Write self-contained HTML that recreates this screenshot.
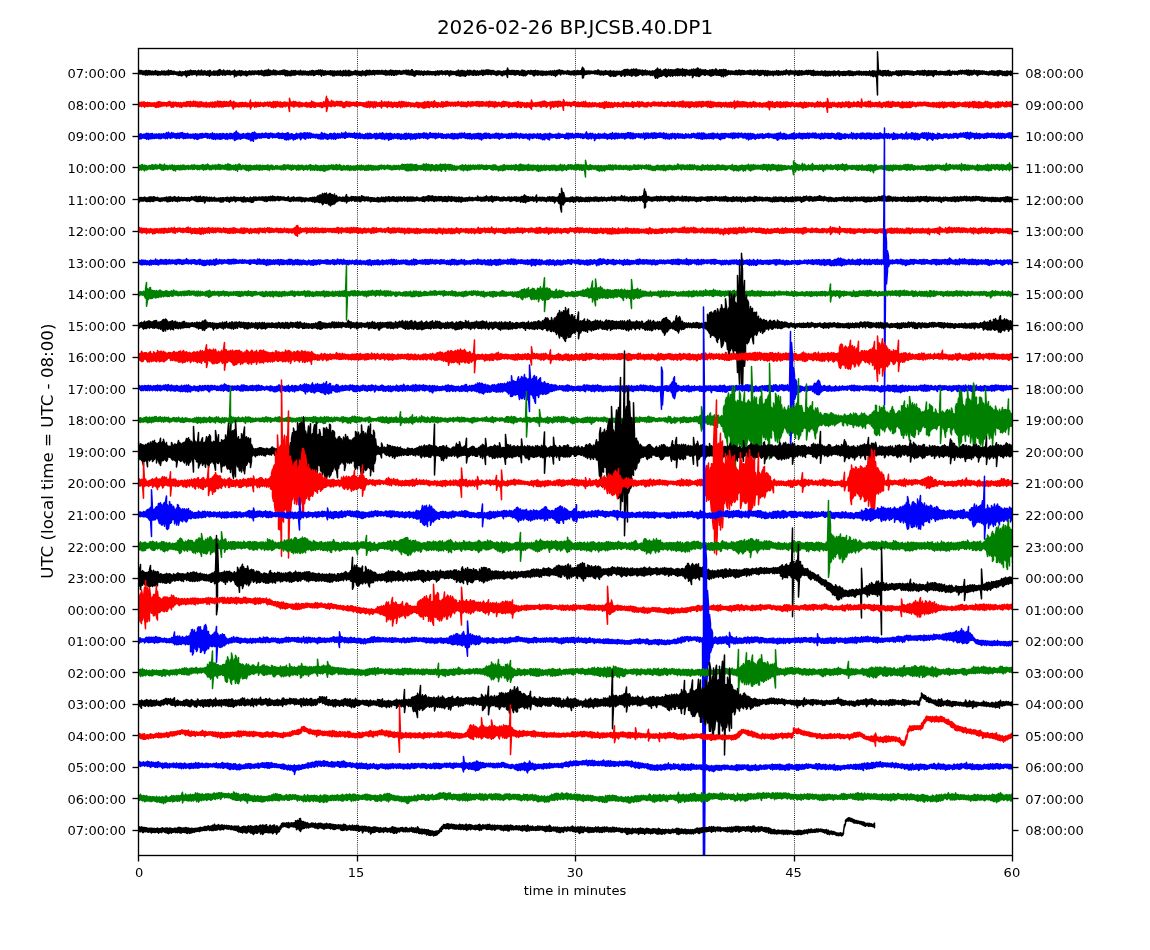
<!DOCTYPE html>
<html lang="en"><head><meta charset="utf-8"><title>2026-02-26 BP.JCSB.40.DP1</title>
<style>html,body{margin:0;padding:0;background:#fff}body{width:1150px;height:950px;overflow:hidden}svg{display:block;will-change:transform}text{font-family:"DejaVu Sans","Liberation Sans",sans-serif;fill:#000}.tk{font-size:13.05px}.tr{fill:none;stroke-width:1.5;stroke-linejoin:round;stroke-linecap:round}.ln{stroke:#000;stroke-width:1.35}</style></head><body>
<svg width="1150" height="950" viewBox="0 0 1150 950">
<rect width="1150" height="950" fill="#fff"/>
<line x1="357.5" x2="357.5" y1="48.5" y2="855.5" stroke="#000" stroke-width="0.9" stroke-dasharray="0.9 1.2"/>
<line x1="575.5" x2="575.5" y1="48.5" y2="855.5" stroke="#000" stroke-width="0.9" stroke-dasharray="0.9 1.2"/>
<line x1="794.5" x2="794.5" y1="48.5" y2="855.5" stroke="#000" stroke-width="0.9" stroke-dasharray="0.9 1.2"/>
<clipPath id="ax"><rect x="138.5" y="48.5" width="874.0" height="807.0"/></clipPath>
<g clip-path="url(#ax)">
<path class="tr" stroke="#000000" d="M138.5,70.3v4.1l1-.7v-3.1l1-.1v3.6l1-.3v-3.2l1 .6v3.2l1 .2v-3.6l1 .3v2.9l1 .9v-4.4l1-.3v4.4l1 .3v-4.1l1-.4v3.7l1 .4v-3.9l1 .1v3.6l1 .3v-3.3l1-.4v3.4l1 .3v-3.1l1-.4v3.3l1-.2v-3.8l1 1v2.9l1 .7v-4l1 .2v3.7l1-.6v-2.9l1 .3v3l1-.3v-3.5l1 .2v3.3l1 .1v-3.4l1-.2v3.7l1 .3v-3.4l1-.6v3.5l1 .1v-3.2l1-1.4v4.9l1-.4v-3.5l1-.5v3.7l1 0v-3.6l1 .9v2.6l1 .2v-3.1l1 0v2.8l1 .2v-2.2l1-.1v2.7l1 0v-2.6l1 .1v3.2l1-.1v-4.1l1 .7v3.5l1 .5v-3.8l1-.3v3.6l1-.9v-2.6l1-.1v2.9l1 .7v-4.4l1 .6v5.3l1-2.1v-3.7l1 0v4.2l1 0v-4.3l1-.8v4.3l1 .3v-4.2l1 .3v3.8l1-.4v-3.6l1 .3v3.4l1-.3v-3.4l1 .8v4.2l1-1.3v-3.1l1-.9v4.3l1 0v-3.7l1-.1v4.2l1-.7v-4.3l1 1.6v3.4l1-.2v-3.8l1-.3v3.6l1 .4v-3.7l1 .7v3.5l1-.2v-4l1 .1v3.6l1 1.5v-5.9l1 .4v4.5l1-.4v-3l1 0v2.8l1 .2v-3.8l1 .1v4l1-.1v-3.9l1 .1v3.1l1 1v-4.3l1-.8v4.7l1 .2v-5.6l1 .4v4.5l1-.2v-3.4l1 0v4.3l1-.9v-4.3l1 1.1v3.9l1 .1v-3.8l1-.3v3.6l1-.3v-3.8l1 .6v3.4l1 0v-4l1 1.1v3.4l1-.8v-2.8l1-.3v3l1 .5v-3.2l1-1.2v6.7l1-2v-3.8l1 .5v4.3l1-1.1v-3.6l1 0v3.9l1-.2v-4.3l1 .8v4.3l1-.4v-4.5l1 .3v3.6l1 0v-3.1l1 .2v3l1 .4v-4.1l1 .3v4.5l1-.5v-3.5l1-.5v3l1 0v-3.6l1 .6v3.4l1 0v-3.6l1-.1v3l1 .5v-3.3l1-.3v3.4l1-.8v-2.6l1 .5v2.7l1-.1v-3.1l1-.2v4l1-.3v-3.4l1 0v3l1 .8v-4.6l1 .8v3.6l1 .9v-4.3l1-.7v5.1l1-.4v-4.9l1-.2v5l1 .3v-5l1-1.1v5.9l1 0v-4.9l1 .2v4.3l1-.3v-3.7l1 .2v3.4l1-.1v-4.4l1 .6v4.1l1 0v-4.3l1 .8v3.6l1-.8v-2.8l1 .2v2.8l1 .3v-3.6l1 .2v3.4l1-.5v-3.2l1-.4v4l1-.1v-4.1l1-.1v4.7l1 .9v-5.2l1 .2v4.4l1 .7v-5l1 .5v3.9l1 .3v-4.1l1-.1v4.4l1-.4v-4.7l1 .7v3.6l1 .1v-4.4l1 .3v4.1l1 0v-4.4l1 .8v2.8l1-.4v-2.4l1-.4v3.6l1 .2v-3.4l1-1.1v4.2l1 .2v-3.4l1 0v3.7l1-.4v-3.5l1 .1v3.6l1-.2v-3.5l1 .5v3.3l1-.1v-3.3l1 .2v3.5l1-.6v-3.7l1 .6v3.2l1 .3v-4.2l1-.2v3.9l1 .9v-4.7l1 .6v4l1-.8v-3.5l1-.4v3.6l1 0v-3.1l1-1v4.6l1-.3v-3.8l1-.6v4.6l1 1.5v-5.2l1-.7v3.9l1 1.1v-4.2l1 0v4.1l1-.5v-3.9l1 .9v3.1l1-.5v-3l1 0v3.2l1-.2v-2.9l1-.6v4.3l1-.2v-3.8l1 .1v4.6l1 .1v-4.5l1-.2v4.7l1-1.3v-3l1-.3v4.1l1-.2v-4l1 .1v3.8l1-.1v-3.6l1-.7v4.8l1-.2v-3.6l1-.4v4.8l1-.9v-4.6l1 1v3.7l1 .3v-5.2l1 .9v4.5l1-.6v-3.8l1-.9v5.3l1 0v-5.2l1 1.3v3.6l1-.6v-3.3l1 .4v3.1l1-.8v-2.6l1-.5v3.5l1 0v-4l1 .6v3.8l1-.2v-3.9l1 .8v3.4l1 .1v-3.6l1 0v3.7l1 .5v-4.2l1-.8v3.7l1 .5v-3.4l1-.1v3.1l1 1.1v-4.6l1-.7v4.8l1-.6v-4.2l1 .5v3.8l1 0v-4.5l1 .7v3.6l1-.1v-3.2l1-.5v3.8l1-.4v-3.5l1 .2v4.1l1-1.1v-3l1 0v3.1l1 .4v-3.7l1 .1v3.3l1 0v-3.4l1 .5v2.9l1-.1v-3.4l1-.1v3.6l1 .3v-3.3l1-.1v3.5l1 .6v-4.8l1 .9v3.9l1-.3v-3.8l1 0v3.7l1 .4v-4.2l1-.8v4.1l1 1v-4.5l1-.2v3.9l1 1v-4.6l1 .2v4.4l1-1.1v-3.8l1 .6v3.9l1-.7v-3.4l1 .2v2.9l1-.1v-3.2l1 .5v3.2l1 0v-3.1l1-.1v3l1-.5v-3.1l1 .5v2.8l1 0v-3.3l1-.3v4.3l1 0v-3.8l1-.5v4.3l1 .5v-4.1l1 .2v3.7l1 .2v-5.3l1 .3v5l1 .7v-4.5l1 .4v4.6l1-.6v-4.7l1-.2v3.9l1-.6v-2.9l1 0v3.6l1-.1v-3.6l1 .5v3.5l1-1v-2.9l1 1v2.7l1 .6v-3.9l1-.4v3.5l1 0v-2.9l1-.3v3.4l1-.3v-3.5l1 .3v3.2l1 .2v-3.1l1 0v2.8l1 .4v-3.1l1 .1v2.9l1-.3v-2.7l1 .1v3.1l1 .5v-4.2l1 .6v2.9l1-.2v-3.8l1 1.1v3.2l1-.5v-3.5l1 .3v2.8l1-.1v-3.2l1 .4v3.5l1-.8v-2.2l1-.5v3l1 .6v-3.8l1-.1v3.4l1-.3v-3.3l1 .8v3.1l1 1.4v-4.6l1-.6v4l1-.1v-3.5l1 .2v2.9l1 .1v-2.9l1 .5v2.3l1 .4v-3l1-.6v4.4l1-.2v-4l1-1.2v5.4l1 .4v-4.6l1-.4v5.3l1-.6v-5.2l1 .1v5.1l1 .1v-4.7l1-.1v5.2l1 .1v-4.7l1-.3v4.1l1-.9v-4.2l1 .6v4.1l1 .2v-4.5l1-.1v3.9l1 .3v-3.7l1 .5v3.5l1 .3v-4.7l1 0v4l1 .5v-4.1l1 .5v3.8l1-1v-3.5l1 1v3.5l1-1.1v-3.3l1 .4v3.3l1-.6v-3.7l1 .2v4.9l1-.3v-4.8l1 .3v4l1-.1v-4.1l1-.6v4l1 .6v-4.3l1 0v4.5l1-.7v-3.6l1 .2v4.1l1 .1v-3.9l1-.2v3.4l1 .2v-3.7l1 .8v3.1l1 .5v-3.3l1 0v3.9l1-.9v-3.5l1 0v3.6l1-.6v-3.2l1 .5v2.9l1 1.2v-4l1 .2v4.1l1-1.5v-3.4l1 .4v3.5l1-.5v-3.2l1-.9v3.9l1 3.3v-9.3l1 2.8v3.2l1 .1v-3.8l1 .6v3.5l1 0v-4l1-.1v3.8l1 .2v-4l1 .3v4.3l1-.1v-4l1-.3v3.9l1-.4v-3.3l1 0v3.3l1 1v-3.8l1 .1v3.5l1 .3v-5l1 .1v5l1 .5v-5.2l1 .1v4.5l1 .4v-4.3l1 .2v3.4l1-.8v-3.2l1-.2v2.9l1 .3v-2.7l1-.7v3.8l1-.4v-3.3l1 .4v3.4l1 1.2v-4.9l1 0v5l1-1.1v-4.4l1 1v3.5l1 .5v-4.5l1 .2v4l1-.5v-3.1l1-.1v3.9l1 0v-4.1l1 .4v4.2l1-.7v-3.6l1 .1v3.2l1 .6v-3.5l1-.4v3.6l1-.1v-3.2l1-.3v3.3l1 .2v-3.3l1-.6v3.5l1 .8v-3.9l1-.5v3.7l1 .8v-3.7l1-1.1v4.1l1 1.9v-4.9l1-1.1v4.8l1-.6v-4.3l1-.1v3.4l1 0v-4l1 1.3v3.9l1-1.2v-3.3l1 .3v2.9l1 .6v-3.3l1 .5v2.4l1-.3v-2.2l1 .2v2.7l1-.6v-3l1 .6v3l1 .3v-3.4l1 .5v3.1l1 .1v-3.5l1-.1v2.9l1 .8v-3.9l1-.2v4.3l1-.7v-3.2l1-.1v3.6l1-.3v-3.9l1 .4v3.7l1-.3v-3.3l1-.2v3.5l1 .1v-4l1-3.1v10.8l1-.6v-9.3l1 2.8v3.9l1-.6v-3.1l1-.2v3.2l1-.1v-3.1l1 .1v2.6l1 .2v-3l1 .4v2.5l1-.5v-2.2l1 .3v2l1-.1v-2.1l1-.1v2.9l1-.3v-3l1 .4v2.9l1 .2v-4l1-.2v3.7l1 .9v-3.6l1 .5v3.6l1-.5v-3.7l1 .7v3l1 .6v-3.9l1 0v3.2l1 0v-3.9l1 .5v3.1l1 0v-2.9l1 0v3.4l1 1.1v-4.7l1-.5v5.8l1-.5v-4.4l1-.2v4.1l1 .8v-5.3l1 .6v4.5l1 .2v-4.7l1-.2v4.1l1-1v-3.1l1 .1v3l1-.1v-3.1l1 .4v4.1l1 .4v-4.9l1-.3v4.1l1-.2v-4.7l1-.5v6.7l1-.6v-6l1-.1v5.1l1 .5v-6l1 .9v4.6l1 .6v-5l1-.3v4.7l1 1.4v-6.8l1 .6v5.8l1-1v-5.8l1 .9v5.1l1 1.1v-6.6l1-.4v6.9l1-.3v-5.7l1 0v5.3l1-.9v-4.4l1 .3v3.7l1 .9v-3.7l1-1v5.3l1-.8v-3.8l1 0v4l1-.2v-4.7l1 1.9v3.3l1-.9v-3.4l1 .7v3l1 .3v-3.8l1 .5v3.9l1-.6v-3.4l1-.6v4.6l1-.9v-3.4l1-.3v5.2l1 2.3v-8.2l1-.7v8.1l1 .7v-10.2l1 2v7l1-.4v-6.9l1-.4v6.9l1 0v-5.2l1 0v4.5l1-.5v-5.1l1-.3v5.7l1 1v-7.3l1 1.1v6.9l1-.8v-5.4l1-1.4v5.7l1 .5v-5.2l1-.7v6.5l1-1.5v-5l1 .3v6.3l1-1v-5.3l1-.1v5l1 .9v-6.1l1-.5v5.8l1 .7v-7l1 .7v5.8l1 .2v-6.2l1 .3v5.5l1 .1v-4.8l1-1.7v7.4l1-1.1v-5.2l1-.3v6.3l1 .2v-5.9l1-.5v5l1 .2v-4.5l1 .4v4.2l1 .7v-5.6l1 .5v4.7l1 0v-5.8l1 .7v7.7l1-2v-6.8l1 1v5.2l1 .5v-6.2l1-.4v7.1l1-.3v-7.8l1 .6v7.6l1 .2v-6.5l1-.8v6.5l1-1.2v-4.3l1-.1v4.2l1 .4v-4.7l1 .2v5.1l1 0v-5.4l1 .8v3.4l1 .7v-4.1l1 .3v3.8l1 .7v-5.4l1 .2v5.9l1-.2v-6l1-.3v5.8l1-.2v-5.1l1 .2v4.4l1 .1v-5.8l1 .5v5.8l1-.2v-4.7l1 .4v4.5l1 0v-5.6l1 .3v5.1l1 1.4v-6.8l1 .7v4.6l1 1.8v-7.5l1 .5v5.1l1 1v-6.4l1 .9v4.7l1-.1v-3.9l1-.5v3.6l1-.1v-2.9l1-.1v3.6l1-.7v-3l1 .2v3.1l1-.1v-3l1 .3v3l1 .1v-3.8l1-.3v3.9l1 .5v-3.9l1-.7v3.7l1 .5v-4.4l1 1v3.9l1-.4v-4.2l1 .1v3.7l1 .2v-3.7l1 0v3.6l1-.3v-2.6l1-.1v2.6l1 0v-3.1l1 .2v3l1 .5v-4.1l1-.2v4.1l1 .1v-3.8l1 .6v3.9l1-.5v-4.2l1-.1v4.6l1-.6v-3.7l1 .5v3l1 .4v-4.4l1 .7v4.1l1 .6v-4.6l1-.4v4.8l1-.5v-4l1-.3v3.6l1 .2v-3.8l1 .9v4.3l1-.9v-4.3l1 1.3v3.5l1 .4v-5l1 .3v3.8l1 .3v-3.7l1-.1v3.6l1-.1v-3.2l1-.3v3.6l1 .9v-4.3l1-.2v3l1 .5v-2.9l1-1.3v3.8l1 .6v-3.5l1-.8v4.5l1-.4v-3.5l1 .1v3.7l1-1.1v-2.7l1 .2v3.4l1-.3v-3.7l1 0v3.2l1 .5v-3.8l1-.9v3.9l1 0v-2.7l1-.1v3.7l1 .2v-3.7l1-.8v3.7l1-.1v-2.9l1-.1v3.1l1-.1v-2.9l1 .3v4.1l1-1v-3.9l1 .8v2.9l1 .9v-4.3l1 .1v4.3l1-.3v-4.4l1 .6v3.3l1 .5v-4.2l1 .2v3.7l1-.3v-2.9l1-.3v3.3l1-.5v-3.1l1-.5v3.8l1 .5v-3.8l1-.5v3.8l1-.3v-3.1l1-.3v4.1l1 .5v-4.2l1-.2v4.4l1 .5v-5.3l1 .9v3.8l1 .2v-3.8l1 .1v3.4l1 .2v-3.8l1 .4v3.2l1 .2v-3.3l1-.2v3.6l1-.3v-4l1 .5v3.6l1 .6v-3.6l1-1v3.9l1 1v-5l1 1v3.6l1 .2v-4.2l1-.1v4.3l1-.8v-3.6l1 .3v4.1l1-.9v-3.2l1-.2v3.1l1 1.4v-4.6l1-.2v3.3l1 1.1v-4.1l1 .4v2.9l1-.1v-3.3l1-.5v4.1l1 1.2v-4.8l1 .5v3.3l1-.6v-2.8l1 .1v3.8l1-.3v-3.9l1 0v3.8l1 .2v-3.7l1-.2v3.6l1-.3v-3.4l1-.5v4l1 .6v-4.4l1 0v4.1l1 .1v-3.8l1 0v3.9l1 0v-3.3l1-.3v2.8l1 .5v-3l1-.8v3.3l1-.1v-3l1-.2v3.4l1 .2v-3.8l1 .7v2.8l1 .5v-3.6l1 .6v2.4l1 .5v-3.4l1 .1v3l1 .5v-3.7l1-.1v3.9l1-.7v-2.9l1 .2v3.3l1-.3v-4.2l1 1.2v3.9l1-.2v-4.1l1-.7v5.2l1 .6v-5.6l1 .1v4l1 1.4v-5l1-.2v4l1 19.7v-43.3l1 19.9v3.2l1-.2v-4.1l1-.1v4.6l1 .3v-3.6l1-.9v5.2l1-.5v-4.7l1 0v4l1 .6v-4.8l1 .3v4.9l1-1v-4.1l1-.1v5.1l1 0v-3.9l1-.3v3.7l1 .7v-3.6l1-.5v2.9l1-.1v-2.5l1-.2v2.6l1-.2v-2.6l1-.8v4l1 .4v-4.1l1-.2v4.7l1-.3v-4l1-.7v4.3l1 .7v-4.2l1-.6v3.8l1-.4v-3.3l1-.2v4.3l1-.7v-3.3l1 0v3.1l1 .1v-3.6l1 .4v3.2l1 .5v-3.7l1 .1v3.4l1 .3v-3.6l1 0v3.5l1 .5v-3.5l1 0v2.9l1-.3v-2.6l1-.6v3.5l1-.5v-3.4l1 .1v3.2l1 .8v-4l1 .1v3.8l1-.1v-3.7l1-.4v4.1l1 .6v-4.2l1-.7v4.6l1-.8v-3.5l1 .7v4.4l1-.5v-4.1l1-.7v4.9l1-.4v-3.9l1 0v4l1-.4v-3.9l1 .3v4.3l1 1v-5.4l1-.3v4.3l1-.9v-3.3l1 0v4l1-.6v-2.3l1-.3v3.1l1 .1v-3.4l1-.2v3.4l1-.2v-2.9l1-.1v2.8l1 .5v-3l1-.2v3.3l1 .3v-3.6l1 0v3.3l1 .3v-4.1l1-.4v3.6l1 1.1v-5.1l1 1.8v3.2l1-.2v-3.4l1-.5v3l1-.3v-2.1l1-.4v3.3l1-.3v-2.8l1 0v2.7l1 .7v-3.1l1-1v3.2l1-.1v-3l1-.5v2.9l1 .8v-3.3l1-.4v2.8l1 .4v-2.6l1-.4v3.5l1 0v-3.1l1-.9v3.9l1 .9v-4.2l1-.7v4.8l1 .6v-4.4l1-.5v3.8l1 .6v-4.4l1 .9v3.3l1-.6v-3.7l1-.2v3.4l1 .6v-3l1-.6v3.8l1 1.3v-4.7l1-.3v4.1l1-.5v-3.5l1 .2v3.2l1-.4v-2.5l1-.4v3.5l1-.5v-2.7l1 0v2.9l1 .1v-2.4l1-.3v2.9l1 0v-2.4l1 .1v2.9l1-.5v-3.2l1 .4v2.8l1 0v-3.8l1 .3v3.8l1 .1v-3.9l1 .2v4.1l1-.2v-3.6l1-.2v3.3l1 1.1v-4.9l1 .2v4.5l1-1v-4.1l1 .5v3.4l1 .2v-3.5l1 .5v3.9l1-.3v-3.3l1-.2v3.8l1 0v-3.5l1-.8v4.4l1 0v-4.4l1 .3v3.2l1-.3v-2.6l1-.7v4.4l1-.3v-3.6l1 .3v2.9"/>
<path class="tr" stroke="#ff0000" d="M138.5,102.1v4.1l1 0v-3.7l1-.1v3.2l1 1.1v-4.4l1-.1v3.9l1 .2v-4.3l1-.1v5.3l1-1.2v-3.3l1 0v3.6l1 .2v-4.2l1 .5v3.4l1-.1v-3.5l1 .3v3.4l1-.1v-3.1l1-.1v3l1 .2v-3.2l1-.2v3.6l1 .8v-3.9l1-.8v4.9l1-.4v-4.9l1-.3v5.4l1-.5v-5l1 .6v4.2l1-.5v-3.7l1 .3v3.5l1-.4v-3.2l1-.1v3.3l1-.4v-2.5l1-.1v3.7l1-.8v-3.3l1-.5v3.9l1-.1v-4.2l1 .9v3.7l1 1.2v-4.7l1 0v4.4l1 .2v-5.1l1 .8v3.1l1-.1v-3.6l1 .4v4l1-.1v-3.6l1-.4v3.1l1 1.4v-3.8l1-.7v4.2l1 .7v-4.3l1 0v3.6l1-.7v-3.4l1-.1v3.6l1 .4v-3.6l1-1v4.7l1-.6v-4.2l1-.1v3.7l1 1.1v-4.6l1-.6v5.4l1-.7v-3.8l1-.3v4.4l1-.1v-5.1l1 1v3.7l1 .7v-4.9l1 .6v4l1 .6v-4.9l1 .6v4.5l1-.3v-4.8l1 .1v4.8l1-.6v-4.4l1 .9v3.4l1 .7v-4.2l1 .5v3.5l1 .3v-4.5l1-.1v4.8l1-.3v-3.5l1-.4v3.8l1 .5v-4.2l1-.7v4.1l1 .4v-4l1-.8v5.3l1-.8v-3.7l1-.6v5.1l1-.6v-4.9l1 .5v4.5l1-1.1v-4.7l1 .6v5.3l1-.2v-5.2l1 .1v5l1 .4v-5.2l1 .3v4.5l1 .4v-5.3l1-.1v4.7l1-.1v-4l1-.5v4.6l1-.4v-3.7l1-.3v4.6l1-.4v-4.3l1-1.2v5.1l1 .3v-4.1l1 .5v4.9l1 1.7v-7.8l1 1.2v4.3l1 .3v-4.6l1 .5v3.6l1 .1v-3.4l1-.3v4.1l1-.2v-4.1l1 0v3.5l1 .7v-4.4l1 .1v3.7l1 .1v-3.6l1 .2v3.6l1-.5v-3.8l1 .8v3.6l1 0v-3.6l1 .4v2.9l1 .4v-3.6l1-3.1v8.8l1-2.8v-3.3l1-.1v3.4l1-.1v-3.3l1 .3v4.2l1-.8v-4.3l1 .8v4l1-.9v-3.5l1 0v4.1l1-.3v-3.2l1-.7v3.8l1-.5v-2.7l1-.1v3.2l1 .5v-3.3l1-1.1v3.8l1 0v-3.2l1-.3v3.1l1 .1v-3.6l1 .5v3.8l1-.8v-3.7l1 .5v4l1 .8v-4.6l1-.3v4.5l1 .8v-6.1l1 .6v4.1l1 1.2v-5.6l1 .4v4.4l1 0v-5l1 1.1v3.1l1 1v-4.6l1-.3v5.2l1-.6v-4.1l1 .6v4.2l1-.7v-4l1-.5v4l1 .7v-4.5l1 .3v3.5l1-.2v-3.3l1 .6v3.1l1 5.4v-13.3l1 4.5v3l1 .2v-4l1 .2v3.5l1 1.2v-5.6l1 .7v4.7l1-.9v-4.3l1 1.1v3.4l1-.1v-3.3l1-.2v4.4l1 .2v-4.9l1 .5v4l1-.2v-3.6l1 .2v3.4l1-.5v-2.6l1 0v2.9l1 0v-3.4l1-.4v4.6l1-.1v-3.9l1 .1v3.2l1 .6v-4.2l1 .1v4.5l1-.1v-6.1l1 1v4.2l1 .7v-5.1l1 .7v4.7l1 0v-4.2l1-.2v3.2l1 .2v-3.4l1 0v3.3l1 .4v-3.7l1-.3v3.9l1 .9v-4.6l1 .4v4.2l1-1.1v-4.6l1 .8v3.9l1 .2v-4.9l1-5.4v15.3l1-4.1v-8.8l1 3.3v3.9l1 .1v-4l1-.1v4.5l1 0v-6.1l1 1.5v4l1-.1v-4.4l1 1.1v4.2l1-.9v-3.4l1-.9v3.8l1 .6v-4.3l1 .3v3.5l1 .6v-4.1l1-.3v4.6l1-.2v-4.4l1 .7v4.7l1 .6v-4.5l1-.3v4.7l1-.8v-4.6l1-.5v4.5l1 .1v-4l1-.1v4.2l1 .4v-4.6l1 .2v3.7l1-.1v-3.4l1 .4v2.7l1-.2v-3.1l1 .5v3.3l1-.3v-2.7l1-1.3v4.5l1 .2v-3.4l1-.3v2.6l1 .2v-3l1-.1v2.9l1 .3v-2.9l1 .3v2.8l1 .7v-3.8l1 .3v3.8l1-.1v-3.7l1-1v5.3l1-.1v-4.7l1-1.1v4.7l1 1.6v-5.6l1-.4v5.2l1-.4v-4.4l1-.2v4.9l1 .9v-5.2l1-.8v4.8l1 .9v-5.1l1-.2v3.7l1 .6v-3.4l1-.3v3.4l1 .2v-3.9l1 .3v3.5l1 1.8v-7.3l1 2.1v3.6l1-.4v-3.7l1-.5v4.2l1 .2v-3.9l1-.3v4.4l1 1.1v-4.5l1-1.5v4.8l1-.1v-3.7l1-.2v4.4l1 .1v-4.8l1 1.3v4.3l1-.8v-4l1-.6v3.9l1 .5v-3.9l1-.1v4.4l1 .3v-4.7l1-.5v4.6l1-.8v-4.4l1 1v5.2l1-1.4v-4.9l1 .6v5l1-1.2v-4l1 .4v4.5l1-.6v-3.7l1-.3v4.6l1-.4v-3.1l1-1v4l1-.5v-2.7l1-.2v4.2l1-.6v-3.2l1-.2v3.2l1 .3v-3.3l1 .2v3.5l1-.6v-2.9l1-1v3.7l1 1.2v-5l1 .5v5l1-.8v-4.3l1 .4v3.7l1 .2v-4.1l1-.2v5.1l1 .1v-5.1l1-.9v6.1l1-.2v-5.9l1 .8v4.5l1-.1v-5.6l1 .2v5.6l1 .4v-5.6l1 .3v4.2l1-.6v-4.2l1 .7v4.1l1 .8v-5.8l1-.8v5.7l1 0v-4.3l1 .4v4.5l1 .2v-4.3l1-.5v3.9l1-.1v-3.1l1 0v3.8l1-.9v-4.4l1 .5v5l1-.3v-4.8l1 .7v3.5l1-.1v-4.2l1-.3v4.6l1-.4v-4.3l1 1.1v3.2l1-.3v-3.4l1 .2v3.9l1-.8v-3l1-.2v3.2l1 .6v-3.1l1-.8v3.2l1 .8v-4l1 .5v2.8l1 .3v-3.8l1-.5v4l1 0v-3.1l1 .1v3.6l1 .5v-4.8l1 .6v3.6l1 .4v-4.3l1 .3v3.9l1 .3v-4.3l1 .6v4.2l1-1v-4.1l1-.5v4.2l1 .1v-3.1l1-.7v4.7l1-.9v-3.8l1-.2v4.3l1-.4v-3.8l1 .4v2.9l1 .4v-3.7l1-.2v4.2l1-.1v-4.4l1 .7v4.1l1 .5v-5l1 .3v4.1l1-.1v-4.3l1 .1v4.5l1-.6v-3.7l1 .5v3.3l1 .2v-3.5l1-.8v4.3l1-.2v-3.5l1-.6v5.3l1-.5v-5.3l1 .8v4.3l1-.5v-3.9l1-.1v4.8l1-.1v-4.2l1-.3v5.4l1-1v-4.6l1 .8v3.8l1 0v-3.5l1-.7v3.5l1 .2v-3.4l1 .6v2.9l1 1.1v-4.6l1-.6v4.7l1 0v-5.4l1 .7v4.6l1-.9v-3.9l1 .3v3.9l1-.2v-3.5l1 0v5.2l1-.4v-4.7l1 .6v3.4l1 .1v-3.3l1-.3v3.9l1-.9v-3.2l1-.2v4.1l1-.7v-3.6l1 .5v4.3l1 .3v-5.6l1-.1v5l1 .3v-3.9l1-.6v5.1l1-.3v-4.6l1-.1v3.5l1 0v-2.9l1-.4v4.5l1-.4v-3.1l1-1v4.7l1-.9v-3.8l1 .4v3.3l1 .9v-4.2l1-.6v5l1 1.7v-9.3l1 3.4v3.2l1-.7v-2.7l1-.2v3.2l1 .3v-3.6l1 .2v3.4l1-.4v-3.5l1 0v3.6l1-.1v-3.7l1-.2v4.8l1 .2v-4.9l1-.8v4.6l1 .3v-4.8l1-.5v4.9l1 .6v-4.8l1 .7v4.8l1-1v-3.7l1 .2v2.9l1 .1v-3.3l1-.6v7.3l1-2.6v-4.2l1-.7v4.5l1 1v-4.9l1-.4v4.9l1-.4v-4.8l1 .3v4l1 1.3v-5.6l1-.3v5.6l1-1v-4.3l1 .1v4.7l1-.7v-3.2l1-.4v3.4l1 4.9v-10.8l1 2.5v3.4l1 0v-2.8l1-.5v2.9l1 .8v-3.5l1 .4v2.8l1 0v-3.2l1 .3v3.8l1-.2v-3.5l1-.4v2.7l1 .3v-3.4l1-.4v3.6l1 1.2v-4l1 .4v3.3l1 .5v-4.2l1 0v4.3l1-.1v-3.7l1-.1v3.5l1-.2v-3.9l1 .6v4.1l1-.7v-4.5l1 1.1v4.1l1 0v-5.5l1 2.1v3.1l1 .3v-3.8l1 0v4l1-.2v-4.3l1 .8v3l1 .6v-3.3l1-1.1v4l1 .1v-3.2l1-.6v3.4l1-.3v-3.2l1 .9v3.2l1-.5v-2.8l1 0v2.9l1 .7v-4.4l1 .5v4.1l1-.3v-3.9l1-.5v4.3l1 1v-4.7l1-1.3v6.6l1-1.4v-4.7l1-.7v5.4l1 .1v-3.9l1-.9v4.8l1-.4v-4.3l1 .9v4.1l1-1.5v-3.5l1 .7v4.2l1-.3v-3.4l1-1.3v4l1-.3v-3.1l1 .2v2.5l1 1.3v-4.3l1-.1v3.4l1 .4v-3.1l1 .1v3.3l1-.3v-3.3l1-.5v4.2l1 .4v-5.2l1 .2v3.5l1 .7v-3.1l1-1.1v4.1l1 .3v-3.9l1-.3v4.2l1-.2v-3.2l1 0v3.1l1 .3v-4.1l1-.8v5.3l1 .5v-4.6l1-.7v3.8l1 .3v-3.6l1 .2v3.4l1-.5v-4.3l1 1.4v3.8l1 .3v-5.3l1 1.1v3.6l1-.3v-4.2l1 .1v3.9l1 .6v-3.8l1 .5v3.5l1 0v-3.5l1-.4v4.2l1-.5v-4l1-.2v3.5l1 0v-2.6l1-.2v3.6l1-.1v-3.6l1-.5v3.3l1-.5v-3.1l1-.1v4.1l1-.8v-3.1l1 .5v3l1 0v-3.3l1-.1v3.8l1 0v-3.6l1-.1v3.8l1-.7v-3.7l1 .7v3.6l1-.4v-3l1 .1v3.6l1-.2v-3.2l1-.3v3.7l1-.8v-3.6l1-.1v3.6l1 .8v-3.5l1-.1v3l1 .4v-4.3l1 .2v4.2l1 .1v-4.3l1-.4v5.2l1-.2v-4l1 .1v3.4l1-.4v-3.6l1 .5v3.9l1 .2v-5l1 0v4.3l1 .6v-4.6l1-1v5.9l1 0v-5.7l1 1.2v3.7l1 1.2v-5.1l1-.3v4.7l1 0v-4.5l1-.1v5.2l1 .4v-5.6l1 0v5.3l1-.9v-4.4l1 .1v4l1 .5v-3.8l1-.2v4.3l1-.3v-4.7l1 0v5.3l1-.5v-4.7l1-.1v4.9l1-1.1v-4.1l1 .5v4.3l1 .9v-5.3l1-.5v4.7l1 .2v-4.7l1 .6v3.3l1 .5v-4.2l1-.3v4.2l1 1.2v-5.6l1 0v4.9l1 1v-4.7l1-1.3v6l1 .2v-5.4l1 0v4.4l1 .4v-5l1 .7v3.3l1 .5v-3.9l1 .4v3.9l1-.3v-3.9l1-.3v4.2l1 0v-3.9l1 0v4.2l1 .4v-4.5l1 .5v3l1-.1v-3.6l1 .8v3.6l1-.8v-3.8l1 .4v4.1l1 .2v-3.6l1-.7v3.8l1 .6v-4.3l1-.6v3.9l1 1v-4.6l1 .3v4.1l1-.7v-3.8l1-1.6v7.8l1-1.5v-4.7l1-.6v5.1l1-.1v-5.8l1 .8v4.7l1 .4v-4.8l1-.1v4.5l1 .3v-4.9l1-.1v5.1l1-.7v-4.4l1 .2v4.8l1-.4v-4.2l1 0v4.3l1 1v-4.9l1 .3v3.6l1 .3v-4.1l1-.5v4.7l1 .3v-4.2l1-.6v4.2l1-.8v-4.4l1 1.1v4.6l1-.7v-4.1l1 .7v4.1l1-1.1v-2.9l1 .1v3l1 .8v-4.3l1 .2v3.5l1 .5v-3.4l1 .1v3.6l1-.8v-3.4l1 .2v3.3l1 .3v-3.9l1-.3v4.1l1 .4v-4.2l1-1.5v4.7l1 3.7v-7.8l1-.3v5.2l1-.3v-4l1-1v5.3l1 0v-4l1-.1v4.7l1-.3v-4.5l1-.7v3.9l1 .9v-5l1 .9v3.6l1 1v-5l1-.4v5.7l1-.9v-4.3l1 .8v3.8l1 0v-5.1l1 .9v3.6l1 1.1v-5.4l1 .2v4.1l1 .2v-4.7l1 .9v3.8l1-.5v-3.3l1 0v4.1l1-.9v-3.8l1 .3v3.2l1 .5v-3.1l1-.1v3.3l1 .2v-3.2l1-.4v3.1l1 .6v-3.4l1-.3v3.9l1-.2v-3.8l1-.6v4.3l1 .7v-4.4l1 .1v4.9l1 .3v-4.8l1-1.3v5l1 .2v-4.4l1-.2v4.6l1-.6v-3.5l1-.5v4.1l1-.8v-3.2l1 .5v2.7l1 .9v-3.8l1-.4v3.7l1-.4v-2.6l1 0v3.9l1-.4v-3.5l1-.7v3.9l1 .2v-5.3l1 1.3v3.9l1 .2v-4.3l1-.5v4.2l1 .2v-3.6l1 .6v2.9l1 .8v-4.7l1 .5v3.7l1-.5v-3.8l1-.1v4.7l1 5.4v-13.8l1 4.3v4.5l1 .2v-4.4l1-.6v4.7l1 .5v-4.2l1-1.1v3.7l1 .3v-3.1l1-.9v3.5l1 .9v-3.4l1-.3v3l1 1.2v-4l1-.9v4.4l1-.5v-3.5l1 0v4.8l1-.3v-4.1l1-1.1v4.7l1-.4v-3.7l1 .8v3.5l1-.6v-4.3l1-.2v4.1l1 .6v-3.7l1-1v5.5l1 .1v-5.6l1 1.2v4.2l1-1.1v-3.4l1 .3v3.6l1-.4v-4.4l1 .4v4.1l1-.3v-2.9l1-.7v4.2l1-.2v-4.8l1 .1v4.6l1 .5v-4l1-.4v4.3l1 .6v-8.3l1 3.8v3.1l1 0v-3l1-.7v3.8l1 .3v-4.3l1 .2v4.5l1-.6v-3.9l1-1v5.6l1-.3v-4.8l1-.7v6.1l1-.7v-3.6l1-.4v4.1l1-.6v-2.9l1-.4v4l1-.9v-3.3l1 .3v3.7l1 .3v-4.1l1-.3v4.1l1 .2v-4.9l1 1.1v3.8l1 .8v-4l1-.5v4.4l1-1.5v-3.4l1-.1v3.5l1 1.2v-4.5l1-.9v4.3l1 .8v-4.7l1-.7v5.5l1 .4v-4.6l1-.6v5.2l1 0v-4.8l1-1v5.2l1-.5v-4.2l1 .3v3.5l1 .7v-4l1-.1v3.6l1 .3v-4.1l1-.1v3.6l1 1v-4.1l1 .4v4.4l1 0v-4.6l1-1.2v6.3l1-.3v-5.2l1-.2v5.1l1-.5v-3.6l1-1.1v5.5l1-.4v-4.6l1-.2v4.9l1 .1v-5.6l1 .4v5.4l1-.9v-4.3l1-.5v4.3l1-.3v-3.4l1 0v3.4l1 .7v-3.7l1 0v3.5l1-1.1v-3.1l1 .4v3.4l1-.6v-3.2l1 0v3.5l1 .1v-3.2l1 0v3.2l1-.4v-3l1-.4v3.3l1 .3v-3.4l1 .4v3.5l1-.1v-3.5l1 0v3.7l1 .1v-3.3l1-.1v3.5l1 .2v-3.1l1-.9v4.1l1 .5v-4.4l1-.1v3.8l1 .3v-3.5l1-.7v4.7l1-.7v-3.4l1-.6v4.6l1 .4v-5.3l1 .4v4.2l1-.1v-4.1l1-.8v4.8l1 1.2v-4.6l1-1.2v5.4l1-.7v-4.2l1 .1v4.3l1-.6v-3.7l1-.1v3.4l1 .1v-3.4l1-.4v4.6l1-.5v-4.1l1 .2v4.3l1 .7v-5.6l1 .5v5.2l1-.7v-4.2l1 .4v3.9l1-.8v-3.7l1 .5v3.6l1-.8v-3.5l1 .7v2.5l1 .5v-2.7l1-.4v3.6l1-.1v-3.7l1-.3v3.7l1 .7v-4.8l1 .9v3.8l1-.8v-3.7l1 .4v4.8l1-.1v-5.4l1 .5v4.4l1 0v-3.8l1-1.4v4.8l1 1.4v-5.8l1-.5v5.4l1 .5v-5.5l1 .6v4.9l1 0v-4.4l1-1.2v6.3l1-.5v-5.8l1 .6v5.2l1 .1v-5.2l1 .4v4.1l1 .6v-4.6l1-.8v4.9l1-.3v-5.5l1 1.2v4l1 .8v-5.7l1 .7v4.6l1 .9v-5.3l1 .1v5.3l1-.1v-4.6l1-.4v3.9l1 .1v-3.6l1-.2v3.1l1 1.6v-5.1l1-.2v4.4l1 .7v-5.4l1-.4v5.8l1-.9v-3.9l1-.5v4.9l1-1.1v-3.3l1-.9v3.6l1 .9v-3.5l1 .1v3.8l1 0v-4.4l1-.7v5.2l1-.5v-4l1-.1v3.9l1 .3v-3.9l1-.8v4.6l1 .6v-4.7l1-.3v3.7"/>
<path class="tr" stroke="#0000ff" d="M138.5,133.7v5.4l1 0v-4.5l1-.8v5l1-.1v-4.7l1 .9v3.2l1 0v-3.9l1 0v4l1 0v-4.3l1-.6v6l1-1.1v-4.7l1 0v6l1-1.2v-4.1l1-.4v5l1-.3v-4.7l1-.3v5.1l1-.3v-3.9l1-.2v4.3l1-.4v-3.8l1-.3v4.2l1-.3v-3.1l1-1v4.6l1 .1v-4.6l1 .3v4.5l1-.4v-4.4l1 .6v3.2l1 .2v-4.3l1 .3v3.9l1 .8v-4.4l1-1.6v5.4l1 .7v-4.8l1-1.7v5.2l1 .3v-4.4l1 .5v4.6l1-.8v-5.1l1 1v4.3l1-.9v-3.9l1 1.1v3.7l1 .3v-4.3l1 0v4.7l1-.5v-4.7l1 .1v4.6l1 .4v-5l1-.6v4.7l1 0v-4.5l1-.5v5.3l1 .8v-5l1 0v4.5l1 .4v-4.8l1 .2v4.2l1-.2v-4.6l1 .9v3.9l1-.6v-3l1-.2v3.9l1-.1v-3.6l1-.3v3.4l1 .9v-4.6l1 .7v4.5l1-1.2v-4.2l1 .5v4.9l1 .3v-5.3l1 .3v4.6l1-.8v-4.2l1-.2v4.3l1-.2v-4.1l1-.3v4.4l1-.5v-3.4l1-.1v3.3l1-.2v-3.7l1 .4v3.6l1 .9v-4.6l1 .3v3.3l1 1.3v-4.2l1-.6v3.8l1 1.1v-4.6l1-1.1v6l1 .4v-5.3l1-.4v4.7l1 1.1v-5.1l1-.5v4.6l1 .5v-5l1 .4v4.3l1 .5v-5.4l1 .1v5.4l1-.4v-4.4l1-.9v5.2l1-.6v-4.5l1 .5v4.1l1 .9v-4.5l1-1v5.2l1 .6v-5.6l1 1.2v3.6l1 0v-5.2l1 0v5.4l1-.6v-4.6l1 .6v4.6l1 0v-5.3l1-.7v7.8l1-1v-7.3l1-1.2v8.3l1-.3v-6.2l1 .4v5.4l1 .1v-4.7l1 .4v4.8l1-1.1v-4l1-.2v4.3l1-.2v-4.7l1 1.1v3.3l1 .5v-4.2l1-.3v4.9l1 0v-5.5l1 .2v5.8l1-.2v-5.5l1 .7v6.5l1-.2v-6.7l1-1.2v7.5l1 1.2v-8.5l1-.8v6.3l1 .7v-5.9l1 .8v4.9l1-.7v-4.1l1-.2v4l1 .3v-4.3l1 .1v4.1l1 .1v-4.4l1-.4v4l1 .2v-3.6l1-.2v3.7l1 0v-4.5l1 .6v3.7l1 .7v-3.9l1-.5v4.7l1 .1v-4.6l1-.6v3.9l1-.1v-3.3l1-.2v4.5l1-.8v-3.1l1-.1v3.6l1 0v-2.9l1-1.1v3.7l1 .2v-3.9l1-.6v5.2l1 .3v-4.8l1 .1v4.3l1 .4v-4.8l1-.5v5.1l1-.2v-4.2l1-.1v5.7l1 .1v-5.7l1-.4v6.5l1-1v-6.2l1 .5v6.5l1-1.2v-4l1-.4v4.8l1-.8v-4.3l1 .1v4.7l1 1.4v-5.3l1 0v4.3l1 .2v-4.8l1-1.1v4.9l1 .3v-4.4l1 0v3.1l1 .7v-3.8l1-1.1v6.8l1-1.5v-5l1 .3v4.2l1 .1v-4.7l1-.4v5.9l1 .4v-6.2l1 .3v4.8l1-.5v-4.7l1 .6v4.9l1-.9v-4.3l1 .2v5l1-1.2v-3.5l1 .9v2.9l1 .1v-3.4l1 .5v2.9l1 .4v-3.5l1-.1v3l1 .8v-3.5l1-.2v4.4l1-.3v-3.8l1-.6v5l1-.1v-6.4l1 .7v5.5l1 .1v-4.6l1-1.1v4.6l1 .6v-4.3l1 .1v4.7l1 .3v-4.8l1 .7v3.9l1-.7v-4.4l1-.4v4.7l1 .8v-5.3l1 .6v3.7l1 1.1v-5.5l1-.5v4.5l1 1.7v-5.5l1 .8v3.8l1-.8v-4.2l1 .7v4.2l1-.8v-3.7l1 .5v3.7l1-.9v-4.4l1 1v4l1-.3v-4.2l1 0v5l1 .1v-6.3l1 1.4v3.9l1-.1v-3.6l1-.4v3.7l1-.1v-3.6l1 .4v3.6l1-.2v-3.4l1 .1v3.9l1-.6v-3.2l1-1v5l1 .6v-4.5l1-.6v4.6l1-.1v-4l1 .2v4.3l1-.3v-4.9l1 .7v4.7l1-.9v-3.2l1-.2v4l1 .5v-3.9l1 0v3.8l1-.2v-4.7l1 .8v3.5l1 .8v-5.5l1 .7v4.6l1-.1v-5.2l1 .3v4.7l1 .1v-4.3l1 .5v3.3l1-.1v-3.3l1-1v3.9l1 1.6v-4.8l1-.8v5.3l1 0v-4.6l1 .1v4.1l1-.3v-4.8l1 .2v5l1 .3v-4.7l1-1.3v6.4l1-.8v-4.7l1 .7v5.2l1-1.1v-4.1l1-1v5.4l1-.2v-4.8l1 0v6.6l1-.8v-6l1-.2v6l1 0v-5.5l1 .3v3.9l1 .8v-4.2l1-.9v4l1 .4v-3.7l1-.3v3.8l1 .8v-5l1 0v4.8l1-.1v-4.4l1 .6v4.7l1 0v-5.2l1 .7v3.8l1 .3v-4.2l1-1.2v5.1l1 .7v-5.7l1-.3v5.7l1-.5v-3.8l1-1.3v4.9l1 0v-4.3l1 .1v5.6l1-1.7v-4.2l1 .7v4.6l1-.5v-4.2l1-.6v4.3l1 1v-4.9l1-.5v4.8l1-.5v-3.3l1-1.3v4.5l1 .5v-4.6l1 0v4.2l1-.3v-3.8l1-.3v3.6l1 .9v-5.1l1-.1v4.8l1 .5v-4.3l1-.7v4.8l1 1v-5l1 .4v4.1l1-.8v-4.8l1-.1v4.6l1 .1v-3.7l1-.2v4.1l1-.2v-4.1l1 0v4.4l1 .9v-5.1l1-.2v4.6l1-.3v-3.3l1-1.3v4.5l1-.6v-2.6l1-.8v3.9l1 .7v-4.3l1-.2v4.2l1 .5v-3.6l1-.3v3.2l1 .5v-3.3l1-.8v4.4l1-.8v-3.5l1-.1v3.6l1 .5v-3.4l1-.8v3.8l1 .6v-4.7l1-.2v5l1 .5v-4.8l1-.6v5.2l1-.4v-4.4l1-.1v4.4l1 .4v-4.6l1-.1v4.4l1-.9v-4.2l1 .2v4.4l1 0v-4.6l1-.1v4.2l1 .1v-3.4l1-1.2v4.7l1 .8v-4.3l1-.2v3.9l1 .8v-4.9l1 0v4.5l1 .6v-5l1-.3v4.5l1 1.1v-4.5l1-.3v4.5l1-.9v-4l1 .2v5l1-1.2v-3.9l1-.3v4.8l1-.2v-4.7l1-.4v5.3l1 .5v-5.3l1-.3v5.3l1 1.2v-5.9l1 .5v4.4l1-.4v-4.7l1-.5v4.6l1 .4v-5l1-.1v5.2l1-.8v-3.5l1-.6v4.3l1 .6v-4.6l1 .8v3.9l1-.6v-3.2l1-.6v3.8l1-.4v-3.1l1-.4v4.2l1-.4v-4.4l1-.2v4.9l1-.1v-4.2l1-.4v5.2l1 .5v-5.2l1 .3v4.1l1-.4v-4.5l1 .8v3.8l1-.4v-3.3l1 0v2.9l1-.1v-2.8l1-.1v4.2l1-.4v-3.5l1-.6v4.6l1-.7v-4.2l1 .6v4.3l1-1v-4.3l1 .6v4.1l1-.3v-3.7l1-.4v4.3l1-.1v-4.5l1 .1v4.6l1-1v-2.7l1-.3v3.6l1 .9v-3.8l1-1.1v3.9l1 .2v-3.5l1 .1v4.1l1 0v-4l1 .2v3.6l1-.3v-3.5l1-.2v3.4l1 1.3v-4l1-.6v4l1 1.8v-6l1 .3v3.6l1 .1v-3.7l1-.1v4.4l1-.9v-3.7l1 0v3.7l1-.1v-3.2l1 .1v3.8l1-.6v-4.2l1 1.1v3.9l1-.3v-4l1-.5v5l1 .1v-4.4l1 .3v5.1l1-.4v-5.2l1-.2v5.8l1-1.6v-4.5l1 .6v3.6l1 1v-4.9l1 .3v5l1 .6v-6.7l1 .6v4l1 0v-3.7l1 .4v3.2l1-.2v-2.8l1-.3v2.6l1 1v-3.7l1-.1v4.3l1-.2v-3.8l1-1.3v4.7l1 .5v-4.3l1 0v3.5l1-.3v-2.6l1-.5v3.1l1 0v-2.6l1 .1v3.5l1 .4v-4l1-1.3v4.6l1 .6v-5.1l1-.2v5.8l1-1.4v-3.8l1-.4v4.6l1-.2v-4l1-.6v3.6l1 1.3v-3.6l1-.2v3.3l1 .1v-4.4l1 .3v3.8l1-.3v-3.7l1 .1v3.9l1-.2v-3l1-.6v4.2l1-.6v-3l1-.3v4.6l1-.3v-4l1 .1v3.6l1-.7v-3.7l1-1.7v6.5l1 .4v-5.2l1 .5v4.9l1-.8v-4.3l1-.7v4.8l1 .8v-4.9l1-.5v4.2l1 .5v-3.8l1 .1v6.3l1-2.4v-4.2l1 .7v3.8l1-.7v-3.1l1-1.3v4.8l1 .2v-4.3l1-.1v3.8l1 0v-3l1-.9v4.1l1-.1v-3.4l1-1.4v5.1l1-.2v-4.1l1 .2v4.2l1 .8v-4.7l1 0v3.6l1 .4v-4.3l1-.7v4.5l1 1.1v-5l1-1.5v5.8l1-.1v-4l1-.8v5.6l1-.5v-5.3l1 0v4.6l1 .7v-4.8l1-.5v4.6l1 .4v-4.2l1 .2v3.4l1 .2v-4.5l1 .3v4.2l1-.1v-4.2l1 .4v5l1-.4v-5.2l1 .3v4.3l1-.2v-5l1-.1v4.8l1 .5v-4.8l1-.5v6.1l1-1.1v-4.4l1 0v5.4l1-.1v-5.3l1 .8v4l1 .1v-4.2l1-.3v3.2l1 .2v-2.6l1-1v4.1l1 0v-3.6l1-.1v4.1l1-.5v-3.7l1 .5v3.7l1-.8v-4.3l1 1.4v5.1l1-1.1v-5l1 0v5l1-.7v-4.4l1 0v5.1l1-.7v-3.6l1-.4v4.3l1-.5v-4.5l1 .5v5.1l1-.5v-4.9l1-.3v4.8l1 .7v-5l1-.1v4.8l1-.4v-3.8l1-.4v3.6l1 .5v-4.5l1 0v4.3l1 .1v-4.2l1 .9v3.2l1 1.1v-5.6l1 .5v4.4l1 1.2v-4.6l1-.9v4.5l1 .8v-4.3l1-.3v4.5l1 .6v-4.4l1-.9v4.1l1 .7v-4.9l1-.5v4.5l1-.1v-3.6l1-.5v4.7l1 .7v-5.3l1 1v3.2l1-.6v-3.9l1 .6v4.2l1-.3v-4l1 0v4l1-.1v-3.3l1-.5v4.3l1-.2v-3.4l1 .2v3.5l1-.6v-4.1l1 .4v3.6l1-.2v-2.8l1-.7v3.5l1 .5v-3.2l1-.1v3l1 .2v-4.3l1 .4v3.3l1-.2v-3.8l1 .5v3.9l1 .1v-3.7l1 0v4.3l1-.3v-5.2l1 .9v4.9l1-.5v-5.1l1 .9v4.8l1 .1v-6l1 .5v5.9l1-1.2v-5.2l1 1v4.8l1-.3v-4.5l1 .6v4.2l1-.3v-3.8l1-.8v4.8l1 0v-4.4l1-.4v4.5l1 .2v-4.8l1-.4v5.2l1 .4v-5.7l1 .6v4.3l1-.6v-3.6l1 0v4.2l1-.2v-4.6l1 1.4v3.5l1 .9v-4.9l1-.1v5.7l1-1.5v-4.7l1 .1v4.8l1-.3v-4.5l1-.2v5l1-1.1v-3.8l1 .1v3l1 .2v-3l1-.1v3.8l1-.2v-3.3l1-.6v4.3l1-.3v-4.2l1 .2v5.3l1-1.2v-4.6l1 .5v4.8l1-.6v-4.5l1 .7v3.5l1 .4v-4.3l1-.4v4.8l1-1.1v-3.3l1 .2v3.4l1 0v-4.1l1 1.2v3.5l1 .2v-3.8l1-.6v4.2l1 .2v-4.5l1 .8v4.9l1-.7v-4.6l1-.2v6.3l1-1.1v-4.4l1-1v5.7l1-.2v-4.9l1-.2v4.5l1-.3v-4l1 .4v4.5l1 .4v-4.4l1 .2v3.1l1-.3v-3.9l1 .7v3.8l1-.4v-3.8l1-.2v3.6l1-.1v-3.2l1-.7v4.7l1-.1v-3.7l1 .1v3.4l1-.6v-3.5l1-.1v3.3l1 0v-3.4l1-.4v4.3l1 .1v-3.7l1-.2v3l1 .6v-3.2l1-.1v3.4l1 .8v-4l1-.4v4.2l1 .3v-4.1l1-.8v5l1 1.7v-6.6l1-.5v6.4l1-1.5v-4.2l1-1.6v6.3l1-.5v-4.2l1 .2v5l1-.4v-5.1l1-.2v4.7l1 1.1v-5l1 0v4.8l1-1v-3l1 0v3.8l1-.3v-3.9l1-.1v4.1l1 0v-4.9l1 0v4.9l1 .3v-5.8l1 0v5.8l1-.8v-3.5l1-.8v4.5l1-.9v-3.1l1-.8v4.4l1-.1v-4.8l1 1.1v4.5l1-.4v-4.5l1-.3v5.6l1-1v-4.2l1-.3v4.6l1 .2v-4.5l1-.1v4.6l1-.8v-4.5l1 .7v4.9l1-.5v-4.9l1 .8v3.6l1 0v-3.8l1-.7v4.7l1-.4v-4.2l1 .2v4.7l1-.1v-5l1 1.1v4.1l1-.8v-3.1l1-.5v4.2l1 .3v-3.8l1-.5v5.3l1-1.3v-4.7l1 .4v4.6l1 .4v-4.1l1-1.3v4.9l1-.3v-4.7l1 .9v3.5l1 .6v-4.6l1 0v4.9l1-.3v-4.4l1 0v4.7l1-.6v-4.7l1 .2v3.7l1 .7v-4.1l1 .2v4.7l1 .3v-4.1l1-1v5.3l1-1.3v-4.8l1 .3v5.6l1 .3v-6.1l1 1v5.1l1 .1v-5.5l1 .9v3.3l1 .3v-3.7l1-.7v4.6l1-.1v-4.4l1 .4v3.3l1-.3v-3.1l1 .6v3.5l1-.5v-3.6l1 .2v3.5l1-.1v-5.3l1 2.1v4.2l1-1.1v-4.5l1 .7v4.1l1 .6v-4.6l1-.5v5.3l1-.9v-4.4l1 .6v3.3l1 .7v-4.2l1-.7v5.5l1 0v-5.3l1-.5v5.2l1-.1v-4.9l1 .4v5.3l1-.3v-4.4l1-1v5.7l1-1v-4.8l1 .4v4.8l1 .2v-5.4l1 .3v5.8l1-.2v-5.5l1 .6v4.1l1 .5v-4.2l1-1.5v5.6l1-.1v-4.6l1-.2v5.1l1-.1v-5.1l1 .4v4.4l1 .2v-5.5l1 0v4.9l1 0v-4.2l1 .6v3.5l1 .7v-4.2l1-.8v3.9l1 .3v-3.8l1-.4v4.3l1 .5v-4l1-.8v3.6l1 1.2v-4.1l1 .1v3.3l1-.1v-3.6l1 .4v5l1-.2v-6.4l1 1v5.1l1 .1v-4.9l1 .1v3.7l1 1v-4.8l1 .4v3.5l1 .1v-3.5l1-.5v3.8l1 .2v-4.5l1 .3v5.1l1-1.2v-3.4l1 0v4.5l1-1.1v-4.2l1-1.4v6.5l1 .2v-4.3l1-.9v4.9l1-.8v-3.8l1-.1v3.8l1 1.3v-6.2l1 .2v4.9l1 1.1v-5.7l1 .5v5.9l1-.1v-6.5l1 1v3.9l1 1.6v-6l1 .6v4.9l1 .4v-4.8l1-.7v4.1l1-.7v-3.8l1-.7v4.6l1 .8v-4.8l1-.8v5.5l1-.4v-4l1-1v6.6l1 .7v-5.4l1-2.2v6.3l1-.4v-4.3l1-.9v4.9l1 1v-4.5l1-1.2v6.8l1-1.4v-5l1 .3v4.1l1 .5v-4l1 0v3.6l1 .8v-5.9l1 .4v5l1-.6v-4.6l1 1.1v3.6l1 .1v-3.6l1 .3v3.5l1-.3v-4.1l1 0v3.1l1 .5v-3.4l1-.5v3.5l1 .8v-3.7l1 .4v3.9l1-.5v-3.8l1-.2v3.7l1 .2v-3.5l1 0v3.3l1 .2v-4.4l1 .2v3.7l1-.2v-3.7l1 0v4l1 .8v-3.7l1-.8v3.8l1-.7v-3l1-1v3.9l1 0v-3.5l1 .2v3.1l1 .2v-4.2l1 1.1v3.5l1 .2v-4.7l1 0v5.7l1-.6v-5.6l1 1.2v4.8l1 .8v-6l1-.8v5.8l1-.4v-4.4l1-.1v3.7l1 .4v-3.7l1 .2v5.2l1-1.1v-4.1l1-.8v5l1 .5v-4.3l1-.4v3.9l1 1v-5.2l1 .6v4.1l1-.5v-3.3l1-.4v3.3l1 .9v-3.8l1-.5v4.4l1-.9v-3.5l1-.4v4.7l1-.8v-4.3l1 .4v3.8l1-.2v-3.1l1-.3v3.5l1 .2v-4.1l1 .2v3.3l1 .8v-4.1l1-.1v3.6l1 .6v-3.1l1-.8v4.5l1-.4v-3.9l1-.9v4.4l1 1.1v-4.1l1-1v3.9l1 1.2v-4.3l1-.8v4.4l1-.5v-3.6l1 .3v4.3l1-.4v-3.7l1-.3v3.4l1-.2v-3.7l1-.3v4.6l1-.4v-4.6l1 .7v4.8l1-.1v-5.3l1 .7v4.9"/>
<path class="tr" stroke="#008000" d="M138.5,164.6v5.9l1-.2v-4.6l1-.1v3.7l1 .7v-5l1-.5v4.8l1 .5v-4.1l1-.5v5.7l1-2.1v-3.4l1 .3v4.3l1-.6v-3l1-.5v3.2l1-.4v-3.2l1 .3v3.5l1-.4v-3.9l1-.2v4.6l1-.1v-4l1 0v3.8l1-.9v-3.6l1 1v3.5l1-.3v-3.6l1 .5v2.6l1 .2v-4.2l1 .2v4.1l1 1.4v-5l1 .4v4.4l1 .6v-4.8l1-1.5v5.5l1 0v-4l1 0v3.1l1 .9v-4l1 .7v2.9l1-.5v-3.4l1 .1v3.9l1-.7v-3.1l1-.6v4.4l1 1.1v-4.6l1-.5v4.4l1 1.2v-5l1-.1v3.6l1-.1v-3.6l1-.2v4.1l1 .2v-3.7l1-.8v4.5l1-.2v-3.6l1-.8v4.4l1-.3v-4.2l1 .4v4l1 0v-3.3l1-.5v3.3l1-.2v-3.1l1-.3v4.1l1-.9v-2.5l1-.3v3.4l1-.6v-3.5l1 .1v4.2l1-.2v-3.8l1-.6v4.4l1-.7v-3.1l1 0v3.4l1 .8v-4l1-.2v3.7l1 .6v-4l1-.2v3.2l1 .3v-3.7l1-.6v4l1 1.4v-5.3l1 .7v4.1l1-.1v-4.5l1-.1v4.7l1-1.2v-4.3l1 1.1v3.3l1 1.3v-4.3l1 .5v3.6l1 .1v-3.6l1-1v3.8l1 0v-3.4l1-.2v3.1l1 1.2v-4.5l1 .2v3.4l1 .4v-3.4l1-1.4v4.7l1 .3v-4.5l1 .1v4.6l1-.6v-3.4l1-.2v3.5l1 .1v-3.5l1 .1v3.7l1-.1v-4.7l1 1.4v4l1-.1v-5.6l1-.1v5.8l1 .1v-5.5l1 .5v4.9l1-.2v-4.1l1 .2v3l1 1v-4.4l1 .4v3.4l1 1.2v-5.5l1 .3v3.9l1 2.3v-5.7l1-1.3v4.9l1-.2v-4.9l1 .9v4.5l1 .1v-3.6l1-.7v3.5l1-.1v-3.2l1 .2v3.4l1 .7v-4.5l1 .2v4.9l1-.3v-4.7l1 0v5.6l1-1.5v-4.1l1-.1v4.9l1-.5v-3.9l1 .3v3.5l1-.2v-3.7l1-.1v3.9l1-.1v-3.3l1-1v4.3l1 .2v-4.1l1-.1v4.1l1 .8v-5l1 0v4.3l1 .1v-3.3l1-1v4.5l1-.9v-3.3l1-.1v3.9l1-.3v-3.2l1-.5v3.9l1 .3v-4.8l1 .5v3.9l1 1.2v-4.3l1-1v3.7l1 .1v-3.8l1 .3v4.2l1-1v-2.5l1 .4v2.8l1-.8v-2.9l1 0v3.4l1-.2v-3.2l1 .8v2.5l1 0v-2.8l1-.2v3.6l1 .2v-3.4l1-.9v3.8l1 .5v-4.9l1-.1v4.2l1 .8v-4.3l1-.3v3.5l1-.2v-3.6l1 0v4l1 .4v-3.7l1-.3v4l1 1v-4.6l1-.7v4.2l1 .2v-3.3l1-.7v2.9l1 .7v-3.2l1 .1v4.3l1-.9v-3.9l1-.3v4.9l1-.5v-4l1-.1v4.2l1-.9v-3.3l1-.2v3.9l1 1.1v-4.3l1 .3v3.2l1-.2v-3.6l1-.3v3.6l1 1v-3.8l1-.5v3.4l1-.3v-3.8l1-.1v5.7l1-1.4v-3.8l1 .5v4.2l1-.5v-3.9l1 .5v4.2l1-1.7v-3.6l1 .5v4.6l1 .3v-4.9l1 .7v3.4l1 .8v-4.3l1-.4v4.9l1-.8v-4.2l1 .4v4.6l1 .3v-5.6l1 .3v5.7l1-.7v-4.9l1 0v4.2l1 0v-3.8l1-.9v4.5l1-.3v-3.9l1 .1v3.2l1-.1v-3.7l1 .2v4.2l1 .1v-4.6l1 1.3v3.2l1-.1v-4.2l1-.5v5.1l1 .1v-4.6l1 .5v3.5l1-.2v-4.4l1 .7v4.5l1 .4v-4.2l1 .4v3.8l1-.7v-4l1 .5v3.5l1 .4v-3.3l1-.8v3.3l1 .9v-4.6l1 .1v3.9l1 1.1v-4l1-.7v4.2l1 0v-3.7l1-.1v3.3l1 .7v-4.1l1 .1v3.8l1 .2v-4.3l1-.1v3.7l1-.1v-3.8l1 .4v3.5l1-.1v-4l1 .6v4.1l1-.3v-4.7l1 1.4v3.2l1-.5v-3.6l1 .7v4.1l1-.4v-3.9l1-.6v4.7l1-.1v-4.1l1-.9v4.8l1-.2v-3.8l1-.6v3.9l1 .8v-4.6l1 .7v3.8l1 0v-4.1l1 .3v3.4l1 .4v-3.9l1 .2v3.1l1 .6v-3.7l1-.4v4.1l1-.6v-3.7l1 0v2.9l1 .6v-4.1l1 .9v2.5l1 .5v-3.5l1 .1v4.1l1-.8v-2.6l1-.4v2.8l1 .1v-3.8l1 .9v2.9l1 .4v-3.4l1-.3v3.9l1 .6v-3.6l1 0v3.5l1-.7v-3.5l1-.2v4.1l1-.3v-3.3l1-.4v3.9l1-.3v-3.3l1-.5v3.6l1 .9v-3.9l1-.2v3.3l1-.1v-4.2l1-.4v4.9l1-.2v-4.2l1-.2v4.8l1 .7v-5.3l1-.3v6.2l1 .1v-6.5l1 .1v6.4l1-.7v-5.7l1-.2v6.2l1 .2v-6.4l1 .3v5.5l1 .1v-4.9l1-.5v5.4l1 .1v-5.4l1-.2v6l1-.8v-4.4l1 .6v3.4l1-.3v-3.3l1 0v4l1-.4v-3.7l1-.7v4.4l1 .7v-6.1l1 .6v5.2l1 .9v-6.3l1-.6v6l1 .2v-5l1-.7v5.8l1-.6v-4.6l1 .2v5.9l1-.7v-5.6l1 0v5l1 .2v-4.4l1 .4v4.5l1 .4v-5.8l1-.3v4.6l1 1.3v-5.3l1-.1v4.8l1-.4v-4.4l1-1.2v6.4l1 .8v-6.5l1-.1v4.8l1-.2v-4.6l1 0v4.5l1 2.1v-7.1l1 1.3v4.1l1-.7v-4.1l1-.3v5.2l1 .4v-5.2l1-.2v4.4l1 1.1v-5l1 .1v4.4l1 .6v-4.1l1-.5v4.2l1 .4v-3.6l1-.4v3.9l1-1.1v-2.7l1 .1v2.4l1-.1v-2.5l1-.6v4.2l1-.1v-4.3l1-.6v4.8l1 1v-5.1l1 .3v3.9l1 0v-4.9l1 1.1v4l1 .7v-4.8l1-.7v4.7l1 .3v-4.1l1-.9v4.6l1-.4v-3.4l1-.6v3.6l1 .2v-4l1 .5v3.9l1-.7v-3.5l1 .5v3.4l1-.5v-3.8l1 .5v4.1l1-.4v-4.2l1 .7v3.4l1-.6v-3.3l1 .2v3.1l1 1v-3.9l1 .3v3.5l1 .2v-3.9l1-.5v4.3l1-.1v-3.6l1 .1v2.6l1-.2v-2.8l1 .3v3.3l1 .6v-3.8l1-.6v4.7l1 .1v-5l1 0v4.4l1 .3v-4.7l1 1.1v3.4l1 .3v-3.2l1-.2v4.5l1-.9v-3.6l1-.5v4.3l1-.4v-3.5l1-1v5.4l1-.3v-5.5l1-.1v5.3l1-.3v-3.6l1-.8v3.7l1 .1v-3.7l1 .1v4.1l1-.6v-3.7l1 0v4.1l1 .3v-4.6l1 .6v3.4l1-.1v-3.9l1 .5v4.5l1-.2v-5.3l1 .2v4.3l1 .2v-3.6l1-.4v5.3l1-.2v-5.9l1-.5v6.1l1-.2v-5.2l1 .1v5.5l1-.3v-5.2l1 .7v4.4l1-.5v-4.2l1-.1v4.1l1 1.1v-5.2l1-.9v6l1 0v-4.8l1-.3v4.5l1 .3v-4.5l1-.2v5.1l1-.5v-4.7l1 .3v4.1l1-.4v-3.8l1 .7v4.4l1 .3v-5.7l1 .4v6l1-1.2v-3.9l1-.9v5.4l1-.9v-4.7l1 .7v4.4l1-.8v-3.9l1-.6v4.9l1 .4v-4.2l1-.9v4.5l1-.2v-3.6l1-.4v3.9l1 .9v-4.6l1 0v4.4l1-.8v-4.2l1 .2v4.8l1-.5v-4.5l1 0v4.2l1 1.1v-5l1 .4v4.6l1-.3v-3.7l1-.9v4.3l1 0v-4.4l1-1.1v4.8l1 1.3v-5.1l1-.3v5.6l1-.9v-4.4l1-.6v4.6l1 0v-3.4l1 0v4.4l1-1.3v-3.8l1-.6v4.5l1-.4v-3.4l1-.7v4l1 .8v-4.6l1 .4v3.1l1 1.1v-3.9l1-.3v4.4l1-.8v-4.9l1 1.4v4.6l1-.8v-4.4l1-.3v4.2l1 1.3v-4.7l1-.3v4.4l1 .7v-5.3l1 .5v4.9l1-.3v-5l1 .6v4.4l1 7.1v-16.8l1 4.6v4.1l1 .3v-3.6l1 .3v4l1-.4v-4.2l1-.6v4.6l1 .1v-3.6l1-.2v2.9l1 .7v-3.2l1-.1v3.2l1-.1v-3.5l1 .4v4l1 .3v-4.3l1-.5v5.2l1 .5v-5l1-.4v4.7l1 .3v-5.1l1 .8v4.3l1-.6v-4.2l1-.2v5.3l1-1.5v-3.1l1-.8v3.7l1 .3v-3.2l1-1.4v4.1l1 .5v-4.3l1-.2v4.4l1 .2v-4l1-.6v4.9l1-.3v-4.1l1-.2v3.1l1 .7v-4.3l1 .8v3.6l1-.4v-2.8l1-.5v3.6l1 .2v-3.7l1-.4v3.5l1 .4v-3.4l1 .5v3l1 .2v-3.9l1 .6v2.6l1 .4v-3.6l1-.1v3.5l1 .7v-3.8l1 .1v3.4l1 .8v-4.2l1-.4v3.7l1 .5v-3.5l1-.1v3l1-.3v-3.8l1 0v4.1l1 .1v-3.7l1-.2v3.9l1-.1v-3.8l1-.4v4.3l1-.7v-3.2l1-.2v2.9l1 1.3v-3.8l1-.4v2.9l1 .2v-2.5l1-.1v3.1l1-.1v-3.2l1-.6v4.2l1-.3v-3l1-.8v4.5l1 .1v-4.2l1-.2v4.4l1 .3v-3.6l1 0v3.9l1 .3v-4l1 .1v3.3l1 .6v-3.9l1-1.1v3.6l1 .4v-4.2l1 .1v4.4l1-.3v-3.4l1-.4v4.2l1-.1v-4.3l1 .3v3.7l1 1v-5.2l1 0v4.6l1 .8v-4.2l1-.7v4.1l1-.8v-3.4l1-.2v4.3l1-.9v-3.7l1 .2v3.6l1 .5v-3.7l1 .4v3.8l1-.8v-3l1-.9v4.4l1-.6v-3.2l1-.3v3.8l1-.7v-4.7l1 .6v4.4l1-.4v-3.2l1-.3v4l1 .9v-4.7l1-.2v3.6l1 .2v-3.8l1 .4v3.9l1-.1v-3.6l1-.4v3.7l1 .6v-4.5l1 .6v3.4l1 .5v-4.8l1 .2v4.5l1 .1v-4.3l1-.2v4l1 .6v-4.2l1-.7v4l1 0v-2.8l1 0v4.1l1-.4v-3.9l1 .1v3.5l1 .4v-3.4l1-.1v3.7l1 .4v-4.5l1-1.1v5.1l1-.7v-4l1 .6v4.1l1-.4v-3.9l1 .1v3.7l1 .3v-5l1 1v4.4l1-.5v-4l1-.3v4.6l1 .2v-4.5l1-.5v4l1 .4v-3.9l1 .3v3.4l1 .9v-4.4l1-.6v4.2l1-.1v-4.3l1 .1v4.4l1-.2v-4l1 .7v3.7l1-.3v-4l1-.3v4.2l1 0v-3.8l1-.1v4.3l1 .4v-4.1l1 .1v3.7l1-.5v-3.4l1 .2v2.5l1-.1v-2.8l1 .3v3.1l1 .6v-4.1l1-1v4.6l1 1.6v-4.6l1-.5v4.7l1-.3v-4.6l1 0v4.9l1 .2v-4.4l1 .1v4.8l1-1.4v-4l1 0v4.4l1-1.1v-3.7l1-.1v4.3l1 1.6v-5.4l1-.3v4.8l1 .5v-5l1-.4v3.8l1-.3v-3.4l1-1.1v5.4l1 .5v-4.6l1-.5v5.9l1-.8v-5.3l1 .8v4l1 .1v-5.3l1 1.6v3.2l1-.4v-3.8l1 .5v3.4l1-.3v-3.3l1-.1v3.7l1-.5v-2.7l1-.4v3.9l1-.3v-3.8l1-.1v4.8l1-.8v-4.6l1 0v4.8l1 0v-4.1l1-.5v5l1 1.3v-5.1l1-1.4v5l1 0v-4.5l1 .6v5.1l1-1v-5l1-.1v4.8l1 .2v-4.9l1 .4v4.2l1 .1v-4.2l1 .2v5.1l1 .3v-5.2l1-.8v5.8l1 0v-4.9l1-.5v4.6l1 .7v-5.2l1 .4v4.1l1 0v-3.8l1-.5v4l1-.2v-3.5l1 .3v3.2l1-.3v-2.8l1-.4v2.9l1 0v-2.5l1 0v3.1l1-.7v-2.8l1 .3v2.6l1 6v-13.8l1 4.4v3.5l1 3v-8.8l1 2v4.8l1-.3v-5l1 1.1v4.6l1-.3v-4.9l1 .7v3.7l1-.6v-3.2l1-2.2v7.3l1-1.2v-3.9l1-1.4v5.1l1 .7v-4.8l1 1.1v3.8l1-.7v-3.4l1-1.1v4.7l1 0v-3.5l1-.9v4.8l1-.6v-3.9l1-2v7.3l1-2.2v-3.6l1 1.2v3l1 0v-3.7l1 0v3.3l1 .6v-3.8l1 .3v4l1-.5v-4.5l1 .9v3.5l1-.1v-3.9l1-.4v5.1l1 1.4v-5.3l1-.8v4l1 .6v-3.8l1-1.5v4.2l1 .2v-4.1l1 .8v3.4l1-.3v-2.9l1-1.1v4.6l1-.3v-3.9l1 .8v3.6l1-.5v-3.4l1 0v2.5l1 .9v-4.4l1 .7v3.9l1 1v-5.4l1-.3v4.5l1 .4v-3.9l1-.6v3.8l1 .6v-4.3l1-1.2v5.2l1 .7v-5.1l1 .2v5.9l1-.7v-5.2l1-.5v4.6l1 .7v-4.3l1 .8v2.7l1-.4v-2.7l1 .1v3.2l1 .1v-3.6l1 0v3.7l1-.4v-3.2l1-.3v3.5l1 .6v-3.7l1-.5v4.4l1 .4v-4.7l1 .3v4.5l1-1v-3.9l1 .7v3.2l1 .9v-4.8l1-.3v4.8l1 .3v-3.8l1-.3v4l1-.2v-3.9l1-.6v4.9l1 .3v-4.2l1-1.6v5.3l1 .2v-4.9l1-.2v6.3l1-1.5v-5l1 .5v4.6l1 2.7v-6.7l1-1.1v5.7l1-1v-4.5l1 0v4.5l1 0v-3.1l1-.2v2.8l1-.4v-2.6l1-.1v2.8l1 0v-3.3l1 .5v3l1 .5v-3.3l1-.2v3.3l1 .3v-4.1l1 .3v4.1l1 .2v-4.7l1 .1v4.9l1 0v-4.4l1-.8v4.9l1 .1v-4.8l1 .4v5.1l1-1v-4.8l1 .4v3.6l1 .4v-4.3l1 .2v4l1-.3v-3.7l1 .4v3.9l1 .2v-4.2l1-.5v4.5l1 0v-3.6l1-.3v3.5l1-.3v-4.1l1 0v4.6l1 0v-5.1l1 1v4.8l1-.1v-5.5l1-.1v4.8l1 .6v-4.7l1-.1v5l1-1.4v-3.9l1 .2v4.3l1 .8v-4l1-.5v4.2l1-.5v-3l1-.1v2.4l1 .9v-3.4l1-.2v3l1 0v-2.7l1 .3v3.1l1-.4v-3.2l1-.2v3.3l1 .4v-3.2l1-.4v3l1 .8v-4l1-.3v4.9l1 .3v-4.8l1-.8v4.9l1 0v-4.4l1-.1v5.1l1-1.1v-4.4l1 .2v5.4l1-.9v-3.9l1-.5v4.3l1-.2v-4.5l1 .8v3.1l1-.6v-3.1l1 .6v2.8l1 .3v-3.7l1 .5v3.7l1 .4v-3.8l1-.4v4l1 .2v-4.5l1 .4v4.6l1 .4v-5.3l1-2v6.4l1 .3v-4l1-1v4.8l1-.2v-5.1l1 .3v4.1l1-.3v-2.9l1-.6v3.6l1 .5v-3.9l1-.1v4l1-.5v-3.3l1-.4v3.7l1 .4v-3.9l1 .2v3.6l1-.1v-4.1l1 .9v4.1l1 1v-7.3l1 2v4l1-.4v-4.1l1-.3v5.6l1-1.3v-4.2l1 .7v4.2l1 .3v-4.8l1 .1v4.5l1 .1v-4.4l1 .1v3.5l1 0v-2.8l1-.9v3.6l1-.4v-2.7l1 .2v3.3l1 .5v-3.6l1-.8v3.9l1 1.2v-6l1 1.3v4.6l1-.8v-4.4l1 .3v4.4l1-.1v-4.3l1 .3v4.1l1-.6v-3.9l1 .2v4l1 .2v-5.1l1 1v4.4l1 0v-6l1 .9v5.8l1-.7v-5.1l1 .5v4.7l1-.1v-5.6l1 1v2.9l1 .1v-3.9l1 .5v4.3l1 .2v-4.5l1-.5v4.1l1 .2v-4.5l1 .8v4.2l1 .7v-5.3l1 .6v3.8l1-.3v-4.5l1 .7v5.4l1-1.6v-4.3l1 .8v3.8l1 .2v-3.8l1-.4v4.8l1-1.5v-3.9l1-.2v4.8l1 1.3v-7.8l1 3v3.6l1-.3v-3.6l1 0v3.6"/>
<path class="tr" stroke="#000000" d="M138.5,196.9v4l1 1.1v-4l1-.5v3.2l1 .3v-3.5l1 .5v2.9l1 .1v-3.4l1-.5v3.3l1 .7v-3.7l1 .7v3.5l1-.1v-3.6l1-.6v3.9l1 .2v-4.5l1 .2v4.5l1-1v-3.7l1 .6v3.8l1 .1v-4.7l1 .2v3.9l1-.4v-2.9l1 .2v2.8l1-.3v-2.9l1 .7v2.8l1 .4v-3l1 .1v3.2l1-.7v-2.9l1 .2v2.8l1-.6v-2.4l1-.3v3.1l1 0v-2.8l1-.9v4.1l1 .7v-4l1-.8v4.6l1 0v-4.4l1-.4v4.5l1-.6v-3.1l1-.1v3.8l1-.8v-3.4l1-.5v4l1 .5v-4l1 .7v3.2l1 .7v-3.8l1-1v3.8l1 .5v-3.7l1 .4v2.9l1-.6v-2.9l1 .3v3.1l1-.2v-2.7l1-.2v2.7l1 .1v-2.7l1 0v3.1l1 .1v-3.2l1-.1v2.7l1 .9v-3.3l1-.4v2.8l1-.5v-3.1l1 .4v2.4l1 .5v-2.7l1-.5v3.8l1 .3v-4.3l1-.1v5.1l1-.1v-4l1-1v5.1l1-.4v-4.3l1-.7v5l1 .1v-3.6l1-.7v4.4l1-.6v-4l1 .2v6l1-1.4v-4l1-.6v3.3l1 .7v-3.7l1 .6v3l1 .5v-4.2l1 .6v3l1 .1v-3.6l1 .7v3l1-.3v-2.8l1-.7v3.7l1 .1v-2.8l1 0v2.9l1-.1v-2.5l1-.4v2.6l1 .8v-3.4l1-.4v4.2l1 .2v-4.1l1-.2v4l1 0v-4l1 .3v2.5l1-.1v-2.8l1-.2v3.8l1-.2v-3.9l1 .8v3.4l1 .8v-4.1l1-.9v4.1l1-.4v-3.6l1 .5v3.1l1-.7v-3.1l1-.2v3.7l1 1.2v-4.4l1 .2v3.3l1-.6v-2.6l1-.3v3.2l1 0v-2.7l1-.5v2.9l1 1.1v-3.9l1 .2v4.1l1 .1v-4.9l1 .1v4.4l1 .3v-3.8l1-.1v3.7l1-.7v-3.2l1 .8v3l1-.1v-3.4l1-1v4.6l1 .8v-4.2l1-.5v4.5l1-.4v-4.8l1 .2v3.3l1-.2v-3.3l1 .5v2.9l1-.3v-2.4l1-.5v2.9l1 0v-3.1l1 .6v2.4l1 .1v-3.2l1 .2v3.1l1 .4v-3.7l1 .5v3.8l1-.4v-4.1l1 .5v4.4l1-.5v-3.6l1-.8v3.6l1 .1v-3.3l1-.7v4.3l1-.4v-3.2l1-1v4.6l1-.4v-3.9l1 .4v3.9l1-.2v-3.4l1 0v2.8l1 .1v-3.5l1 .3v3.6l1 .2v-3.7l1-.2v3.3l1-.2v-2.8l1 .5v2.3l1 .2v-2.9l1 .1v2.9l1 .4v-2.5l1-.2v2.4l1 .3v-3.2l1-.7v3.9l1 .8v-3.1l1-.1v3.5l1-.7v-3.3l1 0v3.1l1 .5v-4.5l1 .9v3l1 .3v-2.8l1-.5v3.2l1 0v-3.2l1 0v3.3l1-.2v-3.4l1 .1v3.5l1 .7v-4.1l1 .5v3.5l1-.8v-2.7l1 .2v3.6l1-.8v-3.1l1 .1v2.7l1 0v-2.2l1-.1v2.7l1-.1v-3.1l1-.2v3.2l1 .3v-3.3l1-.5v4.4l1-.7v-3.5l1-.5v5.4l1-.7v-4.2l1-.3v4.4l1 .1v-5.7l1-.2v6.2l1 .5v-7.3l1-.2v6.9l1 .9v-6.9l1-2.5v11.3l1-1.2v-8.5l1-1.7v9.1l1 .6v-9l1-1v10.4l1-.7v-7.5l1-.9v10.1l1 .4v-11.3l1 0v12.4l1-1.8v-9.5l1 .1v9.7l1-.6v-7.2l1-2.7v9.9l1-1.5v-6l1-.9v6.2l1-.4v-4.3l1 .7v3l1-.1v-3.7l1 .9v2.7l1 .6v-3.3l1-.7v4.1l1-.2v-3.8l1 .2v4.2l1-.7v-3.8l1-2.5v8.3l1-1.8v-4.2l1 .8v3.2l1 .1v-3.4l1-.4v3l1 .8v-4.4l1 .1v3.7l1-.3v-3.4l1 .3v4.3l1-.3v-4.3l1 .5v3.7l1 .2v-4l1 0v3.6l1 .8v-4.8l1 .9v4.1l1-.8v-5.2l1 .6v4l1 .1v-4l1 1v3.7l1-.5v-3.3l1-.2v3l1 .7v-3.6l1-.1v3.6l1 0v-2.7l1-.4v4.3l1-.5v-3.7l1 0v3.1l1 .5v-3.4l1 0v3.3l1 .1v-2.9l1-.3v3.5l1-.4v-3.8l1 .4v4.3l1-.8v-3.2l1 .2v3.3l1-.5v-4l1 .5v4l1 0v-4.3l1 .5v4l1-.1v-4.7l1 .3v3.5l1 .2v-3.5l1-.8v3.6l1 1.1v-4.6l1 .7v3.6l1-.1v-3.6l1-.6v3.9l1 .2v-4.1l1 .3v4l1 .2v-3.5l1-.7v4.1l1 .4v-4.1l1-.5v3.9l1-.1v-3.5l1-.4v3.8l1 .3v-3.4l1 .1v3.2l1-1.1v-3l1-.1v4.3l1-.2v-3l1-.6v3.3l1 1v-4.4l1 .2v3.8l1-.2v-3.6l1-.2v4l1 0v-3.9l1-.2v3.9l1-.1v-3.5l1 .3v3.4l1-.4v-2.6l1-1v3.4l1-.2v-3l1 1.1v2.3l1 .2v-2.8l1-.1v2.6l1 .3v-3l1-.8v4.2l1 0v-4.4l1 .4v4.5l1-1.4v-3.4l1-.3v4l1-.2v-4.1l1-.6v5.5l1-.5v-4.8l1 .5v4l1 .3v-4.4l1-.4v4.4l1 .9v-4.6l1 .4v4.6l1-1.5v-3.6l1 .5v4l1-.4v-3.4l1-.6v3.9l1 .3v-4l1-.1v3.9l1-.4v-3.7l1 1v4.1l1-.8v-3.6l1-.5v4.5l1 0v-4.7l1 .7v4.4l1-.2v-4.2l1-1v4.5l1-.1v-3.9l1 .5v3.8l1 .3v-4.8l1 .7v3.6l1-.2v-3.4l1-.1v3.9l1 .4v-3.9l1-.3v4.5l1-.5v-3.3l1-.8v4.7l1-1v-3.7l1 .7v4.1l1 .1v-4.8l1 .5v3.5l1-.1v-2.9l1-.1v2.9l1 .2v-3.3l1-.2v2.9l1 .6v-3.3l1-.4v2.9l1 0v-3.5l1 1.3v2.3l1 .1v-2.8l1-.3v3.2l1-.1v-2.6l1 0v1.9l1 .1v-2.6l1 .5v2.4l1 .2v-4.5l1 1.3v3.3l1-.6v-2.6l1-.1v3.8l1-.2v-3.3l1-.1v3.6l1-.6v-3.2l1-.2v4l1-.4v-3.9l1-.9v4.5l1-.3v-3l1 .1v4l1-.3v-3.9l1-.3v3.8l1 .7v-5.3l1 .8v5.3l1-1.1v-3.4l1-1v4.1l1-.2v-3.2l1-.6v3.7l1-.4v-2.7l1-.3v3.3l1 .5v-3.3l1 .5v3l1-.2v-3.1l1-.2v3.7l1-.7v-3.3l1 .1v3.1l1 .3v-2.8l1 .1v2.9l1-.4v-3.2l1-.2v2.9l1 1v-3.8l1 .7v3.7l1-.5v-4l1 .6v3.1l1-.3v-2.8l1-.7v3.5l1 .3v-3.8l1 .2v4.4l1-.4v-3.6l1-.2v3.7l1-.4v-3.1l1-.3v5l1-1.4v-4.4l1 .4v5.1l1 .4v-5.9l1-1.5v7.1l1 .7v-6.9l1 .5v5.5l1-.7v-4.1l1-.3v4.6l1-.5v-3.4l1-.3v3.5l1 0v-2.9l1-.8v3.3l1 .9v-3.9l1 .7v3l1-.5v-3.1l1-2.3v7.3l1-1.7v-3.2l1 .3v2.9l1-.2v-3.1l1 .2v3.3l1 .3v-3.7l1-.1v3.1l1 .3v-3.1l1 0v3.2l1 .4v-3.2l1 0v3.7l1-1.3v-3.3l1 .2v3.7l1-.6v-3.7l1 .7v3.8l1-.3v-3.8l1-.4v4.5l1 .1v-4.3l1 .3v5.6l1-1.6v-3.9l1 .1v3.2l1 .5v-3.3l1-1.6v6.4l1 1.1v-10.1l1 .4v13.6l1 4.3v-23.8l1 5.5v10.8l1 .3v-12.3l1 4v6.5l1-1.9v-3.2l1 0v3.4l1-.1v-3.2l1 0v2.9l1 .8v-3.6l1-.8v4.4l1-.6v-3.7l1-.5v4.6l1 .7v-4.6l1 0v3.9l1 .2v-4.2l1-.7v4.1l1-.3v-3.7l1 .3v4.3l1 .2v-3.8l1-.9v4.2l1 .2v-4l1 .5v3.3l1-.1v-3.2l1 .5v3.1l1-.1v-4l1 .1v3.5l1 .6v-3.9l1-.4v3.7l1 .7v-4.1l1-.3v3.5l1 .1v-3.2l1 .2v2.8l1 .2v-3.5l1-.1v3.9l1-.5v-3.8l1 .3v3.7l1 .2v-3.8l1 .6v3.6l1-.6v-3.4l1 .2v3.3l1-.7v-3.2l1 .9v3.2l1-.9v-2.9l1-.2v3.4l1-.1v-2.6l1 .1v3.2l1-.7v-2.7l1-.4v2.7l1 .6v-3.1l1 .1v2.8l1-.7v-3.5l1 1.1v3.4l1-.2v-3.5l1-.3v4.1l1 0v-4l1 .5v2.6l1-.1v-2.6l1-.2v2.9l1 0v-2.7l1-.5v3.8l1-.8v-4.4l1 1.4v3.6l1 .2v-3.6l1-1v4.9l1-.4v-3.3l1-.1v3.3l1 .2v-3.6l1 .7v3.7l1-1v-2.9l1-.8v3.3l1 1.4v-3.9l1-.6v3.9l1 .2v-4.3l1 .5v4.1l1-1.3v-3.3l1 .2v3.9l1-.3v-3.2l1 .1v2.7l1 .4v-4l1 .3v3.9l1-.7v-3l1-1.2v4.7l1 1.7v-6.3l1-6.8v18.8l1-.9v-15.6l1 4.8v5.9l1-1.8v-3.6l1-.3v3.9l1 .2v-3.5l1 .4v2.9l1 .8v-3.6l1-.2v3.8l1-.6v-3.3l1-.2v3.6l1-.4v-2.9l1-.9v4l1 .6v-4.3l1 0v3.3l1 1v-3.8l1-.9v4.3l1-.1v-3.9l1 .5v3.7l1-.4v-3.4l1-.5v3.4l1 .3v-3.5l1 .5v2.7l1 .5v-3.5l1-.2v4.2l1 .9v-4.6l1-.6v4.1l1-.2v-4.2l1-.1v4.8l1-.4v-4.2l1 .8v4l1-1v-3.2l1 0v3.6l1-.8v-3l1-.2v3.3l1 .6v-3.1l1-.2v3.2l1 .3v-3.2l1-1.5v5l1 0v-3.7l1-.7v3.5l1 .9v-4.3l1-.2v4.2l1-.1v-3.4l1-.3v4.6l1-1.1v-3.5l1-.1v3.6l1 .1v-3l1-.3v3.6l1-.4v-3.1l1-.3v3.6l1 .5v-3.7l1 .1v4.3l1-.9v-3.2l1-.3v3.5l1-.2v-3.4l1 0v4l1-1.1v-3.3l1 .4v2.6l1 .1v-2.4l1 0v2.7l1 0v-3l1-.1v3.5l1 .4v-4.4l1 .3v3.5l1 .5v-4.1l1-.1v3.8l1 0v-3.9l1 .2v3.6l1-.4v-2.6l1-.2v3.2l1-.7v-3.4l1 .6v3.2l1 .2v-2.9l1 .1v2.5l1 .9v-4l1 .4v3.3l1 .1v-3.7l1 .1v3.5l1 .1v-4l1 .1v4.1l1-.6v-4.1l1 1.1v3.6l1 .4v-4.2l1 .2v3.5l1-.1v-2.9l1-.3v3.3l1 .5v-3.8l1-.5v4.4l1-.7v-4.1l1 1v3.5l1-.5v-3.1l1-.7v3.8l1 .2v-3.6l1 .1v3.7l1-.6v-3l1-.5v4.2l1 .8v-3.8l1-1.1v3.2l1 .9v-3.3l1-.4v3l1 1.3v-3.6l1-.1v2.9l1 .2v-4l1 0v3.8l1-.3v-3.7l1 0v3.7l1-.1v-3.2l1 0v3.3l1 .6v-3.7l1-1.2v5l1-.5v-4.1l1-.1v3.9l1 .3v-3.5l1 .1v3l1 .2v-3.7l1 .4v2.8l1 .5v-3.3l1-.2v3.8l1-.4v-2.5l1-.1v2.6l1 .1v-3.1l1-.2v3l1 .1v-3.2l1 .5v3.3l1 0v-3.5l1 .4v3.6l1-.4v-3l1-.3v4l1-.7v-4.1l1 .3v4.3l1-.4v-4.3l1 .2v4.2l1-.1v-3.4l1-.6v4.2l1-.7v-3.6l1 0v3.6l1 .3v-4.1l1 1.1v3.2l1 .1v-3.9l1 .7v3.8l1-1.5v-3.6l1 .2v4.1l1 0v-3.3l1-.3v4.2l1-1.2v-2.7l1-.6v4.1l1 .1v-3.8l1-.9v4.8l1 0v-3.9l1-.1v2.8l1 .6v-4l1 .3v3.6l1-.4v-3.5l1 .3v3.3l1-.1v-3.2l1-.2v4l1 1.2v-4.6l1-.3v4.2l1-.4v-4.8l1 .3v4.2l1-.6v-3.3l1-.9v3.9l1 .1v-2.9l1-.1v3.7l1 .3v-4.7l1 0v4.2l1-.1v-3.7l1 .6v3.8l1-.3v-3.5l1-.5v3.8l1 .1v-3.8l1 .1v3.5l1-.3v-3.5l1-.3v3.8l1-.1v-4.5l1 .7v3.9l1 .2v-3.9l1 .5v2.9l1 .9v-3.8l1-.6v3.9l1-.3v-2.9l1 .2v3.3l1 .1v-3.1l1-.1v4.2l1-.9v-3.5l1-.2v3.6l1 .6v-3.6l1 .2v2.5l1 .8v-3.1l1 .2v3l1-.4v-3.3l1 .1v3.6l1-.7v-2.5l1-.4v2.7l1 .1v-3l1 .4v2.6l1 .2v-3.2l1-.1v2.9l1 .3v-3.9l1 .5v4l1-.5v-2.9l1-.5v3.6l1 0v-4l1 .6v2.8l1 .6v-3.8l1 .7v3.9l1-.9v-3.4l1 .2v3.9l1-1.1v-3.2l1 .4v2.9l1-.1v-3.5l1 .6v3.4l1-.5v-3.2l1 .6v2.6l1 .3v-3.3l1 0v3.2l1-.3v-3.5l1 .9v2.9l1 .6v-4.4l1 .4v4.4l1 0v-4.2l1 0v4.6l1-1v-3.8l1 0v4l1 .1v-4.1l1 .6v3.6l1-.2v-4l1 .8v2.9l1-.8v-2.7l1-.3v4l1-.2v-3.8l1 .6v3.3l1-.7v-2.9l1-.9v3.7l1 .4v-4.1l1 .4v3.6l1 .1v-4.5l1-.1v4.7l1 0v-5l1-.6v6l1-.5v-4.1l1 .5v4.1l1-.2v-4.5l1-.4v5l1 0v-4.8l1 .4v4.1l1-.2v-3.6l1 .7v3.7l1-1v-3.3l1 .4v2.9l1 .7v-4.1l1 .7v3.5l1-.1v-3.7l1 .1v3.3l1-.2v-2.8l1-.5v3.4l1 .2v-3.4l1-.1v3.9l1-1.1v-3.4l1 .6v3.9l1-.2v-3.4l1-.1v3.5l1 .6v-4.4l1-.7v4.6l1-.1v-3.4l1-.6v4.5l1-.3v-3.9l1-.3v4.5l1-.4v-4l1 .7v3.4l1-.5v-3.9l1 .6v3.6l1-.8v-3.7l1 .4v3.9l1 .8v-4.4l1-.7v4.8l1-.8v-3.9l1 .7v2.8l1 .3v-3.8l1 .3v4l1 0v-4.2l1-.4v4.6l1 .8v-4.5l1 0v4l1-.6v-3.6l1-.2v2.9l1 1.1v-3.4l1-.3v3.2l1 .8v-4l1 .3v2.7l1 .2v-2.7l1-.5v3.5l1-.1v-2.7l1-.6v4.1l1-.3v-4l1 .4v4.1l1 .8v-4.3l1-.3v2.7l1 .6v-3.9l1 .4v3.1l1-.3v-3.3l1 .6v2.5l1 .7v-3.5l1 .6v3l1-.2v-3.1l1-.1v3.4l1 .3v-3.6l1-.5v3.7l1 .1v-3.7l1-.4v4.4l1 .5v-4.6l1 0v3.8l1 .1v-4.4l1 1.1v3.6l1-.6v-3.4l1-.8v3.7l1 .6v-3.9l1 0v3.2l1 .3v-3.6l1-.6v3.6l1 .5v-3.1l1-1v4.6l1-.4v-3.6l1 .3v3.4l1-.2v-3.7l1 .8v3.6l1-.7v-3.3l1-.4v4.2l1-.4v-3.9l1 .5v3.3l1 .2v-4l1 0v3.3l1 .2v-3.4l1 0v3.2l1 .5v-3.6l1 .6v3.1l1 .6v-3.8l1-.3v3.6l1 .8v-3.9l1 0v3.8l1-.7v-3.4l1 .6v2.7l1 .1v-3.2l1 1v2.5l1 .1v-3.5l1 .6v2.9l1 .7v-4.1l1 0v3.4l1 .2v-3.8l1 .7v3.1l1 .3v-4.1l1 .9v3l1-.2v-3.3l1 .4v3.1l1 .2v-3.3l1-.5v4.1l1-1.6v-2.2l1-.3v2.5l1 .7v-3.5l1 .4v3.7l1 .5v-5.1l1 0v4.3l1 .3v-4.7l1 .3v4.3l1 .3v-4.5l1 .3v3.6l1 .7v-4.2l1-.1v3.7"/>
<path class="tr" stroke="#ff0000" d="M138.5,228.1v4.7l1-.9v-4.5l1 1.5v3.2l1 .8v-5l1 1.1v3.9l1-.7v-3.7l1-.1v4.1l1 .1v-3.8l1-.4v5.4l1-1.2v-3.4l1-.3v3.5l1 .6v-3.8l1-.6v3.6l1 0v-3.1l1 .1v4.7l1-.4v-4.2l1-.3v4.6l1-.6v-4l1-.3v3.9l1-.2v-3.6l1 .5v3.8l1-1v-3.4l1 .3v4.1l1-.3v-4.2l1 .1v4l1 .4v-4.5l1-.3v4.7l1-1.1v-3.3l1 .1v3.9l1 .1v-3.3l1-1.3v4.1l1 0v-3.6l1 0v3.4l1-.6v-3.6l1 .6v3.9l1 .4v-4.1l1-1.2v5.4l1 .4v-4.5l1 0v3l1 .5v-4l1 .3v3l1-.2v-3.3l1 .5v3.4l1 .1v-3.3l1-.3v4l1 0v-4.1l1 .7v3.1l1-.3v-3.4l1-.5v4.4l1 0v-4.8l1-.2v5.2l1-.2v-3.8l1-.7v4.5l1 1.4v-4.5l1-.5v4.6l1-.7v-3.8l1-.4v4.8l1 .1v-4.8l1 .5v4.5l1 .1v-4.9l1 .3v3.9l1 .9v-6l1 1.4v5.1l1-.3v-5.7l1-.4v4.8l1 1.3v-5.4l1-.3v4.6l1 .4v-4.9l1-.2v3.9l1 .8v-4.3l1-1v4.4l1 1.3v-5.3l1 .5v3.2l1 .7v-4l1-.6v4.3l1 .7v-4.5l1 .2v3.6l1 .5v-4.5l1 .3v3.6l1-.6v-3.4l1 .2v3.5l1 .4v-3.9l1 0v3.8l1 .6v-3.9l1 .5v2.8l1 0v-4.2l1 1.2v3.2l1 .4v-4.3l1 .4v3.3l1 1.1v-4.3l1 .2v4l1 .2v-4.6l1 0v4.5l1-.3v-4.4l1-.2v4.8l1 .2v-5.4l1 .3v4.6l1 .2v-4.7l1 .9v3.2l1 .1v-3.4l1 .3v3.1l1 .5v-3.4l1-1.1v4.4l1 .3v-5l1 .3v4.7l1 .4v-5.3l1-.2v5.2l1-.5v-3.9l1-.3v3.5l1 0v-3.6l1 1.3v2.9l1 .9v-3.9l1-1.2v3.8l1 1.1v-4.3l1 .2v3.4l1-.3v-3.1l1-.4v3.9l1-.1v-4l1 .7v3.6l1-.8v-3.7l1 .1v5.2l1-1.4v-4l1 0v3.4l1 .2v-3.5l1 .2v3.9l1-.3v-3.2l1-1v4.3l1 .5v-4l1-.5v3.1l1 .3v-4l1 .7v3.8l1 .4v-4.8l1 .7v3.8l1 0v-4.1l1 .5v3.4l1 .1v-3.1l1-.1v3l1-.4v-2.9l1-.4v3.8l1-.1v-3.7l1 .5v3.9l1-.4v-3.5l1-.4v4l1 .1v-3.8l1 .4v3.3l1-.1v-3.3l1-.9v3.4l1 .5v-2.6l1-.7v3.8l1-.2v-3.6l1 .3v4.1l1-.9v-3.1l1-.1v3l1 .9v-4l1 .1v3.8l1-.5v-3.8l1-.7v5.6l1 1.7v-7.1l1-2.2v9.5l1 1v-10.9l1 2.3v5.4l1 .6v-5.4l1-.6v4.8l1-.1v-3.5l1-.3v3l1 .2v-3.2l1 0v3.1l1-.3v-3.4l1 .3v5.1l1-1.2v-4.2l1 .8v3.5l1-.2v-3.8l1-.1v4.3l1-.1v-3.6l1-1v3.8l1 1v-4.2l1 .2v4.2l1-1.1v-4l1 .6v4.3l1-.4v-3.9l1 0v4.2l1 .1v-3.8l1 0v3l1 .5v-4l1-.1v4.3l1 .2v-4.1l1-.2v3.9l1 .1v-4.1l1 .8v2.8l1-.7v-2.8l1 .3v3.2l1-.2v-3l1-.3v3.3l1 .4v-3.4l1 .1v3.6l1-.3v-3.5l1-.1v4l1-.3v-3.1l1-1.1v4.6l1-1v-4l1 .2v5.7l1-1.4v-3.8l1 .1v3.6l1 1.2v-5.5l1 .7v3.3l1 .2v-3.3l1-.1v3.3l1 .3v-3.8l1-.2v4.4l1-.2v-4.6l1 .9v3.5l1 .8v-4.9l1 0v5.1l1-1v-4.6l1 1.1v4.1l1-.9v-4.4l1 .8v4.3l1-.4v-4.1l1-.2v4.3l1 1v-4.4l1-.5v5l1-.6v-4.1l1-.3v4.5l1 .2v-3.8l1-.2v4.7l1-1.9v-3l1-.6v4.2l1 .5v-4.4l1 .8v3.6l1-.9v-3l1-.5v3.7l1-.2v-2.8l1-.1v4.1l1 .3v-4.8l1-.6v4.4l1 .6v-5.2l1 .3v4.7l1-.7v-3.7l1-.5v4.5l1-.6v-3.1l1 .1v3l1-.2v-3l1-.3v3.5l1 0v-3.3l1 .8v2.9l1-.8v-2.2l1-.4v3.5l1 .3v-3.5l1-.6v3.1l1 .1v-3.6l1-.6v4.8l1 .3v-4l1 .2v4.4l1-.3v-4.2l1-.7v4.3l1 .5v-4.6l1-.3v4.5l1 .4v-4.4l1 .1v3.8l1-.7v-3.4l1 .1v3.8l1 .2v-4.3l1 1.2v3.2l1 .1v-4.2l1 .2v4.1l1-.6v-3l1-.6v5.5l1-1.4v-3.5l1 .2v3.7l1-.4v-4.3l1 .3v4.8l1-.3v-4.8l1 .8v3.6l1 0v-3.9l1 .6v3.3l1-.1v-3.7l1 .2v4.2l1 0v-4.1l1-.8v4.4l1 .9v-4.8l1 0v3.7l1 .7v-3.9l1-.5v4.2l1-.4v-3.1l1 0v3l1-.1v-3.1l1-.3v3.5l1 .2v-3.9l1-.1v4.1l1 0v-2.9l1-.8v3.8l1 0v-4l1-.1v3.6l1 .3v-3.5l1-.5v4.5l1-.5v-3.8l1 .1v3.3l1 1.1v-4.1l1 .1v3.7l1 .6v-4.5l1-1v4l1 .3v-4.3l1 .2v4.7l1 0v-4.2l1 .7v4.6l1-1.8v-4.1l1 .9v3.7l1 0v-3.8l1 .1v4.2l1-.4v-3.5l1-.9v4.3l1-.2v-4l1 .7v4.2l1-.1v-5.3l1 .9v4.4l1-.4v-4.1l1 .3v4.2l1-1v-3.4l1-1.2v4.4l1 .1v-4l1 .6v3.9l1 .7v-4.4l1-.5v3.6l1-.4v-3.3l1 .7v2.6l1-.2v-2.7l1 .2v2.6l1 .9v-4l1 .1v3.6l1 .2v-3.5l1-.1v4.2l1-.6v-3.5l1 0v3.2l1 .8v-4.5l1 .5v3.2l1 .4v-4l1 .5v4.5l1-.9v-3.5l1 .2v3l1 0v-4.2l1-.9v5.5l1 .3v-4.3l1-.5v4.8l1-.3v-4.2l1-.2v3.6l1-.5v-2.7l1-.9v3.7l1 1.1v-4.2l1 .1v3.4l1 .1v-3.8l1-.3v4.1l1 .4v-4.2l1 .3v3.6l1-.5v-4.8l1 1.4v4.1l1 .2v-4l1 .3v4.8l1-.8v-4.2l1-.6v3.8l1 0v-2.5l1-.9v3.6l1-.1v-3.1l1-.3v3.9l1-.3v-3.3l1-.3v3.9l1 .7v-4.7l1 .5v4.3l1 0v-4.1l1-1v4.8l1-.7v-3.3l1-1v4.5l1-.4v-4.2l1 1v4.2l1-.8v-3.5l1-.1v3.7l1 .4v-4.4l1 .7v3.8l1-1v-3.3l1-.3v4.2l1-.6v-4.4l1 .5v4.1l1 .3v-3.8l1-.5v4l1 .1v-4.1l1 .1v5l1-.8v-3.7l1-.6v3.9l1 0v-3.1l1-.3v2.6l1 .3v-2.6l1-.4v4.1l1-.9v-2.9l1-.7v3.7l1-.1v-3.8l1 .4v3.6l1-.3v-3l1 .2v3.4l1 .7v-4.2l1-.9v5.1l1 .2v-4.9l1-.2v4.9l1-.2v-5.4l1 .3v5.4l1-.7v-4l1 .6v2.8l1 1v-4.1l1-.3v4.6l1-.2v-4.4l1-.8v4.7l1 .5v-4.7l1 .4v5.8l1-2v-4l1 .2v4.5l1-.1v-4.6l1-.1v3.7l1 .5v-3.2l1-.7v4.1l1 .6v-4l1-1.1v3.9l1 .8v-4.3l1-.3v3.5l1 .9v-3.3l1-.6v4l1 .8v-4.5l1 .6v2.7l1-.1v-3.4l1-.1v3.4l1 .1v-3.7l1 .2v3.7l1 .7v-4l1-.1v3.9l1-.9v-3.8l1-.4v3.4l1 .5v-3.1l1-.4v3.2l1 .4v-3.2l1 0v4.3l1-1.1v-3.8l1-.1v4.4l1-.7v-4.1l1 .7v4l1 .8v-4.9l1-.1v4.1l1 .3v-4.1l1-.4v3.8l1 .8v-3.6l1-.2v3.7l1-.6v-2.9l1-.5v3.8l1-.4v-3.2l1 .5v3.8l1-1.1v-3.7l1 1v3.3l1 .4v-4.2l1 .5v4.2l1-.4v-4.5l1 .7v4.2l1-.1v-4.8l1 .5v4.6l1-.5v-4.6l1 1v3.2l1 .3v-3.5l1-1.2v4l1 .3v-4.3l1 1v4.2l1-.2v-4.6l1 .7v3.4l1-.4v-4.1l1 .9v3.5l1 1v-5.2l1 .9v4.2l1 .3v-5.4l1 .6v4.8l1 .1v-4.8l1-1.2v5.8l1 .1v-4.9l1-.2v4l1 .9v-4.8l1 .7v3.5l1 .6v-3.9l1-1.8v5.6l1-.2v-4.1l1-.3v3.9l1 .2v-3.7l1-.7v4.4l1-.1v-3.9l1 .2v3.7l1-.1v-4.7l1 .1v4.7l1 .4v-5.4l1 1.2v3.9l1-.8v-3.5l1 .3v4.1l1-.2v-4.2l1 .7v3.9l1-.6v-4.2l1 .3v4.1l1 .2v-4.2l1 .1v4.1l1-.6v-3.9l1 .4v4.3l1-.3v-3.9l1 .7v2.7l1 .3v-3.6l1 .4v3l1-.2v-3.2l1 .5v3.2l1-.1v-3.7l1-.4v4.5l1 .1v-4.3l1 0v5.1l1-1.6v-4.9l1 .9v4.8l1 .2v-4.4l1-.2v3.8l1-.1v-3.1l1 .4v3.5l1-.1v-4.1l1 .2v4.2l1-.8v-2.7l1-.9v4.1l1-.3v-3.7l1-.4v4l1 .3v-4.4l1-.3v4.7l1-.7v-3.4l1-.1v3.3l1-.5v-3l1 .3v4.1l1-.8v-2.8l1-1v3.4l1 .2v-3.1l1-.2v3.3l1 .8v-4.4l1-.5v4.5l1-.5v-3.7l1-.2v3.8l1-.2v-3.2l1-.1v3.5l1-.1v-2.8l1-.2v3.6l1-.2v-3.7l1 0v3.6l1 .1v-3.7l1-1v4.9l1 .1v-5l1-.6v5.2l1 .3v-4.3l1 .1v4.7l1-.4v-4.5l1-.2v4.8l1 .1v-4.1l1-1v3.9l1 .6v-4.4l1 .5v3.5l1 .9v-5.5l1 1.1v4.5l1 0v-4.8l1 .6v3.9l1-.1v-3.5l1 .1v3l1-.1v-3l1 0v3.9l1-.2v-3.9l1-.9v4l1 1v-4.1l1 .4v3.9l1-.4v-3.3l1-1v4.6l1-.7v-4l1 .7v3.9l1-.1v-4.2l1-.1v4.3l1 .1v-4.2l1-.3v5.1l1-.6v-3.9l1 .4v3.8l1-.7v-4.1l1 .4v4.5l1-.5v-4.3l1-.2v4.2l1 1.3v-4.3l1-.1v4.7l1-1.2v-3.7l1 .7v3.8l1 1.3v-5.1l1-1.5v4.9l1 .4v-5.2l1 .7v3.5l1 .7v-4.2l1-.7v5.9l1-1.1v-4.7l1-.4v4.8l1-.1v-4.1l1-.3v4.2l1 .8v-5.5l1 1v4.7l1-.6v-5l1 .4v5.5l1-.5v-4.1l1-1.4v4.6l1 0v-4.9l1 .8v3.7l1 .8v-5.1l1 .8v4.2l1-.2v-5.6l1 1.1v4.1l1 .7v-3.9l1 .3v3.4l1-.8v-3.6l1 .4v3.3l1-.5v-3.2l1-.1v3.5l1 .7v-3.3l1-1.3v3.9l1-.3v-3.2l1 .2v3.1l1 .6v-3.4l1-.3v4l1-.2v-3.1l1-.9v4.1l1 0v-4.3l1 .6v3.9l1 .2v-4.4l1 .5v4.5l1-.3v-4.2l1 0v4.1l1 .7v-3.9l1-.3v4.1l1-1.4v-3.6l1 .9v3.9l1-.4v-3.3l1-.5v4.3l1-.4v-4.1l1 .5v3.5l1-.5v-3.2l1-.5v3.5l1 0v-3.5l1 0v3.9l1-.5v-3.9l1 .5v3.6l1 1v-3.9l1-.3v3.6l1 .5v-4.1l1-1v4.9l1 .3v-4.3l1-.3v4.3l1-.4v-4.8l1 .8v4.2l1-.1v-4.1l1 .4v3.1l1 .5v-3.8l1 .3v3.4l1-.7v-3.2l1 .3v3.5l1 .5v-4.1l1 .5v3.5l1-.2v-3.6l1-.5v4l1 .3v-4.6l1 .2v4.6l1-.4v-3.9l1-.3v4.3l1 .2v-4l1-.7v5.7l1-.1v-5.9l1-.1v5.3l1-.5v-4.8l1 .4v4.2l1-.8v-2.5l1-.3v2.7l1 .5v-2.7l1-.2v3.5l1-.6v-3.7l1-.1v4.2l1-.5v-2.8l1-.3v3.3l1 0v-3.5l1-.3v4.1l1-.3v-3.5l1 .5v3.4l1 0v-3.3l1 .4v2.9l1-.1v-3.4l1-.5v4l1 .1v-3.9l1 .1v3l1 .2v-2.8l1-.2v3.9l1-.3v-3.4l1-.5v2.9l1 .5v-3.4l1-2.1v7.8l1-1.2v-4.2l1-1.4v4.9l1-1v-3.6l1-.1v4.1l1 .7v-4.4l1 .3v3.4l1 .8v-4.1l1 .2v3l1 2.5v-7.8l1 1.9v3.9l1-.7v-2.7l1-.3v3.2l1-.1v-3l1 .1v3.4l1 .3v-3.7l1 .4v3.6l1-.1v-3.9l1 .4v2.7l1 .7v-3.8l1-.4v4.9l1-.6v-3.7l1 .2v3.9l1 .3v-4.5l1 .2v4.7l1-.9v-3.7l1 .3v3.1l1-.4v-2.9l1-.4v3.2l1-.1v-3.2l1 .5v3l1-.1v-2.6l1-.9v3.3l1 1.1v-3.5l1-.8v4.3l1-.7v-3.7l1 .7v3.1l1 .1v-2.9l1-.7v3.2l1 .2v-3.5l1 0v3l1 .1v-2.6l1-.4v3.5l1-.2v-2.9l1-.2v3.9l1 .3v-3.9l1-.2v3.7l1 .2v-3.8l1-.2v3.2l1-.7v-2.7l1 .1v3.4l1-.1v-3.2l1-.4v4.1l1 0v-3.3l1-.4v4l1 .5v-4.1l1-.1v4.2l1-1.1v-3.6l1-.1v3.2l1 .5v-4l1-.2v4.2l1 .7v-5.2l1 .8v4.2l1-.1v-4.2l1-.5v4.6l1-.5v-3.2l1-.8v4.3l1 .2v-4.7l1 .9v3.2l1 .8v-4.2l1-.1v3.6l1 .6v-3.6l1-.7v3.9l1 .6v-3.8l1 0v3.9l1-.7v-3.1l1-1.4v4.6l1 .3v-4.6l1-.3v4.4l1 .9v-5.1l1 .6v4.8l1-1v-3.6l1-1.1v4.1l1 .8v-3.5l1-.3v3.6l1-.3v-3.5l1-.2v4.2l1-.4v-3.3l1-.4v3.5l1 .6v-3.6l1-.4v3.9l1 .2v-4.1l1-.5v4l1 0v-3.7l1 .9v3.3l1-.4v-3.5l1-.1v3.5l1 1.2v-4.4l1-.9v4.4l1 1.9v-5.8l1 .6v3.3l1-.5v-2.6l1-.6v3.4l1-.1v-3.2l1-.3v4.3l1-1.2v-3.2l1-.2v3.6l1 1.2v-5l1-.1v4.6l1 1.7v-7.6l1 1v4.1l1 0v-3.8l1 .6v3.3l1-.3v-2.6l1 0v2.9l1-.1v-4.2l1 .8v4.3l1 0v-4.6l1-.8v5.1l1-.1v-5.4l1 1.6v3.2l1 .5v-4.7l1 .5v4.5l1-.8v-3.5l1-.7v3.9l1 .5v-3.6l1-.6v4.3l1-.2v-4l1-.2v3.9l1 .4v-4.4l1 1v3.8l1-.6v-4l1 .3v4.4l1-.7v-3.8l1 .2v3.3l1 .7v-3.9l1 .2v2.9l1 1.2v-3.6l1 0v3l1-.1v-2.8l1-1.3v3.9l1 1.1v-4.3l1 0v3.7l1 1.6v-5.8l1 .1v4.2l1 .4v-4.5l1 .9v3.2l1 .7v-3.6l1-.8v5l1-.9v-4.3l1 .3v4.3l1-.4v-5.2l1 1.3v3.6l1 .4v-4l1-.5v3.4l1 1v-4.9l1 1.4v3.4l1 .7v-4.8l1-.3v4l1-.2v-3.5l1 .3v4.4l1 .2v-4.7l1 .2v4.4l1-.5v-3.9l1-.6v4.4l1-.8v-3.5l1 .1v3.3l1 .7v-4l1 .8v3.9l1-.5v-4.2l1 .5v3.6l1-.6v-2.7l1-.5v3.7l1 .4v-3.9l1 .4v2.9l1 .6v-4.1l1 0v3.7l1 .7v-4.6l1 .1v4.4l1 .7v-4.8l1-.2v4.2l1 .7v-4.2l1-1v6.6"/>
<path class="tr" stroke="#0000ff" d="M138.5,260.3v3.3l1 .4v-3.8l1 .9v3.2l1 .5v-4.7l1 .2v4.4l1-.4v-4l1 .1v4l1-.1v-4l1 .7v3.8l1-.4v-3.7l1 .7v2.8l1 .9v-4.1l1-1v4.6l1 .3v-4.5l1 0v3.5l1 .5v-4l1 .2v3.4l1 .4v-5.4l1 1.6v3.4l1 .6v-4.5l1 .8v4l1-1.2v-3.2l1-1v4.5l1-.1v-4.1l1 .1v3.6l1 .6v-3.9l1-.3v4.2l1-.2v-4.4l1 .3v4.6l1-1.1v-2.9l1-.4v3.9l1-.4v-4l1 1.2v3.2l1-.4v-3.6l1 0v3.6l1-.3v-3l1 0v3.5l1 .4v-4l1-.2v4.6l1-1.3v-3.7l1 0v3.9l1 .5v-4.4l1 .3v3.7l1 .7v-3.9l1-.1v4.2l1-.3v-4l1-.2v3.9l1-.4v-3l1-1.8v5l1-.1v-4l1 .7v3.7l1-.5v-2.9l1-.4v3.5l1 .5v-4.1l1 .1v3.1l1 .1v-3.5l1 0v4l1 .2v-3.9l1 .6v3.7l1-.3v-3.4l1-1v3.6l1 1.2v-4.9l1-.1v4.3l1 .9v-3.8l1-.7v4.9l1 .4v-4.8l1-.1v4.9l1-.2v-4.2l1-.7v4.5l1-.9v-3.8l1 .7v3.5l1 .7v-4.8l1-.3v4.2l1 .6v-4.5l1 .7v3.6l1-.2v-5l1 1.1v4.8l1-.4v-5.4l1-.6v5.3l1-.3v-3.7l1 .2v3.6l1-.6v-3.9l1 .6v2.9l1 .9v-3.8l1-.2v3.8l1-.4v-3.1l1-.4v3.1l1 0v-2.6l1-.1v2.9l1 .4v-3.7l1-.2v4.1l1 .3v-4.3l1 0v3.8l1 .5v-4.3l1-.2v3.6l1 .7v-4.6l1 .2v4.1l1 0v-4.1l1 .6v3.3l1-.3v-2.7l1 .1v2.8l1-.1v-3l1-.1v2.8l1 .4v-2.9l1-.7v3.7l1-.1v-2.9l1-.5v3.2l1-.3v-2.6l1 .3v2.9l1-.2v-2.7l1 0v3.1l1 .7v-4.3l1 .1v4.3l1-1v-3.4l1 .3v2.9l1 .1v-3.3l1-.2v3.6l1 .1v-3.1l1 .1v3.8l1 0v-5.1l1 .6v3.8l1 .4v-4.8l1 1.2v3.7l1 0v-4.1l1 .2v3.8l1 .3v-4.7l1 .3v4.2l1 .8v-4.1l1-.5v5.4l1-1.1v-5l1 1.3v4.1l1-.6v-4.6l1 .3v4.6l1-.6v-3.8l1 .4v3.6l1-.3v-4.1l1 .7v3.9l1-.8v-3.6l1 0v3.8l1 .3v-4.1l1-.5v4.5l1 1.1v-4.8l1-.7v4.3l1 .5v-4.6l1 .4v4.4l1-.1v-4.6l1 .8v3.6l1-.6v-3.1l1-.3v3.6l1 .7v-4l1-1v4.5l1 .3v-5.2l1 .4v4.7l1-.9v-3.9l1 .9v4.6l1-.7v-3.9l1 .1v4.3l1-1.1v-3.9l1 .4v4.1l1 .1v-4.9l1 .7v4.2l1 .5v-4.6l1-.1v4.2l1 .3v-4.2l1 .1v3.8l1-.6v-3.8l1 .9v3.4l1-.1v-3.5l1 .6v3.4l1 0v-3.2l1-1.4v3.9l1-.1v-3.3l1 .3v4.2l1-.3v-4.1l1-.3v4.6l1 .2v-5.3l1 .5v4.2l1-.2v-4.2l1 .3v4.2l1-.6v-3.8l1-.5v3.7l1 .9v-4.2l1-.3v3.9l1-.4v-2.8l1-.2v2.6l1 .4v-2.9l1 0v2.5l1 .6v-3.6l1-.1v4l1 .2v-4.4l1 .6v3.8l1 0v-3.7l1 0v3.8l1-.7v-2.9l1-.8v3.8l1 .7v-4.3l1 0v4.7l1-.8v-3.5l1-.2v4l1-.5v-4.6l1 1v3.4l1 .7v-4.2l1-.4v3.7l1 .5v-4.1l1 1v3.7l1-.6v-4.5l1 1.2v3.5l1 0v-3.4l1 .1v3.7l1-.2v-3.7l1 .4v3.8l1-1v-3.4l1 .6v2.8l1 .2v-2.9l1-.8v3.2l1 .3v-2.5l1-.4v3.7l1-.2v-3.8l1-.6v4.1l1 .3v-3.7l1 .3v3l1 .5v-3.8l1-.4v3.7l1 .7v-3.3l1-.3v2.6l1 .6v-3.1l1-.2v2.9l1 .8v-3.3l1-.6v3.2l1 .8v-4.4l1-.1v4.9l1-.8v-4.6l1 .5v4.4l1 .9v-4.3l1-.6v3.4l1 .7v-3.9l1-.5v3.9l1 .3v-3.5l1-.8v3.9l1 .5v-4.6l1 .1v4.3l1 .5v-4l1 .4v2.9l1-.4v-3.3l1-.4v4.7l1-.3v-3.9l1 .1v3.4l1-.2v-3l1-.9v3.6l1 .9v-3.8l1-.7v3.8l1-.4v-3.4l1 .1v4.1l1-.7v-4.2l1 .9v4.7l1-.7v-4.8l1 .3v4.6l1 .2v-3.7l1-1v4.4l1-.2v-2.9l1-.7v2.9l1 1v-3.4l1-.4v3.3l1 .3v-3.8l1 .1v3.3l1-.4v-3.2l1 .5v2.9l1 .5v-4.1l1 .3v4.2l1 .1v-4.3l1 1.1v3.5l1-.1v-3.7l1-.2v3.2l1 .8v-4.9l1 .9v3.6l1 .1v-5.4l1 .7v5.3l1-1.2v-4.4l1 .5v4.4l1-.6v-3.4l1 .6v2.4l1-.2v-2.7l1-.3v3.5l1 0v-3.3l1-.5v4l1 .1v-3.3l1-.8v3.5l1 1v-4.8l1 .4v3.9l1 .3v-4.5l1 .2v4.4l1-.2v-4.2l1-.6v4l1 .4v-3.5l1-.7v3.7l1 .4v-2.9l1-.7v3.7l1 .3v-4.1l1 .2v3.4l1-.2v-3l1 .1v2.6l1 1.1v-3.7l1-.5v4.1l1-.5v-3.7l1 .3v3.5l1-.2v-3.3l1-.2v3.5l1 .1v-2.4l1-.4v3.7l1-.6v-3.5l1 .8v3.4l1-.3v-3.9l1 .4v4.4l1-.9v-4.7l1 0v4.8l1-.7v-3.8l1-.2v5.2l1-1v-3.5l1-.1v4.6l1-.1v-3.9l1-.5v4.1l1-.3v-3.4l1-.7v3.8l1-.1v-4.1l1 .9v3.3l1 .2v-3.9l1-.4v5.4l1-1.2v-3l1-.2v3.5l1-.4v-2.7l1-.1v3l1-.5v-2.7l1 0v3.7l1-1v-3l1-.2v3.5l1 .1v-4.1l1 .3v3.6l1-.7v-3l1 .2v4l1-.1v-4.8l1 .1v4.7l1-.5v-3.3l1-.3v4.1l1 .4v-4.4l1 .3v4l1-.8v-3.3l1-.6v3.9l1 1.1v-4.1l1 .1v3.8l1 .2v-4.8l1 .2v4.8l1 0v-4.1l1-1.2v5.1l1 .7v-5.1l1 .4v3.9l1-.5v-3.6l1-.6v4.3l1 .8v-5.2l1 .1v5.3l1-.3v-5l1-.2v5.2l1-.9v-4.8l1 .6v4.9l1-1v-3.6l1 .4v3.6l1-.3v-3.8l1 .2v3.4l1-.5v-2.9l1 .5v3.1l1 .3v-4.9l1 1.1v3.8l1-.7v-3.4l1-.6v4.9l1-.6v-4.8l1 1v4.1l1 .4v-5.3l1 .4v4.9l1-.7v-4.1l1 .8v4.2l1-1.3v-3l1-.5v3.4l1-.1v-2.7l1-.4v3.6l1-.4v-3.5l1 .5v3l1 .6v-3.4l1-.2v3.5l1 .4v-3.7l1-.1v3.1l1 1.1v-4.7l1 .6v3.8l1-.1v-3.8l1-.1v3.3l1 2.5v-6.6l1 .2v5.3l1-.1v-5.3l1 .6v4.9l1 .6v-5.9l1-.3v5.2l1-.8v-3.6l1 0v4.2l1 .4v-5.3l1 1.2v4.1l1-.2v-4.6l1 .5v3.1l1 .5v-2.6l1-.4v2.7l1 .4v-3.2l1-.7v4.5l1-1.3v-3.4l1 .3v4.7l1-.4v-5l1 .2v4.1l1 .6v-3.7l1-.7v4.2l1-.4v-4.1l1 1.2v4.5l1-1.2v-3.1l1-.7v4.3l1-1.1v-3.9l1 .9v3.6l1 .2v-3.9l1-.4v4.8l1-.4v-3.7l1 .1v3.6l1-.6v-4l1 .3v2.9l1 .8v-3.5l1 .1v3l1 0v-3.9l1-.1v3.5l1 .4v-3.4l1-.1v3.9l1 .3v-4.7l1 .3v3l1-.3v-2.3l1-.1v2.5l1 1.2v-3.2l1-.6v3.3l1-.2v-3.1l1-.5v4.3l1 .5v-4.5l1 .8v3.7l1-.6v-3.6l1 .7v3.1l1 0v-3.7l1 .7v3.7l1-.4v-3.6l1-.6v4.4l1 .6v-4.8l1 .2v4.2l1 0v-4.6l1-.3v4.6l1-.9v-3.4l1 .5v3.7l1-.7v-3.5l1-.4v3.7l1 .4v-3.4l1 .1v5.2l1-1.4v-4.2l1-.7v5.7l1-.6v-5.6l1-.1v5.3l1 .2v-4.3l1-.8v4.7l1-.7v-4.1l1 .3v3.9l1 .3v-3.3l1 .2v4.1l1-.4v-4.7l1 .2v4.1l1-.7v-2.7l1-.3v3.5l1 .4v-3.6l1-.8v4.4l1 .7v-5.1l1 .8v4l1 0v-3.8l1-.5v3.7l1-.2v-2.8l1 .1v2.3l1 .6v-4.1l1 1.2v2.7l1 .5v-3.7l1 .3v3.8l1 .8v-4.5l1-1.2v4.6l1 .5v-3.9l1-.8v4.3l1 .3v-5.2l1 1.4v3.6l1 .4v-4.5l1 .5v3.8l1-.7v-3.5l1 .5v3.2l1-.3v-3.2l1 .6v2.5l1-.5v-2.9l1-.3v4.2l1-.1v-4.6l1 .3v4.6l1-.5v-4.9l1 .7v4.1l1-.2v-2.9l1-.9v4.1l1 .1v-4.2l1 .1v4l1-.3v-3.4l1-.5v3.9l1 .4v-3.9l1 .2v3.8l1 0v-3.6l1-.5v3.6l1 1.1v-4l1-.6v4.4l1-.4v-4.2l1 0v4.3l1 .7v-3.9l1-.4v3.8l1 .1v-4.2l1 .8v2.7l1-.4v-3.3l1 .2v3.1l1-.2v-3.1l1 .7v3l1-.8v-3l1 .6v3.3l1-.4v-3l1 .1v2.8l1-.6v-2.9l1 .4v2.9l1 .1v-3.1l1 0v3.4l1 .4v-4.3l1 .2v4.6l1-.8v-4.2l1 .7v3.7l1 0v-4.4l1 .4v4.1l1 .2v-5l1 .1v5.1l1 .1v-5l1 .5v3.6l1 0v-3.8l1 .5v3.7l1-.3v-3.7l1-.1v4.2l1-.1v-3.4l1-2.1v6l1-.4v-4.4l1 .2v5.2l1-1.7v-3.4l1-.3v4.6l1-.2v-3.9l1-.3v3.3l1-.3v-2.6l1-.5v4l1-.3v-3.2l1-.3v4.7l1-.7v-4.6l1 0v5.4l1-.6v-3.6l1-.5v4l1 .5v-5l1 .6v3.2l1 .4v-4.2l1 .5v3.4l1-.8v-2.5l1-.2v3.4l1 0v-3.4l1 .1v3l1 0v-2.8l1-.4v3.8l1 .3v-4.2l1-.1v3.8l1 .2v-4.1l1 0v4.7l1-.5v-4.2l1 .3v3.3l1 .1v-2.9l1 .4v2.8l1 .1v-3.3l1 .3v3.2l1 1v-3.8l1-.7v3.8l1 .3v-3.5l1-.7v3.7l1 .4v-3.6l1-.6v3.5l1 0v-3l1 .4v3.7l1-.9v-3.5l1 .1v3.9l1-.8v-3.3l1 0v3.2l1 .4v-3.6l1-.2v3.7l1-.5v-2.6l1-.8v4.2l1 .3v-3.8l1 .2v3.6l1 .2v-4.9l1 1.2v4.1l1-.2v-4.9l1-.7v4.7l1 .5v-3.8l1 .2v3l1 0v-3.2l1-.5v3.7l1 .4v-4.2l1 .8v3.9l1 .6v-5.8l1 1.3v3.4l1 .9v-4.5l1 0v3.3l1 1.2v-5.5l1 1v3.6l1 1.1v-4.3l1-.4v4.7l1-1.1v-4.6l1 1.1v3l1 .1v-3.2l1-.6v3.7l1 .4v-3.5l1 .2v3.5l1 0v-3.3l1-.5v3l1 .2v-3.1l1 0v3.5l1 0v-3.8l1 .3v3.8l1-.2v-4l1 .1v3.8l1-.5v-2.8l1-.6v3.4l1 0v-3.7l1 .2v3.5l1 1.4v-5l1-.2v5.1l1-1.2v-3.7l1 .2v3.8l1-.3v-4.2l1 .9v3.6l1-.1v-3l1-.6v4l1-.3v-3.8l1 1.2v3.6l1-.3v-3.8l1-.5v3.6l1 .6v-3.8l1-.1v3.3l1 .4v-3.1l1 .1v2.5l1 .3v-3.4l1 0v2.9l1 .1v-2.7l1-.7v3.3l1 0v-3l1 .2v3.1l1 .6v-4l1 .4v3.3l1 0v-4.1l1 .5v3.1l1-.3v-2.4l1 .1v2.2l1-.1v-2.5l1-.8v3.4l1-.3v-2.7l1-.2v3.6l1 .2v-3.3l1-.9v3.8l1-.3v-2.6l1-.5v3.5l1 .3v-3.8l1-.5v4.6l1 .1v-3.7l1-.6v4l1-.5v-3.4l1-.4v4.3l1 .1v-3.8l1-.7v3.8l1 1.1v-4.8l1 1.1v3.8l1 .2v-5l1 .6v3.9l1 .3v-5.1l1 .1v5.7l1-.5v-4.5l1-.4v5l1-.9v-4.4l1 .2v4.2l1 .8v-5.4l1 .6v5.3l1 .3v-4.5l1-.5v4.2l1 .6v-4.9l1-1.1v6.1l1-1.2v-4.9l1 .1v6l1-1.1v-5.6l1-.8v7l1-.1v-5.5l1-1.4v7.1l1 .7v-7.2l1 .9v5.8l1-.9v-5.3l1 .4v5.4l1-.9v-4.1l1 .4v4.3l1-.5v-3.5l1-1.3v4.5l1 .2v-4.3l1 .8v4l1-.6v-4l1-.7v4.7l1 .3v-4l1 .2v3.4l1 .8v-4.2l1-.4v4.1l1 .3v-5.2l1 .6v4.3l1 .9v-5.7l1-.3v5.1l1-.4v-3.7l1 .5v3.2l1-.1v-3.5l1-.9v5.3l1-.6v-3.8l1-.5v3.9l1 1v-4.5l1-.2v4.2l1 .3v-5.1l1 1.1v4.1l1-.2v-3.8l1-.8v3.8l1 0v-3.2l1-.7v4.5l1 .2v-4.1l1-.6v4.3l1 .5v-5.2l1 1.3v3.3l1 .5v-4.2l1 .1v3.2l1 1.2v-4.9l1 .6v3.1l1 .8v-4.8l1-131.5v277l1-111v-64l1 12v42l1-12.1v-21l1 5v11l1-2.9v-3.6l1-.1v3.5l1-.1v-3.3l1-.5v4.1l1-.5v-2.9l1 .1v2.9l1-.4v-3l1-.6v3.4l1 .9v-4l1 .1v3.7l1-.1v-3.1l1-1.2v4.6l1 .2v-4.5l1 .6v4.7l1-.6v-4.1l1 .2v3.5l1 1.9v-5.2l1-.4v5.1l1-.9v-4.1l1 .7v3.6l1-.3v-4l1-.7v4.5l1-.3v-4l1 .1v3.9l1 .7v-4.6l1-.3v4.2l1-.5v-3.3l1 .2v3.2l1 .1v-2.9l1 0v3.1l1-.2v-3.6l1 0v3.6l1 .9v-4.4l1-.2v4.2l1 .2v-4.7l1 0v4.5l1-.1v-3.6l1-.5v3.6l1 .2v-3.7l1 .7v3.1l1 .1v-3l1-.1v3.3l1 .5v-4.2l1-.4v3.9l1-.2v-3.8l1-.2v3.9l1 1v-4.7l1-.1v5.3l1-1v-3.9l1-.3v4.5l1 .3v-4.4l1 0v3.6l1 .7v-4.5l1-.1v3.6l1 .2v-3.5l1-.6v4.5l1-.1v-4.3l1 .4v3.7l1 .9v-5l1-.3v4.8l1 .3v-6.4l1 1.1v4.3l1 .1v-4.1l1 1.2v3.1l1 .2v-3.5l1-.2v3.4l1 1v-5l1 .4v4.1l1 .5v-4.4l1-.2v3.8l1 1v-6l1 .9v3.9l1-.2v-3.5l1-.8v4.6l1 .1v-3.9l1-1v4.9l1-.2v-4.2l1 .5v4l1-.7v-3.3l1 0v4.5l1 0v-4.8l1 .4v3.7l1 .8v-5.1l1-.2v4.9l1 .4v-4.9l1 .4v4.3l1-.3v-4.4l1 .8v4.5l1-.8v-4l1-.3v4.7l1-.7v-3.4l1-.3v3.7l1 .1v-4.1l1 .5v3.9l1-.7v-3.3l1 .5v3.3l1 .1v-4.7l1 .7v4l1 .6v-4.9l1-.1v5.4l1 .3v-4.4l1-.7v3.9l1 .7v-4.3l1-.4v3.9l1-.1v-3l1-.4v3.7l1-1v-2.5l1-1.2v3.7l1 .4v-3.1l1 .1v2.8l1-.3v-2.3l1-.9v4l1 .8v-4.1l1 .3v4.2l1-.6v-4.4l1-.1v4.2l1-1.1v-2.6l1-.3v2.9l1 .5v-3.7l1 .5v3.9l1-1v-3.3l1 0v3.5l1 .9v-4.1l1 .1v3.6"/>
<path class="tr" stroke="#008000" d="M138.5,291.3v3.9l1 .4v-3.4l1-.6v3.1l1 0v-2.6l1-.1v3.2l1-.1v-3.9l1 .8v4.2l1 2v-9.2l1-6.5v23.8l1-6v-11.5l1 1.2v9.5l1-2.1v-9.5l1-.4v11.1l1-.1v-8.2l1 .2v7.7l1-1.4v-6.1l1 .1v6.1l1 1.1v-6.7l1-.7v7l1-.6v-5.6l1-.4v6.5l1-1.2v-6l1-.1v6.5l1 .2v-5.7l1 .2v4l1 1.3v-5l1-.1v4.4l1 .1v-5.1l1-.2v5.1l1 .6v-5.2l1 .3v4.6l1 .2v-4.4l1-.5v3.5l1 .9v-5.1l1 .7v4.7l1-.3v-5.8l1 1.2v3.3l1 .5v-3.9l1 .1v3.8l1 .5v-4.2l1 1.1v3.2l1-.4v-3.1l1-.7v3.7l1 .6v-3.7l1-.6v3l1 .9v-4l1-.2v4.5l1-.5v-3.8l1-.1v4l1-.1v-4.1l1-.4v3.6l1 1v-4.5l1 1v3.1l1 0v-3.7l1 0v3.2l1 .5v-3.7l1 .1v3.9l1 .6v-3.6l1-1v4.5l1 .5v-4.2l1-.9v3.9l1 .8v-3.5l1-.9v4.4l1-.6v-3l1-.6v3.6l1-.1v-2.6l1-.3v2.7l1 1v-4.1l1-.4v4.3l1 .5v-5l1-.2v6.3l1-.3v-6.7l1 1.3v4.9l1-.6v-3.5l1-.9v3.7l1-.1v-3.4l1-.4v3.6l1 .2v-3.2l1 .1v2.7l1 .3v-3.5l1 .3v4.3l1 0v-4.2l1-.3v3.4l1 .4v-3.6l1-.5v3.8l1-.4v-3.6l1 .6v4.2l1-1.2v-2.9l1-.1v3.9l1-.8v-3l1 .6v3.8l1-.7v-3.3l1-.2v3l1 .2v-3.1l1 .3v2.6l1 .2v-3.6l1 .6v2.7l1 .4v-3.5l1 0v3.6l1 .3v-4.1l1 .4v4.2l1 .1v-4.8l1 .7v4.4l1-1.1v-4l1 .4v3.8l1 .1v-3.2l1-1.1v3.2l1 .5v-3.7l1 .4v3.4l1 .5v-4.2l1-.7v4.4l1-.1v-3.5l1 .1v4l1 .1v-4.1l1 .2v4.2l1-.7v-3.8l1 0v3.4l1 0v-3.5l1 .1v3.1l1-.1v-2.2l1-.1v2l1 .4v-2.6l1-.1v3.5l1-.1v-3.2l1-.7v4.6l1 .2v-4.1l1 .1v4.1l1-.2v-4.7l1-.1v3.5l1 1.2v-3.9l1-.1v3.1l1 .6v-4.3l1 .3v4.6l1-1v-3.3l1-.8v4.9l1 .7v-5.3l1 .5v3.4l1 .1v-4.2l1 .1v4.2l1 .3v-4.2l1 .3v4.4l1-.4v-4.5l1 .7v3.3l1 .9v-4.4l1-.5v4.4l1-.5v-3.7l1-.5v4.3l1 .1v-3.8l1 .3v2.6l1 .8v-3.3l1-.4v3l1 .4v-3.3l1-.7v3.6l1-.1v-3.6l1-.3v4.4l1 .5v-3.8l1-.7v5.1l1-.8v-3.8l1 0v2.7l1 .4v-3.5l1 .1v3.9l1 0v-3.5l1 0v3.2l1-.4v-3.3l1 .4v3.3l1-.4v-3.4l1-.5v3.8l1 2v-5.2l1 .2v4.2l1 .2v-5l1 .1v4.5l1 .6v-5.1l1 .7v3.3l1 .7v-3.5l1-.5v4.4l1 .1v-3.9l1-.2v3.5l1 .1v-3.5l1-1v3.8l1 .6v-4.1l1 .3v3.8l1-.4v-3.6l1 .3v3.8l1-.5v-3.6l1-.2v4.2l1-.1v-4.7l1 .3v5.6l1-.5v-4.2l1-.9v4.7l1 0v-4.3l1-.1v4.6l1-.4v-3.8l1 .2v3.4l1 .1v-3.3l1-1.2v4.6l1 .5v-4.4l1 .4v3.7l1-.3v-4.4l1 .7v3.5l1 0v-4.1l1 1v3.8l1-.1v-5l1 .7v4.4l1-.3v-4.5l1-.3v4.5l1 .7v-4.9l1-.7v5.4l1 .4v-4.1l1-27.1v54.8l1-24.5v-3.6l1-.3v3.2l1 1.1v-4l1-.6v4.2l1-1.2v-3.4l1-.1v4.4l1 .4v-4.4l1-.8v5.1l1 .1v-4.7l1 .7v3.6l1 .2v-3.6l1-.8v4.4l1-.7v-3.5l1 .8v3.1l1-.3v-3.3l1-.4v3.8l1 .8v-4.1l1-.3v4.6l1-.5v-4.3l1 .6v5.1l1-1.9v-3.6l1-.4v4.9l1-.7v-3.9l1-.2v3.9l1 .5v-4.6l1-.5v4.3l1 .2v-3.6l1-.1v3.7l1 1.3v-5l1-.6v4.7l1-.7v-3.9l1 0v4.3l1 .7v-4.1l1-1.5v5l1-.3v-3.6l1 .3v3.8l1-.7v-3.2l1-.6v4.9l1 .3v-4.7l1-.2v4.8l1-.9v-3.9l1 0v4.6l1-.4v-3.6l1-.6v4.6l1 .1v-3.8l1 .2v2.8l1-.7v-2.2l1 .5v2.4l1 1.4v-4.5l1 .3v4l1-.5v-3.2l1-.4v2.9l1-.4v-2.6l1 .6v2.8l1-.1v-2.3l1-.3v3.4l1-.7v-3.5l1 .4v3.4l1 .3v-4.2l1-.1v4.1l1-.1v-3.4l1-.2v3.6l1-.3v-3.6l1-.6v5l1 .5v-4.5l1 .3v4.3l1-.7v-5l1 .6v4.9l1-.9v-4.5l1 0v4.4l1 .3v-3.6l1-.7v4.8l1-.2v-4l1-.9v4.8l1-.2v-3.5l1 .3v2.9l1-.2v-3.6l1-.5v4.3l1-.3v-3.7l1 .3v3.4l1 .1v-2.9l1-.2v2.8l1 0v-2.9l1-1.1v4l1 0v-3.6l1-.1v3.6l1-.2v-3.5l1-.4v4.3l1-.3v-4.1l1 .8v3.6l1-.8v-2.4l1-.5v2.7l1 0v-2.9l1 .2v3.3l1-.3v-3.3l1 0v3.5l1 1.5v-4.8l1-.7v4.5l1 .1v-3.5l1-.1v3.4l1-.3v-2.7l1-.4v3.6l1-1.1v-2.4l1 .2v3.3l1-.3v-3.9l1-.1v4.5l1 .2v-3.8l1-.4v3.8l1 .9v-4.6l1 .6v3.4l1 .4v-3.1l1-.6v3.4l1-.2v-3.2l1 .1v3.2l1 .6v-4l1-.2v3.9l1 .8v-4.5l1-.4v4.2l1 0v-4.8l1 .2v4.4l1-.4v-3.2l1-.3v3l1-.4v-3l1 .5v2.7l1 .6v-4.2l1 .8v3.3l1-.4v-4.1l1 .9v2.9l1 0v-3.5l1 .8v3.9l1-.6v-4l1 .3v3.8l1-.4v-2.9l1 .1v4l1-.6v-4l1 1v3.9l1 .3v-5.3l1 1.1v4.6l1-1.3v-3.3l1 .2v3.5l1-.7v-3.1l1 .3v2.8l1 .3v-4l1 .4v4.4l1-.7v-3.8l1-.3v5.4l1-.4v-5.2l1 .2v4l1 .7v-4.5l1 0v4.3l1-.7v-3.1l1-.2v2.4l1 1.6v-3.8l1-.6v4.2l1-.2v-4.6l1-.4v5l1 .3v-5l1 .6v4.4l1 0v-3.8l1-.2v4l1-.9v-2.8l1-.1v3.1l1-.4v-2.4l1-.9v3.4l1 .5v-3.1l1-.7v4.5l1 .5v-3.9l1-.9v4.2l1-.4v-3.8l1 .4v4.5l1 .2v-5.5l1 .4v5.2l1-1.2v-4.8l1-.2v6.3l1 1.6v-9.2l1 .1v9.9l1-2.4v-7.7l1-.7v8.1l1 .7v-7.3l1-1.3v7.7l1 .2v-7.4l1-2v8.4l1 .5v-5.9l1-.8v8.3l1 1.5v-9.6l1-1.6v10.7l1-.1v-10.4l1 .6v10.2l1-1.4v-7.2l1-.4v8.8l1-1v-10l1 .4v13.2l1-4v-7.8l1-3.2v10.9l1 1.2v-9.4l1-1.3v12l1-1.4v-12.5l1-8.6v33.8l1-12.4v-9.9l1-1.2v11.6l1-.1v-11.6l1 2.9v8.5l1-.9v-9.8l1 2v6.9l1-.8v-5.5l1 0v5.3l1 1.2v-6l1 0v6l1 0v-7.4l1-1v7.8l1 .8v-6.1l1-.6v6.4l1-.4v-7l1 .8v6.5l1-.1v-6.4l1-.2v5.5l1-.5v-4.7l1 1.2v3.1l1 .7v-3.5l1-.2v3.9l1 .4v-4.5l1 .1v3.4l1 0v-2.9l1-.2v3.5l1-.6v-3.9l1 .2v4.5l1 .1v-4.4l1-.1v4.8l1-.9v-3.7l1-.3v4.3l1 .1v-4.7l1 .1v3.8l1-.4v-3.2l1-.7v4.5l1 .1v-4l1-1.6v5.8l1 .4v-6.4l1 1.1v5.3l1-.2v-6.4l1-.2v6.9l1-.6v-7.8l1 1.5v8.2l1 .1v-7.8l1-1.8v8.8l1 .6v-11.3l1-5.2v20.8l1-5.1v-8.2l1-.6v11.1l1 6.7v-26.8l1 8.2v11.9l1 .7v-10.3l1-1.8v8.8l1 1.9v-8.8l1-3.2v11.4l1-.5v-9.2l1 .1v9.8l1-.4v-7.4l1-.7v7.5l1 1.1v-7.5l1-.5v7.8l1 .4v-8.8l1 .6v7.9l1-1.8v-6.2l1 0v7.7l1-.1v-6.4l1-.8v6.5l1 1.1v-7.4l1-.8v7.2l1-.2v-7.1l1 .1v7.1l1 .1v-6.7l1-.7v6.3l1 .5v-5.3l1-1.2v7l1 .8v-8.5l1 1.3v7.8l1 2.2v-9.3l1-1.9v7.7l1 0v-6.7l1 .8v7.5l1-2.2v-6.2l1 .7v6.1l1 1.3v-7.6l1-.3v6.9l1 11.1v-28.8l1 10.5v6.7l1 2.4v-9.3l1-.1v8.8l1-1.4v-7.2l1-.6v7.9l1 1v-10l1 2.4v7l1 .5v-7.6l1-1v7.4l1-.1v-5.5l1-.3v5.3l1-.4v-4.8l1 .2v4.7l1-.5v-4.4l1 .9v4l1-.5v-3.4l1 0v3.7l1 .1v-3.6l1-1.3v4.2l1 1.2v-4.2l1 0v3.3l1-.5v-3.1l1 .5v2.7l1-.2v-3.1l1 .6v2.9l1 .2v-3.4l1-1.2v4.4l1 1.4v-4.8l1-.7v6.1l1-1.7v-4.8l1 1.3v4.4l1-.3v-5.2l1-.1v4.7l1 .9v-4.7l1-.8v5l1-.3v-4.3l1 .4v4.9l1-.5v-4.9l1 .1v3.7l1 .6v-3.9l1-.2v3.7l1 0v-3.6l1 .5v2.8l1-.5v-3.1l1 1v3.3l1 .1v-3.5l1-.3v4l1-.3v-3.2l1-.7v3.8l1 0v-3.3l1-.7v4.3l1-.3v-4.4l1 .5v4.2l1 0v-4l1-.4v4.1l1 .3v-4l1-.9v5.7l1-1.3v-4.3l1 .6v3.9l1 1v-5.3l1 0v5.2l1-.1v-5.8l1 .7v4.7l1-.7v-3.6l1-.9v4.5l1 .6v-4.4l1 .8v3.4l1-.2v-4.7l1 .4v4.5l1-.1v-4.6l1 .6v4.2l1 .2v-5.3l1 1.4v2.8l1 .4v-5.8l1 1.3v4.6l1-.6v-4l1 .5v3.8l1 .6v-5l1 0v4l1 1v-5l1 0v5.5l1 .3v-7.3l1 1.8v4.4l1-.1v-5.2l1 1.4v3.3l1 .6v-4.8l1 1.2v3.5l1 .4v-5.2l1 .6v4.9l1 .1v-4.6l1 0v3.7l1-.4v-3.6l1 .5v4.6l1-.7v-4.6l1 .3v3.9l1-.3v-3.7l1-.2v4.7l1-.9v-3.6l1-.3v4.5l1 .3v-3.7l1-1v5.4l1 0v-6.1l1 .2v5.4l1 .6v-4.7l1-.8v4.2l1-.3v-3.4l1 .2v2.4l1 .6v-2.8l1 .1v3.2l1 .3v-3.9l1 .3v3.7l1 .7v-4.5l1-.5v4l1 .4v-3.7l1-.8v4.4l1 .1v-4.4l1 0v4l1 .5v-4.7l1 .4v4.4l1-.8v-4.4l1-.3v5l1 .3v-4.2l1-.1v4.5l1-.2v-4.2l1 .3v4.1l1-.7v-4.4l1 .3v4.6l1 .1v-4.3l1-.4v5.2l1-.9v-4.4l1 .5v3.6l1 .3v-3.7l1-.2v4l1-.2v-3.3l1-.4v3.4l1 .5v-3.2l1-.3v3.1l1 .2v-3.8l1 1.1v2.7l1 .4v-4l1 .2v3.2l1 .6v-3.4l1-1.3v4.9l1-.9v-3.5l1 .4v2.6l1 .4v-2.6l1-1.1v3.8l1-.2v-3.6l1 .2v3l1 .5v-3l1-.1v2.7l1 .1v-3l1 .2v2.9l1-.2v-2.3l1-1v4l1-.3v-3.2l1 0v3.3l1 .4v-2.9l1-.2v3.2l1-.4v-3.9l1 .3v4.1l1 .6v-4.2l1-.4v3.8l1 .1v-4l1 .6v3.8l1-.5v-3.4l1 .6v2.9l1-.4v-2.8l1-.1v3.3l1-.3v-3.1l1-.5v3.8l1 .1v-3.2l1 0v3.5l1-.2v-3.6l1-.5v3.6l1 .3v-3.7l1 .6v3.4l1-.5v-3.6l1 .6v4.2l1-.5v-4.4l1 .8v3.7l1-1.4v-2.6l1-.1v3.7l1-.5v-3.3l1-.1v4.2l1-.3v-3.4l1-.5v3.5l1 .2v-3.4l1-.4v3.8l1 .1v-3.8l1-.2v4.1l1-.8v-2.8l1-.6v3.9l1 .6v-4.3l1 .3v2.8l1 .7v-3.1l1-.5v2.9l1 .1v-3.5l1-7.3v17.8l1-6.6v-4.5l1 1v4.3l1-1v-4l1 .2v4l1 1v-4.8l1-.7v4.8l1-.4v-4.1l1 .2v4.5l1 2.2v-7l1 .3v5.5l1-1.2v-3.9l1-.2v3.5l1 1.1v-4.6l1-.2v4.2l1-.2v-3.4l1-.3v3.7l1-.4v-2.9l1 .2v2.9l1-.1v-3l1 0v3.1l1 1.1v-3.9l1-.1v4l1-.3v-5.3l1 1.5v4l1 .6v-4.8l1-.1v4.2l1 .5v-4.4l1-.6v4.6l1-1v-4l1-.1v4.6l1-.3v-3.4l1-.9v4.6l1-.5v-4.2l1 .7v4.1l1-.3v-4.3l1-.2v5.1l1 0v-5.4l1 .6v4.8l1-.7v-4.8l1 .1v4.5l1 .5v-4.5l1 .7v3.2l1 .8v-3.4l1-.8v3.5l1 .4v-4.2l1 .9v2.9l1 1.1v-3.5l1-1v4.2l1-.7v-3.6l1 .5v3.4l1-.3v-3l1-.5v3.9l1-.5v-3.1l1 .2v2.6l1 .5v-3.1l1-1.1v3.4l1 1.2v-4l1-.4v3.5l1-.1v-3.4l1 .1v4.3l1-.9v-3.4l1-.5v4.3l1-.1v-3.3l1-.6v3.9l1 .2v-4.6l1 .3v4.8l1-.9v-3.5l1-.4v4.2l1 1.3v-5.5l1-.5v5.3l1-.8v-3.7l1-.3v4.1l1 .1v-4.6l1-.4v5.3l1-.6v-3.2l1-.8v4.5l1-.4v-3.9l1 .4v3.9l1-.2v-3.2l1 0v2.9l1 .2v-4.1l1-.1v4.9l1 .7v-4.9l1 .2v4.2l1 0v-4.9l1 .9v3.1l1 1.1v-4l1 0v3l1 .1v-4l1 .6v4.1l1-.1v-4.5l1 .3v3.9l1 .5v-4.2l1-.3v4.4l1-.1v-4.1l1-.6v4.6l1 .9v-4.7l1 .4v3.7l1 .3v-5.7l1 .1v5.9l1-1v-4.7l1 1v3.6l1 .7v-5.4l1 .1v5.1l1-.4v-3.8l1-.5v3.7l1-.5v-3.1l1 .8v2.5l1-.6v-2.3l1-.3v3.7l1-.4v-3.4l1 .7v3.5l1 .7v-4.3l1 .2v3.1l1-.2v-3.4l1-.1v4.1l1-.2v-4.5l1 1.3v3.7l1-.6v-3.9l1 .3v3.7l1-.2v-3.8l1 .5v4l1-.2v-4.2l1 0v4l1-.3v-4l1-.6v4.1l1 1.1v-4.9l1 .9v3.2l1 .2v-4.2l1 0v4.4l1 .5v-4.5l1-.5v3.8l1-.2v-3.2l1 .5v3.5l1 0v-3.7l1 .8v3.3l1 0v-4.3l1-.2v3.7l1 .2v-3.2l1-.1v3.8l1-.8v-3.5l1 .1v3l1 .3v-2.8l1 .1v3l1-.4v-2.7l1-.1v2.8l1 .1v-2.6l1-.4v2.8l1 1.1v-3.6l1-.7v3.5l1 0v-3.3l1 .7v2.8l1-.1v-3.5l1 0v3.3l1 .4v-3.4l1-.1v4.4l1-.4v-3.4l1-.1v3.5l1 0v-3.4l1-.6v6.2l1-1.4v-5.3l1-.6v5.3l1-1.1v-3.5l1 .5v3.8l1-.1v-4.8l1 1.2v3l1 .1v-3.6l1 .2v3.2l1 .2v-3.2l1 .4v3.5l1-1v-2.7l1-1.2v4.1l1 .5v-3.3l1-.1v2.9l1 0v-3.4l1 .9v3l1 .5v-3.7l1-1.3v4.6l1-.1v-3.7l1 .1v4.6l1-1.1v-2.8l1-.4v3.2"/>
<path class="tr" stroke="#000000" d="M138.5,322.9v4.6l1 .4v-4.1l1-1.1v4.3l1-.1v-4.7l1 .6v4.7l1 1.7v-6.3l1-1.7v6.8l1 .5v-5.8l1-.9v6.7l1-1.5v-5.4l1-.6v6.4l1 .7v-7.1l1 .8v5.6l1-.4v-5l1-.1v6l1 .1v-6.7l1-.4v7.4l1-1.2v-6.4l1-.1v7.2l1 .3v-5.7l1-.3v6.6l1-.7v-5.9l1-.3v7.5l1-.8v-6.9l1-1.5v10.5l1 .7v-11.9l1 1v7.9l1 2.6v-11.9l1 .9v8.1l1 1.5v-8.5l1 1.8v6.2l1-1.5v-5.5l1-.4v8.2l1-1.3v-7.2l1-.6v8.5l1 .6v-7.1l1-1.1v5.6l1 1v-7l1 1.8v4.8l1 .7v-6.3l1 1.3v5.2l1-1.7v-4.6l1 .7v5.7l1-1.4v-4.3l1-1.1v5.9l1-.2v-6.3l1 .1v6l1-.2v-4.2l1-.3v4.8l1-.3v-4.1l1-.3v4.7l1-.1v-4.3l1 .1v3.2l1-.3v-3.3l1-.3v3.6l1 .2v-2.9l1-.7v3.8l1 .6v-3.4l1-1.4v5.3l1 0v-5.4l1 .9v5.8l1-1v-5.7l1 .5v5.4l1 .2v-5.6l1-1.7v9.2l1-1v-7.5l1-1.5v10.2l1-2.6v-7.8l1 2.9v5.3l1-1.7v-4.4l1 1.1v3.8l1-.7v-3.6l1 0v4.4l1-.1v-3.5l1-.9v4.7l1 2.6v-6.8l1 .1v4.9l1-1.2v-3.6l1 .2v5.1l1-.3v-4.6l1-.2v4.5l1-1.2v-4l1 .4v4.1l1 .6v-4.4l1-1.5v5.5l1 1.4v-5.1l1-1.6v5.4l1 .2v-4.7l1-1.6v5l1 1.1v-4.2l1 0v4.3l1 .1v-5.3l1 .6v4.7l1 .9v-6.9l1 .2v5.1l1 2.1v-5.7l1-1.3v5.5l1 .6v-6l1-.4v5.3l1 1v-5.4l1-.6v4l1 .7v-5.2l1 1.2v4.5l1-.2v-5.1l1 1.4v3.6l1 .5v-5.4l1 .6v5.8l1-1.4v-4.5l1 .2v5.6l1 .3v-6l1-.3v5.8l1-.9v-4.4l1 .5v4.4l1-1v-4.3l1 .8v3.9l1-.7v-3.5l1 .9v3.9l1 .1v-5.5l1 .8v4.2l1 1.5v-6.1l1 .3v4.9l1-.7v-5.1l1 1.5v4.1l1 .8v-5.7l1-.6v6.1l1-.3v-4.7l1-1v5.1l1 1.2v-4.7l1-1v4.8l1-.4v-4.3l1-.1v3.8l1 .4v-4.2l1 .7v3.3l1 .4v-4.7l1 .1v4.3l1 0v-3.9l1 .6v3.8l1-.4v-4.1l1-.1v4.8l1-.1v-4.1l1-1.4v4.7l1 .3v-4.7l1 .9v4.7l1-1.2v-3.9l1-.5v5.1l1 .2v-5.1l1 1.1v4.5l1-1v-5.2l1 .7v5.1l1-.4v-5.3l1 1.3v4.8l1-.6v-3.9l1-1.7v4.9l1-.5v-4.2l1 .4v4.9l1-1.3v-3.7l1 .6v3.2l1 .7v-4.8l1 .5v4.7l1 0v-5.9l1 1.7v4.7l1-.3v-5.7l1-.1v5l1 .1v-3.9l1 .1v5l1-.2v-4.6l1-.7v5.4l1-.5v-3.7l1-.7v4.6l1-.2v-3.8l1-.3v4.6l1-.5v-3.9l1 .5v3l1 .8v-4.4l1 .1v4.5l1-.8v-4.1l1 .9v3.3l1 .1v-4.8l1 .5v4.7l1 .6v-5.4l1-1.4v5.9l1 1v-7.1l1-.1v7.5l1-.3v-6.4l1 .6v5.3l1-1.3v-4.1l1 .3v4.5l1 .2v-4.7l1 .1v4.4l1-.1v-3.9l1-.4v3.8l1 .2v-4.4l1 1v3.8l1-.2v-5l1-.6v4.7l1 .7v-4.9l1-.4v5.9l1-.7v-3.9l1-1v5.2l1-.4v-3.6l1-1.5v5.4l1-.4v-4.1l1-.4v4.4l1 .8v-5l1-.5v4.5l1-.6v-3.4l1 .5v3.4l1 .5v-4.1l1 .2v3.9l1-.4v-4.8l1-1.7v7l1-.2v-5.3l1 .2v6.6l1-1.4v-5.1l1 1.4v3.8l1-.4v-4.1l1 .4v4.6l1-1.1v-3.4l1-1v6.4l1 0v-6.1l1 1.2v3.9l1-.4v-4.2l1 0v3.9l1 .7v-4.9l1 .5v3.3l1-.1v-2.9l1-.1v3.8l1-.3v-3.6l1-.3v3.8l1-.1v-4.5l1 1.1v5.3l1-.6v-5.6l1 .7v4.6l1 .1v-5.1l1-1.2v5.7l1 1v-5.5l1-.6v6.3l1 0v-5.3l1 .5v4.1l1 0v-5l1 .2v6.7l1 .2v-6.9l1-.6v6.2l1-.9v-4.3l1-.9v5.1l1-1v-3.7l1 .2v3.9l1-.2v-4.1l1 .1v5l1 .2v-5.7l1 .1v5.5l1-.5v-5.2l1 0v6.3l1-.4v-5.9l1 1.2v4.6l1 .6v-5.5l1 .1v4.6l1-.1v-6.3l1 2.2v4l1 .6v-5.6l1-.4v4.9l1 0v-5.9l1 1.5v4.1l1 .2v-5.5l1-.9v7.1l1 .5v-6.2l1 .5v5.9l1 .8v-8.3l1 1.8v4.9l1 1.4v-7.8l1 2.2v5.5l1-.2v-6.8l1-.9v6.8l1 1v-8.4l1 2.3v5.3l1 1.4v-6.1l1-1.9v7.1l1-.6v-6.6l1 2v5.7l1 .3v-6.4l1-.4v6.6l1-.2v-6.7l1-.1v6.4l1 1.1v-8.7l1 2v6.7l1-.7v-5.8l1-.3v6l1-.5v-6l1-1.1v7.1l1-.3v-5.7l1 .7v5.5l1-.5v-5.5l1-.8v7.4l1-1v-6.4l1-1v6.2l1 1.5v-6l1 .4v5.2l1-.1v-6.9l1 .8v6.3l1-.7v-6.1l1 .9v5.6l1 .4v-6.6l1 1.1v6l1-.2v-5.6l1 .6v4l1-.5v-3.8l1 .8v4.5l1-.6v-5.4l1 1.3v4.6l1-.9v-5.4l1 1.1v5.1l1-.4v-4.9l1-.4v5l1 .1v-5.5l1-.2v6.6l1-.9v-4.6l1 .6v5.3l1 .8v-6.3l1-1.5v7.5l1-.2v-6l1-1v6.7l1 0v-7l1-.5v6.3l1 1.3v-7.1l1 .5v5.7l1-.6v-4.9l1 .2v4.4l1 .6v-7.5l1 1.8v5.7l1-.6v-4.9l1-1.3v7.4l1-.7v-4.8l1-.1v6.6l1-1.7v-5.3l1 0v5.5l1-.2v-5.2l1-.5v6.7l1-1.5v-4.6l1-1.6v5.6l1 1.3v-5.8l1-.1v6.5l1-.3v-6.2l1-.3v6.2l1 .7v-7.1l1-.6v7.1l1-.2v-6.4l1 .4v5.4l1 1.5v-6l1-1.4v6l1 .6v-4.9l1 .6v5.8l1-1.5v-5.7l1 .7v4.3l1 .6v-5.7l1 1v6l1-.9v-5.6l1-.5v5.8l1-.8v-5.1l1 .3v5.2l1 .5v-5l1-.1v6l1 .3v-7.2l1 1.4v6.7l1-2.5v-5.9l1 1.5v5.7l1-.3v-5.4l1-1v6.5l1 0v-6.8l1 1.4v5.4l1-.1v-6.1l1 .8v6l1-.6v-7l1 .2v7.1l1-.7v-4.6l1-1.1v6.2l1-1.1v-4.4l1 .4v4.3l1 .4v-5.5l1-.5v6.1l1-.8v-5.1l1 .6v3.8l1 .7v-4.5l1-.5v4.9l1-.4v-4.5l1-.4v4.4l1 1.6v-6l1 .1v5l1 2.7v-6.2l1-1.3v5.1l1 .5v-4.5l1-2.4v6.7l1 .9v-5.6l1-.5v5.2l1 .6v-6.4l1 .7v5.9l1 0v-6.8l1-.2v7.5l1-1v-6.6l1 .6v5.9l1 .9v-7.5l1-1v6.7l1 1v-7.1l1 1v6.1l1 .8v-6.1l1-2.3v8.9l1-1v-6.5l1-2.7v8.7l1 0v-10.4l1 .5v11.8l1 .7v-12.9l1 2v9.9l1-.5v-8.3l1-.4v10.7l1 .2v-13.9l1 4.1v7.3l1 2.4v-9.6l1-3.9v11.2l1 3.4v-13.4l1-2.5v17.8l1-2.9v-17.1l1-1.4v20.8l1 4.2v-27.4l1 5.2v19.4l1 1v-24.2l1 1.1v21.6l1 3.8v-27.8l1 .4v28.9l1 1.4v-33.8l1 6.4v24.3l1-5.7v-21.5l1-2.2v28.5l1-.4v-21.9l1 3.3v18.6l1-3.8v-18.5l1 0v18.9l1-2v-13.6l1-1.9v17l1-.4v-13.1l1 .5v9.8l1 1.4v-13l1-6.3v26.8l1-6.9v-9.7l1-1.4v12.1l1-2.3v-8.7l1-1v9.2l1 .7v-10.2l1-1.6v11.5l1 .8v-9.6l1-.1v7.8l1 2.9v-13l1 2.7v7.6l1 .2v-9.2l1 1.6v7.1l1 1.7v-8.9l1-.3v7l1 1.4v-8.8l1-.2v8.3l1 0v-9.5l1 2.3v7l1-2v-6.9l1 1.4v7.2l1-1.7v-5.1l1-1.7v7.1l1 .8v-5.9l1-1v7.8l1-.5v-6l1-.8v7.3l1-.3v-8.4l1-.6v9.5l1 .5v-8.2l1-1.3v7.9l1-.3v-7.7l1 2v8l1-1.6v-7.8l1-.2v8.4l1-.5v-7.4l1 .3v7.2l1-.5v-6.7l1-.3v7.6l1-1.1v-5.8l1-.4v7l1 0v-5.9l1-1.9v7.6l1 .6v-7.4l1-.7v7.8l1 .6v-6.5l1-2v7l1 1.6v-7.1l1-.5v8.6l1-2v-8l1 1.8v8.8l1-2.1v-9.2l1 2.3v6.8l1 .8v-7.5l1 .2v5.8l1-.1v-6l1 .2v6.4l1 1v-7.1l1-1.7v7.4l1 0v-6.8l1 1.4v4.9l1 1.7v-7.6l1 1.1v4.9l1-.5v-6.1l1 .2v7.1l1-.5v-4.4l1-.3v6.1l1 .7v-7.2l1-1.2v7l1 1.5v-7.6l1-2.5v8.6l1 1.4v-7.3l1-2.4v9l1 1.3v-7.7l1-1.4v8.8l1-2.2v-7.6l1 2.1v6l1 .8v-7.2l1 .3v5.7l1 .2v-7l1 1.7v6.3l1-.6v-7.3l1 1.2v5.9l1 .9v-7.5l1-2.5v12l1 1.1v-14l1-.3v16.9l1-2.4v-15l1-.4v14.3l1 0v-12.3l1 1.1v9.5l1-2.4v-7l1 2v5.8l1-.8v-4.3l1-.6v6l1-.1v-7.4l1 .4v7.5l1 1.1v-10.1l1-4.5v14.4l1 1.3v-12.8l1-.9v15.2l1-3.9v-12.5l1 2.7v9.4l1 1.1v-8.1l1-.4v7.8l1 .3v-6.2l1-.3v5.9l1-1.3v-4l1-.4v4.3l1 .3v-3.5l1-1.2v3.5l1 1v-3.7l1-.4v3.3l1 1.2v-3.7l1-.8v4.2l1-.2v-4.6l1 .9v3.8l1 .1v-4.4l1-.6v5.1l1-.5v-4.3l1 .3v5.2l1-.5v-4.5l1 .4v4l1-.3v-4.1l1 .4v4l1-.3v-4.1l1-.6v4.9l1 1v-6.3l1 1v5l1 2.1v-16.2l1 2.3v14.8l1 2.1v-20.2l1-.8v24.9l1-2.9v-22.3l1 2.2v20.9l1 .5v-22.5l1-2.3v24.7l1 1.9v-26.9l1 4.7v24.9l1 2.3v-33.7l1 4v26.4l1-2.7v-22l1-5.9v27.9l1 10.9v-42.7l1 4.9v36.4l1-3.2v-33.7l1-.6v30.7l1 2.3v-42.8l1 8.3v32.2l1 10.2v-37.6l1-3.7v52l1-7.4v-60.8l1 15.8v42.7l1-3.7v-52.8l1 9.7v44.2l1 5.5v-56l1-3.2v56.2l1 .5v-48.5l1 1.6v41.8l1 26.7v-96.8l1 19.7v69.4l1 19.6v-118.7l1 26.2v63.8l1 28.4v-130.8l1 17.1v120.8l1-41.3v-56.2l1-13.1v85.8l1-12.9v-53.7l1-4.5v47.7l1 .9v-43.8l1 2.8v39.4l1-3.3v-26.3l1-6v31l1-1.5v-27.3l1-.4v30.6l1 4.8v-30.9l1-.6v22.6l1-1.3v-20.9l1-.5v23.4l1-2.7v-15l1-1.7v14.9l1-.7v-10.4l1-1.6v13.9l1-3.1v-9.6l1 1.3v12.5l1-1.8v-12.2l1 1v11.1l1-3.4v-7.4l1-.3v8.7l1-.9v-6l1-.1v7.8l1-2.7v-6.6l1-.4v7.6l1 1.2v-7.4l1 .2v7.5l1-1.3v-7.3l1-.3v6.9l1 .6v-5.9l1 .3v4.7l1 1.4v-8.3l1 1.3v6.5l1 0v-6.4l1 1.4v5.6l1-.1v-6.7l1 .4v5.9l1-1v-3.9l1-1.1v5.1l1-.5v-4.3l1 .2v4.3l1 .2v-4l1 .9v3.9l1-.2v-3.8l1-.8v3.6l1 0v-3.7l1 1.3v2.9l1-.1v-3.3l1-.3v3.7l1 1v-3.8l1-.5v3l1 .2v-3.3l1 .1v2.4l1 .8v-3.8l1 .6v3.3l1 .4v-4.1l1 .2v3.4l1 .5v-4.4l1 .5v3.7l1-.1v-3.7l1 .3v3.4l1-.7v-4l1 1v4.1l1-.6v-3.8l1 .2v3.8l1-.5v-4.3l1 .7v3l1 .3v-3.1l1 .5v3.9l1-.6v-3.5l1 .3v3.1l1 0v-3.6l1 .3v2.6l1-.3v-3l1 .3v3.5l1 .4v-3.1l1-.4v3.4l1 1v-4.5l1-.8v4.6l1 .4v-4.5l1 .1v4.3l1-.5v-3.8l1-.1v4.9l1-1.2v-4.1l1 .2v3.7l1 .2v-3.3l1-.5v3.7l1-.4v-3.6l1-.1v3.7l1 .3v-3.4l1 .5v3.6l1 0v-4.5l1 .2v4.3l1-.1v-4l1 .4v3.7l1-1v-2.6l1-.2v3.9l1-.2v-3.5l1 .1v3.5l1-.3v-3.3l1-.4v4.1l1 .1v-4.2l1-.4v5l1 .3v-3.9l1-1.2v3.8l1 .4v-3l1-1.4v4.2l1 .3v-3.9l1 0v4.1l1-.9v-3.8l1 .2v4.1l1-.7v-3.5l1 .5v3.7l1 .3v-4.7l1-.9v4.1l1 .1v-4l1 1v4.2l1-1.1v-3.8l1-.6v4l1 2v-5.7l1 .2v3.8l1 0v-4.3l1 .2v5.1l1 .3v-5.1l1 .3v4.9l1-.2v-4.8l1 .8v3.6l1-.6v-3.4l1 .3v3.3l1 .5v-3.7l1-.8v5l1-.8v-3.5l1-.8v5.1l1 0v-4l1-1.3v4.2l1 1.3v-4.8l1-.2v4.4l1 1.2v-5.2l1 0v4l1-.7v-3.1l1-.5v4.1l1-.4v-3.6l1 1.3v2.5l1 .8v-3.4l1-.5v3.8l1-.3v-3.8l1 .4v3.4l1-.5v-2.9l1-.1v3.2l1 .3v-3.6l1-.1v3.4l1 1.4v-5.4l1 .8v3.7l1 1.1v-5.2l1 .3v4.4l1 .2v-5.4l1 .7v3.9l1-1v-3.7l1 1v3.7l1-.3v-4.1l1 .7v3.4l1 .2v-4.2l1-1.2v4.7l1 .7v-4.8l1 .4v3.2l1 0v-3.9l1 1.1v4.3l1-.9v-4.5l1 .5v5.6l1-.1v-5.3l1 1v4.2l1 .2v-4.5l1-1v4.1l1 0v-4.1l1 .7v4.4l1-.1v-4.5l1-.6v4l1 .2v-3.2l1-.7v4.1l1 .3v-4.2l1 .1v4l1 0v-3.5l1-.3v3.6l1-.2v-4.3l1 .8v2.7l1 .8v-4.2l1-.2v3.8l1 .7v-4.1l1-.5v4l1-.1v-3.5l1 .7v2.9l1-.6v-2.5l1-.9v4.1l1 .4v-4.2l1 0v4.2l1 .6v-4.9l1 .3v3.6l1 1.6v-4.8l1-.6v4.8l1-1v-3.2l1 .4v2.9l1 .8v-4.4l1 .5v3.9l1 0v-4.1l1 .1v4.3l1-.7v-3.4l1 .1v3.1l1 1v-3.5l1-.4v4.3l1-.8v-3.7l1 .4v2.9l1 .2v-2.7l1-.7v3.3l1 .2v-3.7l1 .4v3l1 .2v-3.8l1 .5v3.2l1 .7v-3.8l1-.7v4.1l1 .5v-4.7l1 .7v4.1l1-.3v-3.7l1 .2v3.2l1 .4v-4.5l1 .9v3.8l1-.2v-4.6l1 .2v4.1l1 .3v-4.6l1 0v5.7l1-1.9v-4l1 .3v3.4l1 1v-4l1 .1v3.8l1 0v-3.7l1-1.3v4.3l1 .3v-4l1-.5v4.3l1 2.9v-7.6l1-1.1v7.8l1-.8v-5.7l1-.1v6.7l1 .7v-7.8l1 .9v6.7l1 0v-8.8l1-.5v9.5l1-.1v-7.5l1-.3v5.9l1 1.5v-10.1l1 .5v10.5l1-.4v-11.3l1 2.6v8l1 .6v-9.4l1-.1v11.8l1-.5v-14.1l1-1.8v16.8l1-1.5v-10.7l1-.1v9.9l1-.4v-8.9l1-2.1v12.2l1-2.3v-7.7l1-1.6v9.8l1 .3v-9.4l1 1.1v10.2l1-1.8v-8l1-.8v7.5l1 1.3v-6.7l1-2.1v8.1"/>
<path class="tr" stroke="#ff0000" d="M138.5,353.3v7.2l1-.6v-6l1-.5v7.1l1 1v-10.2l1 1.3v9l1-1v-7.3l1-.6v6.4l1 .1v-6.4l1-.1v7l1 2.2v-7.7l1-1.2v8.5l1 .4v-9.6l1-.7v8.4l1 1.6v-8l1 .6v6.9l1 0v-9.3l1 .7v7.7l1 .9v-7.3l1-1.1v9.1l1-1.6v-9.8l1 1.7v8l1 1.7v-9.8l1-.6v9.8l1-.2v-9.7l1 1.7v7.8l1 .9v-10.4l1 1.3v9l1-1.7v-7.6l1 1.5v6.2l1-1.2v-5.3l1-.9v5.5l1 .3v-5.8l1 .2v7.7l1-.6v-6.8l1-.4v7.9l1-.9v-8.1l1 .1v8.4l1 .8v-8l1-.6v8.5l1 .2v-7.9l1-1.5v10.4l1 .1v-10.7l1-.4v10.9l1-.4v-8.6l1-1.5v11.5l1-1v-11.4l1 2.3v9.4l1-.3v-9.8l1-.3v8.3l1 1.3v-8.9l1 .9v7l1 .3v-8.5l1 1v9.6l1-2.1v-7.1l1-.9v7.4l1 1.4v-9.4l1-.2v8.6l1 .8v-8.7l1-.5v9.6l1 1.1v-11.3l1 1.4v7.7l1 1.7v-10l1-1.9v10.3l1 2.7v-11.1l1-1.6v10.2l1-1.1v-7.7l1-.6v10.5l1 .3v-12.6l1-4.9v22.8l1-4v-14.1l1 1v9.4l1 1v-11.6l1 .6v10.6l1 2v-12.3l1 .2v13.4l1-.2v-14.6l1 2.7v11.7l1-.9v-13.2l1 3.5v10.4l1 .1v-10.3l1-1.8v11.3l1-.4v-9.9l1-.3v8.3l1 1.7v-11.6l1 1.5v11.7l1-1.7v-12.3l1-7.1v27.8l1-6.8v-13.8l1 .3v12.6l1-.2v-10.3l1-.9v9.8l1 0v-8.9l1-1.7v11l1 .9v-10.2l1-1.9v13.2l1 1.8v-13.4l1-.7v14.2l1-1.2v-13.3l1-.2v14.1l1-2v-11.9l1-.1v12.1l1-.5v-12l1 2.6v11.7l1-2.8v-10.1l1 1.5v10.7l1-1.9v-8.5l1-1.4v10.1l1 0v-8.8l1-3.2v9.9l1 3.2v-12.6l1 1.3v12.1l1-1.6v-9.4l1-1.4v10.3l1 2.3v-14l1 .7v11.4l1 .1v-9.9l1-.7v10.2l1-.5v-8.6l1-2.5v13.8l1-3.1v-8.9l1 .4v7.5l1 2.5v-11.9l1-.4v12.3l1 0v-12.1l1 .9v10l1 1.7v-13.1l1 2.6v9l1-.2v-10l1 1v8.1l1 1.6v-9.8l1 .2v9.2l1-.6v-8l1-.3v9.1l1-2v-6.8l1-.9v9.9l1-2v-7.4l1 .8v7.7l1-1.9v-8.2l1-.2v9.2l1 1.1v-8.8l1-.5v9.3l1-.7v-8.3l1 .9v7.5l1-.2v-7.9l1-.4v9.6l1-.1v-9.2l1-.2v8.6l1 .8v-11.5l1 3v7.9l1-.4v-9.4l1-.7v11.5l1-2v-9.3l1 1.5v11.2l1-2.8v-8.5l1 1.9v5.8l1-.2v-7.7l1-.1v9.7l1-1.4v-7.1l1-1.3v8.4l1 .4v-9.7l1 .7v9.1l1 1.4v-10.1l1 .7v7.7l1-.4v-9.1l1 .3v11.1l1-2.2v-7.8l1-1v11.2l1-.3v-10.8l1 2.1v6.8l1 1.4v-9.6l1-.1v8.6l1 .5v-8.7l1 1v7l1 3.9v-12.8l1 1.3v7.3l1-.8v-5.7l1 .8v5.4l1-.3v-4.9l1 1v4.1l1 .6v-5.5l1 .5v4.8l1 .1v-4.3l1-1.4v4.7l1 0v-5.7l1 2.1v5l1-.8v-4.9l1-1.2v5l1 .5v-5.2l1 1.5v5.3l1-1v-5.4l1 .5v5.1l1-1.4v-4.3l1-.3v5.3l1 .2v-4.7l1-.2v3.8l1 .4v-4.4l1 .5v4l1-.4v-3.9l1-1.9v6.4l1-.2v-5.2l1 .9v4.5l1 .5v-5.9l1 .5v5.1l1 .1v-4.7l1-1.2v5.6l1 .1v-4.6l1-.5v4.4l1 .8v-4.6l1 .2v4l1 .1v-4.4l1 .3v4.9l1-.6v-4.2l1-.1v4.4l1 .7v-5.4l1-.4v5l1 .4v-4.8l1-.5v5.5l1-.2v-4.3l1-1.5v5.8l1 .1v-5.4l1 0v6l1-.9v-5.2l1-.6v6.1l1-.3v-4.5l1-.3v4.6l1 0v-4.6l1-.1v5.7l1-.5v-5.5l1 0v5.6l1-.4v-5.6l1 .3v5.3l1-.4v-4.4l1-.1v4.3l1 .5v-6.1l1 1.1v4.5l1-.1v-4.3l1-.6v4.8l1 1.4v-5l1-.7v4.5l1-.6v-4.6l1 1.3v3.7l1 .6v-4.2l1-.2v4.8l1-1.2v-4.5l1 1.1v3.6l1 .1v-4.9l1 .5v5.7l1-1.2v-3.9l1-.2v3.9l1 .8v-5.3l1 .5v5.6l1-.8v-5.3l1 1.1v4.3l1 0v-4.9l1-.5v6.2l1-1v-4.4l1 0v4.1l1 .1v-3.7l1-.1v4l1-.2v-4.7l1 0v4.8l1-.7v-3.5l1-.4v4.4l1-.5v-3.9l1-.1v3.8l1 .4v-3.5l1-.6v4.2l1-.5v-3.5l1-.3v4.8l1-.4v-4.8l1 0v5.8l1-.5v-4.1l1-.8v5.1l1-.7v-4.5l1 .3v4.3l1 .9v-4.6l1-.9v5.3l1-.4v-4.9l1 1.1v4.4l1-.6v-3.7l1-1v4l1 .9v-3.8l1-.4v4.5l1-.9v-3.6l1-.6v5l1 .1v-5.4l1 0v4.2l1 1v-5.5l1 .6v5.5l1-1.1v-4.2l1-.1v3.6l1 .7v-4.6l1-.6v5.3l1 .8v-4.7l1-1.9v5.1l1 .7v-5l1 .4v5.5l1 .2v-5.2l1-1.8v6.9l1-.2v-7.2l1 .2v6.6l1-.1v-7.1l1-.3v7.5l1 .7v-7.4l1-.2v7l1 1.5v-7.3l1-.6v6.4l1 1.5v-8.6l1 0v8.8l1 .4v-10.4l1-.2v14.2l1-3.3v-8.3l1-3v10.8l1 1.1v-11.8l1 .9v10.6l1 .2v-10.7l1-.5v10.9l1-.9v-10.9l1 2.2v8.9l1 1.2v-12.8l1 .6v11l1 3.1v-13.1l1-2.5v12l1 1.2v-11.6l1-.1v11.3l1-.7v-9.9l1-1.7v13.1l1 .2v-12.1l1 2.3v8.3l1 1.1v-9.9l1 .5v10.2l1-.4v-11.2l1 1v7.4l1 2.3v-7.6l1-1.1v7.5l1-1.3v-5.7l1-14v32.7l1-13.2v-5l1 1v4.1l1-.7v-4.5l1 .2v4.3l1 .2v-4.4l1 .3v3.8l1 0v-4.5l1-.1v4.8l1 .3v-4.3l1 .1v5.9l1-1v-5.9l1 .8v5l1-.1v-5.2l1 .3v3.8l1 1.7v-5.9l1-.3v5.6l1 .2v-6.1l1 .1v6.2l1 0v-5.8l1-.3v4.6l1 .3v-4.6l1-1.5v6.6l1 .4v-6.6l1-1v7.1l1 0v-4.8l1-1v5.5l1-.2v-5l1 .5v3.6l1 .4v-3.8l1-.1v4.3l1-.8v-3.8l1 .1v4l1 .7v-4.6l1 .3v3.6l1 0v-3.4l1-.1v4.1l1 0v-4.3l1 0v4.9l1-.1v-4.7l1 .1v5.2l1-.1v-6l1 .8v4.8l1 .4v-5.7l1-.4v4.9l1 .6v-4.7l1 0v4.3l1 .5v-4.6l1-.5v5.2l1-.5v-4l1-1.1v4.9l1-.2v-4.6l1 1v4.3l1 0v-5.7l1 0v5.3l1 .2v-4.5l1 .2v4.4l1 5.7v-18.2l1 7.5v3.9l1 .4v-5l1 0v4.2l1 .9v-4l1-1v4.1l1 1v-4.7l1 .1v4.5l1 .3v-4.7l1 0v5.7l1-.3v-5.9l1 .8v3.9l1 1.6v-6.5l1 .8v5.3l1-.7v-5.8l1 1.1v4.3l1 .2v-3.9l1 .2v4.5l1-.1v-4.8l1-4.9v13.6l1-3.5v-4.6l1 0v4.1l1 .1v-3.8l1-.1v3.2l1 .7v-3.9l1-.9v5.1l1-1v-3.9l1-1.4v6.1l1 .5v-5.5l1-.1v5.1l1 .1v-4.5l1 .3v4.9l1-.5v-4.6l1-.8v5.1l1-.1v-5.3l1-.1v4.4l1 1.9v-5.8l1-.5v5.6l1 1.1v-5.4l1-.1v3.7l1 1.2v-5.7l1 .9v3.7l1 .7v-3.9l1-1.1v4.8l1-1.1v-4.2l1 .2v4.4l1 .8v-4.9l1 .6v4.1l1 .5v-5.5l1 .2v4.6l1-.3v-5l1-.1v6.1l1 .3v-5.7l1-.2v5.7l1 .3v-6.6l1-.6v6.5l1-1v-4.2l1-.5v4.8l1 .9v-6l1 0v5.2l1 .2v-5.2l1 .1v4.2l1 .1v-3.5l1-.3v3.5l1 .8v-4.5l1 .8v3.9l1 0v-5.4l1 1.4v4.6l1-.6v-4.2l1 .1v4.1l1 .1v-4.8l1 .1v4l1 1.7v-6.3l1 .2v4.3l1 1.1v-5.2l1-.1v4.9l1 0v-4.9l1 .9v4.4l1-1.1v-4.3l1 1v4.2l1-.6v-4.2l1 0v4.5l1 .3v-4.5l1-.5v4.8l1-.2v-4.2l1 .1v4.5l1 0v-4.9l1-.4v5.2l1 .3v-5.6l1 .2v5.6l1-.7v-5.2l1 .1v4.8l1-.3v-3.6l1-.5v5.1l1-.9v-3.8l1-.5v5.6l1 .6v-5.7l1-1v7l1-.9v-5.9l1 .3v6l1-.1v-5.2l1-.1v4.2l1-.3v-4.1l1 .5v3.9l1-.9v-3.3l1-.3v4.2l1 .7v-5l1-1.1v6.1l1-.6v-4.3l1-1.1v5.7l1-.2v-3.5l1-.3v4l1-.1v-4.6l1 .5v5.1l1-.8v-4.2l1-.4v4.6l1-.1v-4l1-.8v4.9l1-.1v-4.3l1 .2v4.9l1-1v-4.7l1 .3v4l1 .4v-4.3l1 .8v4.3l1-.2v-4.3l1 .2v4.3l1 1v-6.2l1-1.2v6.5l1 .2v-5l1-1.2v5.2l1 0v-5.1l1 1.2v4.3l1 .4v-5.3l1 .5v4.8l1-1v-4.4l1 .2v4.6l1-.8v-4.1l1-.5v4.6l1 .7v-5.3l1 .3v5.1l1 .6v-5.4l1 0v4.9l1 .8v-5.1l1-.3v4.7l1-.2v-4.9l1 .2v5.3l1 .4v-5.4l1-.2v4.5l1 .1v-5.6l1 .4v6.3l1-.6v-5.1l1-.1v4.5l1 .1v-5.4l1 .6v4.2l1 .3v-4.6l1 .7v4.6l1-.2v-4.9l1-.3v5.5l1 .3v-6.2l1 1v5.2l1-.5v-4.4l1-.5v4.4l1 .9v-5.2l1 .4v4.4l1 .1v-4.7l1 .5v5.6l1-.5v-5.5l1-.7v5l1 .2v-4.4l1-.1v4.7l1-1v-4.8l1-.1v5l1 1.2v-5.1l1 .1v4.4l1 .3v-6.5l1 1.5v4.9l1 .4v-5l1-.4v3.8l1-.1v-4.9l1 1.8v4.4l1-1.8v-4l1 .8v3.6l1 1.5v-5.2l1 0v4.3l1 .1v-4l1-1v4.5l1 .1v-3.2l1-1.1v4.9l1 .3v-5.2l1 1v3.6l1 .6v-4.5l1-1v5.5l1 0v-4.8l1 .1v5.8l1-1.5v-6.4l1 .5v7.3l1-.1v-5l1-.5v5.4l1 .3v-4.8l1-1.4v5.2l1 .5v-6.3l1 1v4.4l1 .4v-5.7l1-.1v5.3l1 .4v-5.2l1 0v5.1l1 .8v-5.4l1 0v5.4l1-1v-5.2l1 1v5.2l1-1.4v-5.2l1 .5v4.9l1 .6v-5.4l1-.1v5.9l1 .3v-6.9l1 .8v4.9l1 1.6v-7l1 .2v5.8l1 0v-6.1l1 0v6.5l1 0v-5.3l1-1.5v6.8l1 .2v-7.1l1-.4v7.5l1 .5v-7.9l1 1.1v6.3l1 .1v-7.7l1 1.6v5.4l1-.5v-6.6l1 .8v7.2l1-1.5v-5.9l1 1.5v4.3l1 1.4v-6.3l1-.4v7.2l1-.5v-6.7l1 0v6.8l1 .9v-7.5l1 .5v6.2l1 .5v-7.8l1-.2v6.6l1 .3v-6.8l1-.3v7.5l1 1v-7.4l1 .1v7l1-1.4v-6.1l1 .5v7.3l1-.4v-6.5l1-1.7v6.8l1 .6v-5.1l1-1.3v7.5l1-1.4v-5l1-.6v6.3l1-1.6v-5.2l1 .8v5.2l1-.4v-6.2l1 .3v6.6l1 0v-5.8l1-.6v6.3l1-.4v-5.4l1-.7v5.6l1 .9v-6.1l1 .7v6.1l1 .2v-6.6l1-.8v6.2l1-.1v-5.6l1 .2v6.2l1 .2v-5.4l1-.1v5.2l1-.2v-5.1l1-.4v5.7l1-.5v-5.6l1-1v8.1l1-.6v-8.3l1 1.7v7.8l1-.4v-8l1 1.1v6.4l1-.2v-5.9l1-1.1v5.2l1 .4v-4.8l1 0v5.3l1-.5v-5.1l1 .4v6.2l1-.2v-7.2l1-.2v6.7l1-.6v-6.5l1 2v5.9l1-1.2v-5.1l1-2.1v8.1l1 .6v-6.5l1-.3v6.7l1 .3v-7.3l1-.5v8l1-.7v-6.7l1-.4v7.8l1-1.9v-5.9l1 .7v4.7l1 1.3v-7.1l1-.3v9.1l1-2.7v-5l1-.9v7.1l1-1.1v-6.6l1 1.1v7.2l1 1.1v-9.3l1 .8v7.7l1-1.3v-6.2l1 0v6.2l1 1v-7.5l1-.4v9.5l1 5.1v-19.6l1-3.6v24.1l1-3.8v-20.6l1 1v19.6l1 .2v-14.1l1-3.6v15.6l1 5.4v-22.1l1 1.3v16.4l1 4.7v-19l1-2.6v22.2l1-1.1v-21.2l1-6.5v28.9l1-4.3v-18.1l1-1.3v17.3l1 1.6v-15.9l1-1.8v20.4l1-1.7v-13.8l1-3.3v13.6l1 2v-13.8l1-8.8v24.8l1-2.4v-10.8l1-.7v10.8l1-2.5v-9.8l1 .1v9.3l1 .2v-7.3l1-2.6v10.9l1 1.1v-10.8l1-.6v9.5l1 2v-10.2l1-1.6v11.3l1 2.1v-14l1-.8v11.4l1 1.7v-10.5l1-4v17.7l1-1.6v-15.8l1-6.7v27.8l1-1.4v-17.8l1 .7v16.8l1 13.6v-45.2l1 12.8v15.1l1 9.9v-30.8l1 4.9v19.9l1-.9v-21.9l1-6.3v37.4l1-10.1v-18.9l1-4.5v27.8l1-3.7v-18.3l1-2.4v19.9l1 .8v-18.8l1 3.7v13.3l1-.9v-14.4l1 3.1v7.8l1 1v-10.3l1 .8v9.8l1 2.6v-14.6l1 2.2v12l1-2.1v-11.5l1 .6v9.1l1 1.1v-9.2l1-11.8v31.2l1-9.5v-8l1 0v8.2l1-1.5v-7.4l1 1v8l1-.4v-8.8l1-.1v9.1l1-2.2v-7l1 .5v6.6l1 .4v-5.9l1-.5v6.3l1-1.1v-6.1l1 1.2v5.1l1 0v-4.5l1-.7v4.8l1-.5v-3.6l1 .3v3.9l1-.1v-4.2l1-.1v4.3l1 .4v-4.5l1-.9v5.4l1 .2v-5.7l1 .9v4.6l1-.4v-5.9l1 1.1v5.6l1 .2v-6.6l1 .2v4.8l1 1.3v-4.6l1-.4v4.1l1 .3v-4.5l1-.4v4l1 .7v-4l1-1v4.8l1-.5v-3.1l1 .1v3.3l1 .8v-4.3l1-1.6v5.2l1-.2v-3.6l1-.4v4l1-.1v-4l1-.7v5.2l1 .3v-4.8l1-.3v5.1l1-.9v-4.3l1-3.6v9.2l1-1v-4.1l1 0v4.1l1 .4v-4.5l1 .3v3.8l1 .1v-3.6l1 .4v4.6l1-.6v-4.3l1-.1v4.7l1 .2v-4.5l1-.6v5.3l1-.8v-4.4l1 .5v3.6l1-.2v-5l1 .6v5.4l1 .7v-6.3l1-.1v5.3l1-.7v-5.3l1 .7v4.3l1 .2v-3.4l1-.1v4.8l1-1v-4l1 .5v4.3l1-.1v-5.3l1 .7v4.3l1 .6v-4.6l1-.7v5.6l1 .3v-5.5l1-1.5v6l1 .3v-6.3l1-.2v5.7l1-.5v-4.9l1 .7v4.6l1 .7v-6.5l1 1.4v4.2l1-.3v-3.6l1-.7v5.5l1-.8v-5.5l1 .6v4.9l1-1v-3l1-.1v4.2l1 .9v-5.5l1 .6v3.1l1-.5v-3l1-.7v4.2l1 .5v-3.6l1-1.2v4.2l1 1.7v-6l1 .7v3.3l1 1.3v-5.1l1 .1v5l1-.9v-4.3l1-.2v5.8l1-.7v-4.3l1 .3v3.7l1 .9v-4.7l1 .1v3.8l1 .6v-4.2l1 .2v3.7l1 .2v-4.4l1-.1v5.1l1-.3v-4.9l1 .4v4.5l1-.2v-3.9l1-.7v4.4l1 .8v-5l1 .2v5.5l1-.2v-5.7l1-.5v4.9l1 .7v-5.6l1 1.3v4.3"/>
<path class="tr" stroke="#0000ff" d="M138.5,385.6v3.8l1-.3v-3.6l1 1.2v3.5l1 .4v-4.6l1-.2v4.4l1 .3v-4.2l1-.8v3.8l1 1.1v-4.7l1 .3v4.2l1 .5v-4.9l1-.4v4.1l1 1.1v-4.4l1-.7v4.5l1-.1v-3.6l1 .2v4.3l1-.9v-4.2l1 .4v3.5l1 1v-4.8l1-.1v4.3l1 .7v-5.6l1 .9v3.7l1 .7v-4.9l1 .1v5.2l1-.7v-3.9l1-.1v3.6l1-.3v-4.2l1 .4v4.3l1-.7v-4.5l1 .9v4.8l1 .5v-5.9l1-.4v5.4l1-.1v-4.1l1 0v5.1l1-.3v-5.6l1 1.1v4.2l1 .5v-4.8l1 0v5l1 .1v-5l1-.6v4.7l1 .3v-4.8l1 .9v4.5l1-.4v-4.4l1 .2v5.2l1-.6v-5.9l1 1.8v4.5l1-.5v-5.1l1-.5v5.5l1 .9v-5.3l1-1.5v5.9l1 1.1v-6l1-1.1v6.7l1-.2v-5.5l1 .4v5.6l1-2v-3.2l1 .4v3.5l1-.5v-3.9l1-.1v3.6l1 1.1v-4.3l1 .2v3.6l1 .7v-4.6l1 .4v4.7l1-1.6v-4.3l1 .4v4l1 .8v-4.5l1-.6v4.6l1 .2v-4.2l1-.7v4.2l1-.2v-4.1l1 .8v3.6l1 .3v-4.7l1 0v6l1 .3v-5.3l1-1v4.9l1-.7v-4.3l1 .3v4.2l1-.6v-3l1-.8v4.1l1 0v-3.5l1 .4v3.9l1-.1v-4.2l1 .3v4l1-.4v-3.3l1-1.2v5.1l1-.1v-5.4l1 .3v4.6l1 1.1v-5.7l1-1.6v6.5l1-.4v-5.2l1 .4v5l1 .7v-5.1l1-.2v6l1-.8v-4.7l1 .2v4.7l1-.7v-3.7l1-.5v4l1 .3v-3.9l1-.3v2.9l1 .6v-3.3l1-.1v4.1l1-.8v-3.9l1 .6v3.5l1 .8v-4.1l1-.3v4.9l1-.2v-5.7l1 .1v5.9l1-.4v-5.6l1 .1v4.7l1 .6v-4.7l1 0v4.5l1 .3v-4.5l1 .7v3.7l1-.6v-3.8l1-.4v4.6l1 0v-4.4l1-.5v5l1 0v-4.5l1 .2v3.6l1 .5v-4.2l1-.6v5.5l1-.5v-4.5l1-.8v5.2l1-.3v-4.5l1 1v3.7l1-.2v-4.3l1 .7v3l1 .2v-2.8l1 .3v3.2l1-.9v-2.4l1-.8v3.2l1 .4v-3.4l1 .6v2.7l1 .9v-3.9l1-.8v5l1-.3v-4.4l1 .4v3.8l1 1.1v-4.3l1-.4v4.9l1 .1v-5l1-.5v5.1l1-.4v-4.1l1-1.8v5.5l1 0v-5.6l1 1.5v5.5l1-1.9v-4.1l1-.2v4.7l1-.1v-3.5l1-.4v4.3l1 .6v-4.4l1-.9v4.6l1 .1v-4.3l1-1.3v6.2l1 .3v-4.9l1 0v3.9l1-.3v-4.7l1-.3v5.8l1-.3v-4.4l1-.7v6.1l1-1.5v-4.8l1 .3v4.5l1 .2v-4.1l1-.2v4.1l1-.8v-3.4l1-1.5v5.1l1 .6v-4.5l1-.7v4.9l1 1v-6l1-1.2v7l1 2.8v-8.2l1-1.5v7.1l1 .9v-7.1l1-.1v6.4l1-.5v-5.4l1 .1v6.4l1 .4v-6.8l1-2.5v8.3l1 1.2v-7.6l1 1.1v7.1l1-1.6v-7.2l1 .6v6.8l1-.7v-7.3l1 2.3v5.3l1 .2v-7l1 .6v7.2l1 .4v-8l1-.1v7.8l1 .6v-9.9l1 1.4v9.6l1 .4v-10.1l1-2.7v10.9l1 .7v-8l1-.5v9.3l1-.8v-9.7l1 .3v8.8l1 .4v-6.6l1-.5v4.7l1-.2v-4.5l1 .9v4.4l1 .7v-6.2l1-1.2v7.6l1-.2v-6.9l1 .4v6l1 .3v-4.9l1-.5v4.4l1 .1v-4.6l1-.7v5.3l1-.2v-4.3l1-.5v4.4l1 0v-4.9l1 .5v4.2l1 0v-4.1l1 0v4l1 .6v-5.3l1-.1v4.5l1 0v-3.8l1-.8v5.5l1 .8v-5.6l1 .1v5.6l1 .1v-5.2l1-.7v5.9l1-.2v-5.5l1 .1v4.2l1 1.1v-4.4l1-.8v4.9l1-.8v-4l1-.8v4.9l1-.9v-4.1l1 .6v4.7l1-.1v-4.8l1 .7v4.5l1 .4v-4.9l1-.8v4.7l1 0v-4.2l1-.4v5.2l1-.5v-5.2l1 .2v4.7l1-.3v-4l1 .8v5.6l1-1.5v-5.4l1 1.2v3.4l1 .1v-3.6l1 .2v4.1l1-.3v-3.4l1-1.2v4.5l1-.3v-4.6l1-.1v5.4l1 .6v-5.4l1 .7v4.4l1 .3v-4.6l1 0v4.1l1-.6v-3.8l1-.4v5.4l1-.7v-3.8l1-1v5.6l1 .2v-4.7l1-.5v4.5l1-.6v-4.1l1 .4v3l1 1.1v-4.1l1-1.5v4.8l1 1v-5l1 .4v5l1-.4v-4.8l1-.5v4.7l1 .1v-5l1 .5v5.4l1-1v-6.1l1 1.2v5.4l1 .2v-4.7l1-.5v3.5l1 1.2v-5l1 .2v4.1l1 .7v-3.8l1-.6v4.2l1 .1v-4.4l1-.8v5.9l1-1.1v-4.9l1 .8v5.6l1-1.3v-5.7l1 .9v5.7l1-1v-4.7l1 .2v4.7l1 .5v-5.7l1 .3v4.2l1 0v-4.2l1 .2v5l1-.6v-5.2l1 1.1v5.1l1-.7v-4.8l1 .2v4.2l1 .1v-3.9l1 .1v3.7l1 1.8v-6.2l1 .6v5.2l1 .4v-5.3l1-.8v7.3l1-1.5v-5.3l1-.5v4.7l1 .6v-4.4l1-.2v4.4l1-.4v-4.3l1 .8v3.3l1 .6v-3.9l1-.1v3.6l1 .1v-3.6l1-.7v3.9l1-.2v-3.4l1 .1v3.2l1 .4v-4.5l1-.1v6l1-.2v-6.1l1-.3v5.8l1 .8v-5.8l1 .3v4.7l1-.5v-4.9l1 .5v5.4l1-.2v-4.9l1 .4v3.7l1 1.2v-4.6l1-.3v3.9l1 .1v-3.9l1-.4v4l1 1.2v-4.3l1-.3v4.3l1 .2v-5.6l1 .3v5l1-.4v-4.3l1-1v5.3l1 .7v-6.9l1 .4v6.1l1 .8v-5.3l1 .3v3.9l1-.4v-4.6l1 1.2v3.6l1 .7v-5.7l1 .1v5.3l1-.6v-4.6l1-.4v5.8l1-.1v-6.6l1 .4v7.1l1-.6v-8.3l1 1.3v8l1 .6v-10l1 1.9v7.9l1 .3v-9.6l1 .4v9.4l1 .9v-9.2l1-.3v8.2l1-1v-7.4l1 1.6v6l1 .3v-7.3l1 .6v6.1l1 .6v-6.4l1 .5v5.7l1-.4v-6l1-.9v5.4l1 1.2v-5.7l1-1.1v6.5l1 .8v-6l1-.8v7.2l1-.6v-6.8l1-1v8.1l1-.4v-6.5l1-1.4v8.5l1-1.1v-7l1-.3v8.2l1-.9v-6.4l1-1.2v7.4l1 .2v-6.7l1-.6v8l1 .7v-10.5l1 1.6v10.5l1-1.6v-10.6l1 .5v14l1 .2v-20.8l1 8v12.5l1-1.9v-13.6l1 .9v13.1l1 .3v-13.3l1-.2v13l1-.5v-14.5l1-2.7v17.6l1 5v-19.2l1-1.6v18.3l1 1.8v-22.3l1 1.3v20.8l1-3.1v-14.9l1-6v24.8l1-5.6v-16.3l1 1.4v16.1l1 4.8v-20.1l1-.7v20.1l1 12.6v-46.5l1 13.1v16.4l1 .1v-14.7l1-1.4v16.6l1 3.2v-21.7l1-1.1v24.8l1 2.9v-25.6l1-.9v18.5l1 .2v-13.7l1-2v17.7l1-4.5v-14.1l1-1v16.1l1-.7v-10.9l1 1v11l1-.4v-10.5l1-1.8v11.3l1 1.2v-11.1l1 1.3v9.5l1-.6v-9.8l1 .2v9.4l1-2v-6l1-.3v6.7l1 0v-7l1 .6v6.2l1-.9v-5.2l1-.3v5.8l1-1.2v-4.6l1 1v4.3l1-.7v-3.3l1 .6v2.9l1-.3v-3.8l1 .5v3.5l1-.2v-3.4l1-.2v4.6l1 .5v-5l1 .3v4.2l1 .6v-5.1l1-.6v5.3l1 .5v-6.1l1 .4v5.6l1-1.1v-4.3l1 1.3v3.3l1-.4v-3.8l1 .7v4.2l1-.1v-4l1-.1v3.6l1-.2v-3.2l1-.2v3.6l1-.1v-4l1 .1v4.1l1 .5v-4.4l1-.2v4.6l1-.5v-3.7l1-.5v4.1l1 .2v-5.2l1-.4v6.3l1 .4v-5.4l1-1.2v5.1l1-.5v-4.6l1 .7v4.8l1-.6v-4.4l1 .5v4.6l1 .8v-5.5l1-.6v5.6l1 0v-5.6l1 .8v5.7l1-1.4v-5.1l1 .6v4.6l1-.5v-5.2l1 1.2v5.2l1-.2v-5.3l1 0v4.6l1 .7v-4.9l1 1.2v4.2l1 0v-5.1l1 0v3.9l1 .8v-4.8l1 .4v3.7l1 .3v-4.4l1 .3v3.6l1 .3v-4.5l1 .1v4.7l1-.5v-3.9l1 .2v3.9l1-.1v-4l1-.1v3.2l1 1.8v-5.2l1 .2v4.1l1 .8v-5.3l1 .1v4.5l1 .4v-4.2l1 .1v3.5l1-.7v-3.4l1-.1v5.3l1-.8v-4l1 0v4.4l1 1v-5.9l1-.4v5.4l1-.6v-3.7l1-1.2v5.2l1 0v-4.7l1 .7v3.7l1 .4v-5.4l1 1.6v4.2l1 .3v-5.2l1-.2v3.9l1 .4v-3.7l1-.9v4.5l1-.4v-4.3l1 1.1v3.9l1-1v-3.7l1-1v5l1 .3v-5.1l1 .9v4.5l1-.8v-4.7l1 .9v5.1l1-.9v-4.8l1 .9v3.8l1 .2v-4.3l1 .6v4l1-.2v-4.3l1-.6v5.4l1-.4v-4l1-.6v5.2l1 .5v-5.4l1 .5v4.6l1-.4v-3.8l1 .2v4.1l1 .1v-5.1l1 .7v3.9l1-1.1v-3.4l1 .4v3.5l1 18.8v-42.1l1 4.2v33.7l1-15.5v-2.6l1-.8v4.2l1-.3v-4.1l1-.1v5l1 .4v-5.2l1 .2v5l1-.5v-4.4l1-1.9v5.8l1 2.4v-9l1-2v13.6l1 2.6v-18.9l1-2.1v21.9l1-4.3v-11.5l1 1v7.9l1-.7v-5.4l1-.1v5.1l1-.9v-3.5l1 .3v3.7l1 .8v-4.7l1 0v4.6l1-.9v-4.3l1 .6v4.1l1-.2v-3.9l1-.6v5.5l1-.8v-4.3l1-1v6.5l1 0v-5.3l1 .7v3.8l1 .6v-5.3l1 .2v3.9l1 .3v-3.4l1-1.5v5.1l1-.9v-3l1-.2v3.3l1-.1v-3.4l1 .2v3.1l1 1.3v-5.2l1 .5v4.7l1 .1v-4.6l1-.1v4.7l1 .1v-4.4l1-.2v4.5l1 .5v-5.8l1 .4v4.4l1-.7v-3.7l1-.2v4.5l1-.7v-3.5l1-.9v4.9l1 2.2v-6l1-.4v4.4l1-.5v-3.9l1-.3v4.5l1 .4v-4.8l1 .2v4.9l1 .2v-4.9l1 0v4.9l1-.1v-5.6l1-.1v6l1-.8v-4.5l1-.4v6l1-1.3v-4.8l1-.4v6.4l1 .4v-5.9l1 1.1v4.7l1-1.1v-4.4l1-.1v4.2l1-.4v-4.1l1 .1v4.1l1-.2v-4.1l1 0v4.2l1 .6v-4.8l1 .6v4.8l1-.5v-5l1-.4v4.2l1 .3v-3.9l1-.3v3.9l1 .2v-4l1-.2v3.7l1 1.1v-5.1l1 0v4.3l1 .4v-3.9l1-.2v5.1l1-1.2v-5l1 .1v5.5l1 .1v-5.8l1 .3v6.4l1-1.3v-4.9l1-.1v5l1 1.1v-5.1l1 .4v3.7l1 1.3v-4.8l1 .2v4.6l1-1.3v-4.4l1 .6v4.6l1-.6v-3.3l1 .3v3.7l1-.5v-4.3l1 .2v4.6l1-.8v-4.3l1-.3v4l1 .1v-3.5l1-.5v4.5l1 0v-4.4l1-.2v4.7l1 .7v-5.5l1-.2v4.8l1 .9v-6.1l1 1.2v5l1 0v-5.6l1 .7v5.2l1-.4v-6.3l1 .7v4.5l1-.2v-5.1l1 .4v5.3l1 .6v-5l1 .4v4.6l1-.9v-5.3l1 1.1v3.5l1 .1v-4.8l1 .2v4.8l1 .8v-5.4l1 .4v5l1-.8v-4.5l1 .7v3.9l1-.2v-5.2l1 2.6v4l1-.6v-3.9l1-55.1v115l1-16.1v-88l1 14v59l1-9.9v-38l1 7v25l1-2.9v-17l1 2v13l1-3.1v-5l1-1.2v6.3l1 .5v-5.9l1-.2v5.7l1-1v-4.1l1 .1v3.6l1 0v-3l1 .2v3.4l1-.9v-3.7l1 .9v3l1 .8v-4.5l1-.1v3.9l1-.1v-3.9l1 0v3.9l1-.6v-3.4l1 .1v5.2l1 .1v-5.6l1-2.7v9.7l1-.4v-8.8l1-.8v11l1 .5v-12.8l1-1.5v14.6l1-.5v-13l1 4.5v7l1-1.2v-5.6l1 .7v4.3l1-.6v-4.4l1-.5v4.7l1 0v-3.9l1 .5v4.1l1 .1v-4.7l1 .2v4.7l1-.5v-5.1l1 1.1v3.9l1 .5v-4.2l1 0v3.9l1 0v-3.6l1-.5v4.4l1-.6v-4.8l1 1v3.8l1-.2v-3.3l1 0v3.7l1-.3v-4.4l1 1.2v2.4l1 .6v-3.4l1-.9v3.5l1 .5v-3.5l1 .2v3.1l1 0v-3.2l1 0v3.4l1 .3v-4.1l1 .3v2.5l1 .2v-3.4l1 .5v3.6l1 .8v-5.3l1 .4v4.5l1 .5v-5.3l1-.1v5.8l1-1.3v-3.9l1 .1v4.2l1 .3v-4.7l1 .5v3.8l1 .8v-4.8l1 .2v3.2l1-.4v-2.7l1 .2v3.3l1 0v-3.2l1-.8v3.5l1 .7v-4l1-.4v4.3l1 0v-3.9l1 0v3.6l1 .9v-4.5l1-.2v4.6l1 .1v-5.2l1 .7v4.6l1-.4v-4.3l1-.4v5.6l1-.5v-4.8l1 .4v3.8l1 .1v-4.3l1 .6v4.3l1 .7v-4.6l1 .1v5l1-.4v-5.8l1 .3v5.3l1-.3v-5.1l1 .1v5.3l1-.6v-4l1-.4v4.2l1-.6v-4.8l1 .3v5.5l1-.1v-5.5l1 .5v5l1-.7v-4.1l1-.6v5.8l1 0v-5.9l1 .1v6.6l1-.7v-5.8l1-.5v6.4l1 .3v-5l1-.4v5.4l1-.1v-5.5l1-.4v6.9l1-.7v-6.3l1-.5v6.4l1-.8v-4.8l1 .4v5l1-1.2v-4.6l1 .5v4.6l1 .4v-3.9l1-1.6v5l1-.8v-3.9l1 .6v3.8l1-.1v-4l1 .2v4.2l1-1v-3.7l1 .8v3.8l1 0v-3.9l1-.7v3.8l1 .9v-3.8l1-.6v3.8l1-.7v-2.9l1-1v4.5l1 .8v-5.3l1 .1v4.9l1 .7v-5.3l1-.9v5.8l1 .4v-5.8l1 .1v5.7l1 0v-5.6l1 0v5.1l1 .2v-4.1l1-1.2v4l1-.3v-3.6l1 1.2v2.8l1 .1v-2.8l1-.9v3.8l1-.2v-3.8l1 .9v3.7l1 1.1v-5.1l1-.7v3.7l1 0v-3.9l1-.1v4l1 .9v-4l1-.4v4l1-.4v-3.6l1-.2v3.8l1-.2v-3.4l1 0v3.3l1 1v-3.6l1-.3v4.1l1-.3v-4l1 .2v3.8l1 1.3v-4.9l1-.4v4.8l1-.4v-4.7l1 .1v3.7l1-.2v-3.5l1-.1v4.4l1 1.3v-5.2l1-.9v5.6l1 .3v-5.7l1 .6v4.5l1-.3v-4.5l1 .4v4.8l1-.3v-5.4l1 1.2v4.8l1-1.2v-5.3l1 1.8v3.7l1 .8v-4.3l1-1.6v4.6l1 .5v-4l1-.9v5.1l1 .7v-5.4l1 .3v5.7l1-1.4v-3.8l1-.1v4.3l1-.4v-4l1-1.3v4.9l1-.3v-2.9l1-.2v3.5l1 .1v-3.5l1-.9v4.8l1 .2v-4.4l1 0v4.1l1 .3v-4.6l1-.7v4.7l1-.2v-4.3l1 .5v4.2l1-.1v-4.2l1 .2v4.1l1-.1v-3.7l1-1v3.8l1 1.6v-5.6l1 .1v5.1l1-.2v-4.7l1-.2v5.3l1-1.1v-4.8l1 .3v4.6l1-.2v-4.3l1-.1v3.9l1 .5v-3.7l1-.3v4.4l1 .4v-5.1l1 .8v4.4l1 .4v-5.2l1-.1v3.8l1 .5v-3.6l1-1.1v4.5l1-.7v-2.9l1 .1v3.4l1-.6v-3.3l1 0v3.6l1-.2v-3.2l1 .3v3.8"/>
<path class="tr" stroke="#008000" d="M138.5,418.7v3.9l1-.7v-4l1-.1v4.7l1-.8v-3.4l1 .1v3.6l1 .1v-4l1-.4v3.8l1 .2v-4.4l1-.2v4.4l1 1.3v-5.2l1 .4v4.6l1-.4v-5.3l1 1.5v3.2l1 1.2v-5.4l1-.2v4.5l1 .3v-4.3l1-.8v4.5l1-.2v-4.8l1 .5v4.1l1 .5v-3.3l1-.9v4.2l1-.4v-4l1-.3v3.9l1 1.3v-4.2l1-.5v3.1l1 1.7v-3.6l1-1.5v4.6l1-.2v-3.9l1 0v3.2l1 .8v-3.5l1-.8v4.3l1 1v-3.9l1-.2v3.4l1-.3v-2.7l1-.8v3.1l1-.5v-3.2l1 .5v3.7l1-.2v-3.2l1-.4v4l1-.3v-2.8l1-1.5v3.7l1 .5v-3.3l1 .5v3.6l1-.2v-3.4l1-1.1v4.6l1 .4v-3.8l1-.2v3.7l1-.8v-3.6l1 .4v3.2l1-.2v-2.9l1 1v2.2l1 .2v-3l1 .3v2.4l1 .1v-2.1l1-.5v2.8l1 .4v-3l1-1.2v4.1l1-.1v-2.8l1-1.8v5.1l1 .8v-5.2l1-.6v5.2l1-.3v-4.4l1-.3v5.5l1-.7v-3.9l1-.5v4.2l1 .5v-5.1l1-.1v4.6l1-.4v-3.7l1-.1v4.6l1-1v-3l1-.7v3.3l1 1.1v-5.5l1 1.1v4.6l1-1v-3.7l1 .2v3.6l1 .4v-3.5l1-.6v4.1l1 1v-4.9l1-1.2v4.3l1 .4v-3.3l1-1.2v5.1l1 .2v-4.1l1 .5v3l1 1.4v-4.4l1-1.1v4l1 .9v-3.8l1-1v5.1l1-1.5v-3.3l1-.1v3.1l1 .4v-2.6l1-.6v3.9l1 1.2v-6.1l1-29.7v43.8l1-9.1v-5.6l1 1.6v4.6l1-1.6v-3.9l1 1.2v3.3l1 .3v-4.5l1 .5v3l1 .5v-3.5l1-1.1v4.3l1 .1v-3.3l1 .1v3.4l1-.3v-3.1l1-1v3.6l1 .8v-3.7l1 .8v2.8l1 1.9v-6.6l1 .7v3.8l1 .5v-4.3l1-.5v4.7l1-.5v-3.9l1 .3v4.8l1-.7v-3.3l1-.3v4l1-1v-2.6l1 .4v2.7l1-.3v-3.4l1 1v2l1-.2v-2.3l1-.2v2.4l1 .8v-2.9l1-.3v3.4l1-.2v-2.3l1-1.6v3.5l1 .7v-3.6l1-.2v4.2l1-1.2v-3.8l1 0v3.9l1 .9v-4.3l1-.1v3.3l1 .1v-3l1-.2v4.7l1-.8v-3l1-.1v2.4l1 0v-2.3l1-.5v3l1-.7v-3.2l1 .9v3.1l1 .2v-4l1-.3v4.4l1 .3v-5l1 .8v3.8l1-.5v-3l1 .6v2.3l1 .1v-2.5l1 .2v2.7l1-.4v-2.6l1-.4v3.4l1-.1v-3.9l1 .5v4.3l1-.8v-3.8l1 0v3.6l1 .6v-3.5l1 .1v3.6l1-.6v-2.9l1 .2v2.5l1 .8v-2.9l1-.9v3.2l1-.3v-2.5l1-.6v3.2l1 .1v-3.7l1 .8v3.5l1 .1v-4.7l1 .9v2.6l1 1.2v-3.6l1-.2v3.3l1-.8v-3.3l1 .5v3.2l1 .1v-3.5l1 .3v3l1-.4v-3.1l1 .6v3.6l1-.3v-3.5l1-.3v4.9l1 .2v-6.1l1 .8v4.2l1 .6v-5.3l1 .9v4.4l1 1v-5.3l1 .2v4.3l1-.4v-3.6l1-1.2v5.1l1-.2v-4.7l1 .6v4.6l1 1v-5.6l1-1.3v6.7l1-.3v-4.7l1-1.4v4.7l1-.4v-3.9l1-.3v4.8l1-.9v-3.1l1 .1v3.5l1-.1v-4l1 1.3v3.5l1-1.1v-2.8l1-1.1v3.9l1-.1v-3l1-.5v2.5l1 .7v-3.1l1 .5v2.7l1 .5v-2.9l1-.2v2.8l1 .1v-4.1l1 .4v5.4l1-.6v-5.4l1 1.2v3.7l1-.2v-3.9l1 .4v3.8l1 1.2v-5.2l1 1.1v4.1l1-1v-4.1l1 0v5.6l1-2.7v-3.5l1-.9v5.3l1-.4v-3.2l1-1.8v5.9l1 .2v-5.7l1 1.5v4.7l1-1.2v-5l1 1.3v3.8l1 0v-4.6l1 1v3.6l1-.8v-3.3l1 .6v2.5l1 .2v-2.2l1-.5v2.6l1 .8v-3.6l1 .1v2.6l1 0v-3.2l1-.3v5.2l1-.1v-5.6l1 1.2v3.3l1 .4v-3.1l1-.1v2.1l1 .4v-2.2l1 0v1.9l1 .2v-2l1-.2v2.5l1-.8v-1.9l1-1v3.7l1 .3v-3.5l1-.8v4.6l1 .5v-4.5l1-.8v5.6l1-.3v-4.9l1 .7v4.7l1-.3v-5l1-.5v5.3l1 .8v-5.1l1 .5v4.9l1-.7v-5.1l1 .5v4.3l1-.4v-4.6l1 1.3v3.5l1 .2v-4.6l1 .3v4l1-.2v-4.5l1-.2v5.2l1 0v-4l1 .1v3.5l1 0v-3.7l1-6.4v13.8l1-2.8v-5.6l1 .7v4.6l1-.4v-3l1-.9v4.8l1-.6v-4.1l1-.5v5l1-.6v-3.7l1 .2v4.2l1-.4v-4.6l1-.9v5l1 1.1v-4.9l1-3.4v9.3l1-2.5v-3.5l1-.8v5.3l1-1.2v-3.4l1-1.2v4.3l1 .8v-3.3l1-.3v3.6l1-1v-3.9l1 1.5v3.9l1-1.1v-5.6l1 1.7v3.8l1 .5v-4.6l1 .2v4.7l1 .1v-4.1l1-.1v4.5l1-.4v-4.9l1 .7v3.1l1 1.5v-3.8l1-.3v3.9l1-1v-4.2l1-.2v5.3l1 0v-4.8l1-.5v4.9l1 .5v-4.3l1-.2v4.5l1 .6v-5.6l1 .8v4.5l1-1.2v-3.2l1-.5v4.3l1-.3v-3.7l1 .3v2.9l1 0v-2.4l1-.4v3.3l1 0v-3.6l1 .9v2.8l1 .6v-3.5l1-.2v3.2l1-.6v-3.2l1 .1v3l1-.5v-2l1-.6v3l1 .9v-4.3l1 1.2v2.2l1-.2v-2.9l1 .1v2.8l1 .1v-3.8l1 .6v3.3l1 .9v-4.3l1 .8v3.3l1 0v-4.5l1 .4v3.8l1 .2v-4.1l1 .2v4.1l1-.6v-2.9l1 .2v2.4l1 .2v-2.9l1 .4v2.9l1 .4v-3l1-.4v3.3l1 .9v-4.4l1-.4v5l1-.9v-4.3l1-.2v4.3l1-.3v-3.1l1-.2v3.2l1-.1v-3.2l1 .2v2.5l1 0v-2l1-.2v1.9l1 .1v-2.4l1-.1v3.2l1-.9v-1.9l1-.9v3.3l1 .4v-2.8l1-1.8v4.1l1 .5v-3.4l1 .7v2.9l1-.4v-2.7l1-.5v3.9l1 .2v-4.2l1-1.3v5.4l1 .8v-4.9l1 .2v3.3l1 .2v-3.8l1 .5v2.2l1 .1v-2.2l1 .3v1.7l1 .9v-3.2l1 0v2.8l1-.1v-2.6l1 0v2.4l1 .3v-2.1l1-.2v3.4l1 0v-3.8l1-1.5v5.1l1 .4v-5.4l1 0v5.6l1-1v-3.9l1-.3v5.3l1 .4v-6.5l1 1.8v4.3l1 1.2v-6.8l1 0v5.7l1-1.1v-4.2l1 1.5v3.5l1-.3v-3.3l1 .2v2.3l1 0v-2.6l1-.6v3.2l1 0v-2.8l1 .7v3.1l1-.7v-3.2l1 0v3.5l1 .2v-3.7l1-26.6v45.3l1-15.7v-4l1 .7v3.3l1 .7v-4.4l1 .7v4.1l1-.9v-2.7l1-.5v3.1l1-.3v-3.3l1 0v3.3l1 .9v-3.2l1-1.2v4.4l1 .8v-5.2l1 .6v3.6l1 4.6v-16.8l1 7.6v4.8l1 0v-4.2l1 1v2.9l1 .6v-3.5l1-.2v2.4l1 1.8v-4.5l1-.3v3.8l1 1.2v-6.1l1 1.6v4.9l1-1.5v-4l1-.1v3.6l1 .8v-3.7l1 .4v4.2l1-1v-5.1l1 .8v4.4l1-.7v-4.4l1 .4v4.1l1 .7v-4.8l1-.9v4.4l1 .6v-4.3l1 .5v4.2l1 .6v-5.9l1 1.2v3.6l1 1v-5.9l1 .9v4.2l1 .6v-4.9l1 .9v3.1l1 .2v-3.7l1 1.1v2.3l1 .3v-2.6l1-.3v4l1 .1v-5.4l1 1.4v5l1-.3v-6.5l1 1.7v4.4l1-.5v-3.7l1-1.2v4.5l1 .2v-3.9l1 .3v3.2l1-.3v-2.6l1 .5v2.7l1 0v-3.4l1-.4v4.2l1 .1v-4.4l1-.2v4.2l1-.1v-4.6l1 .1v4.5l1-.1v-5.2l1 1.5v3.5l1 .5v-4.9l1-.2v4.5l1 2.4v-5.7l1-1.1v5.3l1-.1v-4.5l1-.3v4.1l1-1.2v-2.6l1-.7v3l1 .3v-2.6l1 0v3.1l1-.9v-2.1l1-.1v2.9l1 .1v-3.3l1 .3v2.9l1 .6v-4.4l1 0v3.5l1 .5v-3.7l1 1.2v3.6l1-1.6v-2.5l1 .8v1.5l1 .5v-2.6l1 0v2.5l1 0v-2.7l1 .7v3.7l1-1v-3.3l1 .2v3.9l1 0v-3.8l1-.9v4.2l1 .6v-4.8l1 .5v5.8l1 .8v-7.1l1 .6v4.5l1-1.6v-2.6l1-.1v3.4l1-.8v-1.9l1 0v2.4l1 .4v-2.8l1 0v2.5l1 .3v-3.4l1 .2v2.5l1 .1v-3.3l1-.1v3.7l1 .8v-4.7l1 1.2v2.8l1 .6v-4.4l1 .3v3.7l1 .2v-4.7l1-.1v4.3l1 .2v-4l1 .5v3.5l1 .4v-5.4l1 .9v3.3l1-.2v-3.5l1 .8v3.1l1-.4v-3.2l1 .1v4l1-.6v-3.7l1 .6v4.4l1-1.2v-4.2l1-.8v5.8l1 .2v-5.3l1 .5v4.1l1 .4v-4.8l1 .6v3.8l1-1.3v-2.7l1 .4v2.7l1 .8v-2.7l1-.2v2.6l1 .3v-2.8l1-.6v3l1-.2v-3.1l1 .6v2.5l1 .2v-2.8l1 .2v2.1l1 .2v-2.9l1 .4v3l1 .5v-4.1l1 .8v3.3l1 1v-4.1l1-2.3v5.1l1-.1v-4.4l1-.3v5.9l1 .7v-5l1 .7v3.5l1-.2v-3.6l1-1.4v5.7l1-.3v-4.6l1-.1v4l1-.8v-3.3l1 .5v2.2l1 .3v-2.5l1-.7v5.3l1-1.3v-3.5l1-1v5.1l1 0v-5.4l1 .1v4.1l1 .9v-4l1-.5v5.1l1-.6v-4.1l1 0v4.6l1-1.1v-3.6l1-.4v4.5l1-.6v-3.3l1 0v2.9l1 .9v-3.7l1-1.4v4.7l1 0v-3.6l1-1.2v5l1 .1v-4.6l1 .2v6l1 .3v-7.2l1-1.1v8l1 7.6v-24.2l1 6.4v15.6l1-3.9v-9.5l1 .6v5.8l1 1v-5.6l1-.4v5.8l1 1.9v-8.8l1 1.1v7.3l1 0v-9.3l1-1.7v12.1l1-.5v-8.2l1-.1v8.3l1 .7v-9l1-1.5v10l1-2.2v-5.1l1-.3v7l1 3.1v-11.9l1-.1v7.8l1-.1v-5l1-1.3v6.8l1 2.7v-10.8l1 1.3v7.4l1 7.7v-23.9l1-2.6v26.8l1 5.7v-36.8l1-3.6v41.2l1 6.1v-46.3l1-5.3v40.3l1 3.2v-35.1l1-6.9v49.5l1 2.8v-46l1-14.2v62.6l1 1.8v-49.3l1-15.4v56.8l1 23.5v-65.4l1 3v41.5l1 .3v-45.8l1 .5v38.9l1 5.4v-53.8l1 4.2v47.8l1 3v-44.9l1 1.6v38.7l1 11.6v-52l1-9.3v51.8l1 2.8v-43.6l1 .5v42.6l1-6.8v-36.8l1-2.6v36.3l1 4.5v-39.3l1 2.3v31.1l1 22.4v-90.8l1 24.8v43.6l1 11.4v-40.3l1-9.2v45.9l1 6.8v-49.1l1-2.8v52.6l1-8.3v-37.2l1 1.2v37.1l1 4.4v-47.7l1-3.2v47.4l1 .6v-55.8l1 20.8v21.1l1 7v-32.8l1-1.5v30.9l1 5.5v-39.6l1-.6v33.3l1 7.4v-40.8l1-4v50.8l1 13v-95.8l1 38.2v35.6l1 .9v-30.7l1 1.9v18.8l1 3.1v-28l1 4.6v26.1l1 7.3v-47.8l1 4v34.9l1 10.2v-41.6l1-5.4v37.3l1 9.4v-36.1l1-9.2v41.2l1-3.4v-29.8l1 7.5v20.5l1-4.5v-17.7l1-3.3v19.1l1 2.4v-19.3l1 2v18.8l1 2.7v-22.7l1-4.5v22.4l1 7.1v-25.5l1-1.6v18.7l1 4.7v-20.4l1-5.8v27.9l1-.9v-21l1-4.4v26.1l1 5.2v-30l1-5v29.4l1 1.9v-25.1l1-30.8v60.8l1-2.4v-31.3l1 .2v29.4l1-6.7v-23.1l1 4.9v20.9l1-4.6v-14.4l1 .7v14.8l1 .5v-16.8l1-27.5v55.8l1-8v-24.4l1 2.7v19.3l1 2.2v-23.6l1-2.4v23.9l1-1.3v-16.6l1-10v25.6l1 3.1v-20.3l1 1.9v21.4l1 5.4v-30.8l1 2v22.9l1-4.3v-20.8l1 5.3v13.4l1-1.8v-9.3l1-2.8v12.5l1 .3v-11.2l1 2.2v8.3l1-2.6v-6.1l1-2.4v11.2l1 1v-12.4l1 .5v11.5l1-.4v-11.1l1 1.4v11.1l1-1.6v-9.2l1-2.5v12.1l1-2.2v-10.3l1 1.4v10.7l1-1.7v-9l1 1.7v10l1-1.5v-9.3l1 .2v8.7l1-.8v-6.2l1-1.8v7.7l1-.9v-5.4l1-.6v5.5l1 .1v-5.4l1 .2v8.7l1 .8v-8.5l1-3.2v8.5l1 .1v-7.7l1 1.9v6.4l1 2.3v-9.8l1-.3v7.9l1 .5v-8.4l1-2v10.8l1-.1v-9.5l1 1.4v8l1 3.5v-14.6l1 3.2v8.9l1-1v-10.8l1 .6v12.2l1-1.3v-9.3l1 1v10l1-1.3v-9.1l1-1.1v8.8l1 2.1v-13l1 1.7v13.3l1-1.6v-12.3l1-.8v11.7l1 3.6v-13.5l1 .8v8.1l1-.6v-6.9l1 .2v5.8l1 1.6v-8.9l1-.5v8.2l1 3.3v-11l1-2.5v13.9l1 1.8v-16.9l1-.4v22l1 1.6v-29.4l1 .4v30l1-1.4v-21.9l1 .3v18.5l1 4.3v-29.1l1 6.5v14.3l1 1.7v-21.4l1 1.2v21.5l1-1v-23.3l1 1.3v24.6l1-3.9v-16.8l1 2.9v13.5l1-2.4v-12.9l1 1.8v13.2l1 2.4v-14.7l1-4v20.1l1-4.4v-17.1l1-2.8v26.6l1 .3v-23.9l1 3.6v19.2l1-1v-17.1l1-.8v13.5l1-1v-13.2l1-1.8v16.1l1 1.4v-17.8l1 3.3v14.5l1 6.7v-29.2l1-.2v26.6l1 5.8v-31.8l1-5.3v33.9l1-5.1v-22.1l1 1.7v26.1l1-7.3v-23.5l1 6.8v22.8l1 6v-43.8l1 6.7v26l1 5.9v-26.7l1-5.7v33l1 1v-30l1-2.7v33.3l1-4.3v-22.7l1-6.3v24.5l1 .9v-22l1 3.2v23.9l1-6.5v-19.5l1 3.5v19.3l1-2.9v-15.9l1-.9v15.2l1-2.3v-12l1-1.5v16.3l1-.2v-16.7l1-8.6v32.8l1-.1v-23.3l1-1.4v26l1-.6v-31.2l1 1.8v25.1l1-2.4v-22.8l1 1.5v21.7l1-.8v-15.5l1-.3v15.7l1 .1v-19.1l1 3.6v16.8l1-3v-13l1 .9v11l1-.3v-14.5l1-22.4v55.3l1-13.4v-16l1-3v14.1l1 3.9v-16.8l1 1.1v17.9l1 6v-24.3l1-2.7v21.3l1-5.3v-16.9l1 3v14.9l1 0v-17.4l1 3.5v18.7l1 2.6v-26.8l1 3.8v18l1-2.7v-13.3l1 .4v12.7l1 5.8v-25.3l1-3.5v29.9l1 1.5v-28l1-8.9v40.3l1 9.7v-58.7l1 1.7v52.4l1-2.4v-49.5l1 12.8v31l1-1.6v-29.2l1 2v23.4l1 11v-32.5l1-9.8v35.8l1-.2v-46.2l1 13.5v34.6l1-6.8v-30.5l1 1.9v42l1-8.4v-27.8l1-14.6v42.8l1 9.9v-61.8l1 4.1v49.2l1 13.1v-52.1l1-.1v37.1l1 3.8v-32.3l1-1.5v28.8l1 9.9v-45.9l1 0v47.8l1-5v-42.1l1 7.4v42.4l1-9.5v-35.3l1 4.7v31.4l1-3.7v-47l1 19.4v28.3l1-4.6v-25.4l1-4.6v29l1 8.5v-32.1l1-.6v27.1l1 4.7v-30.3l1 .9v37.3l1-16.1v-19.5l1-.2v18.2l1 6.6v-28.8l1 4.3v16.3l1 2v-18.3l1 3.1v14.7l1 1.1v-20l1 3.6v19.7l1-.9v-19.7l1-4.5v25.5l1-2.1v-20.5l1-.7v21l1 1.4v-22.5l1 .6v19.2l1-4.6v-10.7l1-15.2v35.8l1-10.5v-13.7l1 3.7v12l1-.1v-12.1l1-1v14.1"/>
<path class="tr" stroke="#000000" d="M138.5,442.1v18.4l1-2.7v-10.7l1-3.4v15.4l1 1.3v-16.1l1 .5v17.2l1 3.5v-20.5l1 1.3v15.3l1-1.3v-15.8l1 .7v14.7l1 6.9v-23.2l1-.5v15.9l1 2v-14.9l1-4.1v17.8l1-1.3v-13.4l1-3.8v20.2l1-1.5v-17.4l1-2.2v19l1-2.2v-14.5l1 1.1v19.1l1-6.4v-12.1l1-1.8v18.2l1 2.9v-20.3l1-5.1v27.1l1-6.2v-15.8l1-1.6v19l1-.5v-21l1 4.4v14.8l1 1.7v-15.8l1-1.9v19l1-1.9v-14.1l1 1.6v10l1 .1v-11l1 .3v10.1l1 2.4v-16.6l1 2.5v15.2l1-.6v-12.6l1-2.9v16.2l1 .7v-16.6l1 .3v22.4l1-6.9v-15.7l1-4v18.9l1 1v-17.9l1 1.1v17.9l1-.6v-15.4l1-2.3v15.3l1 3.5v-19.1l1-.6v20.8l1-3.3v-17.5l1-3.7v26.4l1-3.6v-21l1-2.5v27.4l1-3.3v-22.4l1 3.2v19.3l1-3.5v-17.2l1 3v12.8l1 15v-45.5l1 17.2v13.4l1 2.3v-18.2l1 2.2v18l1 .5v-19.7l1-9.7v35.3l1-3.8v-21.8l1-.2v21.7l1-2.4v-21.1l1-2.6v27.7l1-2v-20.3l1-.9v18.8l1 6.2v-24.2l1-6.2v25.2l1 2.8v-24.7l1-3.4v30.9l1-3.8v-29l1 1.5v26.8l1-1.5v-19.6l1 .7v18.1l1 2.6v-22.2l1 .9v22.7l1 5.5v-39.8l1 7.3v23.9l1 1.5v-20.3l1-8.1v28.8l1-3.3v-17.5l1-.2v18.7l1 10.8v-32.4l1 .9v25.8l1-1.2v-24.6l1-.7v25.9l1-2.3v-28.5l1 4.1v26.8l1 3v-33.9l1-11.4v44.2l1 1.4v-31.2l1-13.3v47.8l1-8.1v-32.7l1-.8v42.9l1 4.5v-47.2l1-1.4v41.2l1 5.8v-56.3l1 16.6v25.8l1 3.9v-26.8l1-3.1v29l1 5.1v-31.1l1-.6v28.7l1 4.2v-38.3l1 3.4v27.7l1 5.9v-36.9l1-6.9v46.8l1-9.4v-26.2l1-1.4v28.4l1-2.4v-24.4l1-.5v22.8l1 1.7v-22.5l1-1.6v29.1l1-6.1v-16.7l1 2.7v8.6l1-1.3v-6l1 .7v5.8l1 1.7v-8l1 .1v6.2l1 .4v-6.9l1-.4v6.2l1 .6v-7.2l1 0v5.9l1 1.5v-7.4l1 .7v5.4l1 1.5v-6.9l1 .4v6.7l1 .4v-6.5l1-1.2v5.9l1-.4v-5.4l1 1.6v4.2l1 .4v-5.6l1-.2v5.6l1 .6v-7.5l1-.5v6.6l1-.2v-5.1l1 0v6.6l1 .9v-6.6l1-.5v4.9l1 .2v-4.5l1 .4v3.7l1-.2v-3.8l1-.7v4.8l1 2.3v-7.5l1 1v5.4l1-.1v-6.6l1-.1v7l1-.3v-6.2l1 .3v6.5l1-.3v-6.2l1 .1v6.3l1 .7v-7.4l1-5.7v17.8l1 13.5v-35.6l1-5.6v41.1l1-6.4v-39.4l1 4.5v34.6l1-1.1v-34.4l1-.5v35.2l1 8.9v-52.8l1 7.4v41.8l1 2.3v-50.6l1-.1v54.7l1-8.4v-47.4l1 1.2v63.4l1-3.9v-66.1l1 11.8v47l1-6.9v-37.7l1 4.5v32.1l1-.6v-30.3l1-10.7v39l1 2.4v-34.3l1-9.4v46.9l1-2.1v-32.7l1-2.2v37.9l1 .4v-41.6l1-5.6v49.5l1 .9v-48.5l1-4.3v52.8l1-4.3v-35.4l1-1.2v30.5l1 .9v-36.1l1 4.3v36.5l1 1.5v-34.8l1-.5v38.2l1-5.2v-41.6l1 .8v48.2l1 10.2v-54.7l1-5v51.8l1-5.4v-44.6l1 1.2v42.9l1 3.7v-52.8l1 .8v50.5l1-2.9v-38.2l1-3.8v40.7l1-3.4v-37l1 1.5v32l1 5.4v-31.7l1 2.2v29.9l1 7.5v-37.7l1-3v31.6l1-6v-26l1 3v24.5l1-2.8v-22.6l1 4.4v18.8l1 2.1v-27l1 3.2v30.2l1-4.8v-31.2l1 6.9v19.4l1 2.2v-26.3l1 4.3v20l1 2.6v-23.4l1 .2v21.4l1 1.2v-20.5l1-3.3v21.8l1 .1v-22.2l1-1.2v28.7l1 2.9v-37.7l1 1.3v32.8l1 3.2v-33l1-3.5v32.7l1 .5v-28.5l1-3v34.6l1 8.1v-51.8l1 13.1v26l1 8.7v-41.1l1 6.6v29.5l1 2.7v-37.4l1 3.9v32.8l1-3v-34.6l1-5.9v40.7l1 1.5v-33.4l1-11v51.8l1-10.9v-30.2l1 1.2v33.4l1 2.3v-41.3l1 2.6v30.6l1-3.9v-20.7l1 8.6v7.3l1-.9v-7.6l1 .3v7.2l1 .5v-6.3l1-.2v6.6l1 3.5v-14.8l1 2.6v7.2l1-.4v-4.4l1-1.1v6.1l1 1.4v-6.4l1-.6v7.9l1-.8v-10l1 1.5v9.2l1 1.2v-10.9l1 .2v9.6l1 .1v-8.3l1-.9v11.2l1-1.8v-8.8l1-.1v11.8l1-2.6v-8.9l1 1v7.8l1 .4v-9.2l1 1v7.1l1 .4v-7.8l1-.7v7.6l1 .9v-6.8l1-.1v5.1l1 1.5v-5.8l1-.4v5.6l1-.1v-4.7l1-.6v5.7l1 .2v-7.3l1 .5v6.8l1-1.1v-5.7l1 .7v5.7l1-.9v-5.1l1-.2v5.9l1 .8v-5.3l1-1.1v5l1 2v-7.1l1-.7v6.3l1 .3v-6.8l1-.6v7.9l1-.5v-8.4l1 1.4v8.8l1 1.3v-11.7l1 2.4v7.5l1-.3v-9.5l1-1.1v11.8l1-1.1v-9.2l1-.7v10.4l1-.2v-9.5l1-1.5v11.8l1 .1v-12.2l1 1.1v11.5l1-2.3v-9.5l1 .8v8.3l1 .9v-8.8l1-22.7v50.8l1-19.6v-9.2l1 .6v8.9l1-.1v-7.7l1 .1v7.4l1 1v-9.6l1 .1v8l1 5.4v-13.2l1-1v12.2l1 2.6v-15.1l1 1.6v11.3l1-2.6v-7.7l1-2.7v13l1-3.3v-7.5l1 .3v7.7l1 .2v-7.5l1 .9v5.9l1 1v-7.1l1-1.9v8.1l1-1.1v-7.3l1 .5v8.8l1-1.6v-7.1l1-4.3v11.8l1 2.7v-13l1-.1v12l1-.6v-14.3l1 4.1v9.9l1-.1v-8.4l1 .2v7.5l1 .2v-8l1-1.1v9l1 .2v-8.9l1-8.2v24.8l1-6.8v-7.4l1 .2v7.7l1-.6v-8l1-.5v7.6l1-.9v-7.4l1-.6v9.2l1-.6v-8.4l1 .9v7.8l1 1.1v-7.5l1-.2v7.7l1-.1v-6.9l1-1.8v6.8l1 .7v-7.2l1-1.8v11.4l1-1.9v-8.7l1-2.4v14.1l1-3.3v-10.1l1 1.1v8.9l1 9.3v-25.8l1 8.6v8.2l1-.5v-6.7l1-.6v6.9l1 2.3v-9.6l1-.7v9.4l1 .7v-10l1 .4v11.6l1-2.3v-9.5l1-1.8v13.3l1-.7v-12l1 1.4v8.6l1 2.1v-11.8l1 .7v9.9l1 .5v-14.2l1 3.9v10.9l1-1.4v-8l1-.6v8.5l1 .8v-9.5l1 .3v9.7l1 6.9v-29.8l1 10.3v13.5l1-1.7v-11.9l1 .3v11.7l1 .6v-10.5l1-2v10.9l1 1.9v-10.2l1-.9v11.3l1-1.6v-10.2l1-.1v10.7l1-.1v-9.6l1 .2v8.9l1-1.5v-8.7l1 .9v9.8l1 0v-9.3l1-.8v9.4l1 6.9v-23.8l1 8.8v6.9l1 .1v-7l1-1.7v8.5l1 3.2v-11l1 .9v10.4l1-.1v-12.4l1 1.2v13.1l1-.6v-13.3l1 1.3v9.2l1 0v-9l1-1.1v10.6l1 .5v-10.4l1 .8v9.4l1-.5v-10.9l1 .6v10.4l1-.4v-10.8l1 2.1v8l1 0v-9.1l1 1.2v9.5l1-1v-11l1 1.7v10.7l1-.1v-11.8l1-13.9v41.3l1-16.5v-10.6l1 2v8.4l1-.6v-7.5l1-.5v6.3l1 2.8v-9l1-1.6v8.7l1 1.1v-9.5l1-.1v8.9l1 8.5v-26.8l1 10.5v8.7l1-1.5v-9.3l1 1.9v9.9l1-2.5v-7.4l1 .3v7.6l1 4.9v-14.5l1 .7v10.1l1-1v-8l1 0v8.5l1 .8v-10.9l1-.3v11.1l1 .1v-10.8l1-.2v10.5l1 .5v-12.1l1 .8v10.5l1 .8v-9.2l1-.3v8.9l1-1.8v-7l1 .9v5.8l1 .5v-6.6l1-1.3v9.5l1-.1v-9.8l1 1.6v7.6l1-1.8v-6.6l1-1.2v8.5l1-.2v-6.5l1 .7v6.5l1 .3v-8.6l1 .4v6.3l1 2.6v-7.8l1-.6v8l1 1.5v-11.4l1-1.1v11.6l1 2.3v-12.2l1-1.3v11.8l1 .7v-13.8l1 .8v15l1-3.1v-10.6l1 .9v10.7l1 1.9v-14.2l1 .7v11.1l1 .7v-13.5l1-4.3v20l1 .3v-17.8l1-.2v19.5l1 14.5v-42.8l1-5.6v51.3l1 7.2v-52.3l1-1.5v39.4l1 .2v-38l1-4.7v37.5l1 .6v-33.1l1-3.6v41.4l1 7.1v-50.5l1-7.1v52.8l1 2.5v-57.7l1 2.1v57.4l1 9.4v-81.5l1 20.4v53.5l1-.2v-50.2l1 4.8v42l1 6.4v-56.4l1-16.9v80.5l1 1.4v-73.4l1-11.1v91l1-2.8v-79.1l1-39.1v132.8l1-21.8v-58.9l1-9.5v81.6l1-19.4v-58l1-73.3v184.8l1-36.8v-85.6l1-6.9v80.7l1 34.9v-135.2l1 1.6v104.7l1-3v-88.9l1 22.2v65l1-2.1v-68.8l1 13.8v42.3l1 1.7v-72.6l1 31.5v34.4l1 1.3v-31.1l1-.6v30.1l1-7.2v-20.2l1 2.4v19.7l1-2.3v-15.2l1-1.1v13.7l1-.6v-11.7l1 1.6v9.4l1 .4v-10.1l1 .1v8.9l1 .2v-9l1-.8v11.7l1 1.3v-13.8l1-.9v13.3l1-.2v-13.4l1 .7v11.6l1 .7v-11l1 1.4v7.2l1-.1v-6.9l1 .5v6.1l1 1.3v-8l1-1.7v9.9l1 .1v-8.3l1-.3v7.3l1 2.3v-11.6l1 2.4v11.2l1 .4v-15l1 1v13.6l1-1.2v-13.5l1 .4v11.7l1-.9v-9.8l1 2v8.1l1 0v-9.2l1 1.6v7.4l1-.9v-7.5l1-.4v9.4l1 4.7v-16l1-4.5v18.1l1 .6v-14.7l1 .9v14.5l1-.5v-17.9l1-4.2v30.3l1-11.4v-11.6l1 .4v11.7l1 2.1v-14.2l1 1.5v13.2l1-2.5v-12.7l1 2.2v12.2l1 .9v-15.3l1 2.4v11.1l1 .8v-14l1 2.8v7.3l1 .3v-8.7l1-1.1v9.1l1 1.6v-9.3l1-.7v10.3l1-.6v-9.3l1 .1v8.8l1 9.1v-26.8l1 8.9v8.8l1-.8v-8.5l1-2.2v10.9l1 11.5v-24.8l1 4.7v13.6l1-1.4v-11.5l1-1.4v11.5l1-.8v-10.5l1-.8v10.5l1 1.6v-12.3l1 .4v16l1-3.5v-10.7l1-.6v10.8l1-1.5v-8.9l1 .9v8.3l1 .3v-12.4l1 4v8l1 .1v-9.9l1 .9v9l1 .4v-8.1l1-1.6v9.5l1 .9v-11.4l1 2v8.4l1 0v-8.7l1 .1v8.8l1-.9v-8.1l1 1.8v8.4l1-1.3v-8.4l1-.2v10.3l1-.9v-9.9l1-.5v9.1l1 2.1v-10.9l1 .6v8.3l1 .7v-10.6l1 1.3v11.4l1-1.2v-11.5l1-2.6v13.5l1 3.6v-13.9l1 .2v15.6l1-5.4v-11.8l1 1.7v13l1 .9v-14.6l1 1v9.1l1 5.2v-13.7l1 .4v9.2l1 .5v-11.3l1 1.1v11.6l1-2.9v-7.1l1-1v8.3l1 5.1v-20.8l1 7.5v7.9l1-1v-7.4l1 0v9.5l1-.7v-9.5l1-1.1v11.5l1-2v-9.6l1-1.2v12.9l1 1.3v-15.1l1 2.4v9.4l1 2.3v-12.4l1 .5v13.7l1-3.3v-10.8l1-1v12.9l1 0v-12.7l1 2.1v7.2l1 2.1v-9.5l1-.4v10.8l1 1.4v-12.6l1 .5v11.3l1-1.5v-12.8l1-1.2v21.8l1-6.5v-12l1 1.4v12.3l1-2.7v-10.8l1-.9v11l1-.5v-9.2l1-.7v12.7l1-.1v-12.7l1 .5v10.6l1-.6v-9.1l1-.1v9l1 1.6v-11.4l1 1v11.2l1 1.2v-12.5l1-1.3v14.4l1-.7v-16.5l1 1.4v13.1l1 3.1v-13.2l1-1.6v13.7l1-.7v-15.2l1 1.4v14.9l1-3.7v-13.3l1 4.2v12.3l1-1.9v-12.2l1-.5v14.4l1-2.3v-11.5l1 1.6v10.1l1 .2v-11.3l1-2.3v21.2l1-7.3v-11.9l1-1.4v13.5l1-.3v-10.6l1 .5v8.3l1 1.6v-11l1 .1v9.5l1-.5v-8.6l1 .6v9l1-1.3v-8.6l1-.1v11l1-.8v-9.6l1-1.1v10.2l1 2.1v-11.7l1 1.8v6.7l1-.9v-5.4l1-1.3v7l1 0v-6.2l1 0v6.7l1 0v-9.2l1-.5v12.1l1 .3v-13.6l1 3.4v9.6l1 1v-13l1 1.5v13l1-2.4v-12.1l1 1v10.2l1 .1v-11.1l1-13v31.8l1-8.2v-10l1 .1v8.7l1 .4v-7.6l1-.4v9.7l1-.8v-7.7l1-1v8.1l1 2v-9.8l1-2.2v11.3l1-1.2v-10l1 .6v8.8l1 1.6v-8.4l1 0v7.2l1-.5v-6.8l1-.5v7.3l1 .4v-7.6l1-1.7v8.7l1 1.1v-8.8l1-.5v7.8l1 2v-8.9l1 .2v9.2l1-.7v-10.8l1 1.8v9l1 .7v-10.3l1-5.9v21.8l1-4.1v-15.8l1 3.6v12.2l1-.8v-10.3l1-.5v12.6l1 .1v-11.6l1 .4v9.5l1-.3v-10l1 .5v10.8l1-.4v-11.7l1 1.9v12.3l1-3.5v-9.1l1 .7v9.1l1-1.1v-10.2l1 1.6v7.3l1 .6v-8.7l1-1.3v12.6l1-2.9v-9.3l1-.7v10.7l1-.8v-9.6l1-1.4v12.7l1 3v-14.5l1-.4v10.2l1 .4v-10.3l1-7.5v26.8l1-8.8v-10.5l1 .9v13.6l1-2.6v-13.6l1 .2v12.8l1 .9v-13.8l1 1.8v10.1l1 .1v-13.1l1 4.1v9.4l1-1.6v-6.3l1-.1v7l1 0v-8.8l1 1.6v6.7l1 .9v-8.7l1-.3v8.5l1 0v-7.6l1 .3v10.4l1-2v-8.7l1 .1v6.8l1 .8v-7.1l1-1.1v9.1l1-1.6v-6.4l1-1.9v8.6l1 .2v-6.4l1-1.8v9l1 .3v-7.3l1-.4v7.4l1-.6v-9.2l1 1.5v9l1 1.6v-12.1l1-.1v11.2l1-1.6v-10.3l1 1.8v10.4l1-1.4v-8.5l1-1.5v8l1 1.2v-8.4l1-.7v9.5l1-1.5v-8.3l1 1.7v6.7l1 2.3v-9.7l1 0v9.1l1-.2v-9.6l1-5.4v21.8l1-6.4v-11.7l1 1.9v9.9l1 1.5v-15l1 1.9v14.6l1-2.6v-11.9l1 2v11.5l1-.2v-10l1-2.1v11.5l1-2v-8.9l1 0v9.7l1 1.1v-9.6l1-2.1v13.4l1-1.9v-12.3l1 .6v12.7l1-2v-8l1-.7v7.9l1 .5v-8.1l1 1.1v6.5l1-.3v-9.3l1 2.2v6.5l1 2.3v-9.1l1-1.4v10.1l1-.3v-8.5l1-1.3v12.6l1-4v-8.1l1 .9v8.7l1-1.3v-8.2l1 .3v8l1 2.7v-10.1l1 0v8.3l1 .5v-9.5l1-.9v10.5l1 1.1v-11l1-1.5v11.3l1-1v-9.3l1 1.8v8.1l1-.9v-8.2l1 .9v9.2l1-.8v-10.1l1-6.9v24.8l1-7.2v-16l1 4.9v12l1-.1v-14.1l1 .7v16.3l1-4.8v-9.3l1 .4v8.7l1 2.3v-10.3l1 1.4v6.9l1 1.8v-9.2l1-1.5v11.3l1-1.1v-9.4l1-2.5v12.5l1-.7v-12.1l1 1.5v10.9l1 4.6v-15.7l1-.7v13.6l1-.7v-10.1l1-2.1v12.1l1 .4v-12.3l1 .4v9.4l1 3.7v-12.2l1-.5v10.7l1 .1v-13.3l1 .9v10.5l1-.3v-9.6l1-1.6v11.9l1 1.2v-10.5l1-1.1v16.1l1-5v-10.6l1 1.8v9.4l1-2.4v-7.4l1-.3v7.8l1 1.5v-9.1l1-.6v7.5l1 2.4v-9.1l1-11.1v27.8l1-9v-7l1-.9v8.7l1 2.8v-12.5l1-.7v11.9l1-1.4v-9l1-1.5v9.2l1 3.3v-12.3l1 .3v9l1 2.3v-12.5l1-2.6v23.8l1-11.1v-10.1l1-.4v10.8l1-.7v-8.3l1-1.4v11.4l1-.6v-10.4l1 1.7v9.7l1 .8v-12.4l1 0v10.5l1-1v-10.2l1-1.8v13.6l1-1.8v-11l1 2.5v9.2l1 1.4v-12.5l1 1.1v11.1l1-1.3v-10l1 1v10.4"/>
<path class="tr" stroke="#ff0000" d="M138.5,478.5v8l1-.9v-6.6l1 1.9v5.1l1-1.4v-5.4l1 .5v5.7l1 12.8v-35.8l1 18.7v5.3l1-.7v-6.7l1 2.7v3.7l1 .1v-4.2l1-.5v5.6l1-.7v-5l1-.6v5.1l1-.1v-5.2l1-1v8.6l1-1.6v-6.3l1-.5v6.6l1 .8v-7.2l1-2v9.3l1 2.9v-10.5l1 .4v7.7l1-1v-7l1 .2v5.2l1 1.2v-7.2l1-1.9v11.3l1-.9v-9.6l1-.5v8.5l1-.4v-7.2l1-.3v7.6l1 .5v-5.9l1-.4v6.4l1 .3v-5.7l1-8.5v24.3l1-10.2v-6.3l1 0v5.8l1 .5v-7l1 .8v5.8l1 1v-7.4l1 1.8v4.2l1 1.2v-4.7l1-1v5.7l1-.9v-3.4l1-1.4v4.3l1-.1v-4.4l1 0v5.8l1 .6v-4.7l1-2v5.3l1 1.6v-6.6l1 .3v6.9l1-2v-5.8l1 1.7v4l1 1.1v-7l1 1.5v4.1l1 .3v-6.5l1 2v6.1l1-1.2v-6.5l1-.6v9.2l1 1v-9.8l1 .1v6.6l1 .4v-8.4l1-.2v10.2l1-1.8v-6.1l1-.2v8.5l1 0v-9.1l1-1.1v11.5l1-.3v-11.9l1 2.7v6.6l1 .4v-6.5l1-1.6v7.2l1-.1v-8.7l1-10.6v28.8l1-5.5v-10.3l1-1.2v11l1 1.1v-11.8l1-1.9v17.3l1-4.3v-13.6l1-1.5v17.1l1-.8v-18.8l1 4.1v11.7l1 .5v-13.1l1 .5v12.6l1-2v-10.8l1 .3v11.3l1 .8v-9.6l1 1.1v6.4l1-2v-3.9l1-1.3v6.3l1 1.8v-7.2l1 .6v4.6l1 0v-5.7l1-.8v8.6l1 .3v-9.7l1 2.2v5.7l1 .7v-6.8l1 1.6v5l1 0v-6.1l1 .7v4.8l1 1.3v-6l1-1.5v6.2l1-.5v-5l1 1.4v5.5l1 .2v-7.3l1-.1v7.6l1-.1v-6.5l1-1.1v6.6l1-.2v-7.3l1 1.4v5.3l1 0v-5.9l1 .5v7l1-1.6v-6.6l1-.4v7.8l1-.9v-5.8l1-1.3v7.7l1-1.1v-6.4l1 .5v7l1 5.7v-15.8l1 4.1v5l1 .1v-4.6l1-1.3v6.1l1 2.3v-7.5l1-1.2v6.5l1 2.1v-9.3l1-.4v8.4l1-.3v-8.1l1 .7v7.9l1-1.8v-4.9l1 .6v6.2l1-1.7v-6.4l1 1.4v7.5l1-2.4v-5.6l1-.5v8.1l1-1.2v-6.6l1-2.3v11.9l1 .7v-15.9l1-4.2v27.2l1 4.8v-34.3l1-2.1v40.1l1 6.7v-60.8l1 7.5v47.7l1 7.9v-79l1 19.9v74.3l1 .5v-81.8l1-2.4v67.2l1 43.5v-176.2l1 77.3v62.1l1 2.7v-79.8l1-7.1v75l1-2.4v-51.8l1-19.5v80.2l1-3v-71.7l1-30.9v146.8l1-39.7v-61l1-1.2v56.9l1-10.9v-41.8l1 11.8v27.7l1-6.3v-27.7l1-3.6v41.6l1-8.8v-32.8l1-1.7v44l1-6.2v-26.5l1-5.6v38.6l1 .7v-45.7l1 2.3v42.4l1-7.2v-39.8l1-9v68.6l1-1.5v-66.9l1 5.4v49.7l1-6.3v-42.7l1 8.6v35l1-4.4v-21.3l1-8.1v34.9l1 .6v-32l1 2v26.2l1-1.3v-22.1l1-3v26.5l1-3.7v-19.7l1-3v19.8l1 1.6v-15.7l1-5v20.9l1 1.7v-18.4l1-.6v15l1-.4v-15.6l1 .3v17.7l1-1.3v-15.7l1 4.1v11.1l1-2.2v-7.5l1-2.8v10.6l1-.9v-8.8l1 1.3v7.6l1-1.2v-5.4l1-.1v5.6l1 .5v-6.2l1 0v7l1-.4v-6.5l1-.4v6l1 1.3v-7.4l1 .6v5.2l1 .5v-5.1l1-.2v5.3l1-.9v-4.5l1-.6v4.8l1 2.1v-6.2l1 .1v5.2l1-.5v-8l1 2.2v7.2l1 1.7v-12.1l1 2.2v10.7l1-1.8v-9.4l1-1.8v10.6l1 2.7v-10l1-3.1v12.5l1-2.2v-9.7l1 1.2v9.7l1 3.3v-14.3l1-1v13.5l1 .7v-13.1l1-6.7v19.3l1-1.5v-11.9l1 .4v12.9l1-1.4v-9.9l1-.4v10.4l1-1.6v-11l1 .6v12l1 .2v-13.4l1-10.1v31.3l1-8.8v-12l1 3.2v11.4l1-4.3v-6.9l1 0v6.3l1-1.5v-3.6l1 .9v3.8l1-.8v-4.1l1 .1v3.3l1 1.1v-3.8l1-.6v5.1l1-.4v-4.6l1 .9v4.5l1 .3v-4.9l1-.4v3.2l1 .7v-3.6l1-.6v3.5l1 .9v-4.6l1 1v3.5l1-1.6v-2l1-.1v2.6l1 .9v-3.3l1 0v2.4l1 .7v-3.2l1-2.2v5.4l1 .8v-4.1l1-3.3v6.8l1 1v-6.4l1 1.4v4.2l1 1.4v-6.5l1 1.3v3.4l1 0v-5.6l1 2.4v3.4l1 .9v-5.4l1 .2v4.8l1-.2v-5.2l1 1.7v4.7l1-.6v-4.1l1 0v4.2l1 .8v-4.8l1-.5v4.7l1-.4v-3.3l1-.9v4.9l1-.6v-4.9l1 .6v4.6l1-.3v-4.3l1-.1v4.9l1 .3v-5.5l1 .2v4.5l1-.1v-4.6l1-1.2v7.1l1-1.3v-5l1 .2v5.7l1-1v-4.2l1-2.1v5.6l1 .5v-4l1 .3v2.9l1-.2v-4l1 1v3.9l1-.9v-3.5l1 .6v3.4l1 .1v-4.5l1 1.2v3.5l1-.6v-2.7l1-1.2v4l1 .8v-3.9l1-.1v4.4l1 .6v-4.9l1 .8v3.5l1-.5v-3.2l1-.1v3.4l1 .2v-2.6l1-1.7v4.1l1-.7v-3l1 .6v4.2l1-.4v-4.4l1 .7v3.5l1 .3v-3.5l1-1v4.7l1 .1v-4.5l1-.6v5.8l1-1.5v-4.4l1 0v4.1l1 1.6v-6.1l1 .5v4l1 .4v-3.9l1 .3v3.1l1 .3v-4l1-.7v5.2l1-.9v-3.3l1 .2v3.2l1 .6v-5.2l1 1.7v3.1l1-.2v-4.6l1 .5v4.3l1 .8v-4.8l1 0v4.2l1 1.3v-6.6l1-.3v5.9l1 11.9v-29.3l1 12.4v4.8l1 .3v-5.8l1 .5v4.2l1 1.7v-6.7l1 .1v6.1l1 1.1v-5.3l1-.6v4.9l1-.4v-5.1l1 .8v4.7l1 .1v-3.8l1-1.8v5.4l1-.8v-3.9l1 .8v4.7l1-2.1v-4.3l1 .3v4.3l1 4.6v-12.8l1 3.9v4.6l1-.6v-3.3l1-.1v4.1l1-1v-3.9l1 .3v3l1 0v-2.3l1 .4v2.3l1 .3v-2.9l1-1.2v3.7l1-.1v-3.3l1 .7v2.7l1 .8v-4.6l1 .6v5.1l1-1.5v-3.1l1-.7v3.7l1 .7v-3.9l1-.4v3.9l1 .3v-3.8l1-5.3v14.8l1-4.9v-4l1-1v5l1 1.2v-5.1l1 .1v3l1 15.2v-29.8l1 11.3v4.4l1-.9v-3.8l1 .4v3.7l1 .6v-3.7l1-.3v3.6l1 .7v-5.7l1 .8v4.2l1-.9v-3.2l1-1v4.5l1-.3v-4.1l1 .3v3.4l1 .4v-4.7l1-.4v5.6l1 0v-5l1 .5v3.1l1 .5v-3.1l1-1.1v4.3l1-.1v-3.7l1 .1v3.7l1 .1v-3.7l1 1.2v2.4l1 0v-3l1 .4v3l1-.4v-2.6l1 .6v2.2l1 .3v-3l1 .3v3.2l1 .3v-3.1l1-.8v3.4l1 .3v-4.8l1 1.1v3.4l1 1.7v-5.2l1-.8v4.2l1 .1v-3.7l1-.8v5.8l1 0v-6.4l1 1.3v5.5l1-.8v-4.5l1 .3v5.2l1-.7v-4.5l1-.5v4.3l1 .2v-3.9l1-.4v5.4l1-.7v-5.2l1 .6v4l1 .1v-5l1 .1v4.9l1-1.1v-3.1l1-.4v4.2l1-.8v-2.3l1 .1v3.2l1-.5v-3.6l1-.1v4.1l1 .3v-4l1-1.1v3.8l1 .8v-4.9l1-.2v5.9l1-1.2v-5.1l1 .8v4.9l1 1v-5.3l1-.9v5.9l1-.2v-5.8l1 .7v5l1-.8v-3.6l1-.7v3.7l1 .8v-4.1l1-.7v4.2l1 .1v-4l1 .3v3.9l1-.4v-4.3l1-1.5v6.4l1-.1v-5.2l1-.5v6.7l1-1.3v-3.9l1-1v5.7l1 .5v-6l1 .6v5.7l1-1.2v-4.8l1 .5v4.1l1 .5v-5.3l1 1.1v3.2l1 1.8v-5.7l1 .7v4.8l1 2.6v-10.8l1 3.4v4.8l1 .4v-4.6l1-.7v4.6l1-.8v-6l1 1.8v5.5l1-.9v-3.8l1-.4v4.5l1-.6v-4.4l1 .8v3.4l1 .2v-4.8l1-.5v6.5l1 .9v-6.1l1-.5v6.5l1-1v-6.1l1-.2v5.8l1 .3v-8.6l1 2.4v8.2l1-1.9v-8l1-1.9v13.6l1-2.8v-8.8l1 1v10.1l1 4.7v-15.3l1-4.5v14.9l1 4.5v-17.7l1-.6v15l1 4.6v-18.8l1 1.5v18.2l1-.8v-19.8l1-3v22.6l1-2.7v-21.5l1 2.7v20.4l1 5.4v-23.5l1-6.8v27.4l1-5.8v-14.8l1 .9v17.1l1-3.6v-11.3l1 1.8v6.9l1-.6v-6l1-.6v5.5l1 1.7v-8.6l1-.5v8.3l1 1.9v-8l1-1.9v9.5l1-2.2v-5.3l1-.8v6.1l1-.6v-5l1-1v6l1 1.6v-5.6l1-.7v4.4l1 1v-5.4l1 1.1v4.7l1-.6v-4.3l1-.3v4.5l1-.6v-3.3l1-.7v3.7l1 .7v-4.5l1-.1v4.2l1 .1v-4.7l1 .6v5.3l1 .8v-6.5l1 .6v5.5l1-1.4v-4.8l1 .2v5.7l1-.2v-6.2l1-.6v5.5l1 .3v-4.6l1 .6v5l1-1.8v-4.5l1 1.2v4.1l1 .1v-4l1-.6v4.2l1-.6v-3.7l1-.1v4.4l1 .2v-5.2l1 .3v4.2l1 .2v-2.9l1-1.2v4.8l1-.8v-3.4l1-.2v4.4l1-.3v-4.1l1 .4v3.8l1 .9v-4.7l1 .2v3.2l1-.5v-2.2l1-.6v3l1-.4v-2.5l1 .3v2.7l1 .4v-3.3l1 .3v2.8l1-.4v-2.4l1-.4v4l1-.3v-4.1l1-.1v3.8l1 .9v-5.2l1 .5v5.4l1-1.2v-6.1l1 1.8v5l1 .1v-5.9l1 1.2v3.8l1 .1v-4l1-1.2v5.9l1-.5v-5.1l1 1v5.1l1-1.6v-4.7l1 .5v4.9l1-.9v-3.4l1 .4v3.1l1-.5v-2.3l1-.3v3.3l1-.3v-3.7l1 .3v4.4l1 .6v-6.2l1 .9v4.2l1 .1v-5.5l1 .5v5.9l1-.7v-5.8l1 .9v4.9l1 1.1v-5.3l1-3v10.6l1 7.1v-25.1l1-5v36l1-7.5v-23.4l1-7.5v37.1l1-1.9v-25.7l1-5v33.1l1 10.4v-47.4l1 .2v56.3l1 8.8v-82.6l1-26.2v132.8l1-35.3v-82.3l1-35.5v154.8l1-29.6v-79.1l1-2.7v72.7l1 9.3v-72.4l1-19.6v96.8l1-14.6v-72.5l1-2v86.8l1-21.6v-43.3l1 3.2v37.3l1-5.7v-44l1 14.9v36.3l1 3.7v-53.1l1 2.9v35.7l1 15.7v-59.4l1 7.7v43.5l1 3.9v-36.9l1-12.2v46l1-4.3v-38.9l1-3.9v47l1-1.3v-34.4l1 2.5v29.3l1 1.5v-30.4l1 2.5v21.6l1-2.3v-19.4l1-19.1v55.8l1-4.4v-44l1 7.3v33.9l1-.6v-37.1l1 .7v38l1 1v-38.1l1-12v49.6l1-3.7v-41.9l1 1.7v56.8l1-10v-56.1l1 12.4v50.2l1-1.8v-54.1l1 4.5v46.8l1-10.2v-36.7l1-2.6v47.4l1-12.2v-21l1 6.4v15.9l1 0v-16.7l1-25v51.8l1-11.5v-20.7l1 3.6v21.8l1-2.5v-21.5l1-4.1v26.6l1-1.1v-27.9l1-.9v31.2l1-3.1v-20.8l1-1.1v19l1-.8v-17.8l1 1.8v15l1 .7v-14.8l1 1.4v13.1l1-3.6v-6.1l1 1.1v5.9l1 5.1v-12.8l1-.7v5.6l1 0v-4l1 .4v4.4l1-.8v-3.3l1-.6v4l1 .3v-3.9l1-.3v3.6l1 .6v-4.2l1 .8v2.2l1 1.2v-4.1l1 1v3.3l1-.4v-3.2l1-.2v4.2l1-1.3v-3.1l1-1.1v5.4l1-.3v-4.3l1-1v7l1-.3v-5.8l1 .2v6l1-2v-4.8l1-1.4v6.4l1-.3v-3.7l1-.6v4.4l1-.7v-4.4l1 0v3.4l1 1.2v-3.6l1-.4v4.8l1 .4v-6.1l1-7.2v19.6l1-6.3v-5.4l1-1.3v7.3l1-.9v-6.3l1 1.1v4.2l1 0v-3.7l1-1.3v6l1-.8v-4.5l1 0v3.5l1 0v-4l1 1v3.6l1 .3v-3.2l1 .2v2.6l1 .1v-4l1 1v2.9l1 .9v-4.2l1 .3v3.5l1-1.3v-3.5l1 .6v4.7l1-.8v-3.7l1-1.6v5.7l1 .5v-6.5l1 1.6v5.5l1-.2v-6.1l1 .7v4.3l1-.1v-4.5l1 .2v3.3l1 1.7v-4.7l1-.7v5.6l1 .5v-5l1-.3v4.4l1 0v-3.4l1 .1v3.3l1 .3v-3.8l1-.3v3.7l1 .1v-4l1 .4v3l1 .6v-3.3l1-.7v4l1 1.4v-6.4l1 1.7v4.7l1 0v-5.4l1-8.9v18.5l1-4.6v-4.5l1 0v4.1l1-1.2v-3.7l1-3.7v14l1-.5v-15l1-5.3v28.7l1 5.5v-39.5l1 7.1v26.5l1-2.2v-28.1l1 2.5v24.9l1-.3v-28.6l1 1v23l1 2.9v-23.1l1-2v25l1 2.4v-22.6l1-7.6v33.6l1-2.8v-30l1 1.4v25.5l1 3.3v-28.3l1-.7v33.6l1-.4v-31.3l1-4v34.7l1-4.1v-29.5l1-10.4v49.8l1-10.6v-33l1-5.5v42.5l1 9.9v-60.4l1 3.4v55.8l1 1.2v-41l1-18v58l1-16.3v-30.8l1 10.9v21.3l1-1.2v-24.8l1 1.8v24.6l1-4.4v-18.7l1 4.7v16.8l1-3v-17.5l1 3.1v16l1-.3v-16.2l1 6v4.2l1-.1v-3.2l1-.9v4.7l1 .3v-4.3l1-7v15.8l1-5.3v-4.4l1-.1v4l1 .3v-3.7l1-.1v4.1l1-.6v-3l1-1v3.6l1 .2v-3.4l1 .3v3l1 .3v-3.1l1-.5v4.4l1-.6v-4.6l1 .2v4.9l1 .7v-5.3l1-.4v5l1 1.1v-5.3l1-2.3v6.3l1 1.7v-5.4l1-1.6v4.3l1 .8v-3.4l1-.8v4.4l1-.9v-3.8l1 .9v2.7l1 1.4v-5.2l1 .5v4.6l1-1v-3.9l1-.2v3.9l1 .1v-4.3l1 .5v3.5l1 .5v-4l1 .5v2.3l1 .7v-2.8l1-.2v3.9l1 .3v-5l1-.5v6.1l1-1.4v-4.2l1-1.2v7.1l1-1v-6.4l1-.4v10.4l1-1v-10l1-.7v11.1l1 .7v-9.5l1-2.4v10.8l1-.9v-8.9l1 .5v8.6l1-.1v-5.6l1-1v6.4l1-1.5v-5.3l1 1.7v4.6l1 .3v-4.3l1-.5v3.4l1-.8v-3.2l1 .7v2.8l1 .4v-2.5l1-1.3v3.6l1 .4v-3.4l1 .2v4.7l1-.4v-4.1l1 .7v2.7l1 .3v-3.8l1-.3v4.1l1-.4v-3.2l1-.1v3.6l1 0v-3.9l1-.2v4.8l1 .1v-4.4l1-.5v3.7l1 .8v-4l1-.3v4.5l1-.8v-4.3l1-.6v4.4l1-.2v-3.8l1 .1v5.1l1 0v-5.1l1-1.2v5.4l1-.2v-3.2l1-1.2v5.2l1 .6v-6.5l1-1.7v6.6l1 .6v-5l1 .8v4l1 .3v-5l1 1.1v4.3l1-1.1v-4.1l1 1.2v2.7l1 .2v-3.5l1-.1v4l1 .1v-3l1-.1v3.2l1 1.5v-5.6l1-.6v4.3l1 1.1v-5.8l1 1.9v3.8l1-.8v-3l1-.2v4.1l1-.9v-2.9l1-.4v4.1l1 .4v-4.1l1-1.2v4.9l1-.1v-4.6l1 .1v5.4l1-1.3v-3.8l1-.2v4.8l1-1.8v-3.6l1 1.5v2.5l1 .7v-4l1 .7v3.4l1-.2v-4.2l1 .7v4.4l1-.2v-5.2l1 .3v4.4l1 .7v-5.6l1-.3v5.7l1-.6v-6.9l1 1.1v5.6l1 .7v-7.1l1 .4v5.5l1 .4v-4.6l1 .1v5.9l1-1v-5.7l1-.1v5.6l1-.5v-3.4l1-.4v3.4l1 1.6v-5.4l1-.1v4.5"/>
<path class="tr" stroke="#0000ff" d="M138.5,511.9v5l1-.8v-4.1l1 0v4.7l1-.8v-3.4l1-.1v4.2l1 .2v-5.4l1 .5v4.9l1-.4v-3.8l1-2.2v6.8l1 .5v-8l1-.4v9.3l1 1.5v-10.7l1-2.2v12.3l1 17v-46.8l1 18.4v11.8l1 .1v-10.1l1-.8v10.7l1-.3v-11.5l1-1.4v11.8l1 .3v-9.5l1-5.7v17.1l1 2.8v-19.7l1-1v19.7l1 2.7v-20.6l1 1.7v18.8l1-2.4v-18.9l1-1.2v23.8l1-5.6v-19.1l1-5.7v32.8l1 .8v-24.8l1 2.3v21.4l1-6.5v-20.5l1 4.9v17l1-1.1v-17.7l1 4.8v10.4l1-.1v-13.3l1 3.6v13.8l1-3.1v-10.1l1-2.5v17l1-4.2v-16.3l1 1v19.7l1-4.7v-12.8l1 1.9v10.5l1 .9v-10.8l1-1.4v12.9l1-3.2v-9l1-.6v11l1 1.5v-10.6l1-1.8v13l1-2v-9.2l1-2.3v9.9l1-.1v-7.2l1-.3v8l1-.2v-6.6l1 .1v5l1 .8v-4.6l1-.7v5.5l1 .2v-5.5l1-.3v5.2l1 .1v-4.6l1-2.2v7l1-.9v-5.2l1 .7v4.5l1 .7v-4.9l1-1.5v6.1l1-.3v-5.4l1-.6v5.4l1 .8v-5.6l1 .7v3.6l1-.3v-4.2l1 .8v3.9l1 .7v-5.1l1-.1v4.8l1-.2v-3.8l1 .3v3.3l1 .5v-4.7l1 .2v4.2l1-.7v-3.4l1 .8v4.2l1-.9v-4l1 .6v3.8l1 0v-5.1l1 1.4v3.9l1 1.1v-5l1-1.1v5.2l1 .3v-4.5l1-1v5.9l1-.5v-4.8l1-.6v5.9l1-.4v-5.5l1 .5v4.7l1-.3v-3.6l1-.6v4.4l1 .4v-5.3l1 .1v4.7l1-.3v-4.4l1-.4v5.8l1-.8v-5l1-.2v6.1l1-.5v-4.7l1-.3v4.3l1 0v-4.7l1 .4v4.6l1 .5v-4.1l1-.3v3.1l1 .8v-4.2l1 .2v3.2l1-.1v-3.5l1-.5v4.9l1-.5v-4.6l1-.9v5.3l1 1.4v-7l1 1v5.4l1 .8v-6.9l1 0v6l1 3.8v-12.8l1 3.2v6.1l1 .1v-5.1l1-.7v5.6l1-.8v-5.1l1 .2v5l1-.3v-5.1l1 .6v5.2l1-.7v-4.5l1 1v4.7l1-1.1v-4.5l1 .1v4.1l1 .7v-5.8l1 1.3v5.4l1-.4v-5.3l1 .3v5.6l1-.6v-5.5l1 0v5.5l1 .3v-5.1l1-.1v4.5l1-.3v-3.1l1-.6v3.2l1 .7v-4.2l1 .7v3.5l1-.8v-3.2l1-.2v4.4l1 0v-3.9l1-.3v3.3l1 1.2v-3.8l1-1.1v4.8l1 0v-3.8l1-.8v4.8l1 .6v-3.9l1-.4v4.2l1 .6v-5.9l1 .9v4.2l1 .4v-5.7l1-.4v6.3l1-.8v-4.6l1-.5v5.2l1 1.3v-5.6l1-.5v5.4l1 .1v-5.8l1 1.1v4.8l1-.3v-5.1l1-1v7.2l1 11v-32.3l1 14v7.5l1-2.5v-4.7l1 .3v4.9l1 .6v-5.6l1 .5v3.4l1 .2v-3.9l1 1v4.3l1-.8v-4.2l1-.8v5l1-.4v-4l1 .1v3.5l1-.1v-3.2l1 0v4.6l1-1.1v-3.3l1-.6v4.2l1-.1v-4.5l1 .5v5.2l1-.6v-5l1-.4v5l1 0v-4.6l1 .6v3.4l1 .3v-4.7l1-.5v5.5l1-.3v-4.7l1-.1v4.5l1-.1v-3.9l1-.1v4.5l1 3.3v-11.8l1 4.4v4l1 1.3v-4.6l1-1.7v5.5l1 1.4v-5.9l1-.1v5.6l1 .9v-6.6l1-.7v6l1 0v-5.8l1 .1v5.1l1 .6v-4.8l1-.5v5.8l1-.6v-5.4l1-.4v5.4l1 .2v-6.4l1 1.3v5.5l1-1.3v-4l1-.9v4.9l1 .4v-5.3l1 .7v3.6l1-.7v-4.3l1 .9v3.6l1 .2v-4.5l1 .2v4.9l1 .5v-4.4l1-.8v4.2l1 1.2v-4.4l1-.8v4.7l1 .6v-4.6l1-1.3v5.7l1 1.3v-6.5l1-.2v5.6l1 .6v-5.7l1 .9v5.1l1 .7v-6.2l1-.3v6.7l1-.6v-5.9l1 .5v4.8l1 .1v-5.1l1 .6v3.5l1 0v-3.5l1-.6v4.6l1 .1v-5l1 .2v4.1l1 .4v-5.5l1 .8v4.4l1 .2v-5.1l1-.3v4.3l1-.3v-4.6l1 1.3v4.1l1 .2v-5.4l1 .8v4.1l1-.8v-3l1-.4v4.4l1-.5v-3.9l1 .6v3l1 .8v-3.8l1-.1v3.5l1 0v-4.6l1 .2v5.4l1-.1v-4.7l1-.3v5l1 .1v-5.7l1 0v6.6l1-.3v-6l1-.2v5.8l1-1.2v-4.4l1 .1v5.4l1-.4v-4l1-.6v4.7l1 0v-4.7l1 .3v4.8l1 .6v-5l1-.2v4.4l1 .1v-4.6l1-.3v5.2l1 .1v-4.2l1-.1v4.9l1-.2v-5.5l1 .4v4.8l1-.7v-4l1-.7v4.5l1 1.6v-6.3l1 1.1v4.5l1-.3v-4.3l1 0v4.4l1 1.2v-6.1l1 .8v4.7l1 .5v-6l1-1.8v8.7l1-.1v-7.8l1-.1v7.8l1-.4v-6.4l1-1.4v11.7l1-.6v-11.1l1-5.2v17.7l1 1.5v-16.1l1-2.5v19.4l1-1.4v-16.1l1-2.5v17.7l1 3.5v-18.5l1-.8v13.6l1-1v-14.9l1 4.1v16.2l1-3.4v-15.6l1 3.8v11.2l1 .7v-12.9l1 .9v10.4l1-.7v-8.5l1 .6v7.2l1-1v-5.4l1 .2v6.2l1 .3v-6.5l1-1v5.3l1 .1v-5.4l1-.5v6.2l1 .4v-6.3l1 .8v4.7l1 .2v-5.8l1 1.5v4.8l1 0v-5.4l1 .1v5.9l1-1.5v-4.6l1-.2v4.6l1 1.5v-5.7l1-1.5v5.7l1 .5v-6l1 1v4.9l1-1.4v-3.9l1 .1v3.7l1 .3v-3.5l1-.3v3.8l1-.1v-4.3l1 .9v4l1-.5v-4.9l1 .4v5.1l1 .1v-4.4l1-1.5v6.3l1 .4v-6.3l1 0v5.5l1-.4v-4.8l1 .7v4.4l1 1v-5.1l1 .8v4.1l1 .3v-5.1l1 .6v3.7l1-.1v-4l1 .4v4.2l1-.6v-3.3l1 0v3.9l1 .2v-4.5l1-.5v5.6l1-.8v-4.5l1-.1v4.9l1-.1v-5.2l1-8.4v22.8l1-10v-3l1-1.1v4.9l1 .2v-4.3l1-.4v4.3l1 1.4v-6.2l1-.1v6l1 .6v-7.5l1-.1v7.2l1-.3v-6.3l1 .4v4.9l1 .1v-5.9l1 1.2v5.3l1-.9v-5.3l1 .5v4.4l1 0v-5.6l1 1.1v4.1l1-.1v-4.5l1 .5v3.9l1 0v-4.8l1 0v5.1l1 2.3v-8l1-.2v5.7l1 .5v-5.3l1-.8v6.2l1-1v-4.2l1 0v4.7l1-.6v-5.5l1 1v5.3l1 .1v-5.8l1 .5v6.5l1-.6v-6l1-1.5v7.2l1 1.8v-7.9l1-3.1v10.4l1 2.3v-13.2l1 1.9v12.8l1-3.8v-8.9l1-.3v11.4l1-.5v-8.5l1-1.3v7.3l1 2.7v-9.8l1 .1v8.4l1-1.4v-7l1-.9v9.8l1 .4v-8.4l1 .1v9.1l1-1.4v-7.3l1-1.4v10.8l1-1.8v-8.5l1 1.2v8.1l1-1.8v-8.5l1 .8v8.8l1-1.1v-7.5l1-.5v8.3l1 .5v-8.1l1 .4v6l1 1.1v-7.6l1-.3v8.3l1-.1v-8.9l1-.9v9.6l1-.2v-9l1-2.2v13.7l1-1.8v-12.4l1 .8v10.6l1 2.1v-10.7l1 1.4v6.6l1 .6v-7.5l1 1.4v6l1-1.2v-6.1l1-.3v7.9l1 .2v-6.6l1-1.7v9.3l1 .6v-11.5l1 .1v14.1l1-.6v-14.2l1-.5v15.8l1 0v-16.7l1-.6v14.3l1-.3v-12.9l1 0v12.9l1 3.3v-11.9l1-3.5v11.6l1 .1v-10.8l1 .6v10.3l1-.7v-8.9l1 1.5v6.6l1 .8v-7.5l1 .2v5.3l1 .1v-5.5l1-.7v8l1 2v-11.5l1-.7v12l1-1.9v-7.7l1-6.3v17.3l1-4.6v-4.7l1-1.2v5.6l1 .7v-6.1l1 .7v4.9l1 .5v-6.3l1-.3v5.5l1 1.3v-6.7l1-.4v5.5l1 .5v-4.7l1 0v5.1l1-.7v-4.3l1-.9v5.3l1-.7v-3.9l1-.3v4.5l1 .8v-6.2l1 .1v4.7l1 .7v-4.9l1-.4v5.5l1-.7v-5.6l1 1.1v5.4l1 .4v-6.6l1-.5v5.1l1-.1v-3.9l1 .1v4.3l1-.4v-3.8l1-.8v5.2l1 .4v-5l1 .6v4.7l1 .8v-6l1 .3v4.9l1-.9v-4l1 .4v4.5l1-.6v-4l1-.5v4l1 .3v-3.6l1-.8v4.6l1-.1v-5.3l1 .2v5.9l1 0v-5.5l1-.3v5.9l1 3.1v-9.3l1 1v5.8l1-.9v-4.8l1 0v4.8l1 .8v-4.9l1-.8v6.1l1-.2v-5.1l1 .6v5.1l1-.4v-5.6l1 1.2v4.2l1-.5v-4.3l1-.2v4.5l1 .4v-4.4l1-.1v4.3l1-.4v-4.3l1 .1v4.6l1-.9v-3l1 .1v3.5l1 .4v-3.8l1-1v5l1-1v-3.8l1-.2v4.6l1-.2v-4.9l1 .5v4.6l1-.4v-3.6l1-.5v3.9l1 1.7v-6.1l1 .2v4.8l1-.2v-4.9l1 .8v4.6l1 0v-5.4l1 .3v5.6l1-.4v-5.1l1 .3v4.3l1 .6v-5.4l1 .5v4.5l1 .5v-5.4l1-.3v6.2l1-.7v-4.8l1-.2v4l1 .3v-3.7l1 .2v3.4l1 .5v-4.1l1 0v4.4l1-1.2v-3.1l1-.2v3.5l1 0v-3.3l1-.5v3.9l1 .7v-4.1l1-.3v5.2l1-.1v-5.1l1 .1v5.2l1-.4v-4.7l1 .4v4.7l1-1.2v-4.7l1-.1v4.6l1 1v-5.6l1-.1v5.7l1-1.1v-4.1l1 .7v4.7l1-1.4v-4.4l1 .2v3.5l1 1v-3.7l1-1v4.6l1-.1v-4.2l1 .2v3.5l1 1.2v-4.7l1-.5v4.4l1 0v-3.7l1-.3v4.6l1-1.1v-4.4l1 .1v5.1l1-.4v-4.6l1 .3v4.3l1-.5v-4.4l1 0v5.2l1 .7v-4.7l1 .1v4.5l1-.5v-4.5l1-.2v5.2l1 1.3v-6.4l1 .6v5.8l1-.5v-5.3l1-2.5v6.9l1 .4v-6l1 0v5.6l1 .1v-4.7l1-.4v5.6l1-.9v-3.8l1 .4v3.9l1 .7v-4.8l1 .1v4l1-.1v-4.4l1 .2v5.1l1-.6v-4.5l1-.3v5.2l1-.3v-4.1l1-.7v4.5l1 1.4v-6.2l1 .2v5l1-.7v-5.4l1-.3v5.7l1-.4v-5.3l1-1v6.1l1 0v-4.5l1 0v3.7l1 .3v-4l1 .2v4l1 .3v-5.5l1-.1v5.7l1-.5v-5.7l1 1.2v6.1l1-.6v-5.6l1 .1v5.6l1-1.5v-4.6l1 .5v6.1l1-1.3v-5.7l1 1.1v4.6l1-.3v-5.3l1-.2v5.8l1 .1v-5.8l1-.5v6l1 1v-6.3l1 1.4v4.6l1 .8v-6.6l1 1.2v4.6l1-1.6v-3.5l1 .6v4.3l1 .1v-5.6l1 1.1v4.4l1 .2v-4.8l1-1.4v7.2l1-1.6v-5.6l1 0v4.8l1 .1v-3.8l1-.2v4.2l1 .1v-4.4l1-.1v4.4l1 .5v-5.2l1 .2v4.6l1 1.3v-6.6l1 .1v5.9l1 .5v-6.3l1-.2v5.5l1 2v-6.9l1 1.1v5.1l1 0v-5.3l1 .3v6.1l1-.1v-6.4l1 1.1v5l1-.2v-4.7l1 .4v4.2l1-1.3v-4.3l1 .8v4l1 1.1v-4.8l1-1.4v6l1 .3v-6.9l1 .4v5.6l1 .4v-6.4l1 .8v6.1l1-1.2v-6.1l1 .2v5.5l1 1.1v-5.8l1 .2v6l1-1.1v-5.9l1-.1v5.7l1 1.4v-7.6l1 .8v6.1l1-.9v-5.3l1 1.3v4.9l1-1v-3.9l1-.5v3.6l1 .1v-4l1-.2v4.2l1 1.7v-6l1-.1v5.8l1 .5v-5.9l1-.3v5.5l1-.1v-5.5l1 1v5l1-.5v-4.2l1-.5v3.3l1 .5v-4l1-.1v4.3l1-.3v-3.3l1-.6v4.4l1 .5v-4.2l1-.1v5.3l1-.4v-5.9l1 1v5.5l1-.5v-5.6l1 .1v5.1l1 .7v-5.6l1 .4v5.1l1 .1v-6.1l1-.2v5.6l1-.1v-4.7l1 .3v4.4l1-1v-4.2l1 .8v4.6l1-.4v-3.8l1-1.1v4.5l1-.2v-3.4l1 .1v3.2l1-.8v-3.6l1 .3v3.6l1 .6v-4.7l1 1.5v4.1l1 0v-4.9l1 .1v4.1l1 .1v-4.7l1 .8v4.8l1-.3v-5.4l1-.4v5.4l1 1.2v-5.5l1 .8v5l1-.3v-5.2l1 .4v5.5l1-1.5v-4.8l1 .3v4.1l1 .1v-4.2l1-.2v4.9l1 .4v-4.8l1 .3v4.8l1 0v-5.8l1-.4v5.8l1-.7v-4.6l1 .9v4.7l1-.4v-5.9l1 1.3v4.6l1 .2v-4.3l1-.5v4.8l1 .2v-4.6l1-.7v5.6l1-.5v-4.9l1 .4v4.2l1 1.2v-4.6l1-.5v4.8l1-1.3v-4.4l1-.2v5l1 .5v-5.3l1 .1v5l1 .2v-5.8l1 .2v5.9l1 .4v-8.7l1 1.3v9.2l1-1.7v-7l1-1v6.9l1 2.2v-11.3l1 .1v11.7l1-.7v-10.2l1 1.2v8.1l1 .7v-10.1l1-.7v12.6l1-1.8v-10.4l1 .5v10.4l1-.9v-10.3l1 2.5v7.2l1-.2v-7.9l1-.4v7.7l1-.2v-9.7l1 1v9.7l1-1.4v-8.1l1-.2v9.9l1 2.7v-14.8l1 2.6v10.4l1 .5v-12.9l1 1.9v10.2l1 1.3v-12.3l1 1.3v9.8l1-1.3v-9.6l1-.2v9.6l1 2.5v-11.3l1-1.3v11.3l1 .2v-9.2l1-1.2v9.3l1-.5v-8.3l1-2.3v15.2l1-4.2v-9.8l1 1.2v10l1-.3v-10.4l1 .4v9.8l1 1.9v-13.3l1-.7v15.6l1-2.3v-10.8l1-3.1v12.4l1 4.2v-14.9l1-2.9v14.5l1 2.6v-16.2l1-3.6v21.7l1 5.1v-32.8l1 4.7v27.6l1-7.8v-16.5l1 3.8v14.1l1 5v-20.1l1-5.1v25.4l1-1.7v-24l1 1.8v22.8l1-5.6v-17.1l1 2.9v20.3l1-4.4v-23.4l1 4.2v25.6l1-.3v-25.4l1-7.8v33.8l1-8.9v-17.6l1 2v19.5l1 1.5v-18l1-4.8v18.9l1-.6v-13.1l1-2.8v16.2l1-2v-13.1l1 .1v15.6l1 .6v-13.8l1-3.6v12.4l1 1.8v-13.8l1 3.6v8.2l1 .8v-9.7l1-1v10.6l1 3.1v-10.9l1-3.9v12.9l1 .4v-12.7l1 2.2v10.4l1-1.9v-8.1l1 .7v8.7l1-1v-7.6l1 0v8.5l1-1.2v-7.6l1 .7v7.1l1 .3v-6.8l1 .1v6l1 .4v-7.2l1 .4v5.7l1 .5v-7.3l1 .5v8l1-1.4v-7l1 .5v6.4l1 1.7v-6.8l1-.8v7.2l1 .4v-7.1l1-.5v6.6l1-.4v-6.3l1-.3v5.6l1 .9v-5.1l1-1.9v7.9l1-.3v-7.3l1 0v8l1-.4v-8.8l1 .9v7.3l1 .3v-5.5l1-.4v4.7l1 .9v-5.5l1 .7v4.6l1 2.2v-9.5l1-.9v11.4l1-1.3v-11.5l1 0v15.4l1 3.6v-18.1l1-4.7v21.9l1-1.6v-15l1-4v17.5l1-1v-13.4l1-1.8v15.2l1 .7v-16l1-1.3v15.1l1 2.9v-16.3l1-6.2v21.3l1 2.7v-19.8l1-28.6v62.8l1-14.1v-15.6l1-.6v14.7l1-2.5v-15.9l1 4.7v18.5l1-5.5v-14.9l1 1.8v15l1-3.1v-16.1l1 2.1v15.3l1 3.7v-18l1-4.7v19.7l1 1.5v-15.9l1-3.8v16.6l1-1.2v-16.8l1 4.5v13.7l1 2.6v-18.4l1 2.4v12.2l1-.1v-13l1 1.8v8.7l1 3.1v-11.7l1-1.8v13.1l1-2.8v-9.6l1-.3v11l1 2.1v-13l1 1.3v8.5l1-.5v-10.8l1 1.7v13.2l1-3.1v-10.1l1-.8v12.3"/>
<path class="tr" stroke="#008000" d="M138.5,544v6.2l1-.4v-6.1l1-1.9v7.1l1 1.7v-7.6l1 0v7.7l1 0v-7.9l1-.6v8.3l1-.3v-8l1 1.6v4.7l1-.2v-4.9l1 .1v4.4l1-.3v-5.4l1-.5v6.3l1 1.7v-7l1-1.4v8.7l1 .4v-8.7l1 1v7.6l1-1.2v-5.8l1-1.6v6.3l1 1v-5.8l1 .3v4.8l1-.2v-5.1l1-.1v6.9l1-.7v-7.5l1 .4v8.2l1 1.1v-9.6l1 .7v9.3l1-1.3v-6.6l1-1.3v7.6l1 .7v-7.2l1-.3v6.4l1-1.3v-5.9l1 1.6v4.8l1 .2v-4.8l1-1.1v5.8l1 .5v-5.8l1-.1v5.5l1 .9v-6.7l1-.2v6.7l1 .4v-9.2l1-.5v9.1l1 3.8v-14.4l1-.8v14.8l1-1.7v-12.6l1 2.4v7.7l1 1.1v-8l1 1.1v8l1-2v-7.9l1 1.3v7.7l1 1.2v-10.1l1-1.4v9.1l1 1.1v-9.2l1-.3v8.7l1 1.3v-10l1 .5v11.2l1 .6v-10.3l1 0v7.8l1 3.2v-11.9l1-2.1v11.2l1 1.4v-10.1l1-3.7v12.2l1 1.5v-13.9l1 .9v13.3l1 4.1v-22.8l1 5.9v11.7l1 1.9v-12.3l1 .5v11.7l1 .4v-14.2l1 1.3v13.4l1-1v-14.8l1 2.7v10.1l1-.8v-13l1-.3v17.6l1-3.1v-13.3l1 3.4v11l1-1.1v-10.5l1-1.2v10.4l1 2.9v-13.8l1 2.9v7.1l1-.7v-9.5l1 1.3v7.8l1 .5v-6.6l1-1.5v9l1 7.9v-25.5l1 8.2v8.8l1-.6v-7.8l1-.9v12.7l1-2.8v-10.7l1 4.2v6.1l1 .5v-6l1-1.8v6.2l1 .6v-5.2l1-1.6v6.8l1 .9v-7l1-.8v7.2l1 .2v-7.3l1 .1v7.4l1-.3v-7l1 1.5v4.7l1-.3v-5.9l1 .1v6.3l1-.4v-5.5l1-.3v6l1 .8v-6.6l1 .5v5.4l1-.3v-6.7l1 .4v6.6l1-.2v-5.2l1 .2v4.4l1 .4v-5.9l1-.1v6.3l1 1.4v-8.1l1 .4v7.2l1-.5v-5.3l1-1.3v7.6l1 .6v-7.9l1-.7v8.2l1-1v-6.7l1 0v7.6l1 .1v-7.3l1 1v4.3l1 .3v-5.5l1-.3v6l1 1.5v-7.8l1 .6v5.8l1 .4v-6.6l1 1.6v6.7l1-1.7v-6.6l1 .7v6.8l1 .1v-11l1 2.5v8.7l1-.7v-9.8l1 1.8v7.2l1 2.1v-9.1l1-1.2v10l1-.9v-7.7l1 2.1v5.2l1-1.3v-5.3l1 1.2v4.5l1-.3v-4.6l1-.6v5.8l1 .4v-4.7l1-2.2v6.2l1 .3v-7l1 1.1v5.9l1 2.6v-7.7l1-3.3v8.9l1 1.2v-8.3l1-1.3v9.5l1 1.8v-11.1l1-1.5v12.5l1-1.4v-8.2l1-2.5v10.2l1 2.6v-13.3l1 3v9.4l1 2.2v-13.2l1-2.4v12.6l1 2.3v-15.4l1 1v13.7l1 .8v-12.6l1-.8v10l1 3.5v-13.2l1-1.4v14.9l1-3.1v-10.6l1-2.6v16l1-1.2v-12.6l1-1.4v12.7l1 2.1v-14.7l1 1.6v10.5l1-.8v-10.2l1 2.8v7.9l1-1.2v-7.6l1 .7v8.3l1 .8v-8.6l1 .3v7.6l1 .2v-9.9l1 1.1v6.9l1 2v-8.4l1 .5v6.6l1 .3v-6.9l1 .9v5.9l1-.8v-6.2l1-.2v7.8l1-.7v-7.6l1 1.9v6.8l1 .1v-7.5l1-.1v7.1l1 .4v-8l1 1.1v6.2l1 1.5v-9.2l1 .6v7.2l1 .8v-8.5l1 .1v9.9l1 .5v-9.3l1-1.7v8.3l1-.5v-9.8l1 2.3v7.6l1 1.5v-8.4l1 .1v7.4l1-.7v-6.9l1 .4v6.5l1 1.7v-7.6l1 .8v6.3l1-.5v-7.8l1 1.8v5.5l1-.6v-7l1 .4v7.2l1-.3v-6.4l1-.3v7.2l1-.3v-7.4l1 .6v5.6l1 1.1v-6.5l1 1.1v5.1l1 .6v-6.6l1 .3v5.5l1 .5v-6.2l1-.8v6.3l1 1.1v-6.4l1-1v7.1l1 5v-12.8l1 1.6v6.1l1-1v-4.7l1-1.4v5.1l1 .5v-5.8l1 0v6.1l1-.3v-6.1l1 1.4v5l1 .6v-7.1l1-6.1v19.8l1-4.9v-7.6l1 0v7.4l1-.4v-7.7l1 .2v9.1l1-2.1v-6l1 .5v6.4l1-.1v-6.8l1-1v7.4l1 .3v-5.8l1 .2v5.3l1 1.4v-6.3l1-1.8v6.6l1-1.3v-5.2l1 .1v5l1 0v-5.2l1-.3v5.6l1-.1v-6l1 .7v6.4l1-1.6v-5l1 0v6.2l1 .4v-8.1l1 .2v7.6l1-.4v-6.6l1-1.5v9.5l1 .6v-8.8l1 .5v8.6l1-2.3v-7.8l1-.3v7.8l1 1.9v-9l1 .6v6.9l1 .9v-7.9l1 0v7.7l1 2.4v-11.2l1-.6v10.8l1 3.7v-14.7l1-.3v11.5l1 1.2v-12.8l1-.8v14.4l1 .4v-15.7l1 0v14.8l1 2.8v-17.8l1 3.7v14.2l1-3.8v-10.9l1-.5v14.7l1-2.6v-9.4l1-2.1v11.1l1-2.2v-9.2l1 .6v11l1-1.5v-10.4l1 3.1v6.6l1 .8v-8.6l1 .1v8.9l1-1.1v-7.8l1 1.2v8.8l1-.9v-7.8l1-.2v5.7l1-.6v-5.4l1-.3v6.5l1 .5v-6.8l1 .2v7.7l1-1v-8.2l1 .3v8.6l1-1.3v-7.4l1 .4v6.9l1 1v-7.4l1-.6v6.9l1 1.1v-9l1 1.3v7.3l1-.8v-7.2l1 .6v8.2l1-1.3v-6.1l1-1.5v9.7l1-1.7v-8.5l1 .1v9.2l1 .1v-7.7l1-2v8.3l1 1.8v-7.6l1-1v6.7l1 .3v-6.6l1-1.3v8.9l1-.6v-8.6l1-.8v12.1l1-1.8v-8.4l1-2.7v11.6l1 1.6v-12.2l1 2.1v6.4l1 .2v-6.3l1 .8v6.5l1-.7v-7.9l1 1.6v6.1l1-.1v-6.4l1 .6v5.7l1-.2v-6.6l1 1.1v6.6l1 1.3v-8.6l1 .1v6.7l1-1.2v-7.6l1 .7v8.1l1 .5v-7.3l1-.5v7.2l1-.2v-6.3l1-.9v7.6l1-.4v-7.8l1 1.8v6.6l1 .5v-7.8l1 .4v7.4l1-2v-5.6l1-.1v6l1 1.7v-8.1l1 0v7.1l1 1.5v-8.7l1-1.8v12.3l1-1.4v-10.6l1 1.3v8.7l1-.2v-8l1-.2v6.7l1-.3v-6l1-1v7.1l1 .9v-7.9l1 .8v7.4l1-.4v-9.6l1 2.5v7.3l1-.8v-7.4l1-.9v8.3l1-.5v-6.7l1 .3v5.8l1 0v-4.8l1-.2v5.5l1 1.1v-5.7l1-1.6v6.9l1 2v-8.7l1 .4v6.9l1 2v-7.9l1-.7v8.4l1-1v-9l1 1.4v10.1l1-.9v-8.5l1-1.3v9.9l1-2.3v-6.2l1-1.5v7.9l1-.3v-7l1 1v7.5l1-.8v-7.3l1 1.2v6l1-.9v-5.3l1 0v5.6l1-1.1v-4.3l1-1.1v4.9l1 1.8v-7.2l1-.2v7l1 .6v-7.8l1 .4v5.9l1 1.3v-6.6l1-10.9v28.8l1-11.2v-6.5l1-.6v7l1 .5v-6.8l1-.3v5.5l1 1.3v-7.7l1 1.6v4.7l1-.1v-5.9l1 1v4.1l1-.1v-5l1 1v4.8l1 .2v-6.4l1 1.5v4.9l1 1.3v-7.3l1 .5v6l1 2v-9.9l1-.9v9.8l1 1.7v-10.4l1 .2v9.4l1 .2v-9.7l1-2.4v10.6l1 .1v-9.1l1 .3v8l1-1.4v-6.1l1 .1v7.1l1-.2v-6.7l1-.6v6.4l1 0v-6.7l1 .7v5.8l1 4.8v-10.7l1 .6v7.3l1-.7v-8.1l1 1.9v5.8l1-.8v-6.2l1 .8v5.6l1 .8v-8.1l1 1.4v8l1 .5v-8.7l1 .8v6.4l1 .2v-7.2l1-.3v9.5l1-1.3v-8.3l1 .6v7.6l1-2v-5.5l1-1.2v6.6l1 1.9v-7.8l1-.6v10.1l1 1.2v-15.2l1 4.7v9.4l1 .2v-11.3l1 1.8v6.7l1 1v-7.6l1 1.3v4.9l1 .6v-5.1l1-.6v6.3l1-.4v-4.9l1-.8v6.2l1-.2v-6.9l1 1.1v5.6l1-.3v-6.7l1 .2v7.9l1-.4v-7.2l1 .6v6.4l1-.4v-6.4l1-.7v7.8l1-1.1v-5.3l1 0v7.5l1-1.7v-7.3l1 1.8v6.5l1 .3v-7.2l1-1.4v8.6l1 .9v-9.4l1-.3v7.8l1-.3v-7.7l1 1v6.5l1 1.3v-7.4l1 .5v5.5l1 .8v-6.6l1-1v9.8l1-2.1v-7.8l1 2.1v5.8l1 .4v-7.8l1 .2v6.7l1 0v-6.3l1-.2v6.3l1 1.3v-7.7l1-1.4v7.7l1 1.3v-7.8l1-1.3v8.4l1-.4v-6.2l1-1.3v7.4l1-.4v-6.3l1-.1v6l1 .7v-6.6l1 .4v6.1l1-1v-5.8l1 .7v5.1l1 1.3v-7.3l1-.9v6.8l1 .2v-6l1 .1v6.6l1 .5v-6.5l1-.2v5.8l1-.4v-4.8l1-.4v5.1l1-.3v-5.3l1 1.5v5.3l1-.4v-5l1-.6v5.3l1 .7v-6.5l1 1.1v5.8l1-1.3v-6.1l1 .3v6.6l1 .1v-7l1-.9v9.2l1-1.4v-8.8l1 1.5v7.4l1 0v-5.8l1 .8v4.2l1-.5v-4.2l1-.5v5.4l1 1.4v-7.2l1 .6v6.9l1 .2v-9.5l1-2.3v12.5l1-.8v-11.8l1 1.4v13.9l1-2.2v-10.8l1 .1v11.5l1-.1v-12.4l1 1.7v11.9l1-3.2v-9.2l1 0v9.3l1-.9v-10.6l1 1.7v8.8l1 3.3v-10.8l1-3.6v12.5l1-.5v-10.1l1 .1v11.7l1-.7v-10.6l1-.8v9.1l1 .1v-6.9l1 0v7.3l1 0v-6.3l1-.1v5.2l1 .6v-5.8l1-.6v6l1 1.8v-7.4l1-.2v6.5l1-.8v-6.2l1 .6v6l1 1.7v-8l1 .2v6.2l1 1.2v-7.5l1 .2v5.8l1 1.8v-7.4l1-.6v8.7l1-1.8v-8l1 1.2v7.9l1 0v-7.9l1-.8v8.2l1 1.5v-7.1l1-1.9v8.6l1-.9v-5.9l1-1.1v8l1 .8v-9.2l1-.9v7.7l1 2v-9.6l1 .2v8l1 1.3v-8.4l1-.3v5.9l1 .9v-7.3l1-.6v7.3l1-.7v-6.7l1-.4v7.4l1 .3v-6.2l1-1.3v6.2l1 .5v-6.7l1-.1v7.2l1-.1v-5.5l1-.5v6.5l1-1.7v-4.1l1 0v4.4l1 .5v-4.7l1-.7v7.4l1-.1v-7.3l1 .7v6.4l1-.3v-5.5l1-1v5.7l1 1.4v-5.8l1-1.4v7.2l1-.6v-6.7l1 .1v7.4l1-.4v-6.1l1-.9v6.9l1-.9v-7l1 .7v6.8l1 .4v-7l1 0v6.9l1-.1v-5.6l1-.6v8.1l1-.8v-8.7l1-1.4v7.6l1-.1v-6l1-.1v6.3l1 .6v-6.4l1-.2v5.9l1 1.4v-6.4l1 .2v5.2l1-.6v-4.7l1 0v5.3l1-.1v-7l1 1.6v5.9l1 1.4v-8.2l1 .7v7l1 .7v-7l1-1.6v9.5l1 1v-10.6l1-.2v12.2l1-1.9v-11.1l1 .1v9.7l1 1.2v-11.3l1 1.1v12.1l1-.6v-11.9l1-1.8v12.3l1-.4v-9l1-1.6v8.7l1 .6v-8.8l1-1.4v9.1l1 3.2v-10.2l1-3.3v18.8l1-7v-11.8l1 .4v11.5l1-.7v-9.7l1 2v7.2l1 .4v-8.5l1-1.9v11.4l1 2.2v-12.4l1-.8v11l1-1.5v-7.1l1-.3v7.2l1-.4v-6.7l1 .4v6l1 1.3v-7l1-1.7v7.8l1 .3v-7.5l1-.8v8.5l1-.1v-7.1l1-.7v7.6l1 .5v-8.6l1 1.1v5.9l1-.5v-5.7l1 2v4l1 .3v-5.2l1 .9v4.2l1 .6v-5.4l1 .8v5.2l1 0v-5.8l1-1.1v6.9l1-.4v-6l1 .9v6l1-1.1v-5.1l1 .4v5.8l1-1v-4.7l1-1.3v6.1l1-.1v-4.3l1-1.1v6.1l1 .2v-4.9l1-.9v6.7l1-2.2v-5.3l1 .4v5.3l1 .4v-6.2l1-.2v7.7l1 1.6v-11.2l1 1.2v9.4l1-1.3v-8.1l1 1.6v8.4l1-2.5v-7.7l1 .1v7.9l1 .7v-8.8l1 .8v7.6l1-2.2v-4.9l1 .6v5.3l1 0v-5.5l1 .4v5l1 .6v-6.7l1-.1v8.7l1-.9v-8.1l1 1.1v8.5l1-2.4v-6.6l1 0v6.5l1 0v-6.7l1 .2v7.5l1-.1v-6.6l1-.1v7.3l1-.7v-6.9l1-.9v7.3l1 .5v-7.1l1-.8v6.9l1 2.4v-8.7l1 .3v6.4l1-.4v-6.3l1 1.2v5.1l1 1.7v-7.2l1 .3v5.4l1 .9v-6.6l1-1.5v8.3l1-1v-6.4l1-42.6v77l1-8.9v-56l1 12.2v38l1-1.8v-26.8l1 2v21.2l1 1.7v-23l1 2.7v17.3l1 1.1v-17.3l1-3.4v18l1-1.7v-13.2l1-3.1v16l1 6.4v-20.1l1-4.8v24.9l1-5.2v-15.4l1-.8v25.2l1-4.8v-20.4l1 .6v21.6l1-5.3v-14.7l1-4v21.5l1-4.2v-11.4l1-1.4v12.7l1 0v-16.1l1 1.2v13l1 1.9v-12l1-.1v11.6l1-2.2v-10.8l1 3.2v8.5l1 2v-13.7l1 1.1v10.4l1-1.1v-6.9l1-.9v10.2l1-1.6v-10.3l1 1.2v8.7l1-1v-6.8l1 .9v5.4l1-.8v-4.6l1 0v4.6l1 .4v-4.6l1-.8v6.1l1-.4v-5.6l1-.9v5.9l1-.1v-5.4l1-.4v5.6l1 1.3v-5.6l1-1.6v7.1l1 .8v-7.6l1-.1v7.7l1-.7v-6.2l1-1v8.4l1-2v-4.9l1-.9v5.9l1 0v-5.5l1 .7v6.2l1-.6v-7.9l1 .3v6.5l1-.2v-5.8l1 .6v6.5l1-1.9v-5.8l1 .7v5.3l1 .9v-5.6l1 .7v4.6l1 .3v-5.3l1 0v6l1-.3v-5.4l1-.5v6.7l1 .1v-8.9l1 1.5v6.9l1 .4v-8.3l1 .8v7.8l1-.7v-6.4l1-.2v6.4l1 .9v-6l1-.7v5.7l1-.4v-5.4l1-.6v6.4l1 .1v-4.9l1-.5v6.2l1 1.3v-7.9l1 1v6.5l1 0v-8.6l1 1v7.3l1 .7v-7.4l1-.9v8.2l1-.9v-7.7l1 .4v8.2l1-1v-7.6l1 .6v6.5l1 .1v-6.4l1-.4v7.1l1-1.5v-5.1l1-.1v4.9l1 1.1v-6.1l1 0v5.5l1 .9v-6.5l1 .3v5.5l1 0v-5.3l1-.9v6.5l1 0v-5.7l1 .1v5.2l1-.4v-6.4l1 1.1v6.1l1 .3v-6.5l1-.2v6.1l1 .4v-6.8l1-.1v8l1 .1v-6.6l1 .4v7.2l1-2.4v-5.8l1 1.6v5.5l1 .2v-8.2l1 1.9v5.7l1 .2v-6l1-.9v7.7l1-1.2v-8.4l1 2.8v6.1l1 .2v-8l1 .5v7.2l1 .9v-7.2l1-.5v7.9l1-.4v-8l1-.4v7.7l1 1v-7.3l1-1v6.4l1 .5v-7.3l1 2.1v4.3l1 1.2v-6.9l1 .8v5.5l1 .6v-6.8l1-.1v6.4l1-.8v-6.1l1 .8v7.1l1-1.3v-6.8l1 .7v5.4l1 .3v-6.7l1-.2v6.4l1 .3v-7.1l1 1.4v6.6l1-.6v-7.2l1 .8v7.2l1-1.8v-7.6l1 1.9v5.8l1 1.6v-6.7l1 .4v5.5l1-.6v-5.6l1 0v8l1-.3v-8.7l1 .8v6.9l1 1.3v-8.1l1 .1v8.2l1-1.1v-7.8l1 1v5.9l1 1.9v-8.9l1-.3v9.2l1 0v-7.3l1 0v5.8l1-.6v-6.1l1-.7v7.1l1 1.2v-10.4l1-1v11.3l1 6.7v-21.5l1 1.8v15.7l1 3.3v-18.1l1-.7v16.3l1 3v-21.5l1-3.3v29.9l1-1.5v-26.5l1 4.1v17.2l1 1.4v-21.9l1-6.6v34.9l1-.3v-31.2l1-5v31.5l1 4.9v-30.6l1-3.4v31.6l1 3.9v-29.9l1-7.1v34.1l1 6.6v-43.2l1 9.1v25.4l1 1.9v-35.2l1 2.5v38.3l1 3v-41l1-8.8v37.4l1 9v-38.7l1 4v25.2l1-.9v-26.1l1 1.1v31.8"/>
<path class="tr" stroke="#000000" d="M138.5,567.6v15.9l1 2.5v-13.6l1-8v25l1-7.3v-9l1-2.5v14.6l1-3.6v-10l1 1v11.8l1 .7v-12.4l1-.3v12.6l1 .6v-12.8l1-1v14.8l1 .3v-17.4l1-4.1v20.8l1-.5v-15.1l1 3.1v12.8l1-1.7v-14.5l1 3v12.4l1-.4v-13.7l1 .9v13.7l1-.5v-14.2l1 .9v9.8l1-.1v-7.2l1-1v8.6l1-1.3v-7.1l1 1.2v7.4l1-.3v-7.6l1-.4v8.5l1 .2v-8.4l1-1.3v9.8l1-1.3v-7.6l1-.3v7.9l1 1.2v-9.4l1 .7v8.5l1-2.7v-5.4l1 .6v5.7l1-1.7v-5.7l1 1v6.2l1-.2v-5.8l1-.9v6l1 .2v-7.2l1 .3v7.2l1-1.2v-5.5l1 .1v6.2l1 .9v-7.1l1-.1v6.9l1 .8v-7.5l1 .5v4.8l1-.3v-4.8l1-.2v6.6l1-1.2v-6.8l1 .9v6.7l1 .8v-6.6l1-1.9v8.7l1-.5v-7.6l1-.7v9l1-1v-8.5l1 .6v8.9l1-.3v-8.1l1-.7v7.7l1 1.2v-7.6l1 .4v6.5l1 .3v-7.1l1-.6v7l1-.4v-5.5l1-.3v5.3l1 1.1v-5.8l1-.3v6.3l1-.1v-5.2l1-.8v6.3l1-.1v-5.2l1-.4v5.9l1-.2v-6.2l1-.2v7.7l1 .3v-8.7l1-.6v8.6l1-1v-6.5l1-2.2v11.9l1-.8v-13.3l1-34.2v79.3l1-7.7v-63.4l1 29.3v9.1l1-1.3v-7.8l1 0v6.9l1 1.1v-8.2l1-.2v7.3l1 2.2v-9.3l1-1.7v9.5l1 3.7v-11.1l1-1.7v10.1l1 .4v-10.4l1 .2v8.1l1 .3v-9l1 1.9v8.6l1-.6v-8.6l1 1.6v5.6l1 .8v-7l1-1.9v9.1l1 3.7v-10.6l1-1.4v12.5l1 1.3v-18.9l1 3v12.8l1 9.2v-20.7l1-4.3v18.1l1 0v-18l1-3.1v24.3l1-3.3v-18.5l1 2.9v13.7l1 0v-14.6l1 0v16l1-2.7v-16.2l1 4.6v15.2l1-1.3v-13.8l1-.6v12.7l1-3.3v-10.1l1 1v9.2l1 2.7v-12.5l1 3.3v8.5l1-1.2v-7.4l1-1.8v12.2l1-1.3v-10.5l1 0v10.4l1 .7v-10.5l1 2.1v8.1l1-1.8v-6.8l1 1.1v6.2l1 1.4v-8.9l1-.5v8.3l1 1.8v-9.7l1 .3v9.2l1 0v-8.2l1-.8v9.3l1-1.4v-10.1l1-1.2v11.4l1-.2v-9l1 .6v9.6l1-1.8v-7.2l1-1.1v9.6l1 .6v-9.6l1 .6v6.7l1 .2v-8.7l1 .5v7.7l1 .4v-8.2l1 2v7.5l1-1.9v-7.2l1 1.6v6.9l1-1.2v-7l1 1.4v5.7l1 .4v-8l1 .8v7.9l1-1v-7.3l1-.6v7.8l1 1.6v-9.9l1 .2v9l1 1v-9.4l1 1.1v7.6l1-.4v-8.3l1-.4v8.4l1-.7v-9.2l1 2.1v7l1 1.3v-8.6l1-.5v8.9l1-1.6v-7.1l1 .1v8.5l1-2v-5.3l1-1.1v6.5l1-.3v-5.5l1-1.4v7.9l1-.4v-6.8l1-.8v9l1-.2v-8.5l1-.4v9.9l1-1.3v-8.6l1 1.6v7.1l1-.4v-6.7l1-.6v7.8l1-.6v-6.9l1 .4v6.7l1 .9v-7.4l1 .2v7.3l1-.8v-5.9l1-1.2v7.6l1-.2v-7.1l1 1.4v4.4l1 1.7v-6.4l1-.8v6.5l1 0v-5.7l1-.4v7l1-.2v-6.3l1-.7v7.1l1 .6v-7l1-.3v6.7l1 1v-8.7l1 1.3v7.3l1-1v-6.8l1-.1v7.7l1-1.8v-5.2l1-.9v6.1l1 .7v-5.6l1 .3v5.8l1-1v-6.5l1-.1v7.5l1-.9v-5.8l1-.6v6.5l1-.4v-6.8l1 .5v5.3l1 1.8v-7.3l1-.9v6.5l1 0v-7.6l1 1.1v7.9l1-2v-5l1-.5v6.6l1-.5v-5.5l1-2.9v10.2l1 .4v-10.6l1-13.5v32l1-2.8v-16.2l1-4.9v16.2l1 .9v-12.2l1-5.3v19.8l1 1.1v-18.8l1 1.3v17.8l1-2v-16.1l1 .4v15.2l1-.7v-13.9l1-2.9v18l1-2.3v-8.9l1-.8v9.3l1 2.1v-17l1 2.8v12.6l1 .9v-12.1l1-1.2v15.3l1 2.1v-14.5l1-2.3v13l1-.8v-11.2l1 .9v10.5l1 .1v-10.2l1-.2v8.1l1 .6v-8.3l1 2.3v5.2l1 .9v-6.4l1-.1v5.6l1 0v-5.8l1 .3v6.2l1-.2v-6.5l1 0v6.2l1-.9v-5l1-.7v7.1l1-.5v-7.3l1-1v10.3l1-1.3v-7.8l1-2.4v10.7l1-1.1v-7.6l1-1.4v9.1l1 1.5v-10.4l1-.4v9.2l1 .1v-9l1 .4v7.6l1 1.2v-8.2l1 .5v6.7l1 .2v-8.3l1-.8v10.3l1-1.1v-8.7l1 2.1v6.8l1-.8v-7.1l1 1v7.5l1 .1v-6.8l1 .4v5.3l1-.4v-6.3l1 .8v5.3l1 1.8v-7.5l1-1.2v6.7l1 .4v-6.1l1-1v8.1l1 .3v-7.2l1-1.4v7.8l1-.6v-6.1l1-1.4v8.4l1-.1v-8l1-.1v7.6l1-.4v-7.5l1-1.6v9.6l1-.8v-8.4l1 .7v7.5l1 2.1v-10.3l1 0v10.6l1 1v-11.6l1 1.2v8.2l1 1.4v-9.1l1 .4v7.4l1 .1v-9.5l1 .3v9l1 .8v-9l1 1v6.8l1-.3v-6.8l1-.9v7.1l1 .5v-7.6l1 1.7v6.2l1 .4v-9l1 .6v10.5l1-1.5v-9.3l1 1.5v7.6l1-1.1v-6.8l1-2.2v7.6l1-.1v-5.8l1-.2v6.2l1-.2v-6.1l1 1.5v5.7l1-.3v-7l1-.1v7l1-.4v-6.9l1 .2v7.3l1-.6v-6.4l1-1v6.8l1 .9v-6.9l1 .2v6.3l1 1.3v-8.8l1-.5v10l1-.8v-8.7l1-.3v12.3l1-1.6v-8.7l1-1.1v8.2l1 2.8v-10.6l1 .6v10.6l1-1.6v-12.1l1-2v14.9l1 1.8v-14.3l1 2.1v8.5l1 .2v-11.4l1 1.6v9.6l1 4.6v-16.9l1 4.1v10.2l1-1.3v-11l1-.1v12.6l1 .5v-12.7l1 1v11.9l1-1.6v-12.6l1 3.3v8.1l1-.3v-9.8l1 .2v9.4l1-.1v-7.8l1 .6v6.1l1 2.9v-12l1 2.8v8l1 1.2v-13.6l1 1.1v11.1l1 3.1v-15.2l1 0v14.5l1-2.8v-11.6l1 .2v12.8l1 .2v-10.8l1-1.3v11.2l1 0v-11.2l1 1.8v7.3l1 1.9v-7.9l1-.9v7.8l1-.4v-6.3l1-.8v7.6l1-.7v-7.2l1-.1v7.3l1 .6v-7l1-.6v6.6l1 .8v-6.5l1-.3v6.2l1 .1v-5.9l1-.7v6.6l1 .8v-8l1 1.8v6.4l1-1.2v-5.4l1 .1v5.2l1 0v-6.2l1 1.1v4.7l1 .3v-5.3l1-1.1v6.8l1 .8v-6.5l1 .5v5.9l1-.8v-6.6l1 1.1v5.1l1-.2v-6l1 1.3v5.7l1-.9v-5l1-.9v5.3l1-.4v-3.5l1-1v4.7l1-.8v-4.3l1 .1v4.9l1 .9v-5.6l1-.3v4.4l1 1.6v-6l1-.3v5.6l1-.6v-5.4l1 .2v5.8l1-.2v-5.3l1-.7v7l1-2v-6.3l1 .6v6.8l1-1.6v-6.1l1 .5v7.1l1-1.2v-5l1-1.5v7.3l1-.7v-6.1l1-.2v6.9l1 .9v-6.7l1-.7v6.6l1 .7v-6.4l1-1.5v5.9l1 .3v-7.2l1 .6v6.7l1-.7v-5.7l1-.3v6.6l1 .3v-6.7l1-1.1v7.5l1 .8v-7.7l1 .8v5.9l1-.7v-5l1 .5v4.6l1 .4v-6.1l1-.9v7l1 .3v-7l1-2.2v9l1 .8v-9.4l1-1.2v11.5l1-.2v-11.1l1 1.7v10.3l1-.3v-10.8l1-.1v8.4l1 .2v-8.4l1 0v9.8l1-.8v-9.8l1 2.3v9.5l1 1.6v-14.4l1-.5v12.3l1 2.2v-10.4l1-3v10.1l1 2.2v-9.1l1-.4v7.8l1 .4v-7.7l1-.8v7.8l1-.3v-7.6l1-.1v9.8l1 1.2v-13.3l1-.1v10.6l1 .8v-11.4l1-1.4v12l1 2.7v-13l1-2.8v15.1l1 3.3v-17l1-.5v14.4l1 .6v-11.2l1 .7v8.5l1-.3v-11.3l1 .8v11l1-.3v-10.7l1 2.5v8.6l1-1v-10l1 2v7.8l1 2v-10.7l1-.1v11.3l1 .6v-12.9l1 2.5v8.4l1-.2v-9.9l1-.5v11.3l1 2v-12.3l1 .2v9.7l1-.3v-7.5l1 .3v6l1-1.2v-5.6l1 .8v4.9l1-.4v-5.1l1 .2v4.9l1 1.1v-5.9l1-.8v7.7l1-1.9v-5.4l1-.5v6.8l1 .3v-7.9l1-.7v7.2l1-1v-5.2l1-.2v5.3l1 .9v-5.6l1 0v6.8l1-1.3v-6.6l1 1v6.1l1 .4v-7.1l1 1.7v6.4l1 1.3v-9.7l1 1.8v7l1-1.2v-6.3l1-.6v7.3l1 .6v-7l1-.4v7.9l1-1.4v-6.8l1 .9v5.5l1 .7v-5.6l1-1.3v7.5l1-.5v-6.7l1-.6v7.4l1-.6v-5.7l1-.4v6.1l1-.8v-4.7l1-.8v7.1l1 .4v-7.4l1 .6v6.2l1-.5v-5.9l1-.6v6.4l1 .7v-7.2l1 .4v6.9l1 .3v-8.1l1-.6v8.7l1-1.1v-6.8l1 .6v6.3l1-.1v-6l1-.6v6.3l1-.2v-7.4l1 2.6v6l1-1.4v-5.7l1 1v4.9l1-.7v-4.8l1 .2v4.5l1-.3v-4.9l1-.4v6.9l1-.1v-6.6l1 1.1v5.1l1 .3v-5.4l1-1v5.6l1-.4v-4.3l1-1v6l1 0v-5.3l1-1.2v7.4l1-.1v-6.6l1-.1v6.2l1-.8v-5l1-.2v7.8l1-1.2v-6.2l1-.7v6.6l1 .4v-6.8l1 .7v5l1 .3v-5.1l1 1v3.8l1 1.4v-6.1l1-.4v6.2l1 1.2v-7.9l1 .8v6.6l1-.3v-6.5l1 .8v5.6l1-.3v-6.3l1-.2v7.1l1 .4v-7l1-.1v8.5l1 1.3v-11.8l1-1.3v10.6l1 1.7v-14.6l1 .2v17.6l1-1v-14.7l1 2.8v11.6l1 4.7v-19.2l1-1.8v15.2l1-.9v-13l1 2.2v10.2l1 1.5v-14.1l1-.5v13.7l1-1.2v-10.1l1-2.9v14.3l1 2v-12.5l1-.1v9l1 .2v-8.4l1-1v9.8l1-.7v-9.7l1 .4v9.6l1 .7v-8.5l1 1.1v7.2l1 1v-8l1-.8v9.5l1 .7v-9.1l1 .6v6.8l1 1v-7.4l1-1.1v6.3l1 1.5v-6.8l1-.4v6.8l1-1.2v-5.6l1 .6v5.5l1-1v-5.9l1 .2v7.1l1-1.9v-4.3l1-1.2v6.6l1-.7v-5.7l1-.6v7.8l1 .9v-6.9l1-2.2v7.1l1 1v-8.4l1 .4v7.6l1-1.1v-5.4l1 .2v6.1l1-1.3v-6.6l1 .8v6.9l1-.7v-5.9l1 .6v4.6l1 1.3v-6.7l1 0v7l1 1.2v-7.6l1-.8v7.4l1 .2v-6.8l1-.1v7.1l1-.6v-6.8l1 .8v5.3l1-.1v-5.7l1-.2v5.3l1 0v-5.5l1-1v6.4l1-.7v-5l1-.9v7.8l1-1.6v-5.7l1-.1v5.1l1 1.6v-6.2l1-.1v4.8l1 .8v-5.9l1-.6v4.8l1 .4v-4.7l1 0v4l1 .5v-4.7l1-.8v6l1 .1v-4.5l1-1.1v6.2l1-.6v-5.9l1-.6v5.3l1 .5v-5.6l1 .8v4.1l1 .7v-4.7l1-.9v6l1-.9v-3.8l1-1.2v5.4l1-.3v-4.5l1-.1v4.7l1 .4v-4.7l1-.2v3.6l1-.1v-3.7l1-.1v5.3l1-.8v-5.4l1 1.4v4.9l1-.9v-5l1 .3v5.1l1 0v-5.4l1 .1v4.8l1 .6v-6.3l1-.5v9.3l1 .5v-10.9l1-.6v14.3l1-3.3v-8.8l1-.6v10.9l1 .1v-12.4l1-.9v13.2l1 .4v-12.3l1 .3v9.1l1 .7v-9.2l1-3.5v12.7l1 2.1v-11.9l1-37.7v88.8l1-39.1v-16.2l1 4.1v12.3l1 .9v-14.8l1-3.6v18.8l1 1.8v-17.5l1-19.2v52.8l1-19v-16.7l1 .4v15.7l1-2.2v-10.1l1 .1v9.6l1 .2v-7.2l1 2v5.6l1-.4v-6.4l1 .5v5.9l1 .7v-7.3l1 2.2v7l1 .7v-7.2l1 .1v8.5l1-.6v-6.5l1-.2v5.6l1 .1v-5.2l1 1v6l1-.3v-5.1l1 1.3v4.8l1 .1v-5.8l1 .1v6.9l1 .7v-5.6l1 .4v5.9l1 1.2v-5.9l1 .6v5.4l1 0v-5l1 .6v5.9l1-.1v-6l1 .9v7.4l1 1.2v-7.1l1 .2v7.1l1 .7v-7.2l1 .4v7.4l1 1.3v-8.1l1 1.5v9l1-.4v-7.9l1 .5v8.5l1-.3v-10.5l1 1.5v11.6l1 1.8v-12.7l1 .6v12.4l1-.5v-13.2l1 1.5v9.1l1 1.9v-10.5l1-.1v8.7l1 0v-6.9l1 .7v5.7l1-.2v-5.8l1 .3v5.1l1 .6v-5.1l1-.1v5.5l1-.6v-5.9l1 .3v5.2l1 .4v-6.1l1-.4v5.8l1 .7v-6.3l1 1.2v6l1 0v-6.6l1-1.3v6.2l1-.7v-4.8l1 .4v4.4l1-.6v-4.8l1 .9v3.8l1 24.2v-49.8l1 21.2v4.4l1-.8v-4.3l1-.9v5.6l1 .6v-5.5l1-2.7v7.9l1 3.1v-10l1-1.2v8.6l1 1v-11.4l1 1.5v7.9l1 .6v-11.3l1 1.6v10.3l1-.3v-9.5l1 .1v9.4l1 .5v-10.6l1-2.7v11.9l1 3.2v-13.9l1-1.5v13.3l1 .6v-11l1-1v11.6l1 40.2v-87.5l1 37.1v5.9l1-.9v-6.8l1 2.5v5.4l1-.2v-5.7l1-1.5v6.4l1 .6v-5.2l1 .1v5.2l1-1v-5.1l1 .7v4.5l1-.2v-5.5l1 .2v4.9l1 .9v-5.3l1 0v5.9l1-.9v-5.3l1-.1v5.2l1-.3v-4.8l1-.1v4.5l1-.2v-4.6l1 .3v4.7l1 1.9v-5.6l1-1.5v6.3l1 .6v-6.1l1 .1v5.7l1 .5v-6.4l1 .1v5.4l1 .7v-7l1 1.3v6.6l1-1.2v-5.9l1-4.7v11.8l1-1.9v-5.5l1 1v6l1-.2v-7.7l1 .9v6l1 .3v-5.3l1-.7v6.9l1-.5v-5.4l1-.1v6.6l1-1.3v-6.1l1 .3v5.5l1 .5v-5.5l1-.3v4.8l1-.1v-4.6l1 1.2v3.6l1 .9v-5.4l1-.6v5.9l1 1.6v-9.8l1 2.5v5.4l1 .2v-6.1l1-1v6.5l1 .1v-6.5l1-.4v6.7l1 1v-6.8l1-1.1v7.2l1 .7v-7.8l1 1v6.2l1 .5v-6.2l1-.3v6.7l1 .8v-7.7l1 .9v4.8l1 2.1v-7.5l1 1.5v5.7l1-.8v-5.3l1-.6v6l1 1.9v-6.1l1-.5v6.2l1-.5v-5.1l1-.6v6.3l1-.7v-6.2l1 1.4v6l1-.6v-6.7l1 1.1v5.4l1-.8v-3.4l1 .1v3.3l1-.5v-4.6l1 .2v5.8l1 0v-5.2l1-.2v8.6l1-2.1v-6.2l1-.1v5.5l1 .3v-6.1l1 0v5.4l1-.2v-4.6l1-7.4v20.8l1-8.8v-5.3l1 .3v5.6l1 .2v-6.8l1 .4v6l1-.2v-6.5l1-.2v6.4l1-.6v-5l1-1v6l1 .7v-5.6l1-1.2v5.8l1 0v-4.7l1-.2v4.9l1-.6v-4l1-.7v4.5l1-.1v-4.1l1-.1v4.7l1 8.6v-29.8l1 14.9v5.7l1-.4v-4.2l1-.9v6.1l1-.5v-5.4l1-1.8v7.2l1 .9v-7.6l1-.8v7l1-.1v-6.7l1 1.3v6.5l1-2v-6.7l1 .7v6l1-.8v-5.8l1 .4v5l1 .3v-5.6l1-.8v6.8l1-1.4v-5.1l1-.4v6.1l1-1.8v-4.3l1-.6v5.4l1-1.2v-5.8l1 .7v7.3l1-.2v-7.9l1-.3v7l1-.9v-7l1 1.4v5.7l1-.7v-5.5l1-.7v6.7l1-.9v-6.3l1 .2v5.9l1 .3v-6l1 .1v6.3"/>
<path class="tr" stroke="#ff0000" d="M138.5,595.3v27.3l1-6.7v-18.7l1-4v28.1l1 2.3v-33.8l1 5.6v24.8l1-5.6v-16.9l1-10.1v30.6l1 10.5v-48.3l1 14v27.4l1 0v-34.1l1 5.4v23.8l1 4.2v-33.6l1 8.2v15.1l1 2.4v-14l1-2.3v14.9l1 3.9v-21.3l1 .1v21.1l1-1.3v-18l1-10.9v32.1l1 2.6v-28.8l1 8.3v12.9l1 .1v-15l1 1.2v13l1-2.3v-9.2l1-2v12.3l1 .8v-14.2l1-.2v14.7l1-2.6v-12.2l1 .4v14.1l1-.3v-13.9l1 1.8v10l1-2.2v-9l1-.2v9.7l1 2.5v-14.7l1 1.9v10.1l1-.4v-11.2l1 2.8v7l1-.9v-6.4l1-.2v5.6l1 .4v-4.5l1-1.1v6.7l1 .6v-6.4l1-.1v5.5l1 .1v-5.8l1-.1v5.1l1 .3v-4.4l1-1.2v4.8l1 1.3v-5.2l1-.5v5.4l1-.4v-5.5l1 .8v4.9l1-.6v-3.7l1-1.6v5.6l1 .2v-4.9l1-1.1v5.1l1 .8v-5.5l1-.3v6.3l1 .3v-6.4l1 .1v4.5l1 .8v-5.2l1 0v5.2l1-1v-3.5l1-.4v4.4l1-.1v-3.9l1-.7v4.4l1 0v-4.2l1 .3v3.4l1-.1v-4.1l1-.1v5.9l1 0v-5.7l1-.8v5.5l1 1.5v-5.8l1-.9v4.4l1 .6v-4.3l1-.2v4.8l1 0v-3.8l1-1v5.4l1-1.1v-3.9l1-1v5.3l1-.9v-3.6l1 .2v3.1l1 1v-5l1 .1v3.7l1 .3v-4.1l1-.4v5.4l1 .6v-5.4l1-.6v5.5l1 .1v-4.7l1 .5v4.5l1-.9v-5l1 .9v5.1l1-.2v-5.1l1-.3v5.5l1-1v-4.7l1 .9v4.4l1-1.1v-3.9l1 .5v5l1-.5v-5.1l1-.4v6.8l1-1.6v-3.8l1-1.3v5.1l1 .2v-4.3l1 .1v4.9l1-.4v-4.7l1 .4v4.5l1-1.2v-4.8l1 .3v4.9l1 .2v-5.4l1 .9v5.4l1-1.1v-3.9l1 0v4l1-.5v-3.5l1 .2v4l1-.2v-3.6l1 .3v3.8l1-.1v-4.6l1 .1v5.8l1-.1v-6.4l1 1.5v4.5l1-1.2v-4.5l1 .6v5.2l1-1v-5l1 .5v5.4l1-1.1v-3.7l1-.4v3.8l1 .3v-3.9l1 .2v3.3l1 .3v-3.8l1-.7v5.5l1 1.1v-5l1-.1v4.4l1 .3v-5.3l1 1.5v3.6l1 .7v-4.5l1 .9v3.5l1 .7v-3.7l1 0v4.1l1-.5v-3.7l1 .9v4.3l1-.3v-4.8l1 .5v4.6l1 .8v-5.2l1 .7v5.7l1-1.8v-4.9l1 .3v6.1l1-.6v-5.9l1 2.2v4.3l1 .5v-5.5l1-.2v5l1 0v-4.5l1 .4v3.4l1-.4v-3l1 .1v3.3l1 .8v-4l1-.3v4.7l1 .5v-4.7l1-.1v4l1 .9v-5.7l1-.5v5.5l1 .9v-5l1-1.2v5.7l1 .2v-5l1 .1v4.4l1 0v-5l1-.1v4.2l1 .1v-4.3l1 .6v3.6l1-.6v-4.1l1 .1v4.3l1-.5v-3.8l1 .3v3l1 .6v-3.4l1 .1v3.7l1-.4v-3.4l1 .2v3.9l1-.3v-3.7l1-.4v4.4l1-.3v-5l1 .9v4.3l1 .3v-5.4l1 1.4v3.6l1-.5v-3.5l1-.5v3.7l1 .1v-3.9l1 1.2v2.8l1 .3v-3l1-.6v3.2l1 1.1v-4.1l1 1v3.6l1-.2v-4.3l1-.7v4.5l1 1.4v-5.1l1-.4v4.5l1-.8v-3.9l1 .9v3.5l1 .6v-3.8l1-.3v3.6l1-.1v-3.3l1 .3v4l1-.5v-3.1l1 .1v3.6l1-.2v-3.1l1-.5v3.6l1 .3v-3.3l1 .1v3.6l1 .6v-4.5l1 .8v2.8l1 .6v-3.3l1 0v3.6l1 .4v-5l1 .9v4.2l1 .1v-4.2l1-.7v4.6l1 .3v-5l1 .1v5.1l1 .9v-5.1l1 .3v4l1-.4v-3.9l1 1.2v4.2l1 0v-4.9l1 .4v4.4l1 .7v-5.3l1 .7v5.1l1-.4v-4.7l1 .5v3.6l1-.1v-4.3l1 .8v4.2l1 .8v-4.9l1-.3v4.7l1-.3v-3.4l1-.4v3.4l1 2.3v-5.6l1 .2v4l1-.1v-4.6l1 1.2v4.4l1-.6v-4.2l1 .4v2.7l1-.1v-3.3l1-1v4.4l1 .3v-6.1l1 .4v5.4l1 1v-6.6l1-.4v7.9l1-.6v-7.9l1 1.5v6.9l1 .8v-9.6l1 .9v8.9l1 .6v-10.6l1-3.4v19.8l1-5.8v-12.1l1-1.9v17.7l1-3.2v-11.2l1-.3v14.9l1-1.4v-16.9l1-4.1v28.5l1-5.9v-17.4l1 1.1v14.7l1-1.1v-15.4l1 1.2v20.2l1-5.8v-12.9l1 .1v9.2l1 3.5v-12.5l1-.8v12.3l1-.5v-11.2l1-3.2v14.2l1-1.5v-8.3l1 .9v9.1l1 2.1v-13.7l1-1.4v11.3l1 1.5v-12.5l1 3.3v9l1-1.8v-8.1l1-.1v8.2l1 0v-6.8l1-.6v6.7l1-1.6v-4.8l1-.4v6l1-.1v-5.8l1 .1v7l1-.4v-9.6l1-2.3v12.2l1 2.3v-14.7l1-1.1v16.8l1 .1v-15.8l1-2.3v14.9l1 5.7v-19.7l1-3v18l1 1.7v-15l1-5.6v19.1l1 1.5v-17.7l1 1.3v21.3l1-5.1v-19.1l1-2.6v27l1-2.9v-16.7l1-.4v21.2l1 2.7v-41.1l1 17.7v14.3l1 1.2v-21.2l1-1.8v20.9l1 3.9v-26.8l1 1.8v24.4l1 2.4v-20.5l1 .6v16.5l1 3.1v-19.5l1-2v19.5l1-5.4v-13l1-8.2v24.8l1-2.5v-15.2l1-2.4v22.1l1 0v-23.8l1 1.3v19.5l1-2.7v-11.7l1-5.8v21.5l1-2.6v-15.4l1-2.8v16.3l1-.9v-13.5l1 3v12.2l1-3.2v-10.5l1 .5v10.8l1-1.4v-6.7l1-.2v8l1 .6v-10.8l1 1.5v9.5l1 13.5v-37.8l1 13.2v12.6l1-1v-11.2l1 1.1v9.2l1 .8v-10.4l1-1.9v13.1l1-1.8v-9.4l1 .1v11.6l1-2.1v-9l1-2.4v14.2l1-1.4v-11.4l1-.3v10.2l1 1.5v-12.1l1 .6v9.8l1-.8v-7.7l1-.2v7.1l1 1.6v-8l1-.8v8.3l1 .8v-8.4l1-.7v8.8l1-.5v-6.1l1-2v8.3l1 1.7v-11.2l1 2.5v8.6l1 1.4v-9.5l1-1.4v9.8l1-.6v-8.5l1-3.7v15.2l1-3.3v-6.7l1-2.1v8l1 .4v-6.5l1-1.9v8.9l1 .9v-9.5l1 .2v9.5l1-1.8v-6.9l1-1.8v14.3l1-4.7v-7.1l1-1.2v8.7l1 .1v-7.5l1-1.8v7.6l1 2.6v-9.7l1-2v11.9l1-.4v-11.1l1 1.3v9.1l1 1.2v-12.5l1 .5v11l1 .3v-11.6l1 2.9v8.6l1-.2v-10.9l1 .3v10.6l1 1.3v-9.5l1-4.5v18.2l1-6.8v-6.3l1 .1v7.3l1-1.1v-5.4l1-.6v5.6l1-.4v-4l1-.6v5.5l1-.5v-4.4l1-.1v4.1l1-.3v-4.6l1 .5v3.2l1 .4v-3.6l1-.6v4.2l1 .2v-4.3l1-.4v5.1l1-.9v-4.2l1 .5v4l1-.3v-4l1 .2v3.8l1-.1v-3.9l1 .3v3.2l1 .4v-3.6l1-.3v3.8l1-.2v-3.4l1 .2v2.6l1-.2v-2.5l1-.4v3.1l1 1v-5.1l1 1.5v4l1-.7v-3.6l1-.6v4.2l1 0v-4.1l1 0v3.7l1-.2v-3.8l1 .2v4.4l1-.1v-4.4l1-.1v4.3l1-.6v-3.2l1-.3v4.5l1 0v-4.3l1 .9v3.3l1-.5v-3.1l1 .1v2.6l1-.1v-2.5l1-.1v3.1l1 .2v-3.2l1 .5v3.2l1-.8v-3.7l1 .7v3.8l1 .7v-4.8l1-.3v3.8l1 1.4v-5l1 .5v3.9l1 .4v-4.7l1 .7v3.6l1-.6v-4l1 1v3.7l1 .4v-3.9l1-.8v4l1 .3v-3.8l1-.6v5.1l1-1.1v-4.6l1 .8v5l1-.7v-5.3l1 1v3.7l1-.5v-2.8l1-.6v3.2l1 .3v-3.1l1-.2v3.7l1-.9v-2.7l1 .1v2.9l1 0v-3.2l1 .3v3.6l1 .2v-3.9l1-.6v4.2l1 .6v-4.8l1-.4v5l1 .3v-5.3l1-.2v5.1l1 .3v-4.3l1-.4v4.9l1-.9v-3.6l1-.8v5.5l1-.2v-4.2l1-.3v3.9l1-.3v-3.3l1-.5v4.9l1-.4v-4.5l1 .3v3.6l1 .7v-4.1l1-.7v6l1-.9v-4.5l1-.5v5.4l1-.7v-5l1-1.6v6.5l1 14.3v-38l1 16.9v9.4l1 2v-10.6l1-1.1v11.3l1-1.9v-12.2l1 3.9v8.3l1-.3v-6.1l1 .2v5.3l1-1.4v-3.9l1-.3v3.7l1 .9v-5.2l1 .5v4.5l1-.6v-3.5l1-.3v4.5l1-.1v-4.2l1 .6v3.4l1-.1v-3l1-.7v3.6l1 .7v-3.1l1-.9v3.9l1 .2v-3.6l1-.5v4.1l1 .3v-4.2l1-.6v4.2l1 .6v-4.2l1-.2v5.3l1-.4v-4.7l1 .3v5.3l1-.9v-4.4l1 .9v4.1l1 .1v-3.9l1-.1v4.3l1-.9v-3.2l1-.1v3.3l1 .8v-4.1l1-.4v4.7l1 .1v-5.5l1 1v5.2l1-.6v-4.4l1 .1v4.1l1 .9v-4.8l1-.5v4.6l1 .1v-4.3l1-.2v3.7l1-.7v-3l1-.7v3.6l1 .3v-3.7l1 .3v3.2l1 .5v-4l1 .3v3.5l1 .5v-4.1l1 .2v3.9l1-.1v-4.1l1 1.1v3.1l1-.1v-3.1l1 .3v3.2l1 .1v-3.4l1-.2v4l1-.5v-3.9l1 0v4.7l1 .3v-4.4l1-.6v5.4l1-.8v-5.2l1 1v3.6l1 1.4v-5.7l1 .3v4.8l1 .3v-4.7l1-.7v4.2l1 .4v-3.7l1-.1v3.2l1 .7v-4.4l1 .3v3.8l1 .3v-3.5l1-.4v3.5l1-.4v-4l1 .2v3.9l1 .4v-3.9l1-.4v4l1 0v-3.9l1-.3v4.6l1-1v-3.8l1 .1v3.6l1-.8v-3l1-.5v4.6l1-1.3v-3.5l1-.1v3.3l1 .1v-3.5l1 .4v3.1l1-.6v-2.8l1-.7v5.2l1-.2v-5.6l1-.1v4.2l1 .4v-4.3l1 .5v4.4l1-.6v-3.9l1-.6v4l1 .4v-4.3l1-.1v4.3l1 0v-3.8l1 .2v3.7l1-.6v-3l1 0v3.1l1-.2v-3.1l1 .2v2.9l1 .2v-3.8l1 .1v3.8l1 .1v-4.6l1 1v3.6l1 .2v-4l1-.1v4.3l1 .6v-5.4l1 .3v5.5l1-1.8v-3.8l1-.7v5.8l1-1.1v-3.2l1-.1v3.4l1-.1v-2.9l1 .2v2.5l1 .2v-2.9l1-.1v3.2l1 .4v-3.7l1 .1v4.1l1 .1v-4.6l1-.3v3.9l1 2v-5.6l1 .1v3.8l1 .3v-4.5l1-.2v5l1-.4v-4.5l1-.7v4.4l1 .4v-4.9l1-.2v4.1l1 2.2v-5.6l1 0v3.9l1 .6v-5.3l1 .9v3.6l1 1v-4l1 .2v3.9l1-1.3v-3.5l1 .1v3.6l1 .7v-3.7l1 .2v3l1 .3v-2.8l1-.5v4.2l1-.5v-4.5l1-.3v5.6l1-1.2v-4l1 .3v4.2l1 .3v-4.3l1-.6v4.1l1 .1v-3.9l1-.1v4.1l1-.7v-3.9l1-.7v6.1l1-1.1v-4.3l1 .1v3.4l1 .2v-2.7l1-.8v3.9l1-.3v-3.7l1 0v3.8l1-1v-3.2l1 .2v3l1 .4v-3.5l1 .1v3.3l1 1v-3.6l1 .4v3.2l1-.9v-3.1l1 .8v3l1 .6v-3.7l1 .3v3.8l1-.4v-3.7l1 .2v3.3l1 .5v-3.8l1-.2v3.9l1 .9v-4.2l1-.1v4.9l1-.8v-4.9l1-1v5.8l1 .3v-5.6l1-.6v5.1l1 1.9v-6.6l1-.1v4.5l1 .9v-5.3l1 1v4.1l1-.7v-3.5l1 .2v3.9l1-.1v-4.1l1-.4v4.1l1-.6v-3.1l1-.1v3.4l1 .3v-3.6l1 .5v3.1l1 .7v-3.9l1-.5v3l1 .2v-3.3l1 .1v2.8l1 .9v-3.5l1-1.3v3.7l1 1.5v-5.1l1 .7v4.3l1 .1v-4.3l1 0v4.2l1-.6v-4.2l1 .6v4.3l1-1v-4l1-.3v4.8l1 1.1v-6.1l1 .3v4.5l1-.6v-3.8l1 .1v4.1l1 .3v-4l1 .5v3l1 .1v-3.8l1 .5v3.1l1 1.5v-5.2l1 0v3.9l1 .1v-3.9l1-1.1v4.3l1 .5v-4.1l1-.4v4.1l1 .6v-3.9l1 .7v3.6l1-.1v-3.2l1-.6v4l1 0v-4l1 .6v4.1l1-.3v-3l1-.5v2.6l1 .5v-3.2l1-.2v3.5l1 .1v-3.2l1 .2v2.5l1 .5v-3.2l1-.4v3.1l1 .3v-3.7l1-.9v5.6l1 0v-4.3l1-.7v5.5l1-.5v-5.1l1-.1v3.5l1 .2v-4.7l1 1.5v4.4l1-1.5v-3.7l1-.4v5.4l1-.7v-3.6l1 .8v3.1l1 .1v-3.8l1-.7v4l1 .3v-4l1 0v3.9l1-.2v-3.3l1-1v4.5l1-.2v-4.3l1 .3v4.1l1-1.1v-3.7l1 .8v3.2l1-.2v-3.6l1-.4v5.2l1-1.1v-3.5l1 0v3.1l1 .2v-2.8l1-.9v4.3l1-.2v-3.8l1 .2v4.7l1 .4v-4.9l1 .4v4.8l1 .4v-5.9l1-.1v5.4l1-.1v-4.3l1-.4v4.2l1-.4v-3.7l1-.3v5l1 1.3v-5.8l1 .4v4.5l1-.2v-4.7l1 0v3.7l1 .3v-4l1 .3v3.7l1 1.2v-4.4l1-.1v4l1 .3v-5l1 .2v4.3l1 .2v-4.4l1 0v4.7l1 .6v-5.4l1-.1v4.4l1-.4v-3.4l1 0v3.2l1 .4v-3.2l1-.3v3.4l1 .1v-3.6l1 .4v3.6l1-.6v-3.8l1 .6v3.5l1 6.3v-17.5l1 6.9v4.6l1 1.3v-7l1 .3v7l1-.8v-5.4l1-.6v7.3l1-.5v-7.8l1 .3v8.2l1 .5v-9.8l1 .7v7.7l1 2.3v-9.4l1-.8v8.1l1 .9v-10.6l1 0v11.7l1 .7v-14.2l1 3.2v9.5l1 3.7v-15l1 1.1v9.4l1 4.7v-16.4l1-3.1v19.3l1-4.8v-8.6l1-2.3v12.6l1-1.2v-8.6l1-.8v11.5l1-3.3v-10.7l1 .9v12.1l1-.1v-10l1-1.1v11.5l1-.8v-12.1l1 .8v11.3l1-1.8v-8.1l1-.7v10.5l1-2.5v-5.9l1-2.9v9.5l1 1.1v-7.6l1-.9v7.9l1-.7v-5.5l1-.9v5.6l1 0v-4.3l1 0v4.4l1-.5v-4.7l1 1.1v3.2l1 .7v-4.1l1 .2v3.7l1-.5v-3.4l1 1.2v3.2l1-.9v-3.1l1 .5v2.1l1 .7v-2.9l1 .2v2.4l1 .9v-4.1l1 .1v3.9l1-.4v-2.9l1 0v3.1l1 0v-4l1 .2v3.8l1-.7v-3.1l1-1v4.3l1 .4v-4.2l1-1v4.2l1 .6v-4.8l1-.2v4.6l1 .8v-4.5l1 .2v4.6l1-.6v-4.4l1-.2v4.4l1 0v-3.4l1 .2v2.9l1-.6v-2.9l1-.2v3.8l1-.2v-3.2l1-.7v4.3l1 .3v-4.1l1 .1v3.8l1 .4v-5.9l1 .8v3.6l1 1.3v-4.9l1 .4v4.4l1 .2v-5.3l1-.2v5.4l1-.9v-4.4l1 .2v5.3l1-.2v-5.8l1 .2v6.3l1-1.1v-4.3l1-.6v5.4l1-1.1v-3.5l1-1v4.7l1 .7v-3.9l1-1.4v5.3l1-.7v-3.8l1-.2v4.5l1 .2v-4.7l1-.1v4.7l1-.6v-4.4l1 .8v3.4l1 .6v-3.5l1-.2v2.9l1 .2v-3.6l1 .5v3.7l1 .2v-4.4l1-.4v5.3l1-.7v-4.1l1-.9v4l1 .5v-3.4l1-1v4l1 .6v-4.9l1 .8v4.7l1-.8v-3.9l1-.4v3.7l1 .8v-4.8l1 .5v4.1"/>
<path class="tr" stroke="#0000ff" d="M138.5,638.5v4.8l1-.3v-4.9l1-.1v4.1l1 0v-3l1-.2v2.5l1 .2v-2.5l1-.2v4l1-1.1v-3.7l1-.9v4.5l1 .5v-4.5l1-.5v5.6l1-.4v-5.1l1 .1v4.9l1-.3v-4.8l1 .4v4.4l1 .4v-5.1l1 .3v5.7l1-2v-4.8l1 .5v5.4l1 .4v-5.2l1-.1v5.1l1-.5v-4.7l1 .6v3.7l1 .1v-3.3l1 .3v3.2l1 .1v-3l1-1v3.4l1 .6v-3.4l1-.2v4.2l1-.3v-3.2l1-.2v3.3l1 .4v-4.1l1 .3v3.3l1 .3v-4.9l1 .2v4.7l1 .8v-6.1l1-5.3v12.8l1-1.4v-6.8l1 .4v7.9l1-.3v-8.6l1 1.6v7.1l1-.7v-8l1 2.4v6l1 .1v-6.4l1-1.5v6.6l1 .5v-6.1l1 0v5.7l1 1.6v-7.3l1-1.4v7.4l1 .8v-7.7l1-.5v8.5l1-.7v-6.3l1-4.5v18.7l1-.5v-21.5l1-.5v25.8l1-2.6v-20l1-2.5v17.4l1 1.8v-16.2l1-1v19.6l1-1.9v-21.3l1-1.6v19.4l1 1.3v-20.2l1-.4v25.5l1-.6v-21.8l1 .7v19.1l1 .7v-19.2l1-5.5v27.8l1-3.4v-25.7l1 3v22.4l1-2.4v-16.1l1 .1v17.3l1-3.7v-10.5l1 1.6v9.6l1 .7v-10.6l1-1.5v12.1l1-1.3v-10.4l1-2.6v14.4l1-.4v-11.5l1-8.3v35.8l1-16v-12.9l1 2.7v9.3l1 1.8v-11l1-1.4v12.8l1-.7v-11l1-1.9v12.8l1-2.2v-9.8l1 0v11.1l1-1.9v-6.8l1 1.5v5.3l1-1.3v-3.7l1 .2v4.7l1-1.4v-3.9l1-.1v4.3l1 .1v-5.2l1 .6v4.2l1-1v-4.8l1 1.6v4l1-.5v-3.4l1-1v4.8l1 .1v-4.8l1 .6v4.1l1 .9v-4.5l1-.3v5.1l1-1v-4l1 .5v3.3l1 .1v-3.1l1-.6v3.5l1 .3v-4l1 .7v3.7l1 .3v-3.9l1 .1v3.2l1 .4v-3.8l1-.7v3.7l1 1.1v-3.5l1-1v4.4l1-.7v-3.7l1 .6v3l1 .6v-4.2l1 .5v3l1 0v-3.5l1 .3v3.3l1-.3v-4.5l1 .7v4.3l1 .1v-4.1l1 0v4l1 0v-5.4l1 .8v4.2l1 .7v-4.9l1-.6v4.3l1 .5v-4.7l1 .9v4.1l1 .1v-3.5l1-.2v3.5l1-.5v-3.7l1 .5v3.3l1-.3v-3.4l1 .5v3l1 .1v-3.6l1 1v3.3l1 .5v-4.1l1-.3v3.9l1 .9v-4l1-.3v3.3l1 .4v-4.1l1 .1v4.1l1-.6v-3.5l1-.5v3.4l1 .4v-4.1l1-.7v4.9l1-.7v-3.5l1-.5v4.9l1-1v-3.5l1 .3v3.6l1-.7v-3.3l1 .1v3.3l1 0v-3.1l1-.4v3.8l1-.1v-3.2l1 0v3.9l1 0v-4.4l1-.2v4.9l1-.2v-3.8l1 .2v3.5l1 .7v-4.7l1 .4v3.4l1-.7v-4.5l1 2.2v4.2l1-.6v-4l1-1v5.3l1 .5v-4.7l1-1.2v4.7l1 0v-4.5l1 .3v4.9l1-.5v-3.9l1-.5v4l1 0v-3.4l1-.5v3.9l1 .6v-3.7l1-.1v3.8l1 1.3v-4.9l1-1.2v5.1l1-.2v-5l1 .2v4.6l1-.1v-3.6l1-.4v3.7l1 .1v-3.6l1-.4v4.3l1 .1v-4l1 .2v3.3l1-.2v-3.4l1 .4v3.1l1 .3v-3.7l1-.6v3.6l1 .4v-3.6l1-.9v3.7l1 .3v-4.5l1 .4v5.2l1-.6v-4.1l1-.4v4.9l1-.3v-4.7l1 .1v5.4l1 4.9v-15.8l1 5.4v5l1-.1v-5.3l1 .4v4.2l1 .3v-3.4l1-.8v5.2l1-1.3v-3.6l1 .4v4.2l1 .1v-4.6l1 .5v4.6l1-.8v-4.2l1-.7v5.1l1 .2v-5l1 .7v4l1 0v-4.1l1-.6v4.7l1 .1v-3.6l1-.1v4.2l1-.5v-3.7l1-.4v4.4l1-.2v-4l1 .1v4.9l1-.1v-4.5l1 .7v3.1l1 1v-4.1l1-1.1v4.1l1 1.1v-4.6l1 .6v3.2l1-.3v-3.9l1 0v3.7l1 0v-4l1-.6v4.6l1-.6v-4.7l1 .2v5l1 .1v-5.4l1-.4v4.6l1 .8v-4l1-.3v4.1l1 0v-4.6l1 .3v4.2l1 0v-4.3l1 .7v3.6l1 0v-3.6l1-.4v3.5l1 .3v-3.7l1 .6v3.3l1 0v-3.7l1 .3v3.1l1 .6v-3.4l1-.1v2.9l1 .5v-4.1l1 .6v3.2l1 .7v-4.4l1-.1v4.4l1 0v-3.9l1-.2v3.6l1 0v-3.7l1 .5v3.2l1-.1v-2.9l1-.2v2.9l1 .7v-3l1-.4v2.9l1 1.1v-3.7l1-.7v3.6l1-.1v-3.7l1-.2v4.9l1-.2v-3.4l1-.5v3.8l1-.8v-3.8l1 .8v3.5l1 0v-3.8l1 .3v3.1l1-.1v-4.2l1 .1v4.2l1-.5v-3.2l1-.8v4.1l1 0v-3.4l1-.5v3.4l1 .3v-3l1 0v3.3l1-.5v-3l1 .2v2.7l1 .5v-3.1l1 0v3.3l1 .1v-3.9l1 .2v3.7l1 .8v-4l1-.5v5l1-.8v-3.4l1-.7v4.1l1 .4v-4.2l1 .1v4.3l1-.1v-4.7l1 .3v4.3l1 0v-3.8l1 .3v4.5l1-1v-4.3l1 .9v3.9l1 0v-4.8l1 .3v3.6l1-.7v-3l1-.5v4.6l1 .2v-4.7l1 .8v3.7l1 .7v-4.7l1 0v4l1 0v-3.9l1-.6v4.2l1 .8v-4.9l1 0v5.2l1-.4v-6.4l1-.5v7.3l1 .7v-8.3l1 .9v8.1l1-.2v-9.6l1 .7v8.6l1-.3v-9.6l1-.7v9.7l1 1.8v-11.5l1 1.8v8.6l1 .6v-9.8l1 .9v8.6l1 1v-9.9l1-2.5v12.9l1-1.5v-12.9l1 4.7v7.6l1 3.4v-11.6l1-.3v10.2l1 10.7v-35.3l1 13.6v13.1l1-1v-11.7l1-1v9.4l1 1.1v-8.5l1-1.3v8.2l1 .9v-7.8l1-.2v7.8l1 1.3v-7.8l1-1.2v8.4l1-1.2v-6l1-.6v8.2l1-1.2v-7.5l1 2.2v4.8l1-1.4v-3.2l1-.2v3.4l1 .5v-2.8l1-.9v3.6l1 .2v-3.5l1-.6v4.5l1 .9v-5.5l1-.1v4.9l1-.2v-3.9l1 .3v3.6l1 .2v-3.6l1-1.4v5.1l1 .5v-5.4l1 .7v4.1l1-.3v-3.3l1-.3v4.1l1-.7v-3.3l1 .5v2.5l1 .2v-3.6l1-.1v4.1l1 .1v-4.1l1-.6v4.3l1 .2v-4l1 .5v4.6l1-.7v-4.5l1 .3v4l1 .5v-4.5l1-.5v3.8l1 .9v-4.9l1-.5v4.5l1-.2v-3.5l1-.2v3.3l1 .3v-3.5l1-.1v3.4l1 .3v-4.3l1-.8v4.8l1 .1v-4.7l1-.2v4.2l1 .3v-3.6l1 .3v3.4l1-.3v-3.2l1 .3v3.5l1 .1v-3.3l1-.2v3.7l1 .2v-3.6l1-.4v3.5l1 1.2v-4.1l1-.1v4.4l1-.2v-4.3l1 .5v3.1l1 .5v-3.7l1-.3v3.9l1 .3v-4.8l1-.5v4l1 .8v-4.4l1 0v4.9l1-1v-2.9l1-.4v3.1l1 .4v-2.8l1-.6v3.8l1-.4v-3.3l1-.4v3.5l1 .4v-3.7l1-.3v3.3l1 .8v-3.4l1-1v3.5l1 .5v-3.2l1-.2v3.4l1 0v-3.8l1 0v3.5l1 .5v-4.1l1 .5v3.9l1-.3v-3.5l1-.8v3.9l1 .1v-4l1 .2v4.6l1-.4v-4l1 .5v4.3l1 0v-4l1-.1v3.7l1 1.4v-5.8l1 .4v4.7l1-.1v-5.4l1 1v4l1-.3v-4.7l1 .5v3.9l1 .1v-4.6l1 .9v4.2l1-.8v-4l1 .1v4.6l1-.8v-4.2l1 .2v4.5l1-.1v-4.9l1 .6v5.7l1-1.9v-2.9l1-.7v3.7l1 .4v-3.7l1-1.4v4.6l1 .5v-3.6l1-.2v3.4l1 .1v-3.8l1 .5v3.6l1 .3v-3.7l1-.6v3.7l1 1.1v-4.7l1 .1v4.9l1-.9v-3l1-.9v3.8l1 0v-4.7l1 1.2v3.6l1-.7v-2.6l1-.5v3.2l1 .9v-3.7l1 0v4.4l1-1.3v-2.5l1-.1v3.2l1-.6v-3.1l1 .4v3.1l1 .3v-3.8l1 .5v3.4l1-.3v-2.7l1-.1v3.2l1 .4v-4.3l1 .5v3.9l1-.4v-4l1 .2v4l1-.1v-4.3l1 0v4.7l1-.6v-3.5l1 .3v3.7l1-.3v-3.7l1-.1v4l1-.2v-3.3l1 .2v3.2l1 .1v-3.3l1 0v3.5l1 .4v-4.6l1 .3v3.3l1 .4v-3.4l1 .2v3.4l1 .1v-3.5l1-.1v3.5l1-.1v-2.7l1-.4v3.9l1-.5v-2.9l1-.1v2.9l1 .3v-3.2l1-.1v3.3l1-.1v-3.1l1-.6v4l1-.6v-3.7l1 .7v2.6l1-.4v-2.8l1-.3v3.4l1 .1v-3.9l1 .3v3l1 .7v-4.1l1 .4v4.1l1-.2v-4.9l1 .5v4.6l1-.7v-3l1-.5v3.5l1-.7v-2.7l1 .4v2.6l1 1v-3.8l1-.8v4.5l1-.3v-4.3l1 1.2v4.4l1-.1v-4l1 0v3.6l1 .4v-4l1 0v3.5l1-.6v-3.4l1 0v4l1-.3v-4.1l1 .8v3.8l1 .3v-4.6l1 .1v5l1-1v-4.3l1 1.1v3l1 .5v-4.5l1 .8v3.6l1 .2v-3.6l1-.4v4.1l1 .1v-3.3l1-.6v3.8l1-.6v-3.9l1 .8v3.4l1 .2v-4l1 .3v3.1l1-.3v-3l1-.1v3.1l1-.7v-3l1-.4v4.2l1 0v-3.9l1 .2v3.8l1-.8v-4.5l1-.1v4.7l1-.7v-3.3l1-1.3v5.2l1 .1v-5.7l1-.3v4.8l1 .1v-4l1-1.1v5l1-.6v-3.9l1-.4v3.3l1-.1v-3.4l1 .4v4.6l1-1.1v-3.1l1-.8v3.4l1 .6v-3.1l1 0v2.5l1 .1v-2.9l1-.3v2.8l1 .5v-3.1l1 .6v3.6l1-.7v-3.8l1 1v3.3l1 1.1v-4.6l1-.1v3.5l1 .8v-3.5l1-.5v3.9l1 228.4v-563l1 93.1v470l1-169.9v-155l1 15.1v125l1-11.8v-83l1 14.1v60l1-7.1v-43l1 8.8v29l1-3.1v-20l1 3.1v15l1-4.8v-4.1l1-.9v5.7l1-.6v-5.9l1 1.6v4.8l1 .8v-5.7l1-.7v6.1l1-.4v-6.1l1-.2v5.9l1 .9v-5.2l1-1.6v6l1 .2v-5.9l1-.3v5.9l1-.5v-4.9l1-1.5v7.8l1 .4v-7.2l1 1v6.6l1 2.6v-15l1 4.4v5.8l1 .5v-6.3l1 .6v5l1 1.6v-5.9l1 0v5.7l1 .2v-5.2l1-1.7v5.6l1 1v-4.7l1-.3v4.4l1 0v-4.9l1 .2v4.9l1 .2v-5l1 .7v3.9l1 .1v-4.9l1-.6v5l1-.7v-4.4l1 1v5l1-1.3v-5.1l1 .3v4.6l1 1.6v-5.7l1 0v3.9l1 .8v-5.5l1 .6v4.9l1-.3v-4.5l1-.6v5l1-.6v-4.6l1 .6v4.1l1-.2v-4.4l1 .7v4.7l1 .6v-4.7l1-.8v4.9l1 .4v-5.1l1 0v4.1l1 .1v-3.8l1 .7v4l1-.6v-3.6l1 .1v4l1 0v-3.5l1-.5v3.6l1 .4v-4.2l1 0v3.9l1 0v-3.9l1-.3v4.9l1-.1v-4.9l1 1.1v3.7l1-.1v-3.8l1 .1v4.2l1 .7v-5.7l1 .7v4.4l1-.2v-4.9l1 .2v4.6l1 0v-4.4l1 .4v3.4l1 1v-5.3l1 .8v3.4l1 1v-4.6l1 .1v3.3l1-.2v-3.6l1 .6v3.8l1 .6v-4.9l1 .6v3.6l1-.6v-3.4l1-.1v3.5l1 0v-3.4l1-.5v3.8l1 .7v-4.7l1 .3v3.6l1 .4v-4l1-.6v3.8l1 .9v-4.1l1 .2v4.2l1-1.3v-3.6l1 .5v4.1l1-.8v-3.9l1 0v3.7l1 .2v-4l1 .3v4l1-.6v-2.9l1-.2v3.5l1 .6v-4.4l1-.2v4.5l1-.3v-4.3l1 .7v3.2l1 .9v-4.5l1 .7v4.3l1-.8v-4.1l1 .2v3.5l1 3.8v-11.8l1 5.5v3.2l1-.7v-4.1l1 1.4v3.4l1 .8v-4.1l1-.8v4l1 .9v-4.3l1 0v4.3l1-.1v-4.6l1 .1v4.4l1 .2v-5l1 0v4.8l1-.5v-3.8l1-1.1v4.4l1 1.3v-5.3l1 .6v4l1 .8v-5.1l1-.3v5.3l1-.5v-4.4l1-.8v3.9l1 0v-3l1 .3v3.7l1-.6v-3.7l1-.3v4.1l1-.2v-3.4l1 .2v3.6l1-.1v-3.1l1-.7v4.7l1 .2v-5.2l1 .9v4.1l1-.1v-4.5l1-.3v4.6l1-.1v-4.2l1-.7v4.8l1-.1v-4.3l1-.7v5.4l1-.5v-3.6l1-1.1v5.5l1-1v-5l1 1v5.3l1-1.5v-4.5l1 .4v3.8l1 .4v-4.1l1-.1v4.4l1-1.1v-4.5l1 1.3v4.3l1-.7v-4.5l1 .5v4l1 .1v-4.9l1 .3v4.5l1 .1v-5.3l1 .8v4.6l1-.1v-4.2l1-.3v3.8l1 .3v-3.3l1-.1v3.9l1 .6v-5.3l1 .6v3.5l1 1.4v-4.9l1-.3v4.4l1 1.4v-5.5l1 0v4.5l1 0v-3.9l1 .4v3.7l1-.7v-3.3l1 0v4l1-.2v-3.5l1-.3v3.3l1-.2v-3.1l1 0v2.7l1 .4v-3.5l1 .6v2.8l1 .5v-3.9l1 .2v3.1l1-.1v-3l1-.8v3.7l1 .9v-4.3l1-.1v4.1l1 .5v-3.8l1-1.4v4l1 .3v-4.8l1-.2v4.7l1 .8v-5.1l1 .1v3.6l1 1v-4.6l1 .5v5.3l1-1.6v-3.6l1-1.2v5.9l1-2.3v-3.7l1-.7v3.9l1 .7v-4.2l1-.3v5.3l1-.8v-4l1-.6v4.6l1 .2v-3.7l1-.2v3.5l1 .2v-3.7l1-.1v3.8l1 .1v-4l1-.1v4.4l1 .1v-4.2l1-.5v3.7l1 0v-3.6l1-.2v4.6l1-.4v-4l1 .4v3.4l1 1v-5.3l1 0v5.3l1-.7v-4.1l1-.2v4.7l1-.5v-3.6l1-1v4.3l1 .8v-4.2l1-.7v3.9l1-.2v-3.7l1 .5v4.1l1-.6v-5.2l1 .5v4.9l1-.6v-4l1-.4v4.2l1-.4v-3.5l1 .4v3.6l1 0v-4.2l1 .8v3.3l1 .1v-3.3l1-1.3v5.3l1 .3v-5.6l1 0v5.6l1-.3v-6.1l1 .1v7.2l1-1.4v-5.4l1-.9v6l1 1.4v-6.9l1-1.1v7.3l1 .5v-6.8l1-.5v7l1 1.8v-9.4l1 .1v8.3l1-.6v-8.7l1-.7v10.7l1 1.3v-9.7l1-1.5v10.6l1 .3v-9.5l1-2.4v10.5l1 1.1v-13.8l1 4.1v11.3l1-.9v-12.2l1 2.8v9.6l1-.9v-9.7l1-1v12l1-.2v-9.9l1-6.9v16l1-2.5v-6.9l1 .2v7.3l1-.3v-5.6l1 .7v4.8l1 .5v-3.4l1 1.3v2.8l1 1.5v-3.6l1 .7v3.5l1 .3v-4l1 .3v4.2l1-.1v-3.5l1-.2v4.1l1 .9v-4.9l1 0v4.3l1-.6v-3.9l1 1.2v3.6l1-.5v-4.2l1 .8v4.3l1-1.1v-3.4l1 .2v3.5l1 .4v-3.9l1 .2v3.8l1 .3v-4.4l1 .3v4.2l1-.5v-4l1-.4v4.4l1 .1v-3.7l1-.1v3.6l1 .3v-5.1l1 1.5v3l1 .1v-3.5l1 .6v3.6l1-1v-3.1l1 .7v2.9l1 .3v-3.9l1 .3v3.9l1-.5v-3.6l1 .4v3.9l1-.6v-3.3l1-.2v4.2l1-1v-3.7l1 .6v3.8l1-.9v-3.9l1 .1v4"/>
<path class="tr" stroke="#008000" d="M138.5,669v6l1-.3v-4.7l1-.6v7.1l1-1.3v-4.9l1-1.8v7.5l1-.5v-5.5l1-.3v5l1 1.1v-4.6l1-1.3v4.9l1-.5v-3.1l1-.6v4.6l1 .4v-5.3l1 1.1v3.8l1 .6v-4.9l1-1v5.8l1-.8v-4.6l1 .2v3.8l1 .1v-3.6l1-.7v4.4l1 .2v-4l1 0v4.3l1 .3v-4.6l1-.1v3.6l1 1.9v-5.2l1-.6v5.7l1-1.1v-5.4l1 .5v5.7l1 .2v-6l1 .5v4.1l1-.3v-3.9l1 .7v3.7l1 .9v-5l1-.4v4.4l1-.7v-3.7l1 0v4.5l1-.9v-3.8l1 .6v4.1l1-.6v-4.7l1 .1v5.6l1-.7v-4.2l1-.4v3.5l1 .3v-4.6l1 .7v3.3l1 1.2v-4.9l1-.9v5.6l1 .4v-5.3l1-1.2v6.7l1-1v-5.2l1-.4v6.8l1 0v-6l1 .5v5.7l1-.3v-6.2l1-.1v4.9l1 .5v-5.7l1 .2v4.8l1 0v-4.8l1 .6v3.6l1 .5v-5.2l1-.2v4.9l1 1.1v-5.2l1 .6v3.5l1 .2v-4.3l1-.3v4.5l1 .4v-4.5l1-.2v3.9l1-.2v-3.4l1-.9v4.4l1 1.7v-5.9l1-.8v6.6l1 3.2v-12.7l1 1.4v11.3l1 .4v-15l1-.1v17.1l1-2.6v-13.1l1-12.5v37.4l1-12.9v-12.7l1 .4v12.8l1-1v-12.1l1 2.7v10.2l1 2.2v-13.5l1 .4v10.4l1-.4v-8.4l1-1.1v9.4l1-.7v-6.8l1-2.6v10.5l1 .2v-10.9l1 0v10l1 6.6v-15.7l1-5v21.8l1-.7v-24.8l1 3.5v15.1l1 3.2v-13.5l1-5.6v22.3l1 2.4v-31.3l1 4.9v22.3l1-1.2v-16.7l1-3.3v17.3l1 7.4v-28.3l1 2.2v21.1l1 4.6v-20.9l1-4.7v26.1l1-3.2v-17l1 .4v14.2l1-3.5v-9.8l1-.7v14.6l1-.1v-13.8l1 2v11.5l1-.5v-11.9l1-2.1v14.9l1-3.5v-9l1-1.9v10.5l1 .1v-9l1 .5v8.1l1-1.1v-6.8l1-1.6v8.4l1 .9v-9.2l1 1.1v7.6l1-1.1v-6l1-.1v6.2l1-.2v-5.6l1-4.6v12.8l1-2.8v-5.1l1-.7v5.9l1 1.1v-7.2l1-1v8.7l1 1v-10.2l1 0v10.3l1-1.2v-6.9l1-1v8.7l1-.5v-8l1 .5v6.9l1 .2v-6.7l1 .6v6.3l1-.5v-8.1l1 .3v8.4l1 2.4v-9.4l1-.7v10.3l1-1.4v-8.3l1 .1v7.2l1-.1v-6.9l1 .3v5.7l1 1.4v-6.4l1-2.4v9.3l1 1.4v-9l1-.8v7.8l1 1.9v-9.6l1-.3v8.9l1 .4v-8.6l1-2.1v10.5l1-1.1v-7l1 .6v6.5l1 1.8v-12.8l1 4.1v7.7l1-2v-6.8l1 .4v7.8l1-.3v-6.9l1-.9v7.4l1 .4v-6.9l1-.2v6.7l1 1.1v-7.5l1-1.8v7.3l1 .8v-8l1 0v11.7l1-.5v-13.8l1 3.1v8.7l1 .1v-9l1-.1v7.4l1 .8v-8.4l1 1.1v7.5l1-.4v-7.4l1 .8v8.4l1-3.2v-6.4l1 .6v7l1-.9v-6.5l1 .9v5.9l1-1.3v-5.5l1 .4v5.3l1 .5v-6.4l1 0v6.8l1 2.6v-16.8l1 8.1v5.7l1 .2v-6.6l1 .5v6.6l1-1.1v-6.3l1-.1v7.8l1-.8v-8.1l1 1.4v6l1-.1v-6.2l1-.3v6.8l1 4.6v-15.8l1 3.9v8.7l1-1.2v-7.6l1 1.4v7.6l1 .1v-7l1-.4v7.7l1-1v-6.1l1-.1v6.3l1-.8v-5l1-.1v4.3l1 .8v-5.2l1 0v6.7l1-.7v-5.6l1 .1v5.7l1 0v-5.9l1 .9v5.1l1-.7v-5.2l1 .7v5.3l1-.1v-5.6l1 1.2v5.1l1-.8v-4.9l1 .5v4.8l1-.4v-4.3l1-.7v5.4l1-.5v-4.6l1-.3v5.3l1-.4v-4.8l1 .3v5.6l1-.5v-4.5l1-.2v4.8l1 .3v-5.7l1 .7v5l1-.8v-4.5l1 .7v5l1-.2v-5.1l1 .6v4.1l1-.4v-4.1l1 .3v3.8l1 1.4v-5.8l1-.4v5.8l1-.1v-5.9l1 0v5.5l1-.3v-6l1 .6v4.9l1-.5v-4.6l1-.6v5.9l1-.2v-4.6l1-1.5v5l1 2.3v-6.8l1 .7v4.4l1 .3v-6.1l1 .2v5.9l1-.4v-3.8l1-.7v4.2l1 .3v-4.4l1 .3v3.8l1-.3v-3.5l1 .6v4.4l1-.2v-5.1l1 .4v3.6l1 .3v-4l1 .1v4.7l1-.4v-4.9l1 1.4v4.2l1-.4v-5l1 .5v4.5l1-.6v-3.5l1-.2v3.8l1 .2v-4.5l1 .4v4.8l1-.9v-4.4l1 .2v5.1l1 .2v-5.2l1 0v5l1-.2v-4.5l1-1.3v6.3l1 .3v-6.1l1-.5v5.5l1-.3v-5.2l1 1v4.1l1 .6v-5.6l1 .8v5.2l1-1.2v-4.8l1 0v5.4l1 .1v-4.8l1 .1v4.6l1-.5v-3.6l1-.3v4.9l1-.9v-4.4l1 1.3v3.1l1 .5v-4.3l1-.5v3.8l1 1.2v-4.2l1 .3v3.6l1 .4v-5.1l1 .5v5.3l1-.9v-5l1 .8v4.8l1-1v-4.3l1-.3v4.5l1-.2v-4.1l1 .7v4.3l1-.2v-4.6l1 .7v4.4l1-.7v-4.3l1 .5v4.2l1-.1v-4.8l1 .3v4.5l1-.8v-4.3l1 1.1v4.8l1-.7v-3.7l1-7.3v14.3l1-2.6v-5l1 .5v3.8l1 .3v-5.1l1 .2v5.3l1 .6v-6.2l1 0v5.8l1 1.2v-6.9l1 .4v4.6l1 .7v-4.8l1-.4v5.3l1-.4v-5.4l1 .1v4.5l1 .3v-4.8l1 .1v5.3l1 0v-6.2l1 1.4v5.1l1-1.9v-4.5l1 .6v4.3l1 .1v-4.6l1-2.1v7l1 .3v-6.4l1 .9v5.1l1-.9v-3.6l1-.4v4.6l1-.4v-3.1l1-.1v4l1-.4v-4l1-.1v3.4l1 .4v-3.7l1-.7v4.5l1 .5v-5.1l1 .2v4.5l1-.1v-3.7l1-.6v3.8l1-.6v-3.7l1 .8v4.3l1-.3v-4.6l1-.4v4l1 1v-4.8l1 .5v4.2l1-.1v-4.4l1 0v5l1-.3v-4.2l1-.4v4.9l1-.1v-5.2l1-.4v6.7l1-.6v-6.4l1-2v9.3l1 .7v-8.6l1-1.3v8.8l1 2v-10.5l1-1v11.2l1 3.1v-17.8l1 3.3v12.5l1 2v-15.8l1 3.2v11.2l1-2.9v-11.5l1 2.8v9.9l1 1v-10.4l1-7.8v22.3l1-5.4v-11.9l1 4.1v6.9l1 2.2v-11.2l1 1.3v7.5l1 .5v-9.3l1 1.7v10l1-.5v-13l1 .1v12.9l1 3.7v-17.4l1 3.7v11.8l1-3.1v-9.8l1-5.9v21.6l1-3.7v-11.1l1 1.4v8.8l1-1.1v-7.6l1 .3v6l1 .2v-4.8l1-.1v5.1l1-.3v-6.8l1 1v5.2l1-.1v-5.8l1 1.8v4.9l1-.4v-5l1 .2v4.5l1-.9v-4.2l1-.5v6.4l1-1.4v-4.4l1 .3v4.4l1-.1v-4.6l1 .7v3.2l1 .3v-5.1l1-.2v6.7l1-.9v-5.7l1 .6v5.9l1 .2v-6.8l1 1.6v5.3l1 .1v-7.2l1 .8v6.9l1-.4v-6.9l1 .9v6.4l1-.3v-7.2l1 1.5v4.5l1 .8v-5.4l1-.4v5.4l1 .1v-4.8l1 0v3.9l1 .4v-4.7l1 .1v3.9l1 1.6v-5.5l1-.7v4.5l1 .5v-5.1l1 .4v6.4l1-.8v-6l1-.8v7.7l1-1.1v-6.2l1 .7v5.9l1 .5v-6.4l1 .3v5.4l1 0v-5.9l1 .3v5.6l1-.6v-6.2l1 1.5v4.5l1 .6v-4.7l1 .3v3.1l1 .3v-4.6l1 .3v3.8l1 .9v-4.8l1-.4v3.6l1 1.1v-3.9l1-.8v4.4l1 .1v-4.6l1-.1v3.8l1 1.4v-5.4l1 .1v5.6l1 .4v-6.2l1 .5v4.6l1-.8v-3.3l1-.8v3.6l1-.1v-3.9l1 1.1v3.9l1-1v-3.3l1-.2v4.6l1 .1v-5l1-.4v4.8l1 0v-4.1l1 .6v4.6l1 .4v-5l1-.1v4.2l1 .6v-4.3l1-1.6v5.6l1-.2v-4.9l1 .2v4.9l1 .1v-5.9l1-.4v6.9l1-.5v-5.5l1-1.4v7.9l1-.7v-5.7l1-.2v6.4l1 .3v-8l1 .3v7.8l1 .7v-6.9l1-1.3v8.4l1-1.8v-6.1l1 .4v6.2l1 1.5v-7.9l1-1.5v8.5l1 .5v-7.8l1 .5v8.6l1-2.3v-8.1l1 1.4v8.1l1-.2v-9.2l1 .6v8.1l1 .6v-6.7l1-1.3v7.4l1 1v-10.8l1 2.3v7l1-.6v-8.3l1 1.1v8.1l1 1.3v-8.7l1-.4v7.8l1 2.1v-9.3l1-.3v7.1l1 .3v-6.9l1 .1v7.5l1 .2v-6.5l1-.4v6.7l1-1.8v-5.4l1 .9v3.8l1 0v-3.6l1-.3v3.5l1-.4v-2.8l1-.4v3.6l1 .5v-4.3l1 .2v4.2l1 .1v-5.2l1 .3v4.2l1 .1v-3.7l1-.8v6.5l1-1.7v-4.6l1 .5v4.6l1 .3v-4.1l1-1.2v5.6l1-1.1v-4.7l1 .5v3.9l1 0v-3.1l1-.9v4.5l1 .5v-4.3l1-.2v4.5l1-.7v-4.9l1 .4v4.4l1 .6v-5.1l1-.3v5.4l1 .2v-4.2l1-.1v5.1l1-.7v-6l1 .4v4.6l1 .7v-5.2l1 .1v5.6l1-.1v-5.6l1-.9v7.1l1 .2v-5.5l1-.3v5.9l1-1.2v-5.3l1 .7v5.2l1-.5v-5.6l1-.7v5.3l1 .8v-5.1l1-.6v6.5l1 .3v-5.9l1 .5v4.1l1-.7v-4.4l1 .9v4.5l1-1.1v-4.3l1-.5v4.6l1 .9v-4.8l1-.1v5.4l1-.2v-4.3l1-.7v4.8l1 1.6v-5.5l1-1.2v5.2l1 .3v-5.3l1 .8v5.5l1-.6v-4l1-1.4v5.2l1 .3v-5.7l1 .7v5.2l1-.6v-5.2l1 .4v5.8l1-.2v-5.4l1-.6v5.4l1 .9v-5.8l1 .8v5.6l1-1.2v-5.9l1 .3v5.3l1 .2v-4.6l1 .4v4.2l1-.1v-4.9l1 .2v4.5l1-.6v-4.5l1 .1v5.5l1-.9v-4.9l1 .9v5.9l1-1.3v-5.2l1-.6v6.2l1-.5v-6.1l1 1.8v5.8l1-1.6v-4.6l1-1v5.9l1 .2v-4.8l1-.5v5.7l1-.4v-5.6l1-.1v4.6l1-.1v-3.9l1 .5v4.4l1-.3v-4.6l1-.2v5.1l1 .6v-5l1-1.1v5.6l1-1.5v-4l1 .2v3.8l1-.4v-3l1-.5v4.2l1-.2v-3.4l1-.4v3l1-.1v-3.9l1 1v3.1l1 .9v-5.4l1 .3v3.9l1 .9v-4.7l1 .7v5l1-.9v-4.2l1 0v5.3l1-1.6v-4.5l1-.5v6.1l1 .6v-4.7l1-.9v5.4l1 .3v-4.7l1-1v6.5l1 0v-6.4l1-19.8v44.2l1-17.8v-6.9l1-2.1v10.9l1 4.2v-16l1-.8v17.4l1-3v-16.3l1 2.9v18.2l1-4.9v-15.9l1-11v32l1-5.1v-18.4l1-.6v24l1-2.7v-21.3l1 4.1v14.2l1 7.1v-24.6l1-6.4v31.3l1-3v-21l1 1.3v20.6l1-2.5v-17.9l1 2.1v17.5l1-1.4v-19.4l1-2.3v24.8l1-.2v-25.9l1 0v20.7l1 1.5v-26.5l1 10v15.3l1 2.3v-19.4l1-.3v18.6l1-2.4v-15.7l1 2.4v14.9l1-4.7v-14l1 3.3v14.4l1-2.8v-10.5l1-1.8v14l1-2.9v-10.3l1-1v12.5l1 .3v-10.1l1-3.3v14.7l1 9.8v-38.3l1 18.5v6.6l1 .1v-7.3l1 1.6v5.3l1 .4v-6.2l1-.1v5.3l1 .3v-4.9l1 .2v4.5l1 .4v-5.2l1 .7v5.9l1-1.5v-6.4l1 1.1v5.6l1-.9v-5.8l1 .7v4.9l1 .2v-5.5l1-.6v5.6l1 .3v-5.8l1-.2v6.4l1 .2v-5.5l1-.4v5.8l1-.2v-5.5l1-.1v4.6l1 .1v-4.1l1-.9v5.1l1 1v-5.2l1 0v4.6l1 1v-5l1 .1v5.5l1-.4v-5.7l1-.1v4.6l1 1.5v-6.2l1 1v5.4l1-1v-4.7l1 .5v5.3l1-.8v-5.6l1 1v4.3l1 .7v-5.1l1-.4v5.5l1-1.3v-4.4l1 .2v5.2l1-.7v-3.9l1 .6v3.2l1 .3v-3.5l1-1v4l1 1v-4.9l1 .1v4.9l1 1v-6.5l1 1.3v6.2l1-.2v-7l1-.7v5.8l1 1.2v-6.7l1-.4v5.7l1 0v-4.7l1-.2v4.5l1 1v-5.6l1 .2v5.9l1-.6v-4.9l1-.5v5.2l1 .5v-5.3l1-1.2v5.7l1 .2v-5.2l1-.7v5.1l1 1.3v-6.4l1-1.2v6.9l1-.2v-5.4l1-.3v5.8l1-1.2v-3.9l1 .8v3.3l1 .4v-4.2l1 .7v4.1l1-.1v-4.3l1-.3v5.6l1-.3v-7.4l1-6v16.8l1-4.1v-5.5l1 1.6v5l1-.6v-6.1l1 1.5v4.7l1-.4v-5.3l1 .8v4.9l1-.3v-5.3l1 .1v4.8l1-.5v-3.9l1 .8v3.4l1-.1v-3.5l1-.3v3.8l1 .1v-4.5l1-.9v5.4l1 1.4v-6.3l1 .4v5.7l1-.4v-4.7l1-.8v6.1l1 1.2v-6.8l1-.5v7.1l1 1v-8.7l1-.5v7.2l1 1.1v-9.1l1 .5v8.8l1 1.3v-9.7l1 .3v7.1l1 2.1v-10.5l1 .7v9.6l1-2.3v-7.9l1 1.3v6.8l1-.9v-7.1l1-.1v6.8l1 .1v-6.2l1 .4v7l1 .7v-7.4l1-1.7v8.3l1 .8v-8.9l1 1.6v7.6l1-.2v-8.2l1 .3v6.8l1-.9v-6.2l1 0v7.9l1-.2v-7.1l1 .9v5.9l1-1.3v-6.1l1 0v7.2l1-.1v-5.6l1 .3v5.1l1 .8v-6.8l1 1.2v4.8l1 .4v-7.3l1 .4v7.6l1-.2v-7.6l1-.1v8.7l1-1.1v-9.1l1-1v9.4l1 .8v-7.2l1-.7v6.6l1-1v-5.2l1-.5v6.7l1 .5v-7.2l1 .8v7.2l1-.6v-8.2l1 .1v9.4l1-1.2v-7.4l1-2v10.2l1-.7v-9.6l1 1.3v9.2l1-.3v-8.4l1 .2v7.3l1 2.4v-10.1l1-1v8.8l1-.1v-9.1l1 2.3v9.3l1-1.6v-9.6l1-.1v10.9l1-1.3v-7.7l1-.8v8.1l1-.7v-7.3l1 1.4v6l1-.3v-6l1-.2v7.3l1 .1v-8.2l1-.8v8.5l1 1.6v-8.8l1 1.4v5.5l1 1.2v-8.9l1 2.4v7.2l1-.8v-7.1l1 .6v5.2l1-.2v-4.9l1 .8v4.4l1-1.1v-4.1l1 .3v3.7l1-.4v-4l1 .9v4.2l1-.2v-4l1-1.3v4.4l1 1.3v-5.3l1-1v5.5l1 1.6v-6.7l1 1.1v4.7l1-1v-3.9l1 .4v4.4l1-.8v-4.4l1 .7v4l1 .4v-4.4l1 0v4.2l1-1.4v-2.9l1 .2v3.5l1-.1v-3.6l1-.1v3.1l1 .8v-4.3l1-.7v5.5l1 .7v-6l1-.3v6.4l1-.5v-5.1l1 1.1v4.9l1-1.7v-3.4l1-.7v4l1 0v-3.9l1-.1v3.3l1 .7v-4.9l1-.5v5l1 .5v-7l1 1.7v4.9l1 .5v-6.3l1 .2v5.1l1 .6v-5.9l1 0v5.4l1 .5v-5.3l1 .2v4.1l1 .8v-6.2l1 .6v4.5l1 1.4v-7l1 .9v5.7l1 .7v-6.5l1 .3v5.6l1 .4v-5.3l1-.1v6l1-1.1v-5.7l1 .7v5.1l1 .1v-4.6l1 0v5.3l1-1.1v-5l1 0v4.5l1 .1v-3.7l1-.2v3.9l1 .6v-4.2l1-.6v3.8l1 .7v-5.2l1-1v6.2l1-.1v-5.8l1-.3v6.9l1 .5v-6.1l1 0v4.9l1 .3v-5.5l1-.1v4.7l1-.8v-3.7l1 .6v3l1 1.1v-4.4l1-.1v3.9l1 .9v-5.1l1-.3v5.5"/>
<path class="tr" stroke="#000000" d="M138.5,700.3v6.2l1-.7v-5.1l1 .5v5.4l1 1.7v-8.3l1 .9v4l1 .5v-3.9l1-1v5.4l1 .4v-5.3l1-1.5v5.4l1 .7v-5.5l1 .8v5.6l1-1.3v-4.3l1-1v5.8l1 .4v-5.8l1 .8v5l1-.8v-4.8l1 .1v5.2l1-.2v-4.1l1-1.6v5.2l1-.6v-3.1l1-.1v4l1 .3v-3.9l1-.7v4.9l1-1.2v-4.1l1-.2v4.1l1 .4v-5.2l1-.2v4.7l1-.8v-4.8l1 0v5.2l1 .8v-5.5l1-.4v4.4l1 .6v-4l1-1.1v5.9l1 .6v-5.3l1-.5v6l1-.5v-5.9l1-1.1v7.5l1 1.1v-5l1-.5v4.2l1 .3v-5.3l1 1v4.1l1-.7v-3.3l1 .3v4l1-.8v-2.9l1 0v3.9l1-.6v-4.6l1-.1v5.6l1-1.1v-4.8l1-.6v5.6l1 .6v-5.7l1 .5v5.5l1 .5v-5.4l1-.6v6.3l1-1.4v-5.9l1 1.1v4.1l1 .3v-4l1 .4v5.2l1-.2v-5.4l1-.1v6.4l1-2.4v-6l1 1.6v4.3l1 .5v-4.3l1-.4v5.3l1-1v-4.6l1-.2v6.2l1 .8v-6.9l1-.1v5.4l1 .5v-6.3l1 1v5.5l1-.5v-5.9l1 .1v6.5l1 .1v-6.9l1-.4v6.2l1-.5v-4.9l1 .8v5.9l1-.8v-6.1l1 .1v4.8l1 1.4v-8.1l1 2.7v4.8l1-.6v-4.5l1 0v5.3l1-.2v-5.6l1 1v3.4l1 2.4v-7l1 1.4v3.3l1 .7v-5.2l1-.3v5.2l1 .9v-5.8l1-.5v5.7l1 .9v-5.2l1-1.4v7.2l1-.5v-6.7l1 .5v6.6l1-.3v-7.1l1-.1v7.2l1 1.1v-7l1 .7v5.2l1-.9v-5.3l1 .7v5l1-1.1v-4.2l1-.4v4.2l1 1.2v-4.7l1-1.6v6l1 .4v-6.2l1-1.4v5.6l1 1.5v-6.1l1-.7v7.5l1-.2v-5.3l1-.2v5.1l1-.6v-5.3l1 .8v5l1-1.5v-3.5l1 .5v5.4l1-.6v-6.4l1-.6v6.3l1 2.2v-6.4l1-1.3v5.3l1 .3v-5.1l1-.6v6.8l1-2.2v-3.1l1-1.3v4.8l1-.3v-3.5l1-2.9v7.2l1 .5v-5.7l1 .7v4.7l1-.2v-4.9l1 .2v4.1l1-.1v-5.1l1 0v5.7l1 1.4v-6.1l1-.3v6.1l1-.3v-6.9l1 2.1v4.9l1-.7v-4.7l1 .4v3.8l1 1v-4.3l1-.5v5.1l1-.2v-4.8l1-.5v5.1l1 .4v-6.2l1 1.2v5.2l1-1.2v-4.4l1 .8v4.1l1 .2v-4.5l1-2.2v8.1l1-2.7v-5.9l1 2v4.5l1 .4v-5l1-.4v5.3l1-1.2v-3.9l1 .2v3.7l1 .3v-5.5l1 .3v5.3l1-1v-4.1l1 .5v3.9l1 .4v-4.9l1 .5v5.6l1-.8v-5l1-.1v5.4l1-.6v-3.5l1-.3v4.4l1-.5v-3.9l1-1.1v6l1 2v-8l1 .8v4.1l1 1.8v-7.5l1 1.9v5.2l1 .4v-5.3l1-1.6v5.5l1 1.3v-5.9l1 .4v4.9l1 0v-5.2l1-1v6.7l1 .5v-7.4l1 2.5v4.2l1 .3v-5.2l1-.6v4.9l1 .7v-5.6l1 1v4.1l1-1v-4.8l1-.1v3.2l1 .7v-5.9l1 .1v5.4l1-.8v-4.1l1-.7v6.9l1-.7v-5.4l1-.4v6.5l1 1.1v-5.9l1-2.1v7.2l1 1.1v-5l1-.2v5.8l1-1.2v-4.8l1 1.5v4.2l1-.4v-4.4l1-.7v5.7l1 1.1v-5.9l1-.8v5.1l1 1.8v-7.4l1 .9v5.1l1-.3v-4.6l1 .1v4.4l1 1.2v-5.2l1 .1v4.5l1-.3v-5.2l1 .1v5.1l1 1v-6.5l1-1.1v5.8l1 .4v-6.4l1 1.8v5l1 .7v-7.1l1 1.8v4.7l1 .8v-7.1l1 0v6.7l1 1.8v-6.4l1-1.4v5.4l1 1.9v-6.9l1-.2v7.3l1-1.4v-7.7l1 2.5v4.5l1 .5v-5.8l1 1.2v4.3l1 0v-4.9l1 .5v3.6l1-.7v-2.6l1-1v3.5l1 .7v-4.1l1 .6v4l1-.1v-4.3l1-.3v5l1-.1v-4.6l1 1v4.9l1-1.4v-4l1-1.1v5.8l1-1.1v-3.7l1 .4v3.6l1-.4v-4l1 .7v3.5l1 .3v-4l1 .4v4.1l1-.7v-5.5l1 .4v6l1 .7v-6.8l1 .7v5.1l1 1.5v-6.6l1-1.6v8l1-.9v-4.5l1-.5v5.1l1 .6v-5.4l1 0v6.5l1-1.9v-4.6l1-.8v6l1 .9v-6.2l1 0v4.1l1 1.4v-5l1-.2v3.3l1 .3v-3.9l1-.6v4.9l1-.4v-4l1-1.8v9l1-1.7v-6.5l1 .7v5.2l1 .4v-6.3l1 .9v4.9l1 .9v-6.6l1 .2v5.1l1 1.4v-5.8l1-11.5v23.1l1-7.9v-5.2l1 .2v4.9l1 .6v-4.9l1-1.1v7.3l1-1.2v-5.9l1 .3v6.7l1-.5v-8l1-.9v10.7l1 3.9v-14.5l1-.5v13.8l1 1v-15l1-.7v16.7l1 5.1v-24.3l1 3v12.5l1 1.5v-14.8l1-10v23.4l1-.7v-10.1l1-3.3v15.9l1-1.7v-11.5l1-1.7v13.2l1-1.7v-12.5l1 2.1v10.3l1-1.2v-7.4l1-1.4v8.5l1 1.7v-9.7l1 .2v8.1l1 1v-9.1l1 .5v7.9l1-.4v-8.6l1 .2v13.5l1-4.1v-7.5l1-1.7v8.3l1 1.4v-8.1l1-3.1v9.1l1 2.2v-8l1-2v8.8l1 1.4v-8.5l1-3.1v11.5l1 0v-10.3l1 1.4v10.1l1-2.2v-7l1-.8v7.7l1-.2v-7.6l1-1.1v11.7l1-2.5v-9l1 0v12.3l1-3.6v-9.2l1-1v9.7l1 .1v-7.4l1 .4v6.1l1 .1v-6.1l1-1.3v7.3l1-.4v-8l1 .6v9.5l1-3v-4.9l1-.8v7.9l1-1.7v-6.4l1 1.4v6.4l1-.3v-6.6l1-.4v5.2l1 .6v-6.4l1 .2v5.1l1 .8v-5.1l1-1v5.6l1 1.2v-6.4l1-.3v4.9l1 1.8v-6.5l1-.8v7.3l1 .8v-8.2l1 .5v6.2l1-.3v-5.8l1 .3v6.9l1-1.2v-5.1l1-.1v5.7l1 .9v-6.9l1-.4v7.2l1 .1v-10.9l1 1.7v14.6l1-1.2v-12.4l1 .2v11.1l1-1.8v-11.6l1 2.2v7.9l1 .7v-9.5l1-9.9v28.5l1-8.3v-8.3l1-1.9v10.4l1-2.6v-8.1l1 1v8.4l1 .1v-7.1l1-2.9v8.1l1 3v-8.3l1-2.1v10.2l1 .4v-9.9l1-1v10.1l1 3.4v-16.4l1 .7v14.1l1-3.1v-12.2l1 1.4v12.4l1 .6v-13.6l1 3v10.7l1-1.7v-12.2l1 .8v15l1 1.1v-17l1 .1v14.6l1 5.5v-20.6l1-3.1v19l1-1.5v-14.8l1-2v19.4l1 2.9v-17.7l1-8.1v21.8l1 2.1v-19.5l1-2.4v23.2l1-.1v-24.7l1 6.4v14.3l1 .1v-16.3l1 .2v15.5l1-.5v-13.4l1 2.3v11l1 .5v-13.7l1 .4v14.9l1-2.4v-11.3l1 1.4v10.3l1 1.9v-12.2l1-.8v10.8l1 .2v-10.9l1-4.5v18.4l1-6.2v-6.3l1 1.9v4.7l1 .5v-5.7l1-1.9v7l1 1.9v-7.5l1 .6v6.7l1 1.1v-7.6l1 .3v6.2l1 .6v-8.9l1 .5v8.6l1 .4v-7.5l1-1.2v7.3l1-1.2v-5.7l1 .4v6l1 1v-7.1l1 .2v6l1 1.2v-7.8l1 1.3v6.4l1 0v-7.8l1 .6v7.3l1-1.3v-5.9l1-1.2v6.1l1 .5v-6l1-.4v6.9l1 1.2v-6l1-2v7.4l1 .9v-7.8l1-.2v8.5l1-1.2v-7.5l1 .9v6.6l1 2v-6.5l1-.3v5.2l1 1.1v-7.9l1 1.7v5.3l1 0v-4.8l1-2.6v7.2l1 .9v-9.7l1 2.2v7.6l1-.1v-7l1-.9v8.1l1 3.5v-11.3l1 0v7.4l1 1v-8.3l1-.9v7.5l1 .2v-7.4l1 1v6.8l1-.4v-6.2l1 .3v4.7l1 .9v-4.4l1-.4v3.8l1 .3v-4l1 .9v5.3l1-1.9v-4.1l1-.4v5.1l1 .8v-7.7l1 1.9v5.9l1-.7v-5.1l1-1.7v8.3l1-.9v-7.4l1-1.3v8.7l1-.7v-6.5l1 .9v5.9l1 1.7v-7.7l1-1.6v7.8l1-.8v-7.2l1 1v6.4l1 .8v-7.9l1 .8v6.2l1 0v-5.8l1-.6v6.4l1-.3v-6.1l1 .6v4.6l1 1.2v-8l1 1v6.5l1 .7v-8.1l1 1.3v5.9l1 .7v-7.6l1-.1v6.7l1 2v-10.8l1 1.1v9.3l1-1v-7.6l1-28v58.8l1-21.6v-11.8l1 1.1v8.2l1 2.2v-11.3l1 .1v10.5l1-1.1v-8.1l1 0v8l1-1.4v-7.9l1 .6v8.1l1 .3v-9.3l1 .1v9l1 1v-11.1l1-.6v13.5l1-2.5v-11.1l1-6.6v24.9l1-6.6v-11.3l1 .5v9.8l1 1.9v-12.5l1 3.2v7.5l1-.5v-5.8l1-1v8l1-.9v-6.9l1 .6v6.6l1-.5v-6.7l1 .4v5.5l1 2.6v-9.8l1 1.1v7.6l1 .8v-8l1 .7v7.6l1-1.3v-6.1l1-2v8.3l1-.6v-5.8l1 1.3v4.3l1 .2v-4.7l1-1.2v5.6l1 .7v-5.5l1-1v7.7l1 .3v-8.7l1-.3v7.3l1 3.9v-9.8l1-1.8v8.7l1 .2v-9.1l1 1.2v6.5l1 1.5v-6.8l1-1.8v10.5l1-3.5v-6.8l1-.1v7.4l1 .1v-6.8l1-.2v7.2l1 0v-7.4l1-.7v9.1l1 .1v-8l1-1.1v9.5l1 .8v-12.7l1 1.4v9.9l1 3.7v-13.8l1 .2v14l1 .8v-15.6l1 2.5v9.3l1 2.6v-15.1l1 1.3v11.1l1 .4v-12.2l1-.5v14.8l1-.2v-11.8l1-3.2v12.1l1 .3v-11.5l1 1v12.6l1-.2v-13.4l1-1.5v13.8l1 6.2v-23.9l1 3.3v16l1-2.6v-11.2l1-14.4v33.8l1-6.9v-16.5l1 3.2v12.5l1-1v-11.5l1-.7v16.8l1 .2v-14.8l1-6.5v20.7l1 4.4v-26.7l1-7.5v36.3l1-.3v-25.3l1 .8v24.9l1-2.2v-23.8l1-1v23.3l1-1.5v-21l1-11v31.4l1 5.8v-27.4l1-9.1v42.3l1-.3v-29l1-5.3v25.4l1 5.1v-28.7l1-1.2v33.1l1 3.5v-45.5l1 1.7v34.7l1 7.3v-33.4l1-7.1v31.8l1 16.9v-68.8l1 5.3v63.5l1-8.7v-38.1l1-7.8v56.3l1 4.2v-69.3l1 21.9v40.2l1-8.6v-51l1-5.2v52.6l1 3.7v-40.7l1-1v56.5l1 .8v-70.8l1 18.1v35l1 6.6v-54.2l1-10.5v69.6l1-4v-55.2l1-16.8v100.2l1-37v-33.4l1-.1v42.9l1-6.1v-44.1l1 5.7v37.6l1 10.3v-62.8l1 18.7v29.1l1 12.3v-43.6l1 2.6v25.3l1-2.2v-20.8l1 1.5v23.7l1-3.7v-20.8l1 2.2v14.4l1 1.8v-20l1 5.7v13.8l1 2.9v-15.1l1-1.7v13.8l1-2.8v-9.1l1-.5v11.8l1 1.2v-14.9l1-.7v13l1 1.3v-12.9l1 2.6v12.2l1-1.2v-11.7l1 .2v9.5l1 .7v-9.8l1 2.1v10.2l1-1.4v-9.1l1 .8v8.2l1-.9v-7.8l1-.7v6.7l1 1v-7.4l1 .7v6.3l1 .6v-6.6l1 .5v5.4l1 .3v-6.4l1 .8v4.4l1-.3v-3.6l1-1.3v4.6l1-.7v-3.5l1 0v3.1l1 1.5v-4.5l1-.2v4.7l1-.6v-4.5l1-.1v4.9l1-.6v-5.1l1 0v4.4l1 .8v-5.6l1 1.2v4.1l1 0v-5.1l1 .5v5.4l1-.7v-3.8l1-.7v4.4l1 .9v-4.1l1-1.3v4.2l1 .5v-4.3l1 1v3.4l1-.6v-4l1 .1v4.6l1 .5v-4.5l1-.2v5.9l1-1.7v-3.5l1 0v2.9l1 .6v-3l1-.1v2.9l1 .1v-2.9l1-.7v3.8l1 .8v-3.9l1-.2v3.9l1 .3v-4.3l1 .5v4l1 0v-3.4l1-1.5v5.2l1 2.6v-7.3l1 .2v4.9l1 0v-5.2l1 .7v3.9l1-1.3v-3l1 .1v3.8l1 1.8v-7.2l1-1.3v6.7l1 .1v-4.2l1-.9v4.6l1-.6v-2.9l1-.6v3.3l1 .6v-3.4l1-.6v4.8l1-.6v-4.4l1 0v5.8l1-1.4v-4.6l1 .9v3.1l1 .1v-3.7l1 0v4.6l1-.6v-3.6l1-.2v3.7l1-.2v-2.6l1 0v3.2l1-.4v-3.7l1 .9v4.5l1-.7v-3.7l1-.3v4.5l1-.6v-3.7l1-.7v3.4l1 .1v-3.2l1 .6v2.6l1 .3v-3.6l1 .3v3.5l1-.3v-3.6l1 0v3.3l1 .4v-4.3l1 .1v3.7l1 .2v-3.9l1-.4v3.4l1 .2v-4l1-1.7v5.8l1 .7v-4l1-.6v4.6l1 1.6v-6l1 .7v4.5l1 .4v-4.7l1 .6v4l1-.5v-4.2l1 1.1v2.6l1 .7v-3.4l1 .1v2.6l1 1.6v-4.6l1 .4v2.6l1 .8v-3.8l1 .7v3.8l1 .3v-4.6l1 .7v4.3l1-.4v-3.8l1-1.3v3.9l1 .1v-4.7l1 .4v5l1-.7v-3.5l1-1.1v4.2l1-.4v-3.8l1 .2v4.2l1-.2v-4.6l1 .3v3.7l1 .9v-5.8l1 .1v7.8l1-2.2v-4.6l1 .3v4.1l1-.6v-4.4l1-.1v4.1l1 1.1v-5.8l1 .5v4.3l1 1v-4.6l1 .4v5.5l1-1.8v-4.1l1 .9v3.5l1-.1v-2.4l1-.4v3l1-.1v-3.7l1 0v3.7l1 1.1v-4.9l1 .7v3l1 .2v-3.6l1 .8v2.7l1 .7v-3.9l1-.7v4l1-.2v-2.6l1-1.1v5.3l1-.7v-5.1l1-.2v4.6l1 .8v-4.8l1-.9v5.6l1-.7v-4.3l1-.2v5.1l1-1.3v-3.8l1 1.2v3l1-.4v-2.9l1-.5v4.2l1-.4v-3l1-.3v3l1 1.3v-3.8l1-1.8v5.1l1 .4v-5.3l1 .3v5.9l1-1.9v-4.1l1 .7v4.3l1-.5v-3.1l1-.9v3.9l1 .2v-3.3l1-.2v3.2l1-.5v-2.2l1 0v2l1 .5v-2.7l1-.4v3.3l1-.2v-2.4l1-.3v2.3l1 1v-3.7l1 .3v4.2l1-.6v-3.6l1-3.8v3.3l1-3.8v-4l1 1.5v3.1l1 1v-3.5l1 .2v3.8l1 .5v-3.8l1 2v3.9l1-.5v-3.1l1-.6v4.8l1 .2v-3.6l1-.4v4l1 .3v-3.1l1 .8v2.4l1 .7v-3.4l1 .4v3.5l1 .8v-4.8l1 1.4v4l1 .2v-3.8l1-2.6v7l1-.9v-5.5l1 .4v6l1-.2v-7.3l1 2.8v3.5l1 .6v-4.1l1-.3v3.1l1 .5v-3.3l1-.8v4.9l1-.2v-5.4l1 1.2v4.2l1 .5v-5.1l1 .8v3.7l1 1.1v-4.1l1-.7v4.8l1-.7v-4.3l1 .4v3.3l1 .6v-4l1 0v3.4l1-.2v-2.4l1-.2v3.1l1 .3v-3.2l1-.2v2.3l1 1v-3l1 .3v2.9l1 .1v-3.1l1-.6v3.5l1 .3v-6.1l1 2.3v4.5l1 0v-4l1-.6v4.4l1-.1v-5.9l1 1.4v4.3l1-.1v-4.2l1-.4v6.8l1-1.5v-5.9l1 1.6v3.9l1 .1v-4.2l1 0v4.5l1-1.7v-2.5l1-.1v3.1l1-.3v-2.4l1 .1v2.4l1 .4v-3.3l1 0v3l1 .4v-5l1 1.3v3.7l1-.1v-3.3l1-.4v4.5l1-.8v-2.9l1-.1v3.1l1 .7v-3l1-.1v3l1-.1v-4l1 .1v4.6l1-.4v-3.8l1 .7v3l1 1.1v-5.6l1 .6v4.6l1 0v-4.2l1-1.4v4.3l1 2.2v-5.7l1-2.3v5.3l1 .4v-4l1 .2v3.9l1-.6v-3.9l1 .7v3.3l1-.4v-3.2l1-.6v3.2l1 .5v-2.8l1-.6v3.4l1-.2v-2.3l1 .1v2.8l1 .4v-3.8l1 .6v3.3"/>
<path class="tr" stroke="#ff0000" d="M138.5,733.9v4.2l1-1.2v-3.4l1 .9v4l1 0v-3.9l1-.3v4.7l1 .3v-5.3l1-.2v5.6l1 0v-4l1-.5v3.7l1 0v-3.8l1 .3v3.9l1-1.3v-2.8l1-1.1v4.6l1-.2v-3.9l1 .5v2.8l1 .8v-3.4l1-.5v2.8l1 .2v-3.5l1-.5v3.6l1 .3v-2.9l1-1.5v4.8l1-.2v-3.9l1-.2v4.2l1 .1v-4.4l1 .8v3l1-.1v-3.6l1-.1v3.6l1-.1v-3.1l1-1.3v3.7l1 1v-4.1l1-.1v4.3l1-1.1v-3.4l1-.9v4l1 0v-3.8l1 0v4l1-.6v-3.6l1 0v4l1-1v-3.1l1-.3v3.6l1-.6v-3.3l1 .2v2.6l1 .5v-3.7l1 0v3.5l1-.9v-3.4l1 0v3.9l1-.3v-3l1 .1v3.5l1 1.4v-5.1l1 .3v4.1l1 .1v-3.9l1-.9v5.4l1 .4v-4.3l1 .4v4.3l1-.4v-4.8l1 1.2v2.7l1 .4v-3.6l1-.2v3.9l1 .8v-3.7l1-.8v3.3l1 .2v-3.1l1 .3v2.9l1-.4v-2.7l1-.6v3.6l1 .3v-4.1l1-1.2v4.7l1 .5v-4.2l1 .6v4.9l1-1.2v-4.4l1 .9v3.2l1-.1v-2.8l1-.6v3.2l1 .1v-3.2l1-.1v2.8l1 .8v-3l1-.7v4.1l1 .4v-4l1 .1v3.7l1 .6v-4.5l1 .5v3.5l1 1.3v-4.8l1-.4v3.8l1 1v-3.7l1-.7v5.9l1-1.9v-4.2l1 .6v4.5l1-.1v-4.3l1 .3v4.3l1-1.2v-4l1 .2v4.8l1-.5v-4.5l1 0v4.1l1 .5v-3.9l1-.8v4.4l1-.6v-3.3l1-.7v3.5l1-.3v-3l1 .1v3.8l1-.9v-3.1l1-.1v4.5l1-.3v-4.9l1-.6v5.4l1 .6v-5.5l1-.3v4.3l1 1.3v-5.4l1 .5v3.5l1 .1v-4.3l1 .8v3.3l1-.1v-3.8l1 .6v4.2l1 0v-4.2l1 .3v3.7l1 .5v-4.9l1 .7v3.6l1-.1v-3.9l1 .4v4l1 .4v-5.3l1 .7v4.1l1-.6v-3.5l1 .3v3.3l1-.2v-2.9l1-.1v3l1 1v-3.7l1-.3v4.3l1 .2v-4.2l1 .4v4.2l1-.3v-3.9l1-.4v3.7l1 .5v-4.5l1-.3v4.2l1-.4v-4.1l1 .6v4.4l1 .2v-4.1l1-.3v3.6l1 .9v-4l1-1.3v5.1l1-.8v-4l1 .3v3.7l1 .1v-3.4l1 0v3.4l1 .8v-3.9l1 .1v3.3l1 .3v-3.3l1 0v3.8l1 0v-3.9l1 0v4.3l1-.1v-5.3l1 .7v3.6l1 0v-3.8l1 .6v2.6l1 .1v-3.4l1 .5v2.9l1-.2v-4l1 .8v3.5l1-1v-3.3l1-1v4.1l1-.5v-2.9l1-1v3.3l1 .4v-2.9l1-1.1v3.9l1 .1v-4.4l1-.4v4.9l1-.5v-4.3l1-.4v4.1l1-.8v-5.2l1-.3v3.8l1 .2v-4.6l1 .4v4.6l1-.1v-3.5l1 .6v3.1l1 1v-3.7l1 .7v3.6l1 .7v-4.6l1 0v4.4l1-.1v-3.4l1 .6v3.6l1-.2v-3.9l1 .5v4.1l1-.8v-3.4l1-.1v6.3l1-1.9v-4.7l1 0v5l1-.1v-4.6l1-.1v3.9l1 .5v-3.2l1-.3v4.1l1 .1v-3.8l1-.5v4.1l1 0v-3.5l1-.3v3.4l1 .7v-3.8l1-.4v4l1 .7v-5l1 .2v4.1l1 1.3v-5.1l1-1v5.8l1-.7v-4.6l1 0v5.4l1 .1v-4.9l1-.1v5.2l1-.4v-3.9l1-.3v4.6l1-.9v-4.4l1 .2v5l1-.7v-3.5l1-.7v4.2l1 .1v-3.8l1-.5v5.2l1 .1v-5.1l1 .9v3.4l1 .1v-4.8l1-.2v6.1l1-.4v-5.5l1 1v4.4l1-.1v-3.7l1 .2v3.9l1-.5v-3.6l1 .5v4l1 0v-3.9l1-.3v3.8l1 .6v-4.5l1-.9v4.3l1 .8v-5.2l1 1.1v4l1 0v-4.1l1-1v4.7l1-.9v-3.4l1 0v3l1-.2v-3.4l1-.1v3.6l1 .1v-3.5l1-.5v4.9l1-.6v-4.9l1-.6v5.4l1-.1v-4.7l1 1v4.7l1 0v-5.5l1 .7v3.4l1 .1v-4.1l1-.1v3.7l1 .8v-4.7l1-.2v3.6l1 0v-4.1l1 .4v3.8l1-.2v-4.7l1 .3v4.7l1-.3v-3.6l1 .4v4.2l1 .4v-4.6l1-.8v5.1l1 .2v-4.6l1 0v5.9l1-1v-4.8l1 0v4.9l1 0v-4.3l1 .5v4.5l1 .3v-5l1-.2v5.5l1-.9v-3.9l1 0v4.4l1-.5v-4.4l1 .4v4.4l1 15.3v-46.5l1 28.1v3.4l1 1.4v-5.7l1-.1v5l1-.3v-4.2l1 .5v3.4l1-.5v-4.2l1 .4v4.8l1-.9v-3.4l1-.3v4.3l1-.2v-4.3l1 .1v5l1-.3v-4.6l1 .3v3.1l1 .5v-3.6l1-.4v4.3l1 .5v-4.7l1 .6v3.1l1 .9v-4.4l1-.2v4.3l1-.2v-4.5l1 .4v4l1 .6v-3.7l1-.1v3.5l1 1.3v-5.4l1-.8v5.3l1-.8v-4l1 .7v3.4l1 .1v-4.2l1-.2v3.7l1 1v-4.7l1 .6v3.6l1-.4v-3.7l1 .9v2.7l1 .3v-3.2l1-.2v4l1-1.1v-3.1l1 .1v3.6l1-.2v-4.5l1-.2v5.2l1-.2v-3.7l1-1.3v4.9l1 .2v-5.1l1 1.1v3.9l1-.6v-3.6l1 0v3.9l1 0v-3.5l1-1.2v4.2l1 .7v-4.1l1-1v5.4l1-.2v-4.4l1-1v4.8l1 1.5v-5.1l1 .1v4.4l1 .8v-5.2l1 1.1v4l1 0v-5.1l1 .4v3.7l1 .6v-4.4l1 .3v4.3l1 .3v-4.7l1 .6v3.6l1 0v-4.1l1 .8v3.2l1-.8v-2.7l1-.5v3.3l1-.1v-3.9l1-.4v4.2l1-.7v-5l1-1.9v7.9l1 .6v-10.8l1-2v13.7l1 .1v-13l1 1.1v12.2l1 .6v-14.8l1 3.8v7.8l1-.1v-9.9l1 .7v10.7l1-2.2v-7.6l1 .8v9l1-.9v-9l1-1.6v10.8l1 1.8v-21l1 9.2v11.1l1-2v-10.5l1 2.4v8.2l1 .9v-9.8l1-.1v10.4l1 .5v-10l1-1v10.9l1-1.3v-10.6l1 1.2v10.6l1 1.4v-19.3l1 5.4v12.8l1 .2v-12.1l1-.7v11.6l1-1.2v-9.6l1 1.1v8l1 .1v-8.7l1 1v8.7l1 2.3v-13l1 1.2v8.8l1-.1v-9.7l1 1.6v10l1-1.3v-11.6l1 1.7v11.7l1-.3v-12.3l1 .1v12.7l1-1.3v-10.8l1-.4v10.7l1-.5v-9l1-22.1v49.6l1-18.7v-8.6l1 .7v7.6l1 .3v-6.5l1 1.2v5.1l1 .8v-6.1l1 .8v5.8l1-1v-4.6l1 .4v5.7l1-1.5v-5.4l1 1.4v4.3l1-.3v-4.5l1-.4v5.3l1-.5v-5.3l1 .6v4.4l1-.2v-3.6l1-.2v4.3l1-.3v-4.4l1 .7v3.4l1-.4v-3.1l1-.1v3.7l1 1v-4.9l1 0v4.2l1 1v-5.9l1 .1v4.8l1 1.2v-5.4l1 1v3.1l1 .6v-4l1 0v3.9l1 .1v-3.5l1-.1v3.2l1 .7v-4.3l1 .4v3.7l1 .8v-4.4l1-.6v4.8l1-.5v-3.5l1 .1v4.4l1-.6v-3.7l1 .1v3.1l1 .6v-3.5l1-.7v3.6l1 .6v-3.8l1-.2v3.9l1 .3v-4l1-.7v4.1l1 .4v-3.3l1-.3v3.8l1-.1v-3l1-1v3.9l1 0v-3.3l1 .2v3.3l1-.4v-3.3l1 .1v2.8l1 .3v-3.7l1 1v2.9l1 .2v-3.4l1-.5v3.2l1-.1v-3.3l1 .3v2.6l1 .8v-3.2l1 0v3.2l1-.3v-4.2l1-.3v4.5l1 .5v-4.7l1 .1v4.6l1-.1v-3.7l1-.4v3.8l1-.2v-4.3l1 .8v3.3l1-.3v-3.4l1-.7v3.6l1 1.4v-4.8l1 .2v4.8l1-.4v-4.9l1 .1v5l1-.9v-3.6l1 0v3.3l1 1v-4.3l1 .7v4l1-.1v-4.8l1-.2v4.7l1 1.4v-5.8l1 .3v5.6l1-1.7v-3.7l1-.1v5.2l1-.2v-4.1l1 .1v3.9l1-.1v-5.3l1 1.4v3.8l1 1v-4.6l1 .1v4.3l1-1.3v-3.3l1-.2v4.8l1-1.1v-3.7l1 .2v4.2l1-.4v-3.5l1-.6v4.3l1-.7v-3.5l1 .6v3.1l1-.4v-3.4l1-.5v4.8l1-.3v-4.2l1 .1v5.2l1-.8v-4.2l1-7.4v17l1-4.6v-5.4l1 .1v4.5l1 .5v-4.6l1-.4v6.2l1-2.2v-3.8l1-.7v4.1l1 .2v-4.4l1-.1v4.7l1-.1v-4.6l1 .7v3.9l1 .2v-4.1l1 .4v3.6l1 1.2v-4.9l1-.9v5.4l1 .2v-5.2l1-.2v5.8l1-1.5v-3.7l1-.2v4.4l1-.2v-4l1 0v3.8l1 2.7v-11.8l1 5.3v4.6l1 .2v-3.7l1-1.2v4.1l1 .1v-3.8l1 .2v4.2l1-.3v-3.8l1 .5v3.4l1-.7v-3l1 .4v3.1l1 .4v-3.6l1-.2v3.2l1-.3v-3.7l1-3.9v11.8l1-3.8v-4.1l1 1.3v3.7l1-.9v-3l1 .1v3.7l1 0v-4.1l1 .5v3.8l1-.1v-4.2l1 .2v3.3l1 .6v-3.5l1 .1v3.3l1 3.6v-8.8l1 1.8v3l1 .4v-4.4l1 1.1v3.5l1-.8v-3.7l1-.3v4.6l1 .8v-5.4l1 .6v4.2l1-.6v-4.4l1-.2v4.7l1-.2v-4.9l1 .3v4.7l1 .1v-3.9l1-.2v3.9l1-.1v-4.5l1 .1v5.6l1-.8v-3.9l1 0v5l1 .1v-4.5l1 .4v4.2l1-.4v-4.2l1-.1v4.9l1-.4v-4.9l1 1v3.9l1 .9v-5.6l1-.3v5l1-.2v-4.5l1 .5v4.1l1-.4v-3l1-.5v3l1 .6v-3.3l1 0v2.8l1 0v-3.1l1-.9v4.2l1 .1v-3.6l1-.3v3.7l1-.5v-3.3l1-.2v3.5l1 0v-3.2l1 .1v2.9l1 .2v-2.8l1-.7v4l1 .4v-4.6l1 .1v5l1-.1v-3.9l1 0v4.8l1-.7v-4.7l1 .6v4.2l1 .1v-4.5l1 0v4l1 .4v-4.1l1-.7v5.8l1 .3v-5.8l1-.1v5l1 .1v-3.7l1-.6v4.3l1 .2v-4.3l1-.6v4.2l1-.3v-3.5l1 .4v3.2l1-.4v-3l1-.2v3.3l1 .7v-3.9l1-.4v4.8l1-1v-3.5l1 .7v3l1 0v-3.3l1-.1v3.3l1-.2v-2.9l1-.4v3.5l1-.3v-3l1 .1v3.1l1 1.1v-4.5l1 0v4.2l1 0v-3.9l1-.8v4.2l1 .2v-4.4l1-.9v4.7l1-.9v-4l1-1.9v5.5l1-.8v-5.4l1-.1v4.2l1-1.5v-4.2l1 .4v3.2l1-.6v-3.1l1 1.1v2.4l1 .7v-3.7l1 .7v2.9l1 1.4v-4.5l1 .1v5l1-.4v-3.8l1 .5v3.9l1-.1v-4.7l1 .9v5l1-.2v-4.5l1 .1v4.5l1-.1v-3.8l1 .6v4.1l1 .1v-4.1l1 .7v3.4l1 .5v-3.1l1-.2v3l1 1.1v-4l1-1.6v4.5l1 .3v-3.9l1 .1v4.5l1-.9v-4.1l1 1.6v2.5l1-.1v-3.6l1 .3v3.7l1-.4v-3.3l1-.4v4.7l1-.1v-4.5l1-.3v5.1l1 .2v-4.5l1-.2v4.2l1-.3v-4.7l1 0v4.5l1-.7v-3.2l1-.5v4l1-.8v-2.7l1-.7v3.2l1 .5v-4.2l1 .1v5.4l1-1.3v-3.5l1-.2v3.9l1 0v-4.1l1 .5v4l1-.3v-4.3l1-.4v4.2l1-.3v-3.4l1 .1v3.7l1 .8v-4.3l1-.9v4.7l1-4.6v-4.9l1 1v3.5l1 .1v-3.8l1 .4v4.2l1 0v-4l1-1.2v5.1l1-.5v-3.3l1 .4v4.1l1 .2v-4.1l1 1v3.5l1 .5v-4l1-.3v4.1l1 0v-3.2l1-.1v3.9l1-.3v-3.3l1 .1v3.7l1 .5v-4.1l1 .2v4.3l1-.1v-3.6l1 0v3.8l1-.2v-3.1l1 .2v2.9l1 .2v-3.4l1 1v3.8l1 0v-4.3l1 .3v3.4l1 .1v-4l1 0v4l1 1v-3.5l1-.5v3.8l1 .1v-3.4l1-1v3.8l1 .3v-3.4l1-.3v3.9l1 .1v-3.8l1-.4v3.8l1-.3v-4l1-.2v4.7l1-.4v-3.9l1 .7v3.4l1-.7v-3.1l1-.5v4.4l1-.4v-3.4l1 .1v3.1l1-.4v-3.5l1 1v3l1 .1v-4.5l1 1.5v3.8l1-.5v-3.4l1-.2v3l1 .9v-3.7l1 .2v3.4l1-.3v-2.9l1-.3v2.7l1-.2v-3.1l1 .2v3.2l1 2.1v-4.7l1-.5v3.6l1-.3v-3.9l1 .5v3.5l1-.5v-4.3l1-.4v3.8l1 .7v-4.4l1-.2v4.4l1-1v-3.9l1 .5v4.1l1-1v-3.6l1 .8v3.1l1 .7v-3.5l1 .8v3.1l1 1.1v-3.7l1 .4v3.5l1 .5v-2.7l1 .1v3l1 .2v-2.8l1-.2v3.2l1 .5v-3.1l1-.9v4.8l1-.4v-4.6l1 .4v5.1l1-.2v-4.4l1-2.1v5.5l1 5.8v-13.3l1 3.6v3.9l1 .2v-3.6l1 .4v3.8l1 .6v-4l1-1.1v4.9l1-.3v-3.6l1-.3v4.9l1 .1v-5.1l1-.8v4.5l1 .9v-5.7l1-.2v6.2l1-.8v-4.3l1-1.1v5.6l1-.7v-4.3l1 .6v4.4l1-1.1v-4.1l1 .7v3.9l1-.5v-3.9l1 .8v3.1l1 .9v-4.3l1 .1v3.5l1 .6v-3.3l1 .5v3.4l1 .5v-4.8l1 2.1v3.4l1 2.2v-4.9l1 .7v3.5l1 1.2v-4.6l1-.3v3.8l1-2.9v-3.3l1-3.4v4.4l1-4.6v-4.1l1-2.6v3.8l1-1.5v-4.5l1 .2v4.3l1 .3v-4.6l1-.2v4.3l1-.1v-4.2l1-.2v3.5l1 0v-3.4l1 0v3.7l1-.5v-3.3l1 .3v3.4l1-.6v-3.2l1 0v4.2l1-1.4v-5l1-1.1v5.8l1-3.2v-3.8l1-1.7v4l1-1.7v-3.6l1-2v4.8l1-1.1v-3.5l1 .3v3.5l1 .4v-3.7l1-.3v4.4l1 1.1v-4.5l1-1.1v4.8l1-.4v-3.6l1-.4v5l1-.6v-4.7l1-.4v5.3l1-.3v-4.1l1 .1v4.8l1-.5v-4.5l1-.7v4.9l1 .3v-4.9l1 .4v4.4l1 0v-3.7l1 .3v4.1l1 .9v-3.5l1 .1v3.7l1 .8v-4.1l1-.6v4.9l1 .5v-3.9l1 1.4v3.8l1 1v-5.5l1 .7v5.5l1-.3v-4.3l1 1.5v4.4l1 1v-5.1l1 1.4v4.2l1 .1v-4.6l1-.2v4.5l1 .4v-4l1 0v3.8l1 .7v-3.9l1-.1v4.9l1 .5v-4.7l1-.1v4.1l1 0v-4.6l1 1.7v4.3l1-1.1v-3.1l1 .1v3.4l1 .6v-3.8l1-.4v3.8l1 1.1v-4.2l1 .7v2.9l1 .5v-4.1l1 .1v4.1l1 .1v-4.1l1 1.3v4l1 0v-4.4l1 .1v5l1-.1v-5.2l1-.5v5.3l1 .1v-3.8l1 .7v5.9l1-.6v-5l1 .1v3.8l1 .8v-4.4l1 .2v3.9l1-.1v-4.7l1 1.2v3.7l1 .6v-3.8l1-.5v4.2l1-.1v-4.1l1-.4v5l1 .2v-4.5l1 .1v4.3l1 .8v-5.4l1-.9v5.7l1 1.5v-5l1 .2v4.9l1 .3v-5.4l1 1.1v4.7l1-.4v-4.3l1-.3v4.3l1 2v-5.1l1-.3v4.2l1-.1v-4.8l1-.1v3.9l1-.1v-3.7l1-1v3.9l1-.5v-3.2l1-1v4l1-.8v-3.7l1-1v4.2"/>
<path class="tr" stroke="#0000ff" d="M138.5,761.7v4.3l1 .1v-4.6l1 .8v4.1l1-1.2v-2.8l1 .1v3.3l1-.6v-3.4l1 .7v3.7l1-.5v-3.2l1-.5v3.7l1 .7v-5.2l1 .7v4l1 .5v-4.5l1 .9v4.7l1-1.3v-4.5l1 1.1v3.6l1-.3v-3.8l1 .5v4.3l1 .1v-4.6l1-.1v4.3l1 .7v-5.3l1-.5v4.6l1 .4v-3.8l1 .1v3.2l1 .9v-3.3l1-.6v5.4l1-1.4v-3.3l1-.7v4.5l1-.4v-4.2l1-.2v4.3l1 .8v-4.3l1 .4v3.2l1 .7v-4.5l1 .5v3.1l1-.1v-3.1l1-.4v3.1l1 .9v-4.4l1 .5v3.3l1 .7v-3.2l1-1.5v4.8l1-.7v-3l1-.4v4.4l1 .1v-4.7l1-.1v4.2l1 1.2v-5.3l1 .6v3.6l1 .9v-4.3l1-1.2v4.4l1 .9v-4.7l1 .5v4l1-.7v-3.1l1-.5v3.8l1 1v-4.9l1 .1v4.6l1-.3v-4.9l1 1v3.8l1 .2v-4.8l1 .5v3.9l1 .3v-5.5l1 .7v4.4l1 .5v-4.9l1-.4v5.2l1-.6v-4.3l1 .8v3.3l1-.2v-3.6l1-.2v4.2l1-.6v-2.9l1 .3v3.1l1 0v-3.9l1-.2v3.4l1 .9v-4.1l1 .3v3.6l1-.8v-2.5l1-.4v3.1l1 0v-2.6l1-.2v3.1l1-.7v-2.8l1 .2v3l1 .6v-3.6l1-.9v4.5l1 .3v-3.5l1-.5v4l1-.4v-3.3l1-.2v4.2l1-.7v-4.2l1-.6v5.5l1 .3v-5l1 .2v4.2l1-.4v-3.9l1 .2v4l1 .9v-5.4l1 .4v4.8l1 1.2v-5.5l1-.2v5.8l1-1.3v-4.4l1 1.3v3.9l1 .2v-5.5l1 .2v4.8l1 .2v-5.2l1 1.4v4.6l1-.2v-4.4l1-.6v4.7l1 .5v-5.9l1 1.1v4.3l1-.6v-3.8l1 .5v3.1l1 0v-3.4l1-.1v3.6l1-.4v-4.1l1-.1v4.1l1 .1v-4.2l1-.4v4l1 .7v-4.3l1-.3v5.1l1-.6v-4.3l1 1.2v2.7l1 .3v-3.6l1-.2v3.9l1-.8v-3.4l1 .2v3.3l1 .2v-4.3l1-.2v5.1l1-.4v-3.6l1-.7v3.4l1 .1v-3.9l1-.4v4.4l1 .1v-4.3l1 0v4.8l1-.7v-3.6l1-1v5.2l1 .5v-5.5l1 .1v5.3l1 .1v-5.3l1 0v4.7l1 0v-5.2l1 1.1v3.8l1-.2v-3.1l1-.4v3.9l1-.6v-3l1-.1v3.8l1-.1v-2.9l1-.1v3l1 .1v-3.2l1 .4v3.5l1 .2v-4.1l1-.1v4.4l1 .5v-5.1l1 .5v4.6l1-.7v-3.4l1 .3v3.8l1 .7v-3.7l1-1.1v4l1 .8v-3.8l1-.8v4.9l1-.7v-3.8l1 .3v4.5l1 1v-5.8l1-.8v9.5l1-4.2v-4.3l1-.3v4.4l1-.4v-3.8l1-.7v5l1-.8v-4l1 .4v3.6l1 0v-3.9l1-.9v4.1l1-.1v-3.5l1-.3v3.6l1-.2v-3.9l1 0v3.4l1 .3v-4.9l1 .1v4.9l1-1v-3.7l1-.5v4.3l1 .4v-4.8l1-.5v4.4l1 .3v-4l1-.9v5.3l1-1.1v-4.8l1-.2v3.8l1 1.8v-4.8l1-.8v3.7l1 .8v-4.3l1-.1v4.7l1 .3v-4.4l1-.4v3.9l1 .6v-5.3l1 .2v5.4l1-1v-3.9l1 .4v4.2l1-.2v-4.4l1 1.1v4l1-.2v-3.5l1-.3v4.1l1 .1v-5.1l1 .4v5.1l1-.6v-4.2l1-.1v4.8l1-1.5v-3.3l1 .2v3.4l1 .4v-4.6l1 .1v4.6l1 .9v-5.2l1 .5v4.7l1-.3v-5.3l1 0v5.3l1-.2v-5.8l1 .8v5.2l1 .3v-4.9l1 .3v4.4l1-.7v-3.3l1 .1v3.2l1 .3v-3.9l1 0v3.7l1 1v-3.8l1-.5v3.9l1-.3v-3.1l1 .3v3.2l1 .3v-3.2l1-1.1v5.1l1 .5v-5.1l1 .3v4.4l1-.5v-4.6l1 .7v4.6l1-1.1v-4.4l1 .9v4.5l1-.1v-4.6l1 .5v4l1 .2v-4.5l1-.5v4.9l1 1v-4.5l1-.2v3.9l1 .3v-4.4l1-.6v4.4l1-.3v-3.2l1-.4v3.9l1-.8v-4l1 1.2v3.6l1 .3v-3.4l1-.7v4.2l1 .7v-4.2l1-.4v4.3l1-.7v-3.4l1-.8v3.5l1 .2v-3.7l1 0v4l1 .2v-3.9l1-.2v3.7l1 1.1v-3.8l1-1.2v4.4l1 .4v-4.6l1 .2v4.5l1-.9v-3.7l1-.3v4.7l1-.7v-3.9l1-.5v4.2l1 .7v-4.5l1 .4v3.2l1 .2v-3.7l1 .4v4.1l1-1.1v-3.4l1 .2v4l1-.6v-3.9l1 .2v4.3l1-.2v-3.6l1-.2v4.1l1 .6v-4.8l1 0v4.6l1-.9v-3.5l1 .1v4l1 .2v-4.9l1 .1v4.3l1 .7v-4.1l1-.6v4.5l1-1.5v-3.8l1 .6v3.9l1 .4v-4.3l1-.3v4.7l1-.6v-4.2l1 .3v3.9l1-.7v-3.2l1-.4v3.3l1 .3v-2.9l1-.3v4.2l1-.7v-3.7l1-.1v4.2l1-.3v-4l1 .3v3.7l1 .7v-4.6l1 .4v4.7l1-.8v-3.2l1-.5v2.7l1 1.2v-3.2l1-1.2v4.5l1 .3v-3.7l1-.7v4l1 0v-4.8l1 .2v5.2l1-.1v-5.1l1-.2v4.4l1 .4v-4.3l1-.5v5l1 .4v-4.9l1 .2v4.5l1-.4v-4l1-.1v3.2l1-.1v-2.9l1-.9v3.2l1 .5v-3.3l1-.5v4.3l1-.7v-3.3l1 .4v3.3l1-.5v-3.6l1 .2v4.3l1 .1v-3.8l1-.2v4.3l1 .5v-5.2l1 0v4.1l1-.2v-3.8l1-.3v3.8l1 0v-2.8l1-.6v3.6l1-.2v-2.9l1-.2v3.2l1 .5v-4.4l1 0v5.2l1 3.6v-15.5l1 7.4v5.7l1-1.3v-5.5l1 .4v4.6l1 .6v-4.9l1 0v5.9l1-.5v-6l1 .4v5.7l1 .4v-5.3l1-1.2v6.4l1 .3v-7l1-.3v7l1 1.8v-7.6l1-2.4v9.2l1 0v-8.9l1 1.4v7.4l1-.9v-6.5l1-.4v5.7l1 .1v-5.1l1-.4v4.7l1 .2v-4.8l1 1.1v3.6l1-.2v-3.6l1-.3v3.2l1 .1v-2.4l1-1v3.1l1 .6v-3.2l1-.6v3.6l1 .1v-3l1-.2v3.7l1 .4v-4.3l1 .3v3.9l1 .1v-3.2l1-1.2v3.6l1 .9v-4.2l1-.5v3.7l1 .6v-3.6l1-.2v3.1l1 .6v-4.5l1-.2v4l1-.1v-3.9l1 .6v4.3l1 0v-3.9l1 .6v3.2l1-.1v-3.3l1 .9v3.2l1-.1v-2.9l1-.2v3.5l1-.2v-3.6l1 0v3.2l1 .3v-3l1 .3v3.5l1 .6v-4.5l1-.6v5.1l1 1v-5.9l1-.4v6.2l1-.7v-5.7l1-.1v6.6l1-1.5v-5.5l1 .5v5.8l1-.4v-5.8l1-1.3v8.1l1-.4v-6.9l1 .8v6.6l1 2.4v-9l1-.9v7.7l1-.9v-8.9l1 2.3v6l1-.2v-5.4l1-.5v5.3l1 1v-5.5l1 .8v5.6l1-1.3v-5l1 .8v4.1l1-.7v-3.6l1-.4v4l1 .2v-4l1 0v3.1l1 1.1v-4.1l1-.1v4.2l1 .4v-5.3l1 0v4.4l1 0v-4l1-.3v4.8l1-1v-3.6l1 0v3.9l1 .4v-5.2l1 .8v3.8l1-.1v-3.8l1 .2v3.4l1 .1v-3.3l1-.6v3.5l1-.2v-2.7l1-.5v3.4l1 0v-3.4l1-.1v3.8l1-.1v-3.1l1-.5v3.4l1 .6v-4.5l1 .3v4.3l1-1.5v-3l1-.6v3.4l1 .3v-4.2l1-.2v4.3l1 .3v-4l1-.5v4.8l1-.7v-4.2l1-1v4.2l1 .6v-3.9l1-.2v4.1l1-.5v-4.4l1 .7v3.5l1 .4v-4.4l1 0v4.3l1-.1v-4.1l1 .4v3.8l1-.9v-3.1l1 .1v2.7l1 .6v-3.4l1-.5v3.9l1-.5v-3.5l1 .2v3.7l1-.3v-3.5l1-.9v4.3l1 1.4v-4.6l1-.4v4.8l1-1.2v-3.9l1 .7v4.3l1-.2v-4.7l1-.2v5.1l1 .3v-4.3l1-.9v4.9l1-.1v-3.9l1 .3v3.4l1 .3v-3.6l1-.6v4.4l1-.1v-3.4l1-.8v3.2l1 .9v-3.8l1-.8v4.6l1 .1v-5.6l1 1.7v3.9l1 .7v-4.6l1-.5v5l1 0v-5l1-.4v4.8l1 .8v-4.4l1-1.3v5.4l1-.1v-4.4l1 .2v3.7l1 .7v-4.6l1 .2v4.5l1-.2v-4.3l1 .4v3.6l1-.5v-3.1l1-.2v4.5l1-1.5v-3.6l1 .3v3.2l1 .8v-3.5l1-.9v4.3l1 .4v-3.9l1-.5v4.1l1-.5v-3.9l1-.3v4.7l1-.2v-4.3l1 .4v4.3l1-.7v-3.7l1 .8v4l1 .8v-6.1l1 .9v4.3l1 .6v-4.1l1 .2v4.3l1 .9v-6l1 1.2v3.7l1 .7v-4.7l1-.6v5.7l1 .5v-5.2l1-.3v4.3l1 .5v-4.4l1-.2v4l1 .2v-3.7l1 .4v3.8l1-.7v-3.3l1 .3v3.8l1 .7v-4.9l1 .4v4.6l1 .3v-4.1l1-.3v5.2l1-.5v-4.4l1-.1v5l1-.3v-4.2l1 .2v4.7l1-.6v-3.9l1-.7v4.8l1 .5v-5.5l1 .8v4l1-.7v-3.6l1-.6v5.3l1-.2v-4.6l1 0v4.2l1-.3v-4.4l1-.5v5.4l1-.2v-5.2l1 .2v4l1 .4v-4l1-2v5.6l1 0v-3.6l1-.5v5.4l1-.7v-4.3l1 .5v3.8l1-.5v-4.9l1 .8v4.7l1-.6v-4.4l1 .9v3.2l1 .1v-3.5l1-.7v5.1l1 .3v-4.3l1 .3v4.6l1-1.5v-4.5l1 0v5.6l1-.2v-5.7l1 1v5.4l1-.4v-5.5l1 .9v4.1l1 0v-4.8l1 .1v5.2l1-.8v-4.3l1-.5v5.9l1-.6v-5.9l1 1.4v3.8l1 .1v-4.7l1 .8v3.8l1 .1v-3.2l1-.9v4.3l1-.4v-3.3l1-.3v3.9l1-.8v-3.3l1 .3v3.8l1 .4v-4.5l1 .5v3.6l1 1.5v-5.5l1 .4v4.3l1 0v-4.1l1-.8v4.8l1-.2v-4.1l1 .7v4.1l1 .8v-4.9l1 .1v3.8l1 .8v-5.3l1 .8v4.5l1 .8v-5.5l1-.1v5l1-1.3v-4.3l1 .1v4.1l1 .3v-4.4l1 .2v4.4l1 .1v-4.7l1 .4v3.8l1 .7v-4.7l1-.2v3.6l1-.3v-3.6l1 .1v4.2l1-.4v-3.9l1 .4v3.4l1-.1v-3.7l1 .7v3.1l1 .4v-2.9l1-.4v3.4l1 .1v-4.1l1 .4v3.7l1 .2v-3.6l1-.3v3.6l1 .5v-4.1l1-1v5.6l1-.1v-5.3l1-.1v4.6l1 .3v-4.9l1 .4v3.8l1 .4v-4.3l1-.2v4.2l1 0v-4l1-.2v3.4l1 .3v-3.4l1-.2v3.8l1 1v-4.9l1 0v5.2l1 .1v-4.3l1 .1v4.5l1-.6v-4.7l1 .3v4.5l1-.9v-3.7l1 0v4.1l1 0v-5.1l1 1.5v4.3l1-.6v-3.7l1 0v4.1l1-.5v-4.5l1-.1v3.8l1 .3v-3.6l1 .4v2.9l1 .1v-3.8l1 0v4.1l1-.5v-3.7l1 0v4l1-.5v-3.3l1-.1v2.7l1 .3v-3.1l1 .1v4.1l1-.6v-4l1-.6v5.8l1-.9v-4.3l1 .1v4.4l1-.2v-4.6l1 .5v4.4l1-.4v-4.5l1 .9v3.3l1 1v-5.3l1 .1v5l1 0v-4.5l1 .4v4.2l1-.5v-3.5l1-.1v4.7l1 .2v-4.6l1-1.1v4.4l1 .7v-5.1l1-.5v5.6l1 .1v-5.7l1 1.1v3.4l1 .2v-4.1l1 .3v4.1l1-.2v-3.1l1-.5v3.8l1-.4v-3.8l1-.4v5.7l1-.2v-5.3l1 .1v5.4l1-1.4v-4.2l1 .5v3.9l1 .2v-4.2l1-.5v4.6l1-.1v-4l1-.2v4.2l1-.8v-3.6l1-.8v4.1l1 .3v-3.4l1-.7v3.9l1-.5v-3l1 .1v2.8l1 .4v-3.1l1 .4v3.1l1 .1v-3.2l1 .1v3.2l1 0v-4.4l1-.2v4.5l1 1.5v-5.1l1-.8v5l1-.3v-4.8l1 .9v4.4l1 .1v-4.2l1-.2v4.2l1-.2v-4.3l1 .5v3.9l1 .7v-5.3l1 .7v4.3l1-1v-3.1l1 .4v3.9l1-1.1v-4l1 .9v3.9l1-.4v-3.6l1 .1v3.4l1 1v-4.8l1-.5v5.3l1 .6v-4.1l1-.5v3.2l1 1v-4.1l1-.1v3.7l1 .1v-3.4l1-.1v4.3l1-1.4v-2.8l1-.1v3.1l1-.6v-2.9l1-.1v3.7l1-.7v-2.8l1-.3v3l1 .1v-3.4l1-.1v3.7l1 .1v-3.2l1-1.1v3.7l1 0v-3.4l1 .9v3.1l1 .2v-4.4l1 .2v3.7l1 .8v-5.1l1 .6v4.4l1-.8v-4l1 .3v4.5l1-.3v-4.6l1 .1v4.9l1-.4v-4.9l1-.5v6.2l1 .8v-6.3l1-1.2v4.7l1 .7v-4l1-1.2v6.1l1-.6v-6l1 .8v5.3l1-.1v-5.1l1 .2v4.5l1-.1v-5.8l1 .3v5.7l1-1.2v-4.6l1 1v4.1l1-.3v-4.6l1-.7v4.1l1 .6v-4.4l1 .2v3.8l1 .4v-4.6l1-.6v4.2l1 1.1v-3.6l1-.7v4.4l1-.3v-3.6l1-.2v3l1 .4v-3.4l1 .5v3.6l1-.7v-3.4l1 .7v3.1l1 0v-3.2l1-.3v3.4l1 .8v-4l1-.8v3.8l1 .5v-3.4l1 .6v3.8l1-.6v-4.3l1 .2v3.6l1 .9v-3.7l1-.3v3.6l1 .3v-3l1-.4v3.5l1 .7v-4.5l1 .2v3.5l1 .4v-3.5l1 0v4.8l1-.8v-3.4l1-.6v4.1l1 .3v-4.5l1 .7v4.9l1 0v-4.8l1-1v5.2l1 .6v-4.6l1-1.9v5l1 1.1v-4.5l1 .3v3.9l1-.1v-4.4l1-.6v4.7l1 .2v-4.2l1-.4v6l1-.7v-5.3l1-.4v4.7l1 .3v-4.7l1 .1v3.8l1 .7v-4.3l1-.2v5.2l1-1v-3.9l1 .6v4.1l1-.5v-3.5l1 .1v2.9l1-.1v-3.4l1-.5v3l1 .7v-4l1 .8v3.6l1-.4v-4.4l1-.3v5l1 .2v-3.9l1 .3v4.4l1-1.6v-3.4l1-1.2v5.5l1-.5v-4.1l1 0v5.1l1-.6v-4.1l1-.2v4.5l1 .2v-5.1l1 .9v3.7l1 1.6v-5.1l1 .3v4.1l1-.3v-3.9l1-.4v3.9l1 .5v-4.2l1 .2v3.3l1 0v-3l1 .2v3.9l1-.8v-4.7l1 0v5l1-.7v-3.3l1-.7v4.3l1-.3v-4.4l1 .5v4.6l1 .1v-4.8l1-.5v5.1l1-1v-4.6l1 1.2v3l1-.4v-3.2l1-.3v4.3l1 .5v-4.5l1-1.7v6.2l1 .2v-4.6l1 .2v3.9l1 .1v-4.1l1-.3v4l1 1.5v-4.5l1-1.2v5.8l1-.9v-3.6l1 0v4.5l1-1.2v-3.5l1-.2v4.3l1 .3v-4.9l1 .6v4.7l1-.3v-4.5l1-.1v4.1l1 .5v-4l1 0v3.6l1-.1v-4l1-.7v3.9l1 .5v-3.6l1-.2v3.8l1 .2v-4.4l1-.2v5l1-.2v-4.4l1-.7v4.8l1-.1v-4l1-.7v5.1l1 .1v-4.8l1 .1v3.9l1 .6v-4.9l1-.3v4l1 .7v-4.6l1 .4v4.6l1 .3v-4.3l1-.9v4.8l1-.8v-3.2l1 .2v3.4l1 .1v-3.9l1 .1v3.1l1-.3v-3.1l1 .2v3.5l1-.3v-3.4l1 .1v4.1l1 .3v-4.2l1 0v4.2l1 0v-3.6l1-.9v5"/>
<path class="tr" stroke="#008000" d="M138.5,795.7v4.3l1 .5v-4.3l1-2v5.2l1 .8v-4.8l1 .7v4.8l1-.8v-4.5l1 .1v6.1l1-.8v-4.2l1-1.2v5.5l1-.4v-4.4l1 1.2v3.6l1 0v-4.7l1 .6v4.4l1 .1v-4.5l1-.3v4.4l1-.8v-3.6l1 .5v3.8l1 .3v-3.8l1-1.1v5.6l1 0v-4.5l1-.3v4.2l1 .8v-5.5l1 1.2v4.4l1 .4v-5.5l1-.4v4.7l1 2.3v-6.3l1-.3v5l1 .6v-6.5l1-.2v5.7l1-.4v-3.9l1-.1v3.7l1 .2v-4.1l1-.5v4.6l1-.9v-4.9l1 1.3v5.1l1-.5v-5.8l1 .5v5.2l1-1v-3.7l1-1.1v5.4l1 .3v-5l1-.7v5.2l1 .4v-4.9l1-.5v4.4l1-.6v-4.7l1-2.5v10.8l1-3.9v-4.2l1 .7v4.7l1-.5v-5.8l1 1.2v5.3l1 .2v-5.5l1-.5v6.2l1-.5v-5l1-1.3v6.4l1 .6v-5.7l1-.9v5.6l1 .7v-5.9l1-.5v5.5l1-.4v-6.8l1 2.1v6.8l1-1.6v-7.2l1 1.7v7.6l1-1.7v-6.7l1 .5v5.4l1 1v-6.3l1-.6v5.8l1 .5v-5.2l1-.2v5.1l1-.7v-5l1-.2v6.7l1-.9v-5.7l1-.3v5.8l1-.4v-4.9l1 .1v5.9l1-.1v-5.9l1 0v5.2l1-1.3v-4.8l1-.2v5.9l1 .4v-5.1l1-1v4.6l1 .9v-5.3l1-.6v5.3l1-.3v-5.2l1 .7v6.2l1-1.8v-5.2l1 1.1v3.6l1-.9v-2.8l1 .2v4.1l1-.8v-3.4l1 .1v3.7l1-.1v-3.1l1-1v4.4l1-.1v-3.7l1 .5v4.2l1-.4v-4.4l1 .4v5.2l1 .1v-7.6l1 .9v6.6l1 .9v-6.6l1-.6v7.2l1-.1v-6.2l1-.4v6.6l1-.3v-4.6l1-.2v6.1l1-.9v-5.8l1 .4v5l1-.4v-5.7l1 1.7v5l1 .2v-7l1 .7v6.4l1 2.3v-8.7l1-.3v6.3l1 .1v-5.3l1 .4v4.8l1-.1v-4.3l1 .1v5.2l1 .3v-4.8l1-1.4v5.7l1 .3v-5.1l1 .1v4.6l1 0v-5.2l1 .2v5.3l1 0v-4.3l1-1v5.5l1 .2v-5.6l1 .9v5.1l1-1v-4.7l1 0v5.1l1-.8v-4l1-.1v3.4l1 1v-4.6l1-.4v4.5l1 .3v-5.1l1 .7v3.7l1 .5v-5.6l1-.1v5.9l1-.8v-6.1l1 1.3v4.9l1 .2v-6.7l1 .6v5.7l1 .6v-6.4l1 .7v5.8l1 .1v-6.2l1 .2v4.8l1 .3v-4.6l1 .8v4l1-.3v-3.8l1 .2v4.1l1-1.2v-3.5l1-1v4.6l1 1.2v-4.6l1-.4v4.9l1 0v-5.4l1 0v4l1 .8v-4l1-.7v4.4l1-.6v-3.8l1 .1v4.2l1-.1v-4.4l1 1.3v3.4l1 1.6v-5.6l1 .4v3.9l1 .6v-4l1-.1v2.9l1 1.1v-4l1 .3v4l1 1.1v-5.1l1-1.8v5.5l1 1.3v-5.6l1 .5v4.9l1-1.1v-5.4l1 .7v5.3l1 .8v-5.4l1-.5v5.3l1-1.1v-4.4l1 .2v4.5l1 1.3v-5.7l1-.6v4.8l1 .9v-5l1-.3v5.4l1 0v-5l1 .8v4.1l1 1.4v-6.1l1-1.1v6.8l1-.6v-5.4l1 .4v4.7l1 1.5v-7.3l1-.3v7.1l1-1.1v-5.9l1 .4v6.8l1-.6v-6.1l1 .9v4.2l1-.4v-3.9l1-.6v4.9l1-.1v-5l1-.2v4.2l1 .9v-4.6l1-.4v4.7l1 .2v-4.5l1-.6v4.9l1-.5v-4.9l1 1v4.8l1-.6v-3.9l1-.6v4.7l1 .8v-5.6l1-1v6.8l1-.4v-5.4l1 0v4.4l1 .1v-4.7l1-.9v6.4l1-.4v-5.6l1 .3v4.6l1-.2v-5.3l1 .6v5.4l1 1.4v-5.6l1-1.4v4.9l1 1.5v-6.5l1-.1v5.9l1 .5v-6.1l1 1.6v3.7l1 0v-4.7l1-.2v5.4l1-1v-4l1 .5v3.2l1 .2v-3.6l1-.5v4.1l1-.2v-3.6l1-.8v4.3l1 .8v-5.4l1 .1v5.7l1-.1v-5.7l1 1v4.2l1 .2v-5l1 .6v5.2l1-1.1v-3.9l1 .2v3.5l1 .1v-3.5l1-.2v4.4l1 1.1v-5.8l1 .9v4.8l1 .3v-5.7l1 .5v4.5l1 0v-5.4l1-.4v6l1 .4v-5.9l1 .5v4.2l1 .1v-5.3l1-.8v6.1l1 0v-5.4l1-.9v7.3l1-.7v-7l1 1v7.5l1-2v-6.5l1 2.1v4.5l1-1v-4.3l1 1.3v3.8l1 .2v-4.7l1 .6v4.7l1-.2v-4.3l1 .1v4.2l1-.3v-4.1l1 .3v4.2l1 .5v-4.6l1 .6v3.7l1 1v-5.3l1 1.2v3.7l1 .3v-4.5l1-.6v5.1l1 .3v-4.7l1-.7v6.4l1 .6v-5.9l1-1.2v6.9l1-2.2v-4.6l1 .4v4.1l1-.1v-4.6l1 .9v3.2l1 .2v-3.7l1-1.6v5.4l1-.2v-4.4l1 .3v4.5l1-.5v-5.4l1-.1v4.8l1-.5v-3.4l1 .1v3.6l1 .1v-5.1l1 .4v4.3l1-.4v-4.2l1 .1v4.7l1 .9v-4.6l1 .2v3.9l1 .2v-4.9l1-.4v5.5l1-.4v-4l1-.7v3.8l1 .2v-3.7l1-1v5.1l1 .2v-3.8l1-.2v3.6l1 0v-4.2l1-.5v4.8l1-.4v-4.2l1-1.2v5.3l1 0v-5.9l1 0v5.3l1-.2v-4.6l1-.2v4.8l1-.3v-5.2l1 .8v6.2l1-.5v-5.8l1 .5v6.2l1-.9v-5.3l1-.8v5.4l1 .6v-5.8l1-.2v5.3l1 .9v-4.4l1-.1v5l1-.6v-4.9l1 .3v4.8l1-.6v-4.2l1 .3v4.6l1 .7v-5.2l1-.4v5.2l1 1v-6.1l1-.2v5.6l1-.7v-4.1l1-1.2v6.7l1-.8v-5.7l1-.8v6.7l1 .5v-5.2l1-2.1v6.1l1 1.7v-6.1l1-.9v6l1 .2v-5.3l1-1.3v6.1l1 .1v-4.7l1-.6v4.4l1 .6v-5.2l1 .2v4.9l1 .1v-4.7l1-.8v4.2l1 .3v-3.8l1 .1v4.3l1-.1v-5.7l1 1v5.7l1-.4v-5.5l1-.1v5.1l1 1.3v-5.3l1-.8v5.4l1-.7v-5.2l1 1.2v4.6l1 0v-4.2l1-.8v3.3l1 .1v-4.2l1 .6v4.1l1 .9v-5.4l1 1v4.8l1-.7v-4.9l1-.1v5l1 .6v-6l1 .2v4.5l1 1.1v-5.5l1 .1v5l1 .6v-5.7l1 .6v5.2l1-.6v-4.2l1 .5v4.1l1 .8v-5.2l1-1v5.3l1-.6v-4.8l1-.2v4.5l1-.1v-4.4l1 .5v4.8l1 .6v-6.1l1 1v4.6l1-.1v-3.9l1-.9v4.2l1 .2v-4.3l1-.2v4.8l1-.7v-4.1l1 .5v4.7l1-.2v-4.9l1 .3v5.1l1-.4v-5l1 1.2v4.6l1 .5v-5.1l1 0v4.3l1-.9v-4.9l1 .4v5.7l1-1.8v-3.7l1-.1v5l1 1.1v-6.3l1 1.2v4.2l1-.2v-4.4l1-.4v5l1-.7v-3.9l1-.9v5.3l1 1v-4.9l1-.8v5.3l1-.4v-4.9l1 .4v5l1 1.2v-5.4l1-.5v6.1l1-.6v-4.5l1-.1v4.4l1 .1v-5.2l1 .7v4.1l1 .5v-4.6l1-.8v6.4l1-.9v-4.2l1-.4v5.2l1-.6v-5.1l1 .8v5l1-.7v-5.4l1-.2v4.4l1-.1v-5.7l1 .6v5.3l1-.1v-5.1l1-1.3v6.8l1-1.3v-5.6l1-.3v5.8l1 1.1v-6.6l1-.2v5.6l1 0v-4.4l1-.4v5.5l1-1.7v-5.1l1 .4v6l1 .2v-5.4l1 .1v4.5l1-.1v-4.7l1-.9v5.4l1 1.5v-6.6l1 .6v4.9l1-.1v-4.1l1-.6v5.4l1-.6v-4.7l1 1.3v4l1-.5v-3.8l1-1v5.2l1 .5v-5l1-.4v5.1l1 1.1v-6.2l1 0v5.5l1-.1v-5.4l1 .7v5l1 .4v-4.7l1-.7v5.7l1 .7v-6.7l1 1.2v4.1l1 .4v-4.8l1-.1v4.7l1-.4v-4.7l1 0v5.2l1-.3v-3.8l1-1v5.3l1 .6v-5.2l1-.4v5.3l1-.8v-3.9l1 .7v3.7l1-1v-2.9l1 .5v3.2l1 .1v-3.6l1 .6v3.6l1 .5v-5.1l1 .3v3.9l1 .6v-4.4l1-.4v5.8l1-.8v-4.5l1 .6v5l1-1v-6l1 1.1v5.6l1-.6v-6.2l1 .2v4.7l1 .3v-5.5l1 1v4.2l1 0v-4.5l1-.7v5.3l1-.2v-4.9l1 .3v4.3l1 1v-5.2l1 .1v4.9l1-.1v-3.9l1 .4v4.1l1-.8v-3.2l1-.3v3.7l1 .5v-4.7l1 1.2v3.7l1 .3v-4.2l1 .3v3.7l1-.2v-4.5l1 .7v4.6l1-.1v-5l1-.2v5.9l1 .3v-5l1-.7v5.5l1-1.3v-5.1l1 .7v4.4l1 .7v-4.8l1-1.3v5.7l1-.9v-5.2l1 .6v5.4l1-.4v-5.6l1 .3v5.6l1-.7v-5l1 .1v5l1-1.3v-4.4l1 1v3.5l1-.1v-4.4l1 1v3.1l1 .6v-4.3l1 .5v4.4l1-.1v-3.9l1-1.5v5l1-.4v-5.7l1 .8v5.7l1-.1v-4.1l1-.4v5.9l1-.4v-6.7l1 .6v7.1l1-1.5v-5.8l1 .3v5.9l1-.7v-5.4l1 .2v4.7l1 .9v-6.6l1 .7v6.2l1-.7v-5.2l1-.2v5.6l1-1v-5.3l1 .8v4.5l1 1.1v-4.3l1-1.4v5.7l1 .7v-5.1l1-1v4.1l1-.1v-3.8l1-1v4.4l1 .1v-3.6l1 0v3.1l1 .8v-4.2l1 0v4.1l1 1.1v-5.1l1-.3v4.5l1 1.6v-6.1l1-2.9v10.8l1-2.2v-6.3l1 .8v7.3l1-2.3v-5.2l1-.5v6.3l1-.3v-6.4l1 1.3v6.7l1-.9v-6l1-.8v6.5l1-.1v-5l1-1.2v6.6l1-.4v-6l1-1.1v6.5l1 .8v-6.3l1-1.1v7l1 0v-6.9l1-.6v7l1 .9v-7.3l1 1.7v5.5l1-1.3v-4.9l1 .1v6.1l1-.9v-5.4l1 .6v5l1 1.6v-9.1l1 .9v7.7l1-.5v-6.7l1 .3v4.9l1 1.5v-6.9l1 .8v6.4l1 0v-6.3l1-1.4v7l1-.7v-6.5l1 .7v5.1l1-1v-4.3l1 .6v4.7l1-.5v-5.2l1 .5v4.7l1-.4v-4.1l1-.1v4.2l1 .2v-4.2l1 .2v4.7l1 .3v-5.2l1-1.1v5.9l1 .9v-5.6l1-1.4v5.9l1 .6v-5.3l1 .1v5.4l1-.7v-5l1 .8v4.2l1 .3v-4.4l1-.8v4.1l1 .1v-3.2l1-.5v5.1l1-.2v-5l1 .4v4.5l1 .1v-5.3l1 1.1v5.6l1 .3v-5.2l1-.6v4.6l1 .5v-7.3l1 1.9v4.2l1 .3v-4.9l1 0v6.3l1-.9v-4.5l1-1.6v5.8l1 .1v-4.8l1-.4v6l1 .6v-6.8l1 0v6.2l1-.1v-6.7l1-.3v5.9l1-.8v-4.1l1-.8v5.5l1-.3v-5.1l1 1v3.6l1 .7v-5.2l1 0v4.6l1 .5v-4.4l1-.8v4.8l1-.2v-5.3l1 .1v5.3l1-1v-4.2l1 .1v4.4l1 2.6v-6.8l1-.4v5.1l1-.4v-5.3l1 .9v4.8l1-.6v-4l1-.7v5.3l1-1v-3.7l1-.6v4.3l1-.4v-3.3l1 .6v4l1 .3v-4.5l1-1.3v5.2l1 .1v-4.9l1 .7v5.9l1-1.6v-5.2l1 .5v5.4l1-.5v-5.5l1 .8v4.7l1-.1v-4.9l1-.3v4.8l1 1.1v-5.7l1 .7v4.7l1-.8v-4.9l1 .4v4.4l1 .1v-4.9l1 .5v4.9l1 .7v-5l1-.8v4.5l1 .5v-4.4l1 1.2v4.2l1-.3v-4.3l1-.1v4l1 .9v-4.5l1-.7v4.3l1-.2v-3.8l1 .3v4.5l1 .6v-5l1-.2v4.4l1 .1v-3.8l1-1v5.3l1 .3v-5.6l1 .5v3.8l1 .7v-4.6l1-.8v4.3l1 .1v-3.6l1-.3v4.4l1 .2v-5.4l1 .6v5.1l1-.1v-5.3l1 .2v4.3l1 .1v-3.9l1-.6v4.8l1 .2v-4.4l1 0v4.4l1-.7v-4l1 .1v3.9l1 1v-4l1-.6v4.3l1 1.2v-5l1-.3v4.8l1 .1v-4.6l1-1.1v6.3l1-.3v-5.2l1-.7v5.4l1 .3v-4.7l1-.7v5.3l1-.6v-4.9l1 .1v4.6l1-.2v-4.6l1 .6v4.3l1-.3v-3.4l1-.8v4.9l1 .6v-4.5l1-.9v4.5l1-.2v-3.9l1-.3v3.6l1 .8v-3.5l1 0v3.2l1 .1v-3.9l1-.3v4.4l1-.9v-4.6l1 .3v5.5l1-.6v-5.6l1 .9v5.2l1-1v-4.4l1 .6v4.7l1-.6v-4.1l1-.1v3.5l1 .1v-3l1-1.4v4.1l1 .2v-3.4l1-.7v4.9l1 .1v-5.1l1 1.1v4.3l1 .2v-5.9l1 0v5.4l1 .8v-7l1 .2v7.2l1-.7v-5.8l1 .1v6l1-.1v-6.8l1 1.5v5.5l1 .1v-5.2l1-1.8v5.9l1 .1v-5l1 .9v4.3l1-1.1v-4.7l1 .6v4.8l1 0v-4.9l1 .5v5.1l1-1v-4.4l1 .9v4l1 .1v-5.2l1-.1v5.3l1-.1v-4.7l1-.2v5.2l1 .1v-4.8l1 1.2v3.2l1 .6v-5l1 0v4.5l1 1v-5.4l1-.9v5.7l1 0v-4.9l1 .5v4.4l1 .2v-5.6l1 .5v4.8l1 .7v-5.8l1 .3v5.6l1-.7v-4.7l1-.8v6.9l1-.3v-6l1-.5v5.6l1-.6v-5.4l1 .5v6.3l1-1.3v-4.8l1 .5v4.8l1-1.4v-4.5l1-.2v4.9l1 0v-3.9l1-.1v4.5l1 .4v-4.8l1 .1v4.5l1 .6v-5.2l1-.3v4l1 1.3v-5.4l1 .2v6l1-1.5v-5.1l1 1.8v3.6l1 .8v-4.9l1-1.1v5.3l1 .3v-5.6l1 .8v4.7l1-.2v-4.7l1 .3v4.7l1 .6v-4.5l1-.5v5l1 1v-6.4l1 .5v5.6l1-.5v-4.4l1-.8v5.8l1-.8v-5l1-.8v6.4l1 .9v-7l1 .4v7.1l1-2.2v-4.6l1 .2v4.5l1 1v-5.5l1 1v3.9l1 .1v-3.8l1-.4v5.3l1-.5v-4.2l1-1.9v6.5l1-1.2v-4.6l1 .5v4.8l1-.2v-4.8l1-1.4v7.2l1-.5v-5.8l1-.5v6.1l1-1.4v-5.1l1 .8v5.4l1-.9v-5.7l1 1.7v4.5l1-1.1v-4.5l1-.6v4.2l1-.2v-4l1 .3v5l1 0v-5.3l1-1.6v5.3l1 .7v-4.3l1 0v5.6l1-.5v-5.6l1 .2v5.8l1-.6v-5.1l1 .7v5.2l1-.8v-6.5l1 2v4.7l1-.9v-4l1 .2v4.4l1 .3v-3.9l1-.8v4.4l1 0v-4.3l1 .1v3.8l1 .7v-4.5l1 .1v4l1 .4v-3.8l1-.3v4.4l1-.2v-3.3l1-1.2v4.9l1-.3v-3.8l1 .2v5.1l1-.9v-4.8l1 .2v4l1 .8v-5.3l1-.8v5.8l1 .2v-5.6l1 .8v4.9l1-.5v-5.6l1 .7v4.3l1 .6v-4.5l1-.4v4.9l1-.2v-4.7l1 .3v4.3l1 .5v-4.4l1-.4v5.4l1-.7v-4.5l1-.5v4.5l1-.1v-3.5l1-.2v4.1l1-.5v-4.5l1 1.1v4.5l1 .1v-5.1l1-1.4v6.2l1 1.2v-6.5l1-.3v6.8l1-.9v-4.9l1-.8v7.8l1-2.1v-5.8l1-1.3v7.9l1-.5v-5.4l1-2.9v7.5l1-.5v-5.7l1 1v4.2l1 1v-4.8l1 .2v4.4l1-.5v-4.2l1-.7v5.1l1 1.1v-5.7l1 0v4.9l1-.1v-5l1 .4v5.8l1-.2v-5.6l1-1.7v6.7"/>
<path class="tr" stroke="#000000" d="M138.5,827.5v3.3l1 .8v-4.8l1 .7v4.3l1-1.1v-3.9l1 .5v5.1l1 0v-4.9l1 .1v3.7l1 .4v-4l1 0v3.7l1 .6v-3.8l1 .2v3.9l1-.4v-3.7l1 0v3.8l1 1v-4.8l1 .3v3.8l1-.1v-3.7l1 .1v3.9l1 0v-3.8l1-.2v3.3l1 .5v-4.2l1 .7v4.4l1-1.1v-3.4l1-.1v3.6l1 .5v-4.4l1-.6v4.1l1-.2v-3l1 0v3.5l1 .5v-4.3l1-.3v4.4l1 .9v-5.3l1 .8v4.9l1-.7v-5.1l1 .3v4.2l1 .7v-4.5l1 .2v3.4l1 .1v-3.4l1-.7v3.5l1 .9v-4.3l1 .1v4l1 .4v-4.7l1-.8v4.6l1 .8v-5.2l1 .2v5.4l1 0v-5.1l1 .3v4l1 0v-4.3l1 0v4.6l1-.2v-5l1 .3v5.3l1 .5v-5.3l1-.3v4.1l1 1.4v-5l1 .4v4.3l1-.4v-4.5l1 .3v4.1l1-.5v-3.3l1-.2v3.6l1-1.2v-2.7l1 .1v3.2l1-.3v-3l1-.3v3.1l1 .5v-4l1-.4v3.9l1-.6v-2.8l1-.1v2.9l1-.3v-2.9l1-.7v3.8l1-.2v-3.8l1 .7v3.4l1-.9v-3.3l1-.4v3.3l1 1.2v-3.8l1-.3v3.8l1 .4v-4.3l1-1v5.2l1 .2v-5l1-1.4v5.5l1 .4v-4.5l1-.1v4.4l1-.2v-4.1l1-1.1v4.4l1 .9v-4.3l1 0v4.4l1-.6v-4.2l1-.1v4.2l1 .4v-3.9l1-.4v3.5l1-.4v-2.3l1-.8v3.4l1 .3v-3l1-.4v3.6l1-.6v-2.8l1 .6v3.1l1 .1v-3.8l1 .7v2.9l1 .5v-3.5l1-.3v4l1 .3v-4.2l1 .1v3.7l1 1.2v-4.8l1-.4v6.1l1-.4v-4.5l1 .7v4.4l1-.1v-5l1-.4v6.3l1-1.6v-5.2l1 .1v5.6l1 .8v-6.3l1 .7v5.8l1-.5v-5.6l1-1v5.4l1 .7v-4.8l1-1.4v7.3l1 0v-6.9l1 .2v6.8l1 1.3v-7.7l1-.6v7.2l1-1.2v-6l1-.5v7.6l1-.1v-6.7l1-.1v5.6l1-.3v-6.3l1-.3v9l1-1.7v-5.7l1-1.7v9.4l1-.8v-8.3l1 .3v7l1 0v-7.4l1-.5v7.5l1 .2v-5.9l1 .7v5.5l1 0v-7.2l1-.2v7.3l1-.4v-5.7l1-.7v8l1-.9v-7.6l1-.3v7.1l1 .3v-4.6l1-1.9v8.4l1-2.2v-6l1 1.8v4.2l1-1v-3.6l1-2v3.9l1-2.2v-3.4l1-.8v4l1-.5v-3.6l1 .4v2.9l1 .3v-3l1-.7v4.1l1 .5v-3.8l1-1v5.1l1-.1v-4.4l1 0v3.1l1 .3v-3.9l1 .4v3.5l1 .4v-4l1-.3v4.1l1 .7v-6.8l1 .7v8.4l1-1.3v-8.2l1 .6v7.3l1 2.3v-11.7l1-.2v12.8l1-2.9v-7.5l1 .9v6.8l1-.2v-7.1l1 1.4v5.4l1-1.1v-4.8l1 .8v4.8l1-.6v-4.6l1 1.3v4.1l1-1.3v-2.9l1-.2v3.5l1-.6v-3.6l1 .3v3.6l1 0v-3.6l1 .5v4l1 .1v-4.8l1 1.3v3.3l1 .9v-4.7l1-.5v5l1-.8v-4.1l1-.3v4.3l1 .6v-4.7l1 1v3.7l1 .9v-4.7l1-.2v4.9l1-1.2v-3.6l1-1v5.1l1-.3v-4.1l1 .6v3.6l1 .2v-4.6l1 .2v5.1l1-1v-3.7l1 .1v4.5l1 .5v-4.9l1 .5v4.5l1-.4v-4.3l1 .4v3.4l1-.2v-3.3l1-.3v3.6l1 0v-3.1l1-.2v4.6l1 .6v-5.1l1 .1v5.1l1-.1v-6l1 .1v5.6l1-1v-4.3l1 1.4v4.3l1-.4v-4l1 .2v3.3l1-.2v-4l1 .5v4.1l1 .1v-3.6l1-1.4v4.9l1 .4v-4.1l1-.7v4.4l1 .5v-4.3l1-.8v5.3l1-.6v-4.5l1 0v5.7l1 0v-4.5l1-.1v3.5l1 .6v-4.2l1-.3v6.8l1-1.8v-4.4l1-.6v4.3l1 .6v-4.5l1 .2v4.3l1-.2v-3.5l1-.6v5.4l1-1v-4.3l1 1v6.1l1-1v-5.2l1-.3v4.6l1 .4v-5.5l1 0v5.2l1-.4v-4.9l1 1v3.3l1 .1v-3.9l1 .5v4.2l1 .2v-4.2l1-.5v4.3l1-.1v-3.5l1 .1v2.9l1 1.1v-4.5l1 .3v3.3l1-.3v-3.6l1 .7v3.3l1 .5v-3.5l1 .1v2.9l1 0v-3.3l1 0v4.1l1-.4v-4.5l1-.8v5.5l1 1v-5.9l1 .2v5.7l1-.9v-4.8l1 1.1v4.7l1-1.2v-3.8l1-.1v3.1l1 .7v-3.7l1-.5v3.3l1-.3v-3.1l1-.1v3.7l1 .4v-3.4l1-.1v3.3l1 .3v-4.3l1 .3v3.3l1 .7v-3.5l1 .5v2.8l1 .1v-3.6l1 .3v2.7l1 .1v-3.9l1 1.4v3.2l1 .1v-4.2l1 .9v3.7l1-.1v-4.4l1 .5v4.3l1-.9v-5.1l1 1.4v5.2l1 .2v-4.6l1 .5v4l1 .3v-4.5l1 .1v4.4l1-.3v-3.8l1-.3v4.4l1-.1v-3.9l1 .1v5.3l1-1.5v-3.6l1-.3v5.3l1 .3v-4.6l1 .1v4.7l1-.4v-4.1l1 .1v3.5l1 1.3v-4.4l1 .1v3.8l1-.1v-4l1-.2v4l1-1v-2.9l1-.5v2.7l1-1.2v-2.7l1-1.4v3.5l1-.4v-4.1l1-1.1v3.3l1-1.2v-3.5l1 .2v3.2l1 .6v-3.6l1-.9v4.3l1-.1v-4.6l1 .2v5.1l1-.4v-4.4l1 .7v3.4l1-.4v-3.8l1 .6v3.9l1 .2v-4.2l1 .2v4.2l1 .1v-3.9l1-.3v4.1l1-.4v-3.1l1-.4v4.1l1-.4v-4.6l1 .7v4.7l1-.6v-4l1-.2v4.1l1 .6v-4.4l1 .3v3.6l1 .4v-4.9l1-.2v6.2l1-.7v-4.3l1-.6v4.6l1-.9v-4.2l1 .5v4.9l1-.9v-4l1 .9v2.9l1 .4v-3.1l1-.4v3.8l1 .4v-4.5l1 .2v3.8l1 0v-3.8l1-.8v4.8l1 .9v-6.1l1 1.2v4.1l1 .5v-3.9l1-1.3v3.8l1 .1v-3.9l1 .6v2.9l1 .4v-3.7l1 .1v4.4l1-.3v-4.9l1 .6v4.3l1-.2v-4.9l1 1.4v4l1 .2v-4.1l1-.6v4.7l1-1v-3l1-.7v5.2l1-.7v-4.2l1 .3v3.3l1-.3v-3.4l1 .3v3.2l1 .2v-3.3l1-.3v4.3l1 .3v-4.5l1 .9v3.3l1 1v-4.4l1-.9v4.3l1 .4v-4.7l1 .1v4.5l1 .7v-5.4l1 .4v5.4l1-.6v-4.4l1-1.1v4.4l1 .3v-4.2l1 .3v3.8l1 .3v-3.6l1 .3v2.8l1 .2v-3.6l1-.3v3.9l1-.1v-3.4l1 .2v3.7l1-.6v-3.6l1 .7v3.8l1 .3v-4.3l1-.6v5.4l1-1.3v-3.5l1-.8v4.3l1 .8v-4.4l1-.2v5.2l1-.2v-5.9l1 .6v4.7l1 .5v-3.9l1-.7v3.4l1 .6v-3.5l1-.8v3.9l1 .4v-3.3l1 .2v2.8l1 .4v-3.6l1 .1v3.4l1-.2v-4.1l1 .5v3.8l1-.3v-3.7l1 .2v3.3l1 0v-3.2l1-.3v3.7l1 .4v-3.5l1-.2v4.2l1 .7v-4.5l1-.9v5.1l1-.2v-4.5l1-.3v4.7l1 .4v-6.2l1 1.3v4.7l1 0v-4l1 .7v2.7l1 .2v-3.9l1 1v2.9l1 .3v-4l1 .3v4.6l1-.2v-4.7l1 1.2v4l1 .1v-5l1 .9v4.1l1-1.1v-3.9l1 .5v3.8l1 .6v-4.6l1-.7v3.8l1-.2v-3.3l1 .7v3.5l1-.8v-3.7l1 .2v3.1l1 .4v-3.1l1-.4v3.7l1-.3v-3.8l1-.8v5.3l1 .2v-4.4l1 .4v3.9l1 .7v-5l1 .7v4l1 0v-4.9l1 .1v5.1l1 1.4v-5.3l1-1.7v6.3l1-.8v-4.8l1-.2v5.4l1 .1v-4.9l1-.8v4.1l1 .4v-3.1l1-.1v3.1l1 .8v-4.9l1 .4v5l1 0v-4.8l1-.2v4.3l1 .4v-4.3l1-.1v4.2l1 .2v-4.1l1 0v3.7l1-.8v-4l1 .6v4.5l1-.5v-4.4l1-.1v4.6l1 .7v-4.4l1-.2v4.3l1 .3v-4.7l1-.4v4.9l1-.9v-3.7l1-.7v5l1-1v-3.1l1-.8v4.5l1-.7v-3.6l1 1v3.9l1-.6v-3.6l1-.2v4.1l1 .2v-3.6l1-1.3v4.5l1 .2v-4.3l1 .1v4.3l1-.8v-2.8l1-.8v3.7l1-.1v-2.6l1-.3v3.3l1-.2v-3.2l1 .4v3.5l1 .4v-3.6l1-.4v4l1-.9v-2.3l1-.4v3.1l1 .9v-4.8l1 .8v5.3l1 .4v-6.1l1 .2v5.1l1-.1v-5l1 .7v4.1l1 .3v-4.3l1-1.2v5.2l1-.9v-3.4l1 0v3.5l1 .1v-4.1l1 .9v3.6l1-.3v-4.1l1-.1v5.8l1-1.3v-4.5l1-.6v5.3l1-.3v-4.3l1-.3v5l1-.4v-4.2l1 .5v5l1-1.3v-3.7l1-1v4.6l1-.2v-4.1l1 .2v4.5l1-.4v-4l1 1v4l1-.8v-3.7l1-.6v4.6l1-.6v-4.1l1 .3v3.5l1 .7v-4.2l1 .3v4.4l1 .3v-4.2l1-1.6v5.7l1-.1v-5.1l1 1v3.7l1 .9v-4.4l1-.6v4.7l1-1v-3.3l1 .1v4.2l1-.9v-3.8l1 .3v3.2l1-.2v-2.6l1-.7v3.7l1 .3v-3.2l1-.2v3.6l1-.9v-2.8l1-.8v3.3l1 .5v-3.3l1 0v2.8l1 0v-2.9l1-1v5.3l1 .2v-5.3l1 0v6l1-1v-4.6l1 .6v3.9l1-.5v-4.1l1 .5v3.7l1 .5v-3.8l1-.6v3.6l1 .8v-4.3l1 .3v4.3l1-.3v-3.7l1-.4v3.5l1 .6v-3.2l1-.8v4l1 .2v-3.9l1-.3v3.6l1 .7v-3.7l1-.8v3.3l1 .3v-3.6l1-1v3.9l1 .3v-4.6l1 .7v4.5l1 .3v-5.3l1 .1v4.1l1 0v-4.4l1-.3v4.6l1-.3v-3.8l1-.4v4.4l1-1.3v-3.2l1-.1v4.1l1-.4v-3.5l1-.5v4l1-.2v-4.3l1 .7v3.3l1 1.4v-5.6l1 1.1v3.7l1-.2v-4.7l1 1v3.3l1 1v-4.3l1-.1v3l1 .3v-3.8l1 .6v3.6l1-.6v-3.2l1 0v4.1l1-.8v-2.5l1-.2v2.4l1 .5v-3.1l1 .4v2.7l1 .4v-3.5l1 .2v3.7l1 .3v-4.6l1 .6v3.6l1-.2v-4.1l1 .8v4.1l1-.4v-4.8l1 .7v4.3l1-1v-3.6l1-.3v3.2l1 1.2v-4.8l1 0v4.6l1-.9v-3.8l1 .1v5.5l1-.1v-5l1 .1v4.1l1-.1v-3.7l1-.5v3.5l1-.1v-3.2l1-.1v3.4l1 .8v-3.3l1-1.2v4l1 0v-3.9l1-.5v4.5l1 .2v-3.7l1-.6v4.8l1 .7v-4.6l1-1.3v4.9l1-.1v-5l1 .2v5.2l1 .4v-4.3l1-.2v3.9l1-.6v-3.1l1-.9v5.4l1-1.2v-3.7l1-.1v4l1-1.2v-3.1l1 .4v3.3l1 .8v-3.2l1-.6v3.8l1 .7v-4.5l1 .3v4.4l1-.5v-3.5l1-.4v5.4l1-.8v-4.2l1 .7v4.6l1 0v-4.2l1 .9v3.2l1 .1v-3.9l1 0v4.1l1-.2v-3.3l1 .7v3.2l1-.6v-3.1l1-.4v3.4l1 .1v-2.9l1 .2v2.6l1 .5v-3.5l1-.2v3.3l1 .9v-4l1 .1v3.5l1 .1v-3.7l1-.1v3.3l1 .8v-3.8l1-.2v3.3l1 .5v-3.2l1-.3v2.9l1 .2v-2.8l1 .4v2.4l1 .7v-3.2l1 .1v2.9l1 0v-3.3l1-.1v3.7l1-.1v-4l1-.2v4.3l1-.7v-3.4l1-.1v4.2l1 0v-3.9l1 .4v3l1-.8v-2.8l1-.4v3.6l1-.8v-2.2l1-.8v3l1 .8v-3.2l1-1.2v3.2l1-.1v-2.7l1-.4v3.3l1-.5v-3l1 1.1v2.3l1-.4v-2.2l1-.5v2.9l1 0v-2.5l1-.9v2.8l1 .2v-2.6l1-.2v2.7l1-.6v-1.8l1-.3v2.5l1-.2v-2.1l1 .2v2.5l1 .2v-2.5l1 .2v3.2l1-.9v-2.2l1-.5v3.7l1 1.1v-3.9l1-.2v3.5l1 .9v-3.1l1-.2v2.5l1 .2v-2.9l1 .6v2.9l1-.7v-2.4l1 .6v2.1l1 .6v-2.5l1 .8v2.5l1-.3v-2.4l1 .4v2.5l1-.4v-2.3l1-.3v2.4l1 .7v-2.6l1 0v2.3l1-2.1v-2l1-6.9v2.4l1-3.5v-3.3l1-.9v2.2l1-.8v-2.1l1-.8v3.1l1-.2v-2.9l1 .6v2.9l1 .2v-3.1l1 .9v2.4l1 1v-3.3l1 .7v2.9l1 0v-2.4l1 0v2.4l1 .4v-2.3l1-.1v1.9l1 .8v-2.2l1 0v2.4l1 .5v-2.8l1 .3v3l1 .5v-3.5l1 .9v3.1l1 .3v-2.9l1 .1v2.2l1 0v-2.3l1 .2v2.9l1-.4v-2.7l1 .5v2.2l1 .3v-2.5l1 1v1.8l1 .1v-2.3l1-1.3v4.6"/>
</g>
<rect class="ln" x="138.5" y="48.5" width="874.0" height="807.0" fill="none"/>
<line class="ln" x1="132.50" x2="138.50" y1="73.50" y2="73.50"/>
<line class="ln" x1="1012.50" x2="1018.50" y1="73.50" y2="73.50"/>
<text class="tk" x="126.1" y="78.3" text-anchor="end">07:00:00</text>
<text class="tk" x="1025.3" y="78.3">08:00:00</text>
<line class="ln" x1="132.50" x2="138.50" y1="104.50" y2="104.50"/>
<line class="ln" x1="1012.50" x2="1018.50" y1="104.50" y2="104.50"/>
<text class="tk" x="126.1" y="109.9" text-anchor="end">08:00:00</text>
<text class="tk" x="1025.3" y="109.9">09:00:00</text>
<line class="ln" x1="132.50" x2="138.50" y1="136.50" y2="136.50"/>
<line class="ln" x1="1012.50" x2="1018.50" y1="136.50" y2="136.50"/>
<text class="tk" x="126.1" y="141.4" text-anchor="end">09:00:00</text>
<text class="tk" x="1025.3" y="141.4">10:00:00</text>
<line class="ln" x1="132.50" x2="138.50" y1="167.50" y2="167.50"/>
<line class="ln" x1="1012.50" x2="1018.50" y1="167.50" y2="167.50"/>
<text class="tk" x="126.1" y="173.0" text-anchor="end">10:00:00</text>
<text class="tk" x="1025.3" y="173.0">11:00:00</text>
<line class="ln" x1="132.50" x2="138.50" y1="199.50" y2="199.50"/>
<line class="ln" x1="1012.50" x2="1018.50" y1="199.50" y2="199.50"/>
<text class="tk" x="126.1" y="204.5" text-anchor="end">11:00:00</text>
<text class="tk" x="1025.3" y="204.5">12:00:00</text>
<line class="ln" x1="132.50" x2="138.50" y1="231.50" y2="231.50"/>
<line class="ln" x1="1012.50" x2="1018.50" y1="231.50" y2="231.50"/>
<text class="tk" x="126.1" y="236.0" text-anchor="end">12:00:00</text>
<text class="tk" x="1025.3" y="236.0">13:00:00</text>
<line class="ln" x1="132.50" x2="138.50" y1="262.50" y2="262.50"/>
<line class="ln" x1="1012.50" x2="1018.50" y1="262.50" y2="262.50"/>
<text class="tk" x="126.1" y="267.6" text-anchor="end">13:00:00</text>
<text class="tk" x="1025.3" y="267.6">14:00:00</text>
<line class="ln" x1="132.50" x2="138.50" y1="294.50" y2="294.50"/>
<line class="ln" x1="1012.50" x2="1018.50" y1="294.50" y2="294.50"/>
<text class="tk" x="126.1" y="299.1" text-anchor="end">14:00:00</text>
<text class="tk" x="1025.3" y="299.1">15:00:00</text>
<line class="ln" x1="132.50" x2="138.50" y1="325.50" y2="325.50"/>
<line class="ln" x1="1012.50" x2="1018.50" y1="325.50" y2="325.50"/>
<text class="tk" x="126.1" y="330.7" text-anchor="end">15:00:00</text>
<text class="tk" x="1025.3" y="330.7">16:00:00</text>
<line class="ln" x1="132.50" x2="138.50" y1="357.50" y2="357.50"/>
<line class="ln" x1="1012.50" x2="1018.50" y1="357.50" y2="357.50"/>
<text class="tk" x="126.1" y="362.2" text-anchor="end">16:00:00</text>
<text class="tk" x="1025.3" y="362.2">17:00:00</text>
<line class="ln" x1="132.50" x2="138.50" y1="388.50" y2="388.50"/>
<line class="ln" x1="1012.50" x2="1018.50" y1="388.50" y2="388.50"/>
<text class="tk" x="126.1" y="393.8" text-anchor="end">17:00:00</text>
<text class="tk" x="1025.3" y="393.8">18:00:00</text>
<line class="ln" x1="132.50" x2="138.50" y1="420.50" y2="420.50"/>
<line class="ln" x1="1012.50" x2="1018.50" y1="420.50" y2="420.50"/>
<text class="tk" x="126.1" y="425.3" text-anchor="end">18:00:00</text>
<text class="tk" x="1025.3" y="425.3">19:00:00</text>
<line class="ln" x1="132.50" x2="138.50" y1="451.50" y2="451.50"/>
<line class="ln" x1="1012.50" x2="1018.50" y1="451.50" y2="451.50"/>
<text class="tk" x="126.1" y="456.9" text-anchor="end">19:00:00</text>
<text class="tk" x="1025.3" y="456.9">20:00:00</text>
<line class="ln" x1="132.50" x2="138.50" y1="483.50" y2="483.50"/>
<line class="ln" x1="1012.50" x2="1018.50" y1="483.50" y2="483.50"/>
<text class="tk" x="126.1" y="488.4" text-anchor="end">20:00:00</text>
<text class="tk" x="1025.3" y="488.4">21:00:00</text>
<line class="ln" x1="132.50" x2="138.50" y1="514.50" y2="514.50"/>
<line class="ln" x1="1012.50" x2="1018.50" y1="514.50" y2="514.50"/>
<text class="tk" x="126.1" y="519.9" text-anchor="end">21:00:00</text>
<text class="tk" x="1025.3" y="519.9">22:00:00</text>
<line class="ln" x1="132.50" x2="138.50" y1="546.50" y2="546.50"/>
<line class="ln" x1="1012.50" x2="1018.50" y1="546.50" y2="546.50"/>
<text class="tk" x="126.1" y="551.5" text-anchor="end">22:00:00</text>
<text class="tk" x="1025.3" y="551.5">23:00:00</text>
<line class="ln" x1="132.50" x2="138.50" y1="578.50" y2="578.50"/>
<line class="ln" x1="1012.50" x2="1018.50" y1="578.50" y2="578.50"/>
<text class="tk" x="126.1" y="583.0" text-anchor="end">23:00:00</text>
<text class="tk" x="1025.3" y="583.0">00:00:00</text>
<line class="ln" x1="132.50" x2="138.50" y1="609.50" y2="609.50"/>
<line class="ln" x1="1012.50" x2="1018.50" y1="609.50" y2="609.50"/>
<text class="tk" x="126.1" y="614.6" text-anchor="end">00:00:00</text>
<text class="tk" x="1025.3" y="614.6">01:00:00</text>
<line class="ln" x1="132.50" x2="138.50" y1="641.50" y2="641.50"/>
<line class="ln" x1="1012.50" x2="1018.50" y1="641.50" y2="641.50"/>
<text class="tk" x="126.1" y="646.1" text-anchor="end">01:00:00</text>
<text class="tk" x="1025.3" y="646.1">02:00:00</text>
<line class="ln" x1="132.50" x2="138.50" y1="672.50" y2="672.50"/>
<line class="ln" x1="1012.50" x2="1018.50" y1="672.50" y2="672.50"/>
<text class="tk" x="126.1" y="677.7" text-anchor="end">02:00:00</text>
<text class="tk" x="1025.3" y="677.7">03:00:00</text>
<line class="ln" x1="132.50" x2="138.50" y1="704.50" y2="704.50"/>
<line class="ln" x1="1012.50" x2="1018.50" y1="704.50" y2="704.50"/>
<text class="tk" x="126.1" y="709.2" text-anchor="end">03:00:00</text>
<text class="tk" x="1025.3" y="709.2">04:00:00</text>
<line class="ln" x1="132.50" x2="138.50" y1="735.50" y2="735.50"/>
<line class="ln" x1="1012.50" x2="1018.50" y1="735.50" y2="735.50"/>
<text class="tk" x="126.1" y="740.7" text-anchor="end">04:00:00</text>
<text class="tk" x="1025.3" y="740.7">05:00:00</text>
<line class="ln" x1="132.50" x2="138.50" y1="767.50" y2="767.50"/>
<line class="ln" x1="1012.50" x2="1018.50" y1="767.50" y2="767.50"/>
<text class="tk" x="126.1" y="772.3" text-anchor="end">05:00:00</text>
<text class="tk" x="1025.3" y="772.3">06:00:00</text>
<line class="ln" x1="132.50" x2="138.50" y1="798.50" y2="798.50"/>
<line class="ln" x1="1012.50" x2="1018.50" y1="798.50" y2="798.50"/>
<text class="tk" x="126.1" y="803.8" text-anchor="end">06:00:00</text>
<text class="tk" x="1025.3" y="803.8">07:00:00</text>
<line class="ln" x1="132.50" x2="138.50" y1="830.50" y2="830.50"/>
<line class="ln" x1="1012.50" x2="1018.50" y1="830.50" y2="830.50"/>
<text class="tk" x="126.1" y="835.4" text-anchor="end">07:00:00</text>
<text class="tk" x="1025.3" y="835.4">08:00:00</text>
<line class="ln" x1="138.50" x2="138.50" y1="855.50" y2="861.50"/>
<text class="tk" x="139.2" y="876.8" text-anchor="middle">0</text>
<line class="ln" x1="357.50" x2="357.50" y1="855.50" y2="861.50"/>
<text class="tk" x="356.0" y="876.8" text-anchor="middle">15</text>
<line class="ln" x1="575.50" x2="575.50" y1="855.50" y2="861.50"/>
<text class="tk" x="575.0" y="876.8" text-anchor="middle">30</text>
<line class="ln" x1="794.50" x2="794.50" y1="855.50" y2="861.50"/>
<text class="tk" x="793.5" y="876.8" text-anchor="middle">45</text>
<line class="ln" x1="1012.50" x2="1012.50" y1="855.50" y2="861.50"/>
<text class="tk" x="1011.9" y="876.8" text-anchor="middle">60</text>
<text class="tk" x="575" y="895.3" text-anchor="middle">time in minutes</text>
<text x="575" y="34.1" text-anchor="middle" style="font-size:20px">2026-02-26 BP.JCSB.40.DP1</text>
<text transform="translate(53.2,451.2) rotate(-90)" text-anchor="middle" style="font-size:16.67px">UTC (local time = UTC - 08:00)</text>
</svg></body></html>
